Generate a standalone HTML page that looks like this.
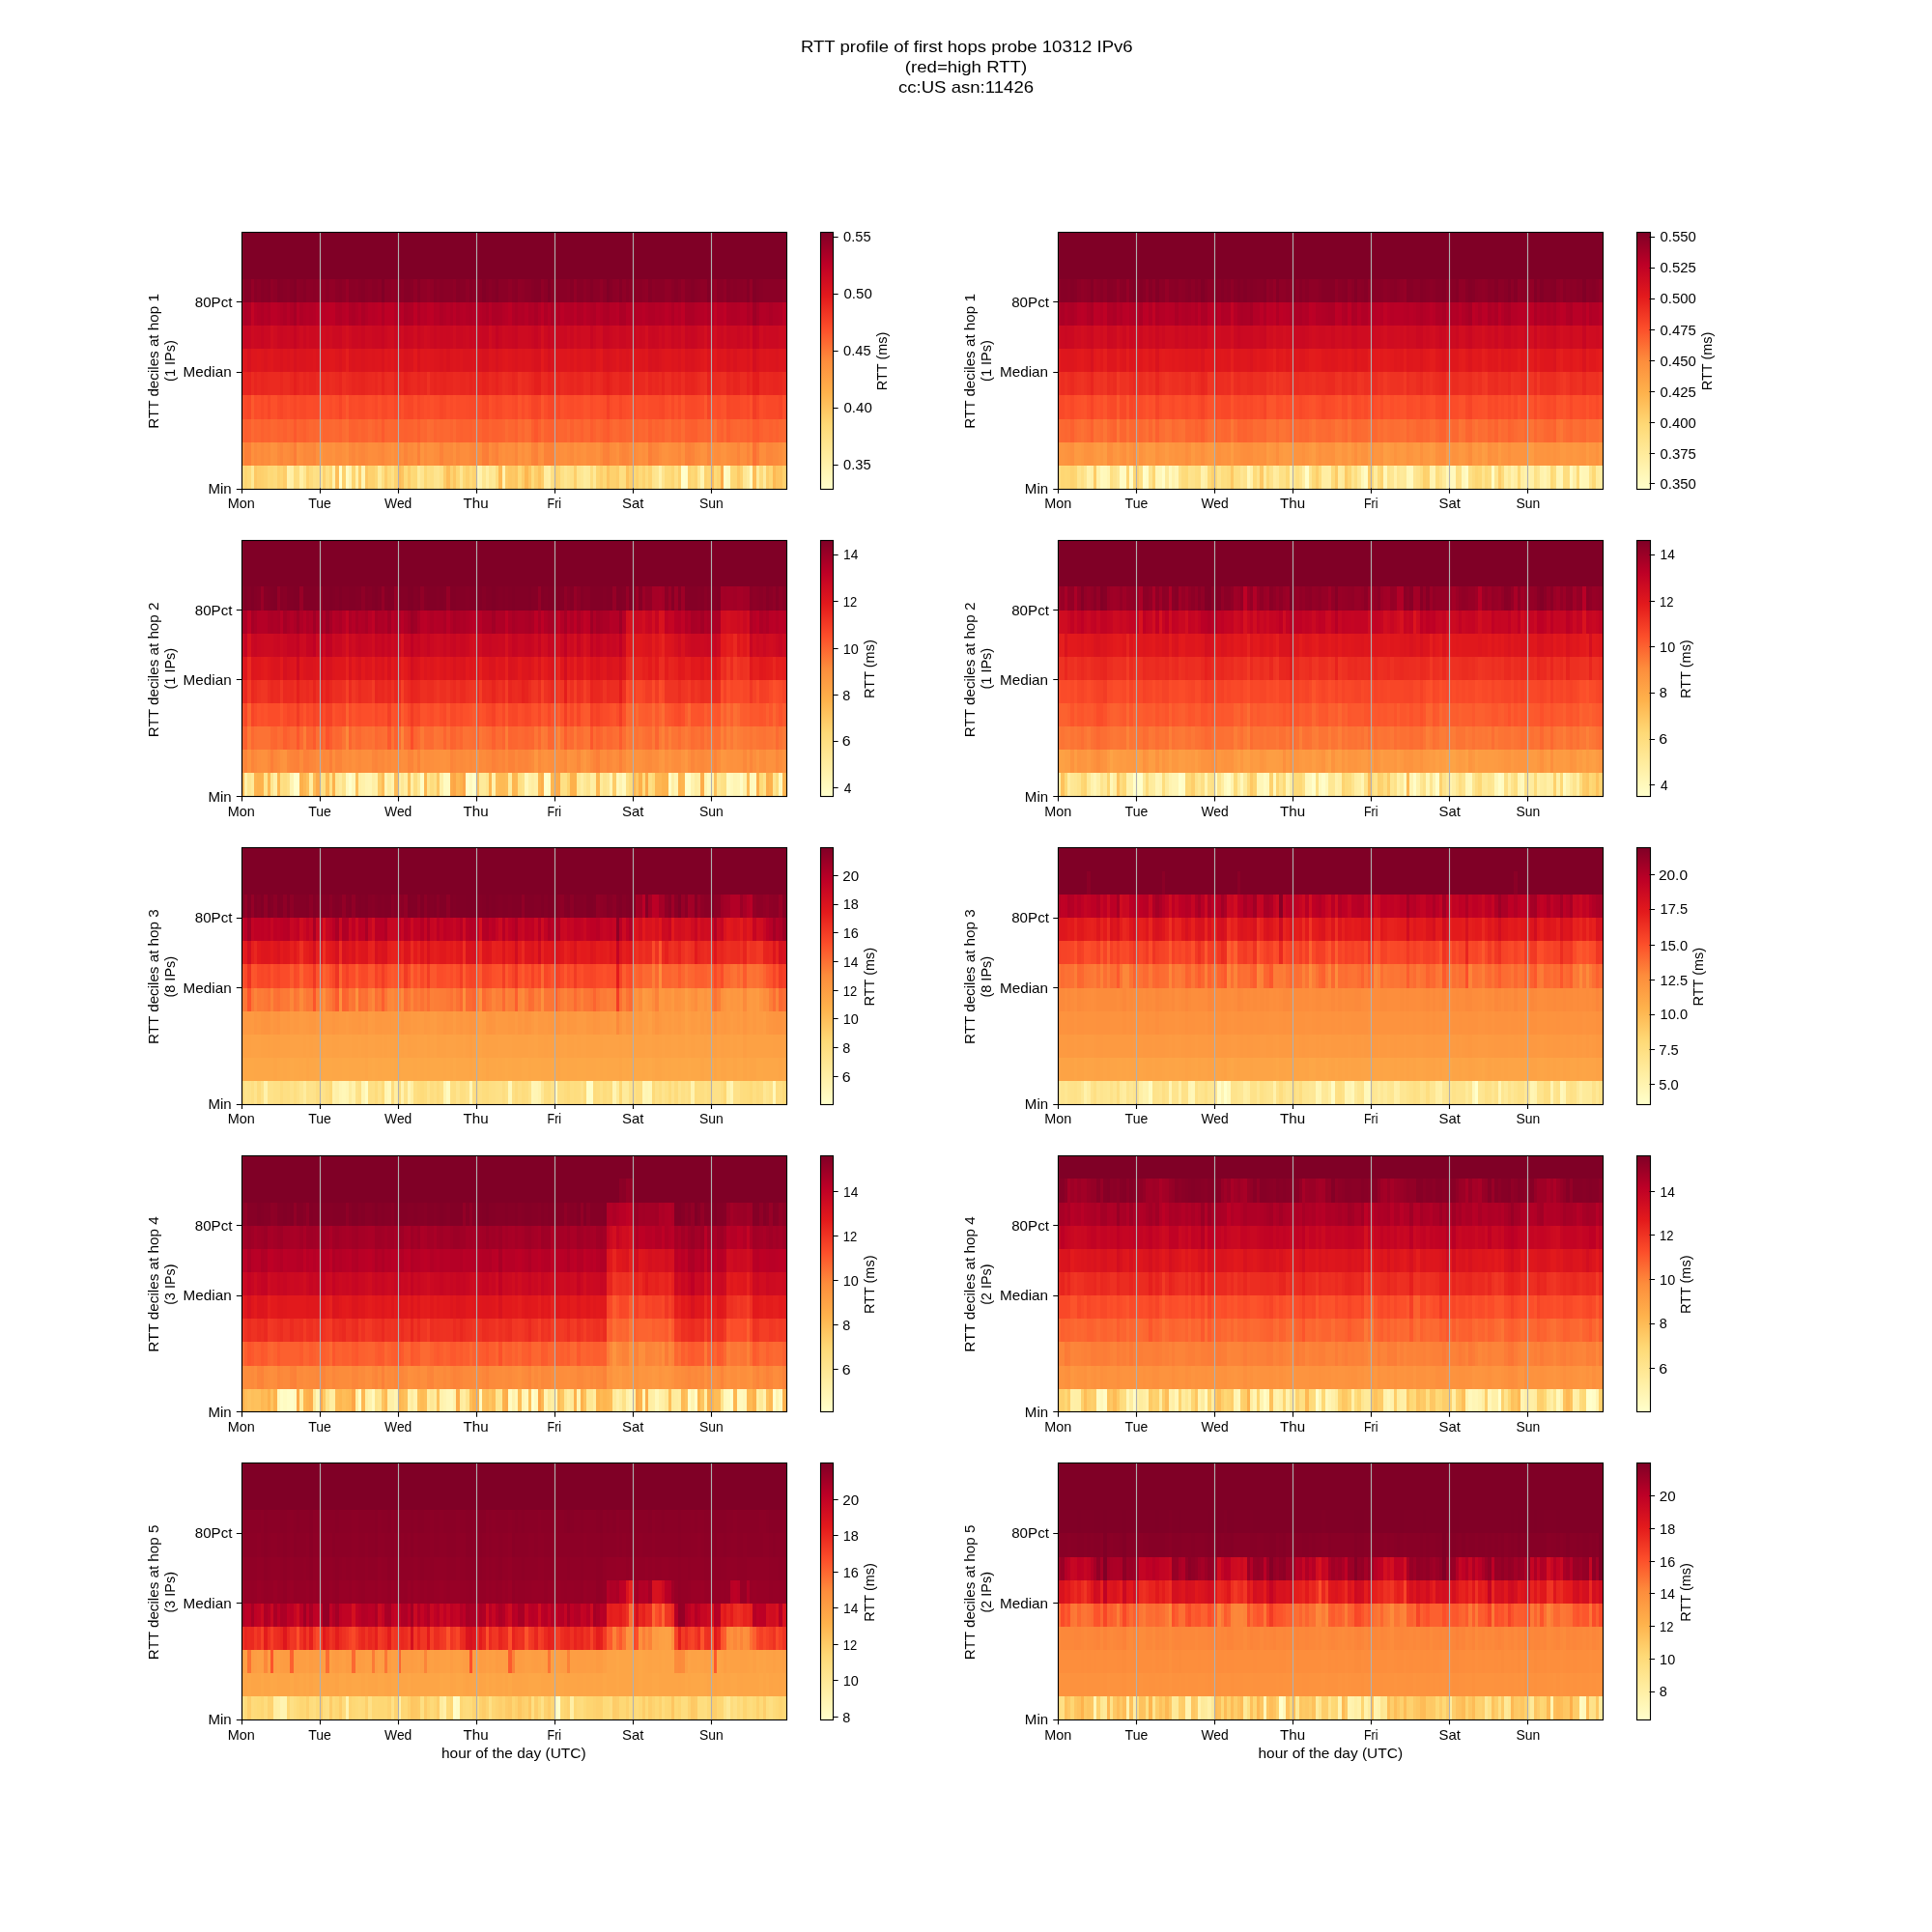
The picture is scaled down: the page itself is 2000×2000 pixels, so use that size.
<!DOCTYPE html><html><head><meta charset="utf-8"><title>RTT profile</title><style>html,body{margin:0;padding:0;background:#fff}svg{display:block}text{font-family:"Liberation Sans",sans-serif;fill:#000}.g{stroke:#b0b0b0;stroke-width:1.11;fill:none}.k{stroke:#000;stroke-width:1.11;fill:none}.c{shape-rendering:crispEdges}</style></head><body>
<svg width="2000" height="2000" viewBox="0 0 2000 2000">
<defs><linearGradient id="cm" x1="0" y1="1" x2="0" y2="0">
<stop offset="0%" stop-color="#ffffcc"/>
<stop offset="12.5%" stop-color="#ffeda0"/>
<stop offset="25%" stop-color="#fed976"/>
<stop offset="37.5%" stop-color="#feb24c"/>
<stop offset="50%" stop-color="#fd8d3c"/>
<stop offset="62.5%" stop-color="#fc4e2a"/>
<stop offset="75%" stop-color="#e31a1c"/>
<stop offset="87.5%" stop-color="#bd0026"/>
<stop offset="100%" stop-color="#800026"/>
</linearGradient></defs>
<rect width="2000" height="2000" fill="#fff"/>
<g class="c">
<path fill="#ffffcc" d="M351 482h3v25h-3zM705 482h4v25h-4z"/>
<path fill="#fffdc9" d="M709 482h3v25h-3z"/>
<path fill="#fffdc7" d="M749 482h3v25h-3z"/>
<path fill="#fffbc3" d="M358 482h3v25h-3z"/>
<path fill="#fffbc2" d="M776 482h3v25h-3z"/>
<path fill="#fff9bf" d="M752 482h4v25h-4z"/>
<path fill="#fff6b7" d="M493 482h3v25h-3z"/>
<path fill="#fff5b5" d="M374 482h4v25h-4z"/>
<path fill="#fff4b1" d="M725 482h4v25h-4z"/>
<path fill="#fff3b0" d="M361 482h3v25h-3zM520 482h3v25h-3z"/>
<path fill="#fff3af" d="M496 482h3v25h-3z"/>
<path fill="#fff2ad" d="M297 482h3v25h-3zM344 482h3v25h-3z"/>
<path fill="#fff2ac" d="M682 482h3v25h-3z"/>
<path fill="#fff0a8" d="M368 482h3v25h-3z"/>
<path fill="#ffefa6" d="M300 482h4v25h-4z"/>
<path fill="#ffefa5" d="M310 482h4v25h-4zM503 482h3v25h-3zM567 482h3v25h-3z"/>
<path fill="#ffeda1" d="M563 482h4v25h-4z"/>
<path fill="#feec9f" d="M773 482h3v25h-3z"/>
<path fill="#feec9e" d="M604 482h3v25h-3z"/>
<path fill="#feeb9d" d="M783 482h3v25h-3zM790 482h3v25h-3z"/>
<path fill="#feeb9b" d="M391 482h4v25h-4zM432 482h3v25h-3z"/>
<path fill="#feea9a" d="M607 482h4v25h-4z"/>
<path fill="#fee997" d="M260 482h3v25h-3zM509 482h4v25h-4zM614 482h3v25h-3z"/>
<path fill="#fee795" d="M769 482h4v25h-4z"/>
<path fill="#fee793" d="M331 482h3v25h-3zM601 482h3v25h-3z"/>
<path fill="#fee692" d="M476 482h3v25h-3zM506 482h3v25h-3z"/>
<path fill="#fee691" d="M314 482h3v25h-3zM499 482h4v25h-4zM584 482h3v25h-3zM678 482h4v25h-4zM722 482h3v25h-3z"/>
<path fill="#fee590" d="M435 482h4v25h-4zM452 482h3v25h-3z"/>
<path fill="#fee48e" d="M597 482h4v25h-4zM685 482h3v25h-3z"/>
<path fill="#fee48d" d="M449 482h3v25h-3zM675 482h3v25h-3z"/>
<path fill="#fee289" d="M587 482h3v25h-3z"/>
<path fill="#fee186" d="M324 482h3v25h-3zM405 482h3v25h-3zM455 482h4v25h-4zM580 482h4v25h-4z"/>
<path fill="#fee085" d="M337 482h4v25h-4zM590 482h4v25h-4zM698 482h4v25h-4z"/>
<path fill="#fedf84" d="M327 482h4v25h-4zM442 482h3v25h-3zM570 482h4v25h-4z"/>
<path fill="#fedf82" d="M641 482h3v25h-3z"/>
<path fill="#fede81" d="M395 482h3v25h-3zM445 482h4v25h-4zM644 482h4v25h-4z"/>
<path fill="#fedd80" d="M250 482h3v25h-3zM307 482h3v25h-3zM513 482h3v25h-3z"/>
<path fill="#fedd7e" d="M611 482h3v25h-3z"/>
<path fill="#fedc7d" d="M304 482h3v25h-3zM668 482h3v25h-3z"/>
<path fill="#fedb7c" d="M283 482h4v25h-4zM320 482h4v25h-4zM786 482h4v25h-4z"/>
<path fill="#fedb7a" d="M256 482h4v25h-4zM550 482h3v25h-3zM688 482h7v25h-7zM739 482h3v25h-3z"/>
<path fill="#feda79" d="M277 482h3v25h-3zM401 482h4v25h-4zM486 482h3v25h-3zM661 482h4v25h-4z"/>
<path fill="#feda78" d="M418 482h4v25h-4zM425 482h3v25h-3z"/>
<path fill="#fed976" d="M280 482h3v25h-3zM536 482h4v25h-4zM715 482h4v25h-4z"/>
<path fill="#fed875" d="M341 482h3v25h-3zM428 482h4v25h-4zM439 482h3v25h-3zM479 482h3v25h-3zM624 482h4v25h-4zM655 482h3v25h-3zM756 482h3v25h-3z"/>
<path fill="#fed774" d="M388 482h3v25h-3zM472 482h4v25h-4zM759 482h4v25h-4zM796 482h4v25h-4z"/>
<path fill="#fed673" d="M253 482h3v25h-3zM732 482h4v25h-4z"/>
<path fill="#fed571" d="M290 482h3v25h-3zM364 482h4v25h-4zM577 482h3v25h-3zM617 482h4v25h-4zM695 482h3v25h-3zM742 482h4v25h-4z"/>
<path fill="#fed370" d="M273 482h4v25h-4zM408 482h4v25h-4zM671 482h4v25h-4zM719 482h3v25h-3z"/>
<path fill="#fed26f" d="M317 482h3v25h-3zM334 482h3v25h-3zM466 482h3v25h-3zM489 482h4v25h-4zM665 482h3v25h-3zM702 482h3v25h-3zM712 482h3v25h-3zM729 482h3v25h-3zM766 482h3v25h-3z"/>
<path fill="#fed16d" d="M287 482h3v25h-3zM354 482h4v25h-4zM381 482h4v25h-4zM574 482h3v25h-3zM631 482h7v25h-7zM658 482h3v25h-3zM810 482h5v25h-5z"/>
<path fill="#fed06c" d="M270 482h3v25h-3zM385 482h3v25h-3zM482 482h4v25h-4z"/>
<path fill="#fece6b" d="M266 482h4v25h-4zM594 482h3v25h-3zM621 482h3v25h-3zM793 482h3v25h-3z"/>
<path fill="#fecd69" d="M553 482h4v25h-4zM560 482h3v25h-3zM651 482h4v25h-4z"/>
<path fill="#fecc68" d="M293 482h4v25h-4zM371 482h3v25h-3zM398 482h3v25h-3zM422 482h3v25h-3zM459 482h3v25h-3zM638 482h3v25h-3z"/>
<path fill="#fecb67" d="M523 482h3v25h-3zM540 482h3v25h-3z"/>
<path fill="#fec864" d="M263 482h3v25h-3zM530 482h3v25h-3zM763 482h3v25h-3z"/>
<path fill="#fec661" d="M378 482h3v25h-3zM526 482h4v25h-4z"/>
<path fill="#fec560" d="M469 482h3v25h-3zM547 482h3v25h-3zM806 482h4v25h-4z"/>
<path fill="#fec35f" d="M415 482h3v25h-3zM533 482h3v25h-3zM628 482h3v25h-3zM803 482h3v25h-3z"/>
<path fill="#fec15c" d="M557 482h3v25h-3z"/>
<path fill="#fec05b" d="M648 482h3v25h-3z"/>
<path fill="#febd58" d="M347 482h4v25h-4z"/>
<path fill="#febc57" d="M736 482h3v25h-3zM779 482h4v25h-4z"/>
<path fill="#febb56" d="M412 482h3v25h-3zM462 482h4v25h-4z"/>
<path fill="#feb853" d="M516 482h4v25h-4zM800 482h3v25h-3z"/>
<path fill="#feb54f" d="M543 482h4v25h-4z"/>
<path fill="#fda948" d="M746 482h3v25h-3z"/>
<path fill="#fd9941" d="M331 458h3v24h-3z"/>
<path fill="#fd953f" d="M358 458h3v24h-3zM435 458h4v24h-4z"/>
<path fill="#fd943f" d="M280 458h3v24h-3zM405 458h3v24h-3zM536 458h4v24h-4zM543 458h4v24h-4zM749 458h3v24h-3zM810 458h5v24h-5z"/>
<path fill="#fd933e" d="M344 458h3v24h-3zM604 458h3v24h-3zM638 458h3v24h-3zM688 458h4v24h-4zM725 458h4v24h-4zM746 458h3v24h-3z"/>
<path fill="#fd923e" d="M283 458h4v24h-4zM307 458h3v24h-3zM442 458h7v24h-7zM560 458h3v24h-3zM594 458h3v24h-3zM617 458h4v24h-4zM661 458h4v24h-4zM668 458h3v24h-3zM685 458h3v24h-3zM729 458h3v24h-3zM736 458h3v24h-3z"/>
<path fill="#fd913d" d="M260 458h3v24h-3zM327 458h4v24h-4zM334 458h3v24h-3zM354 458h4v24h-4zM469 458h3v24h-3zM520 458h3v24h-3zM547 458h3v24h-3zM584 458h3v24h-3zM601 458h3v24h-3zM705 458h4v24h-4z"/>
<path fill="#fd8f3d" d="M337 458h7v24h-7zM401 458h4v24h-4zM408 458h4v24h-4zM428 458h4v24h-4zM526 458h4v24h-4zM557 458h3v24h-3zM574 458h3v24h-3zM580 458h4v24h-4zM692 458h3v24h-3zM739 458h3v24h-3zM766 458h3v24h-3z"/>
<path fill="#fd8e3c" d="M266 458h4v24h-4zM273 458h4v24h-4zM310 458h4v24h-4zM381 458h4v24h-4zM415 458h3v24h-3zM449 458h3v24h-3zM482 458h4v24h-4zM530 458h3v24h-3zM540 458h3v24h-3zM614 458h3v24h-3zM658 458h3v24h-3zM665 458h3v24h-3zM752 458h4v24h-4zM769 458h4v24h-4zM776 458h3v24h-3zM786 458h7v24h-7zM806 458h4v24h-4z"/>
<path fill="#fd8d3c" d="M293 458h4v24h-4zM347 458h7v24h-7zM368 458h3v24h-3zM385 458h6v24h-6zM398 458h3v24h-3zM439 458h3v24h-3zM452 458h3v24h-3zM476 458h6v24h-6zM506 458h3v24h-3zM516 458h4v24h-4zM523 458h3v24h-3zM577 458h3v24h-3zM587 458h3v24h-3zM597 458h4v24h-4zM607 458h7v24h-7zM634 458h4v24h-4zM651 458h4v24h-4zM682 458h3v24h-3zM695 458h7v24h-7zM722 458h3v24h-3zM742 458h4v24h-4z"/>
<path fill="#fc8c3b" d="M250 458h3v24h-3zM277 458h3v24h-3zM297 458h3v24h-3zM422 458h3v24h-3zM459 458h7v24h-7zM493 458h6v24h-6zM621 458h3v24h-3zM631 458h3v24h-3zM719 458h3v24h-3zM756 458h7v24h-7z"/>
<path fill="#fc8a3b" d="M263 458h3v24h-3zM270 458h3v24h-3zM287 458h3v24h-3zM317 458h7v24h-7zM361 458h3v24h-3zM378 458h3v24h-3zM391 458h4v24h-4zM412 458h3v24h-3zM425 458h3v24h-3zM466 458h3v24h-3zM590 458h4v24h-4zM655 458h3v24h-3zM800 458h6v24h-6z"/>
<path fill="#fc883a" d="M300 458h4v24h-4zM314 458h3v24h-3zM371 458h3v24h-3zM472 458h4v24h-4zM486 458h3v24h-3zM641 458h3v24h-3zM702 458h3v24h-3z"/>
<path fill="#fc863a" d="M290 458h3v24h-3zM324 458h3v24h-3zM364 458h4v24h-4zM374 458h4v24h-4zM395 458h3v24h-3zM489 458h4v24h-4zM509 458h4v24h-4zM533 458h3v24h-3zM648 458h3v24h-3zM675 458h7v24h-7zM732 458h4v24h-4zM793 458h7v24h-7z"/>
<path fill="#fc8439" d="M418 458h4v24h-4zM550 458h3v24h-3zM644 458h4v24h-4zM715 458h4v24h-4zM763 458h3v24h-3zM773 458h3v24h-3z"/>
<path fill="#fc8238" d="M455 458h4v24h-4zM563 458h11v24h-11zM624 458h4v24h-4zM709 458h3v24h-3z"/>
<path fill="#fc8038" d="M253 458h7v24h-7zM432 458h3v24h-3zM513 458h3v24h-3zM553 458h4v24h-4zM628 458h3v24h-3zM712 458h3v24h-3z"/>
<path fill="#fc7e37" d="M499 458h4v24h-4zM671 458h4v24h-4z"/>
<path fill="#fc7c37" d="M304 458h3v24h-3zM503 458h3v24h-3zM783 458h3v24h-3z"/>
<path fill="#fc7234" d="M739 434h3v24h-3z"/>
<path fill="#fc7033" d="M779 458h4v24h-4zM358 434h3v24h-3z"/>
<path fill="#fc6e33" d="M331 434h3v24h-3zM442 434h3v24h-3zM543 434h4v24h-4z"/>
<path fill="#fc6c32" d="M354 434h4v24h-4zM445 434h4v24h-4zM523 434h3v24h-3zM536 434h4v24h-4zM547 434h3v24h-3zM560 434h3v24h-3zM692 434h3v24h-3zM705 434h4v24h-4zM736 434h3v24h-3z"/>
<path fill="#fc6a32" d="M260 434h3v24h-3zM344 434h3v24h-3zM381 434h4v24h-4zM469 434h3v24h-3zM587 434h3v24h-3zM634 434h4v24h-4zM668 434h3v24h-3zM688 434h4v24h-4zM749 434h3v24h-3z"/>
<path fill="#fc6831" d="M280 434h3v24h-3zM320 434h4v24h-4zM327 434h4v24h-4zM341 434h3v24h-3zM347 434h4v24h-4zM401 434h7v24h-7zM435 434h4v24h-4zM452 434h3v24h-3zM459 434h7v24h-7zM594 434h3v24h-3zM604 434h7v24h-7zM617 434h4v24h-4zM638 434h3v24h-3zM648 434h7v24h-7zM661 434h4v24h-4zM729 434h3v24h-3zM763 434h3v24h-3zM810 434h5v24h-5z"/>
<path fill="#fc6630" d="M266 434h4v24h-4zM283 434h4v24h-4zM297 434h3v24h-3zM324 434h3v24h-3zM334 434h7v24h-7zM371 434h3v24h-3zM385 434h3v24h-3zM391 434h4v24h-4zM398 434h3v24h-3zM408 434h4v24h-4zM428 434h4v24h-4zM439 434h3v24h-3zM455 434h4v24h-4zM526 434h7v24h-7zM540 434h3v24h-3zM577 434h7v24h-7zM597 434h4v24h-4zM655 434h3v24h-3zM665 434h3v24h-3zM675 434h3v24h-3zM682 434h3v24h-3zM698 434h4v24h-4zM722 434h7v24h-7zM759 434h4v24h-4zM769 434h4v24h-4zM776 434h3v24h-3zM806 434h4v24h-4z"/>
<path fill="#fc6430" d="M250 434h3v24h-3zM263 434h3v24h-3zM273 434h4v24h-4zM290 434h3v24h-3zM300 434h4v24h-4zM307 434h3v24h-3zM317 434h3v24h-3zM351 434h3v24h-3zM378 434h3v24h-3zM449 434h3v24h-3zM466 434h3v24h-3zM489 434h10v24h-10zM506 434h3v24h-3zM520 434h3v24h-3zM584 434h3v24h-3zM621 434h3v24h-3zM631 434h3v24h-3zM644 434h4v24h-4zM658 434h3v24h-3zM732 434h4v24h-4zM742 434h4v24h-4zM756 434h3v24h-3zM766 434h3v24h-3zM790 434h6v24h-6zM800 434h3v24h-3z"/>
<path fill="#fc622f" d="M277 434h3v24h-3zM287 434h3v24h-3zM310 434h4v24h-4zM361 434h3v24h-3zM368 434h3v24h-3zM374 434h4v24h-4zM412 434h6v24h-6zM422 434h6v24h-6zM472 434h4v24h-4zM479 434h7v24h-7zM516 434h4v24h-4zM563 434h4v24h-4zM574 434h3v24h-3zM614 434h3v24h-3zM641 434h3v24h-3zM678 434h4v24h-4zM685 434h3v24h-3zM695 434h3v24h-3zM702 434h3v24h-3z"/>
<path fill="#fc602f" d="M256 434h4v24h-4zM270 434h3v24h-3zM293 434h4v24h-4zM364 434h4v24h-4zM388 434h3v24h-3zM418 434h4v24h-4zM476 434h3v24h-3zM486 434h3v24h-3zM509 434h7v24h-7zM533 434h3v24h-3zM557 434h3v24h-3zM567 434h7v24h-7zM590 434h4v24h-4zM601 434h3v24h-3zM709 434h6v24h-6zM746 434h3v24h-3zM773 434h3v24h-3zM786 434h4v24h-4zM796 434h4v24h-4zM803 434h3v24h-3z"/>
<path fill="#fc5e2e" d="M253 434h3v24h-3zM314 434h3v24h-3zM432 434h3v24h-3zM499 434h7v24h-7zM550 434h3v24h-3zM624 434h4v24h-4zM671 434h4v24h-4zM715 434h7v24h-7z"/>
<path fill="#fc5c2e" d="M611 434h3v24h-3zM752 434h4v24h-4z"/>
<path fill="#fc5a2d" d="M395 434h3v24h-3zM628 434h3v24h-3zM779 434h4v24h-4zM260 409h3v25h-3z"/>
<path fill="#fc582d" d="M304 434h3v24h-3zM783 434h3v24h-3zM358 409h3v25h-3zM729 409h3v25h-3z"/>
<path fill="#fc562c" d="M553 434h4v24h-4zM560 409h3v25h-3z"/>
<path fill="#fc542b" d="M536 409h4v25h-4zM604 409h3v25h-3zM705 409h4v25h-4zM749 409h3v25h-3z"/>
<path fill="#fc522b" d="M543 409h4v25h-4zM580 409h4v25h-4zM607 409h4v25h-4zM692 409h3v25h-3zM698 409h4v25h-4zM746 409h3v25h-3zM776 409h3v25h-3z"/>
<path fill="#fc502a" d="M280 409h7v25h-7zM331 409h6v25h-6zM344 409h3v25h-3zM391 409h4v25h-4zM415 409h3v25h-3zM445 409h4v25h-4zM506 409h3v25h-3zM523 409h3v25h-3zM617 409h4v25h-4zM651 409h4v25h-4zM668 409h3v25h-3zM739 409h3v25h-3z"/>
<path fill="#fc4e2a" d="M266 409h4v25h-4zM273 409h4v25h-4zM297 409h3v25h-3zM337 409h4v25h-4zM354 409h4v25h-4zM381 409h4v25h-4zM401 409h7v25h-7zM428 409h4v25h-4zM439 409h3v25h-3zM462 409h4v25h-4zM469 409h3v25h-3zM520 409h3v25h-3zM526 409h4v25h-4zM574 409h3v25h-3zM584 409h3v25h-3zM594 409h3v25h-3zM601 409h3v25h-3zM614 409h3v25h-3zM621 409h3v25h-3zM634 409h7v25h-7zM648 409h3v25h-3zM658 409h7v25h-7zM688 409h4v25h-4zM736 409h3v25h-3zM786 409h4v25h-4zM810 409h5v25h-5z"/>
<path fill="#fb4c29" d="M250 409h3v25h-3zM263 409h3v25h-3zM307 409h3v25h-3zM317 409h7v25h-7zM347 409h4v25h-4zM368 409h3v25h-3zM378 409h3v25h-3zM385 409h3v25h-3zM442 409h3v25h-3zM449 409h6v25h-6zM476 409h6v25h-6zM493 409h3v25h-3zM547 409h3v25h-3zM563 409h4v25h-4zM587 409h3v25h-3zM597 409h4v25h-4zM624 409h4v25h-4zM644 409h4v25h-4zM665 409h3v25h-3zM725 409h4v25h-4zM742 409h4v25h-4zM769 409h4v25h-4z"/>
<path fill="#fa4b29" d="M293 409h4v25h-4zM300 409h4v25h-4zM324 409h7v25h-7zM341 409h3v25h-3zM364 409h4v25h-4zM435 409h4v25h-4zM466 409h3v25h-3zM472 409h4v25h-4zM482 409h4v25h-4zM496 409h3v25h-3zM509 409h4v25h-4zM530 409h3v25h-3zM540 409h3v25h-3zM590 409h4v25h-4zM611 409h3v25h-3zM631 409h3v25h-3zM671 409h11v25h-11zM722 409h3v25h-3zM766 409h3v25h-3zM790 409h3v25h-3z"/>
<path fill="#f94928" d="M253 409h3v25h-3zM270 409h3v25h-3zM310 409h4v25h-4zM361 409h3v25h-3zM371 409h3v25h-3zM395 409h6v25h-6zM408 409h7v25h-7zM459 409h3v25h-3zM486 409h7v25h-7zM516 409h4v25h-4zM695 409h3v25h-3zM702 409h3v25h-3zM709 409h6v25h-6zM719 409h3v25h-3zM756 409h3v25h-3zM803 409h3v25h-3z"/>
<path fill="#f94828" d="M287 409h3v25h-3zM314 409h3v25h-3zM374 409h4v25h-4zM388 409h3v25h-3zM418 409h4v25h-4zM533 409h3v25h-3zM577 409h3v25h-3zM655 409h3v25h-3zM682 409h3v25h-3zM715 409h4v25h-4zM759 409h7v25h-7zM773 409h3v25h-3zM793 409h10v25h-10z"/>
<path fill="#f84627" d="M256 409h4v25h-4zM277 409h3v25h-3zM290 409h3v25h-3zM304 409h3v25h-3zM422 409h6v25h-6zM432 409h3v25h-3zM455 409h4v25h-4zM499 409h4v25h-4zM513 409h3v25h-3zM557 409h3v25h-3zM567 409h7v25h-7zM641 409h3v25h-3zM685 409h3v25h-3zM752 409h4v25h-4z"/>
<path fill="#f74427" d="M351 409h3v25h-3zM503 409h3v25h-3zM550 409h3v25h-3zM732 409h4v25h-4zM783 409h3v25h-3zM806 409h4v25h-4z"/>
<path fill="#f64327" d="M553 409h4v25h-4z"/>
<path fill="#f53f26" d="M628 409h3v25h-3z"/>
<path fill="#f33c25" d="M779 409h4v25h-4z"/>
<path fill="#ee3222" d="M442 385h3v24h-3zM729 385h3v24h-3z"/>
<path fill="#ee3122" d="M536 385h4v24h-4z"/>
<path fill="#ed2f21" d="M354 385h4v24h-4zM520 385h3v24h-3zM668 385h3v24h-3zM725 385h4v24h-4zM746 385h6v24h-6z"/>
<path fill="#ec2d21" d="M331 385h3v24h-3zM341 385h3v24h-3zM391 385h4v24h-4zM401 385h7v24h-7zM523 385h3v24h-3zM543 385h4v24h-4zM604 385h3v24h-3zM688 385h7v24h-7zM705 385h4v24h-4z"/>
<path fill="#eb2c20" d="M260 385h3v24h-3zM293 385h7v24h-7zM334 385h3v24h-3zM344 385h3v24h-3zM358 385h3v24h-3zM398 385h3v24h-3zM540 385h3v24h-3zM560 385h3v24h-3zM574 385h3v24h-3zM580 385h4v24h-4zM607 385h4v24h-4zM617 385h4v24h-4zM682 385h3v24h-3zM722 385h3v24h-3zM739 385h7v24h-7zM766 385h7v24h-7zM810 385h5v24h-5z"/>
<path fill="#eb2a20" d="M280 385h10v24h-10zM310 385h4v24h-4zM385 385h3v24h-3zM428 385h4v24h-4zM469 385h3v24h-3zM506 385h3v24h-3zM526 385h4v24h-4zM638 385h3v24h-3z"/>
<path fill="#ea2920" d="M266 385h4v24h-4zM277 385h3v24h-3zM317 385h3v24h-3zM327 385h4v24h-4zM337 385h4v24h-4zM347 385h4v24h-4zM361 385h3v24h-3zM381 385h4v24h-4zM415 385h3v24h-3zM425 385h3v24h-3zM435 385h4v24h-4zM472 385h4v24h-4zM482 385h4v24h-4zM516 385h4v24h-4zM547 385h3v24h-3zM563 385h4v24h-4zM584 385h3v24h-3zM594 385h3v24h-3zM614 385h3v24h-3zM621 385h3v24h-3zM634 385h4v24h-4zM651 385h4v24h-4zM661 385h7v24h-7zM675 385h3v24h-3zM698 385h4v24h-4zM736 385h3v24h-3zM756 385h3v24h-3zM776 385h3v24h-3zM786 385h4v24h-4zM793 385h3v24h-3z"/>
<path fill="#e9271f" d="M273 385h4v24h-4zM290 385h3v24h-3zM300 385h4v24h-4zM368 385h3v24h-3zM378 385h3v24h-3zM388 385h3v24h-3zM439 385h3v24h-3zM445 385h4v24h-4zM452 385h3v24h-3zM462 385h7v24h-7zM476 385h6v24h-6zM489 385h4v24h-4zM496 385h3v24h-3zM509 385h4v24h-4zM533 385h3v24h-3zM587 385h3v24h-3zM601 385h3v24h-3zM655 385h6v24h-6zM678 385h4v24h-4zM719 385h3v24h-3zM790 385h3v24h-3zM796 385h4v24h-4zM806 385h4v24h-4z"/>
<path fill="#e8251f" d="M263 385h3v24h-3zM270 385h3v24h-3zM307 385h3v24h-3zM314 385h3v24h-3zM320 385h7v24h-7zM351 385h3v24h-3zM364 385h4v24h-4zM371 385h3v24h-3zM408 385h7v24h-7zM422 385h3v24h-3zM432 385h3v24h-3zM455 385h4v24h-4zM493 385h3v24h-3zM530 385h3v24h-3zM550 385h3v24h-3zM570 385h4v24h-4zM577 385h3v24h-3zM590 385h4v24h-4zM597 385h4v24h-4zM644 385h7v24h-7zM671 385h4v24h-4zM695 385h3v24h-3zM702 385h3v24h-3zM712 385h3v24h-3zM752 385h4v24h-4zM763 385h3v24h-3zM800 385h6v24h-6z"/>
<path fill="#e7241e" d="M250 385h6v24h-6zM374 385h4v24h-4zM395 385h3v24h-3zM449 385h3v24h-3zM459 385h3v24h-3zM486 385h3v24h-3zM503 385h3v24h-3zM611 385h3v24h-3zM631 385h3v24h-3zM641 385h3v24h-3zM685 385h3v24h-3zM709 385h3v24h-3zM715 385h4v24h-4zM759 385h4v24h-4z"/>
<path fill="#e7221e" d="M256 385h4v24h-4zM499 385h4v24h-4zM513 385h3v24h-3zM567 385h3v24h-3zM624 385h4v24h-4zM732 385h4v24h-4zM773 385h3v24h-3z"/>
<path fill="#e6201d" d="M418 385h4v24h-4z"/>
<path fill="#e51f1d" d="M304 385h3v24h-3zM553 385h7v24h-7zM358 361h3v24h-3z"/>
<path fill="#e41d1c" d="M628 385h3v24h-3zM779 385h4v24h-4z"/>
<path fill="#e31c1c" d="M783 385h3v24h-3z"/>
<path fill="#e31a1c" d="M560 361h3v24h-3zM729 361h3v24h-3z"/>
<path fill="#e2191c" d="M428 361h4v24h-4zM621 361h3v24h-3zM739 361h3v24h-3z"/>
<path fill="#e0181c" d="M280 361h3v24h-3zM341 361h6v24h-6zM398 361h3v24h-3zM405 361h3v24h-3zM523 361h3v24h-3zM594 361h3v24h-3zM638 361h3v24h-3zM725 361h4v24h-4zM776 361h3v24h-3z"/>
<path fill="#df171c" d="M266 361h4v24h-4zM354 361h4v24h-4zM435 361h4v24h-4zM442 361h3v24h-3zM520 361h3v24h-3zM587 361h3v24h-3zM604 361h3v24h-3zM617 361h4v24h-4zM655 361h3v24h-3zM668 361h3v24h-3zM688 361h7v24h-7zM705 361h4v24h-4zM749 361h3v24h-3z"/>
<path fill="#de161d" d="M250 361h6v24h-6zM260 361h3v24h-3zM277 361h3v24h-3zM324 361h3v24h-3zM331 361h3v24h-3zM337 361h4v24h-4zM391 361h4v24h-4zM401 361h4v24h-4zM439 361h3v24h-3zM445 361h4v24h-4zM526 361h4v24h-4zM574 361h3v24h-3zM580 361h4v24h-4zM601 361h3v24h-3zM607 361h4v24h-4zM658 361h3v24h-3zM736 361h3v24h-3zM766 361h7v24h-7zM793 361h3v24h-3z"/>
<path fill="#dd161d" d="M263 361h3v24h-3zM270 361h3v24h-3zM300 361h4v24h-4zM334 361h3v24h-3zM347 361h4v24h-4zM381 361h4v24h-4zM388 361h3v24h-3zM415 361h3v24h-3zM469 361h3v24h-3zM476 361h3v24h-3zM506 361h3v24h-3zM536 361h4v24h-4zM543 361h7v24h-7zM577 361h3v24h-3zM584 361h3v24h-3zM651 361h4v24h-4zM661 361h4v24h-4zM685 361h3v24h-3zM698 361h4v24h-4zM722 361h3v24h-3zM746 361h3v24h-3zM756 361h3v24h-3zM763 361h3v24h-3zM786 361h4v24h-4zM806 361h9v24h-9z"/>
<path fill="#dc151d" d="M283 361h7v24h-7zM293 361h4v24h-4zM307 361h3v24h-3zM317 361h7v24h-7zM327 361h4v24h-4zM361 361h3v24h-3zM368 361h6v24h-6zM378 361h3v24h-3zM385 361h3v24h-3zM408 361h7v24h-7zM449 361h6v24h-6zM459 361h3v24h-3zM466 361h3v24h-3zM472 361h4v24h-4zM489 361h7v24h-7zM509 361h4v24h-4zM516 361h4v24h-4zM530 361h3v24h-3zM540 361h3v24h-3zM563 361h4v24h-4zM590 361h4v24h-4zM597 361h4v24h-4zM634 361h4v24h-4zM644 361h4v24h-4zM665 361h3v24h-3zM695 361h3v24h-3zM719 361h3v24h-3zM732 361h4v24h-4zM742 361h4v24h-4zM790 361h3v24h-3zM796 361h7v24h-7z"/>
<path fill="#da141e" d="M273 361h4v24h-4zM297 361h3v24h-3zM310 361h7v24h-7zM351 361h3v24h-3zM364 361h4v24h-4zM374 361h4v24h-4zM422 361h6v24h-6zM479 361h10v24h-10zM496 361h3v24h-3zM533 361h3v24h-3zM550 361h3v24h-3zM570 361h4v24h-4zM614 361h3v24h-3zM631 361h3v24h-3zM641 361h3v24h-3zM648 361h3v24h-3zM682 361h3v24h-3zM702 361h3v24h-3zM712 361h3v24h-3zM773 361h3v24h-3zM803 361h3v24h-3z"/>
<path fill="#d9131e" d="M290 361h3v24h-3zM395 361h3v24h-3zM418 361h4v24h-4zM455 361h4v24h-4zM611 361h3v24h-3zM624 361h4v24h-4zM675 361h3v24h-3zM709 361h3v24h-3zM715 361h4v24h-4zM752 361h4v24h-4zM759 361h4v24h-4zM783 361h3v24h-3z"/>
<path fill="#d8121e" d="M432 361h3v24h-3zM462 361h4v24h-4zM553 361h7v24h-7zM678 361h4v24h-4z"/>
<path fill="#d7121f" d="M256 361h4v24h-4zM304 361h3v24h-3zM499 361h7v24h-7zM513 361h3v24h-3zM628 361h3v24h-3zM671 361h4v24h-4z"/>
<path fill="#d6111f" d="M567 361h3v24h-3z"/>
<path fill="#d4101f" d="M358 337h3v24h-3zM560 337h3v24h-3z"/>
<path fill="#d30f20" d="M779 361h4v24h-4zM280 337h3v24h-3zM668 337h3v24h-3zM729 337h3v24h-3z"/>
<path fill="#d20e20" d="M739 337h3v24h-3z"/>
<path fill="#d10d20" d="M331 337h3v24h-3zM354 337h4v24h-4zM439 337h3v24h-3zM594 337h3v24h-3zM776 337h3v24h-3z"/>
<path fill="#d00d20" d="M334 337h3v24h-3zM341 337h3v24h-3zM405 337h3v24h-3zM428 337h4v24h-4zM506 337h3v24h-3zM621 337h3v24h-3zM688 337h4v24h-4zM705 337h4v24h-4zM749 337h3v24h-3z"/>
<path fill="#cf0c21" d="M283 337h4v24h-4zM310 337h4v24h-4zM317 337h3v24h-3zM361 337h3v24h-3zM401 337h4v24h-4zM415 337h3v24h-3zM442 337h3v24h-3zM469 337h3v24h-3zM587 337h3v24h-3zM601 337h10v24h-10zM617 337h4v24h-4zM638 337h3v24h-3zM682 337h3v24h-3zM692 337h3v24h-3zM786 337h4v24h-4z"/>
<path fill="#cd0b21" d="M260 337h3v24h-3zM327 337h4v24h-4zM337 337h4v24h-4zM378 337h7v24h-7zM435 337h4v24h-4zM482 337h4v24h-4zM520 337h3v24h-3zM536 337h11v24h-11zM574 337h3v24h-3zM634 337h4v24h-4zM648 337h7v24h-7zM658 337h3v24h-3zM665 337h3v24h-3zM722 337h7v24h-7zM736 337h3v24h-3zM769 337h4v24h-4zM806 337h9v24h-9z"/>
<path fill="#cc0a21" d="M297 337h3v24h-3zM320 337h7v24h-7zM344 337h7v24h-7zM371 337h3v24h-3zM398 337h3v24h-3zM445 337h4v24h-4zM452 337h3v24h-3zM479 337h3v24h-3zM523 337h3v24h-3zM547 337h3v24h-3zM563 337h4v24h-4zM580 337h4v24h-4zM597 337h4v24h-4zM661 337h4v24h-4zM698 337h4v24h-4zM742 337h4v24h-4zM756 337h7v24h-7zM793 337h3v24h-3z"/>
<path fill="#cb0922" d="M263 337h3v24h-3zM273 337h7v24h-7zM293 337h4v24h-4zM300 337h4v24h-4zM307 337h3v24h-3zM351 337h3v24h-3zM364 337h7v24h-7zM385 337h3v24h-3zM391 337h4v24h-4zM408 337h7v24h-7zM422 337h6v24h-6zM459 337h3v24h-3zM466 337h3v24h-3zM493 337h3v24h-3zM526 337h4v24h-4zM577 337h3v24h-3zM584 337h3v24h-3zM590 337h4v24h-4zM614 337h3v24h-3zM631 337h3v24h-3zM685 337h3v24h-3zM732 337h4v24h-4zM746 337h3v24h-3zM766 337h3v24h-3zM796 337h7v24h-7z"/>
<path fill="#ca0922" d="M266 337h4v24h-4zM287 337h3v24h-3zM314 337h3v24h-3zM388 337h3v24h-3zM455 337h4v24h-4zM462 337h4v24h-4zM472 337h7v24h-7zM489 337h4v24h-4zM509 337h4v24h-4zM557 337h3v24h-3zM570 337h4v24h-4zM641 337h7v24h-7zM671 337h4v24h-4zM678 337h4v24h-4zM702 337h3v24h-3zM752 337h4v24h-4zM790 337h3v24h-3zM803 337h3v24h-3z"/>
<path fill="#c90822" d="M250 337h3v24h-3zM290 337h3v24h-3zM374 337h4v24h-4zM418 337h4v24h-4zM432 337h3v24h-3zM449 337h3v24h-3zM486 337h3v24h-3zM496 337h3v24h-3zM516 337h4v24h-4zM530 337h3v24h-3zM550 337h3v24h-3zM655 337h3v24h-3zM675 337h3v24h-3zM695 337h3v24h-3zM712 337h3v24h-3zM719 337h3v24h-3zM763 337h3v24h-3zM773 337h3v24h-3z"/>
<path fill="#c70723" d="M253 337h7v24h-7zM270 337h3v24h-3zM395 337h3v24h-3zM499 337h7v24h-7zM533 337h3v24h-3zM567 337h3v24h-3zM624 337h7v24h-7zM709 337h3v24h-3zM715 337h4v24h-4z"/>
<path fill="#c60623" d="M553 337h4v24h-4zM611 337h3v24h-3zM783 337h3v24h-3z"/>
<path fill="#c50523" d="M304 337h3v24h-3z"/>
<path fill="#c30424" d="M513 337h3v24h-3zM779 337h4v24h-4zM260 313h3v24h-3z"/>
<path fill="#c10324" d="M739 313h3v24h-3z"/>
<path fill="#bf0125" d="M749 313h3v24h-3z"/>
<path fill="#be0025" d="M341 313h6v24h-6zM405 313h3v24h-3zM445 313h4v24h-4zM705 313h4v24h-4z"/>
<path fill="#bd0025" d="M391 313h4v24h-4zM398 313h7v24h-7zM428 313h4v24h-4zM442 313h3v24h-3zM526 313h4v24h-4zM560 313h3v24h-3zM810 313h5v24h-5z"/>
<path fill="#bb0026" d="M280 313h7v24h-7zM327 313h7v24h-7zM337 313h4v24h-4zM358 313h3v24h-3zM493 313h3v24h-3zM580 313h4v24h-4zM594 313h3v24h-3zM604 313h3v24h-3zM688 313h4v24h-4z"/>
<path fill="#b90026" d="M307 313h3v24h-3zM334 313h3v24h-3zM381 313h4v24h-4zM388 313h3v24h-3zM435 313h4v24h-4zM469 313h3v24h-3zM574 313h3v24h-3zM617 313h4v24h-4zM638 313h3v24h-3zM665 313h3v24h-3zM698 313h4v24h-4zM729 313h3v24h-3zM742 313h7v24h-7z"/>
<path fill="#b70026" d="M263 313h3v24h-3zM287 313h3v24h-3zM297 313h3v24h-3zM354 313h4v24h-4zM371 313h3v24h-3zM385 313h3v24h-3zM415 313h3v24h-3zM439 313h3v24h-3zM452 313h3v24h-3zM462 313h4v24h-4zM479 313h3v24h-3zM506 313h3v24h-3zM523 313h3v24h-3zM543 313h4v24h-4zM567 313h3v24h-3zM648 313h7v24h-7zM692 313h3v24h-3zM736 313h3v24h-3zM766 313h7v24h-7z"/>
<path fill="#b50026" d="M273 313h4v24h-4zM317 313h3v24h-3zM324 313h3v24h-3zM408 313h4v24h-4zM449 313h3v24h-3zM476 313h3v24h-3zM496 313h3v24h-3zM520 313h3v24h-3zM584 313h6v24h-6zM607 313h4v24h-4zM621 313h3v24h-3zM631 313h7v24h-7zM658 313h7v24h-7zM668 313h3v24h-3zM678 313h4v24h-4zM685 313h3v24h-3zM702 313h3v24h-3zM722 313h7v24h-7z"/>
<path fill="#b30026" d="M266 313h4v24h-4zM290 313h3v24h-3zM314 313h3v24h-3zM320 313h4v24h-4zM347 313h4v24h-4zM378 313h3v24h-3zM412 313h3v24h-3zM459 313h3v24h-3zM482 313h4v24h-4zM489 313h4v24h-4zM536 313h4v24h-4zM557 313h3v24h-3zM590 313h4v24h-4zM601 313h3v24h-3zM682 313h3v24h-3zM719 313h3v24h-3zM752 313h4v24h-4zM763 313h3v24h-3zM776 313h3v24h-3zM786 313h7v24h-7zM806 313h4v24h-4z"/>
<path fill="#b10026" d="M250 313h3v24h-3zM277 313h3v24h-3zM351 313h3v24h-3zM368 313h3v24h-3zM395 313h3v24h-3zM466 313h3v24h-3zM472 313h4v24h-4zM499 313h4v24h-4zM530 313h3v24h-3zM540 313h3v24h-3zM550 313h3v24h-3zM577 313h3v24h-3zM597 313h4v24h-4zM611 313h3v24h-3zM671 313h7v24h-7zM732 313h4v24h-4zM756 313h7v24h-7zM793 313h3v24h-3zM800 313h6v24h-6z"/>
<path fill="#af0026" d="M256 313h4v24h-4zM270 313h3v24h-3zM293 313h4v24h-4zM300 313h4v24h-4zM310 313h4v24h-4zM361 313h3v24h-3zM422 313h6v24h-6zM432 313h3v24h-3zM455 313h4v24h-4zM486 313h3v24h-3zM516 313h4v24h-4zM547 313h3v24h-3zM563 313h4v24h-4zM614 313h3v24h-3zM624 313h4v24h-4zM655 313h3v24h-3zM695 313h3v24h-3z"/>
<path fill="#ad0026" d="M374 313h4v24h-4zM503 313h3v24h-3zM509 313h7v24h-7zM533 313h3v24h-3zM570 313h4v24h-4zM628 313h3v24h-3zM644 313h4v24h-4zM709 313h10v24h-10zM773 313h3v24h-3z"/>
<path fill="#ac0026" d="M253 313h3v24h-3zM364 313h4v24h-4zM418 313h4v24h-4zM641 313h3v24h-3zM796 313h4v24h-4z"/>
<path fill="#aa0026" d="M553 313h4v24h-4z"/>
<path fill="#a80026" d="M783 313h3v24h-3z"/>
<path fill="#a60026" d="M304 313h3v24h-3z"/>
<path fill="#9e0026" d="M779 313h4v24h-4z"/>
<path fill="#980026" d="M358 289h3v24h-3z"/>
<path fill="#950026" d="M260 289h3v24h-3zM442 289h3v24h-3zM739 289h3v24h-3zM776 289h3v24h-3z"/>
<path fill="#930026" d="M331 289h6v24h-6zM341 289h6v24h-6zM594 289h3v24h-3zM621 289h3v24h-3zM705 289h4v24h-4z"/>
<path fill="#910026" d="M280 289h3v24h-3zM405 289h3v24h-3zM428 289h4v24h-4zM435 289h7v24h-7zM445 289h4v24h-4zM526 289h4v24h-4zM536 289h4v24h-4zM560 289h3v24h-3zM668 289h3v24h-3zM688 289h7v24h-7zM749 289h3v24h-3z"/>
<path fill="#8f0026" d="M354 289h4v24h-4zM408 289h4v24h-4zM469 289h3v24h-3zM482 289h4v24h-4zM540 289h3v24h-3zM604 289h3v24h-3zM638 289h3v24h-3zM644 289h4v24h-4zM665 289h3v24h-3zM725 289h7v24h-7zM736 289h3v24h-3zM810 289h5v24h-5z"/>
<path fill="#8d0026" d="M250 289h3v24h-3zM266 289h4v24h-4zM283 289h4v24h-4zM307 289h3v24h-3zM317 289h7v24h-7zM327 289h4v24h-4zM337 289h4v24h-4zM347 289h4v24h-4zM368 289h3v24h-3zM381 289h4v24h-4zM391 289h4v24h-4zM398 289h7v24h-7zM415 289h3v24h-3zM452 289h3v24h-3zM574 289h3v24h-3zM587 289h3v24h-3zM634 289h4v24h-4zM651 289h4v24h-4zM658 289h3v24h-3zM675 289h3v24h-3zM769 289h4v24h-4z"/>
<path fill="#8b0026" d="M297 289h3v24h-3zM310 289h4v24h-4zM324 289h3v24h-3zM351 289h3v24h-3zM361 289h7v24h-7zM378 289h3v24h-3zM459 289h10v24h-10zM489 289h10v24h-10zM506 289h3v24h-3zM516 289h10v24h-10zM530 289h3v24h-3zM543 289h7v24h-7zM563 289h4v24h-4zM570 289h4v24h-4zM580 289h7v24h-7zM607 289h4v24h-4zM614 289h7v24h-7zM624 289h4v24h-4zM661 289h4v24h-4zM678 289h10v24h-10zM695 289h3v24h-3zM702 289h3v24h-3zM722 289h3v24h-3zM742 289h7v24h-7zM756 289h3v24h-3zM763 289h6v24h-6zM790 289h20v24h-20z"/>
<path fill="#890026" d="M263 289h3v24h-3zM273 289h4v24h-4zM293 289h4v24h-4zM371 289h3v24h-3zM385 289h6v24h-6zM412 289h3v24h-3zM425 289h3v24h-3zM449 289h3v24h-3zM455 289h4v24h-4zM476 289h6v24h-6zM533 289h3v24h-3zM577 289h3v24h-3zM597 289h7v24h-7zM648 289h3v24h-3zM655 289h3v24h-3zM709 289h6v24h-6zM719 289h3v24h-3zM759 289h4v24h-4zM786 289h4v24h-4z"/>
<path fill="#870026" d="M253 289h7v24h-7zM270 289h3v24h-3zM277 289h3v24h-3zM290 289h3v24h-3zM300 289h4v24h-4zM314 289h3v24h-3zM374 289h4v24h-4zM418 289h7v24h-7zM432 289h3v24h-3zM472 289h4v24h-4zM486 289h3v24h-3zM503 289h3v24h-3zM509 289h4v24h-4zM550 289h3v24h-3zM590 289h4v24h-4zM631 289h3v24h-3zM671 289h4v24h-4zM698 289h4v24h-4zM752 289h4v24h-4zM783 289h3v24h-3z"/>
<path fill="#850026" d="M287 289h3v24h-3zM553 289h7v24h-7zM611 289h3v24h-3zM641 289h3v24h-3zM715 289h4v24h-4zM773 289h3v24h-3z"/>
<path fill="#830026" d="M304 289h3v24h-3zM499 289h4v24h-4zM513 289h3v24h-3zM732 289h4v24h-4zM779 289h4v24h-4z"/>
<path fill="#810026" d="M395 289h3v24h-3zM567 289h3v24h-3zM628 289h3v24h-3z"/>
<path fill="#800026" d="M250 265h565v24h-565zM250 240h565v25h-565z"/>
</g>
<path class="g" d="M250.5 240.5V506.5M331.5 240.5V506.5M412.5 240.5V506.5M493.5 240.5V506.5M574.5 240.5V506.5M655.5 240.5V506.5M736.5 240.5V506.5"/>
<path class="k" d="M250.5 505.52v5.3M331.5 505.52v5.3M412.5 505.52v5.3M493.5 505.52v5.3M574.5 505.52v5.3M655.5 505.52v5.3M736.5 505.52v5.3M250 506.5h-5.2M250 385.5h-5.2M250 312.5h-5.2"/>
<rect class="k" x="250.5" y="240.5" width="564" height="266"/>
<rect x="849.5" y="240.5" width="13" height="266" fill="url(#cm)"/>
<rect class="k" x="849.5" y="240.5" width="13" height="266"/>
<path class="k" d="M862.14 481.5h5.5M862.14 422.5h5.5M862.14 363.5h5.5M862.14 304.5h5.5M862.14 245.5h5.5"/>
<g class="c">
<path fill="#ffffcc" d="M1183 482h3v25h-3z"/>
<path fill="#fffeca" d="M1351 482h4v25h-4z"/>
<path fill="#fffdc9" d="M1203 482h3v25h-3z"/>
<path fill="#fffdc7" d="M1169 482h4v25h-4z"/>
<path fill="#fffcc6" d="M1412 482h4v25h-4zM1517 482h3v25h-3z"/>
<path fill="#fffcc5" d="M1159 482h3v25h-3zM1186 482h3v25h-3zM1544 482h3v25h-3z"/>
<path fill="#fffbc2" d="M1162 482h4v25h-4z"/>
<path fill="#fff9bf" d="M1210 482h3v25h-3zM1503 482h4v25h-4z"/>
<path fill="#fff9be" d="M1139 482h3v25h-3zM1459 482h4v25h-4zM1500 482h3v25h-3zM1625 482h3v25h-3z"/>
<path fill="#fff8bb" d="M1142 482h4v25h-4zM1291 482h3v25h-3zM1456 482h3v25h-3zM1513 482h4v25h-4zM1635 482h3v25h-3z"/>
<path fill="#fff7ba" d="M1432 482h4v25h-4z"/>
<path fill="#fff7b8" d="M1200 482h3v25h-3zM1409 482h3v25h-3zM1497 482h3v25h-3z"/>
<path fill="#fff6b7" d="M1196 482h4v25h-4zM1216 482h4v25h-4zM1615 482h3v25h-3zM1638 482h7v25h-7z"/>
<path fill="#fff5b4" d="M1146 482h3v25h-3z"/>
<path fill="#fff4b3" d="M1483 482h3v25h-3zM1598 482h3v25h-3zM1611 482h4v25h-4z"/>
<path fill="#fff3af" d="M1480 482h3v25h-3z"/>
<path fill="#fff2ad" d="M1125 482h4v25h-4zM1243 482h4v25h-4zM1564 482h3v25h-3z"/>
<path fill="#fff2ac" d="M1213 482h3v25h-3zM1578 482h3v25h-3zM1594 482h4v25h-4z"/>
<path fill="#fff1aa" d="M1135 482h4v25h-4zM1294 482h3v25h-3zM1443 482h3v25h-3zM1581 482h3v25h-3z"/>
<path fill="#fff0a9" d="M1335 482h3v25h-3z"/>
<path fill="#fff0a8" d="M1584 482h4v25h-4z"/>
<path fill="#ffefa6" d="M1129 482h3v25h-3zM1375 482h3v25h-3zM1628 482h4v25h-4z"/>
<path fill="#ffefa5" d="M1247 482h3v25h-3zM1557 482h4v25h-4zM1601 482h4v25h-4z"/>
<path fill="#ffeea3" d="M1348 482h3v25h-3zM1368 482h7v25h-7zM1567 482h4v25h-4zM1574 482h4v25h-4z"/>
<path fill="#ffeda1" d="M1318 482h3v25h-3zM1655 482h5v25h-5z"/>
<path fill="#feec9f" d="M1385 482h4v25h-4zM1422 482h4v25h-4z"/>
<path fill="#feec9e" d="M1652 482h3v25h-3z"/>
<path fill="#feeb9d" d="M1206 482h4v25h-4zM1308 482h3v25h-3zM1321 482h3v25h-3z"/>
<path fill="#feeb9b" d="M1493 482h4v25h-4z"/>
<path fill="#feea9a" d="M1449 482h4v25h-4z"/>
<path fill="#fee999" d="M1389 482h3v25h-3zM1405 482h4v25h-4z"/>
<path fill="#fee997" d="M1561 482h3v25h-3z"/>
<path fill="#fee896" d="M1156 482h3v25h-3zM1453 482h3v25h-3z"/>
<path fill="#fee692" d="M1284 482h3v25h-3zM1439 482h4v25h-4zM1446 482h3v25h-3zM1463 482h3v25h-3z"/>
<path fill="#fee691" d="M1338 482h3v25h-3zM1355 482h3v25h-3z"/>
<path fill="#fee590" d="M1122 482h3v25h-3zM1399 482h3v25h-3zM1547 482h4v25h-4zM1591 482h3v25h-3z"/>
<path fill="#fee48e" d="M1115 482h4v25h-4zM1189 482h4v25h-4zM1260 482h4v25h-4z"/>
<path fill="#fee48d" d="M1345 482h3v25h-3zM1534 482h3v25h-3zM1645 482h3v25h-3z"/>
<path fill="#fee38c" d="M1152 482h4v25h-4zM1230 482h3v25h-3zM1301 482h3v25h-3zM1436 482h3v25h-3zM1466 482h4v25h-4zM1490 482h3v25h-3z"/>
<path fill="#fee28a" d="M1233 482h4v25h-4zM1287 482h4v25h-4zM1314 482h4v25h-4z"/>
<path fill="#fee289" d="M1220 482h3v25h-3zM1328 482h3v25h-3z"/>
<path fill="#fee188" d="M1510 482h3v25h-3z"/>
<path fill="#fee186" d="M1324 482h4v25h-4zM1520 482h4v25h-4zM1588 482h3v25h-3z"/>
<path fill="#fedf84" d="M1119 482h3v25h-3zM1179 482h4v25h-4zM1281 482h3v25h-3zM1507 482h3v25h-3z"/>
<path fill="#fedf82" d="M1237 482h3v25h-3zM1277 482h4v25h-4zM1341 482h4v25h-4zM1470 482h3v25h-3z"/>
<path fill="#fede81" d="M1149 482h3v25h-3zM1240 482h3v25h-3zM1267 482h3v25h-3zM1402 482h3v25h-3zM1540 482h4v25h-4z"/>
<path fill="#fedd80" d="M1621 482h4v25h-4z"/>
<path fill="#fedd7e" d="M1264 482h3v25h-3zM1365 482h3v25h-3zM1486 482h4v25h-4zM1608 482h3v25h-3zM1618 482h3v25h-3z"/>
<path fill="#fedc7d" d="M1095 482h3v25h-3z"/>
<path fill="#fedb7c" d="M1223 482h4v25h-4zM1270 482h4v25h-4zM1524 482h3v25h-3zM1554 482h3v25h-3z"/>
<path fill="#fedb7a" d="M1297 482h4v25h-4zM1378 482h4v25h-4zM1426 482h3v25h-3zM1537 482h3v25h-3z"/>
<path fill="#feda79" d="M1250 482h4v25h-4zM1632 482h3v25h-3z"/>
<path fill="#feda78" d="M1227 482h3v25h-3zM1311 482h3v25h-3zM1358 482h4v25h-4zM1419 482h3v25h-3z"/>
<path fill="#fed976" d="M1257 482h3v25h-3zM1331 482h4v25h-4zM1530 482h4v25h-4zM1571 482h3v25h-3zM1648 482h4v25h-4z"/>
<path fill="#fed875" d="M1102 482h3v25h-3zM1605 482h3v25h-3z"/>
<path fill="#fed774" d="M1105 482h3v25h-3zM1173 482h3v25h-3z"/>
<path fill="#fed673" d="M1098 482h4v25h-4zM1112 482h3v25h-3zM1166 482h3v25h-3zM1395 482h4v25h-4zM1527 482h3v25h-3z"/>
<path fill="#fed571" d="M1193 482h3v25h-3z"/>
<path fill="#fed370" d="M1429 482h3v25h-3z"/>
<path fill="#fed26f" d="M1108 482h4v25h-4zM1176 482h3v25h-3zM1476 482h4v25h-4z"/>
<path fill="#fed06c" d="M1254 482h3v25h-3zM1473 482h3v25h-3z"/>
<path fill="#fece6b" d="M1362 482h3v25h-3z"/>
<path fill="#fecd69" d="M1416 482h3v25h-3zM1551 482h3v25h-3z"/>
<path fill="#feca65" d="M1132 482h3v25h-3zM1382 482h3v25h-3zM1392 482h3v25h-3z"/>
<path fill="#fec864" d="M1304 482h4v25h-4z"/>
<path fill="#fec763" d="M1274 482h3v25h-3z"/>
<path fill="#fd9e43" d="M1176 458h3v24h-3zM1432 458h4v24h-4zM1534 458h3v24h-3z"/>
<path fill="#fd9d43" d="M1142 458h4v24h-4zM1274 458h3v24h-3zM1358 458h4v24h-4zM1480 458h3v24h-3zM1581 458h3v24h-3z"/>
<path fill="#fd9c42" d="M1186 458h3v24h-3zM1254 458h3v24h-3zM1311 458h3v24h-3zM1328 458h3v24h-3zM1395 458h4v24h-4zM1416 458h3v24h-3zM1436 458h3v24h-3zM1551 458h3v24h-3zM1584 458h4v24h-4z"/>
<path fill="#fd9b42" d="M1135 458h4v24h-4zM1193 458h3v24h-3zM1206 458h4v24h-4zM1331 458h4v24h-4zM1385 458h4v24h-4zM1537 458h3v24h-3zM1642 458h3v24h-3z"/>
<path fill="#fd9a41" d="M1112 458h7v24h-7zM1156 458h3v24h-3zM1166 458h3v24h-3zM1189 458h4v24h-4zM1233 458h4v24h-4zM1250 458h4v24h-4zM1382 458h3v24h-3zM1449 458h4v24h-4zM1466 458h4v24h-4zM1483 458h3v24h-3zM1497 458h3v24h-3zM1527 458h3v24h-3z"/>
<path fill="#fd9941" d="M1324 458h4v24h-4zM1335 458h3v24h-3zM1355 458h3v24h-3zM1439 458h4v24h-4zM1453 458h3v24h-3zM1463 458h3v24h-3zM1510 458h3v24h-3zM1615 458h6v24h-6zM1655 458h5v24h-5z"/>
<path fill="#fd9840" d="M1119 458h3v24h-3zM1132 458h3v24h-3zM1139 458h3v24h-3zM1314 458h4v24h-4zM1405 458h4v24h-4zM1446 458h3v24h-3zM1473 458h7v24h-7zM1513 458h4v24h-4zM1524 458h3v24h-3zM1628 458h4v24h-4z"/>
<path fill="#fd9640" d="M1098 458h4v24h-4zM1152 458h4v24h-4zM1183 458h3v24h-3zM1203 458h3v24h-3zM1213 458h3v24h-3zM1247 458h3v24h-3zM1318 458h3v24h-3zM1422 458h7v24h-7zM1500 458h3v24h-3zM1621 458h4v24h-4zM1632 458h3v24h-3zM1648 458h4v24h-4z"/>
<path fill="#fd953f" d="M1095 458h3v24h-3zM1200 458h3v24h-3zM1210 458h3v24h-3zM1220 458h3v24h-3zM1240 458h3v24h-3zM1267 458h3v24h-3zM1338 458h3v24h-3zM1351 458h4v24h-4zM1362 458h3v24h-3zM1389 458h6v24h-6zM1399 458h3v24h-3zM1459 458h4v24h-4zM1530 458h4v24h-4zM1554 458h3v24h-3zM1564 458h3v24h-3zM1574 458h4v24h-4zM1591 458h3v24h-3zM1598 458h3v24h-3zM1605 458h3v24h-3zM1625 458h3v24h-3zM1645 458h3v24h-3z"/>
<path fill="#fd943f" d="M1102 458h3v24h-3zM1223 458h4v24h-4zM1237 458h3v24h-3zM1264 458h3v24h-3zM1341 458h7v24h-7zM1368 458h4v24h-4zM1544 458h3v24h-3zM1557 458h4v24h-4zM1567 458h7v24h-7zM1578 458h3v24h-3zM1594 458h4v24h-4zM1611 458h4v24h-4zM1635 458h3v24h-3z"/>
<path fill="#fd933e" d="M1122 458h3v24h-3zM1129 458h3v24h-3zM1159 458h3v24h-3zM1216 458h4v24h-4zM1257 458h3v24h-3zM1270 458h4v24h-4zM1277 458h7v24h-7zM1297 458h4v24h-4zM1304 458h4v24h-4zM1409 458h3v24h-3zM1429 458h3v24h-3zM1443 458h3v24h-3zM1507 458h3v24h-3zM1517 458h3v24h-3zM1588 458h3v24h-3zM1601 458h4v24h-4zM1638 458h4v24h-4z"/>
<path fill="#fd923e" d="M1105 458h3v24h-3zM1125 458h4v24h-4zM1169 458h4v24h-4zM1179 458h4v24h-4zM1372 458h6v24h-6zM1412 458h4v24h-4zM1456 458h3v24h-3zM1503 458h4v24h-4zM1547 458h4v24h-4zM1608 458h3v24h-3z"/>
<path fill="#fd913d" d="M1196 458h4v24h-4zM1230 458h3v24h-3zM1260 458h4v24h-4zM1301 458h3v24h-3zM1308 458h3v24h-3zM1348 458h3v24h-3zM1378 458h4v24h-4zM1419 458h3v24h-3zM1470 458h3v24h-3zM1486 458h4v24h-4zM1652 458h3v24h-3z"/>
<path fill="#fd8f3d" d="M1108 458h4v24h-4zM1162 458h4v24h-4zM1243 458h4v24h-4zM1284 458h3v24h-3zM1365 458h3v24h-3zM1540 458h4v24h-4zM1561 458h3v24h-3z"/>
<path fill="#fd8e3c" d="M1146 458h6v24h-6zM1287 458h4v24h-4zM1294 458h3v24h-3zM1321 458h3v24h-3zM1402 458h3v24h-3zM1490 458h3v24h-3z"/>
<path fill="#fd8d3c" d="M1173 458h3v24h-3zM1227 458h3v24h-3zM1291 458h3v24h-3zM1493 458h4v24h-4z"/>
<path fill="#fc8c3b" d="M1520 458h4v24h-4z"/>
<path fill="#fc7836" d="M1156 434h3v24h-3zM1274 434h3v24h-3zM1615 434h3v24h-3z"/>
<path fill="#fc7635" d="M1142 434h4v24h-4zM1510 434h3v24h-3z"/>
<path fill="#fc7434" d="M1166 434h3v24h-3zM1206 434h4v24h-4zM1324 434h7v24h-7zM1358 434h4v24h-4zM1382 434h3v24h-3zM1395 434h4v24h-4zM1527 434h3v24h-3zM1584 434h4v24h-4zM1611 434h4v24h-4zM1655 434h5v24h-5z"/>
<path fill="#fc7234" d="M1119 434h3v24h-3zM1132 434h3v24h-3zM1186 434h3v24h-3zM1193 434h3v24h-3zM1210 434h3v24h-3zM1223 434h4v24h-4zM1254 434h3v24h-3zM1311 434h10v24h-10zM1385 434h4v24h-4zM1416 434h3v24h-3zM1432 434h4v24h-4zM1453 434h3v24h-3zM1513 434h4v24h-4zM1642 434h3v24h-3z"/>
<path fill="#fc7033" d="M1135 434h4v24h-4zM1220 434h3v24h-3zM1250 434h4v24h-4zM1331 434h4v24h-4zM1426 434h3v24h-3zM1449 434h4v24h-4zM1480 434h6v24h-6zM1497 434h3v24h-3zM1537 434h3v24h-3zM1551 434h3v24h-3zM1574 434h4v24h-4zM1581 434h3v24h-3zM1591 434h3v24h-3z"/>
<path fill="#fc6e33" d="M1115 434h4v24h-4zM1122 434h3v24h-3zM1176 434h3v24h-3zM1200 434h6v24h-6zM1355 434h3v24h-3zM1436 434h3v24h-3zM1443 434h6v24h-6zM1459 434h4v24h-4zM1500 434h3v24h-3zM1524 434h3v24h-3zM1534 434h3v24h-3zM1571 434h3v24h-3zM1594 434h4v24h-4zM1618 434h3v24h-3zM1628 434h7v24h-7zM1645 434h10v24h-10z"/>
<path fill="#fc6c32" d="M1139 434h3v24h-3zM1183 434h3v24h-3zM1216 434h4v24h-4zM1260 434h4v24h-4zM1277 434h4v24h-4zM1297 434h4v24h-4zM1341 434h4v24h-4zM1362 434h3v24h-3zM1368 434h4v24h-4zM1378 434h4v24h-4zM1389 434h3v24h-3zM1409 434h7v24h-7zM1429 434h3v24h-3zM1439 434h4v24h-4zM1463 434h3v24h-3zM1530 434h4v24h-4zM1557 434h4v24h-4z"/>
<path fill="#fc6a32" d="M1095 434h3v24h-3zM1112 434h3v24h-3zM1125 434h4v24h-4zM1146 434h3v24h-3zM1301 434h7v24h-7zM1321 434h3v24h-3zM1335 434h3v24h-3zM1348 434h3v24h-3zM1365 434h3v24h-3zM1372 434h3v24h-3zM1405 434h4v24h-4zM1473 434h3v24h-3zM1544 434h3v24h-3zM1554 434h3v24h-3zM1567 434h4v24h-4zM1578 434h3v24h-3zM1621 434h4v24h-4zM1635 434h3v24h-3z"/>
<path fill="#fc6831" d="M1098 434h4v24h-4zM1105 434h3v24h-3zM1169 434h7v24h-7zM1179 434h4v24h-4zM1213 434h3v24h-3zM1233 434h4v24h-4zM1247 434h3v24h-3zM1264 434h3v24h-3zM1270 434h4v24h-4zM1308 434h3v24h-3zM1338 434h3v24h-3zM1345 434h3v24h-3zM1351 434h4v24h-4zM1375 434h3v24h-3zM1392 434h3v24h-3zM1399 434h3v24h-3zM1419 434h7v24h-7zM1456 434h3v24h-3zM1476 434h4v24h-4zM1486 434h4v24h-4zM1503 434h7v24h-7zM1588 434h3v24h-3zM1598 434h3v24h-3zM1605 434h3v24h-3zM1638 434h4v24h-4z"/>
<path fill="#fc6630" d="M1102 434h3v24h-3zM1149 434h3v24h-3zM1159 434h7v24h-7zM1189 434h4v24h-4zM1227 434h6v24h-6zM1240 434h3v24h-3zM1267 434h3v24h-3zM1291 434h3v24h-3zM1402 434h3v24h-3zM1466 434h7v24h-7zM1517 434h3v24h-3zM1540 434h4v24h-4zM1564 434h3v24h-3zM1601 434h4v24h-4zM1625 434h3v24h-3z"/>
<path fill="#fc6430" d="M1284 434h3v24h-3zM1294 434h3v24h-3zM1520 434h4v24h-4z"/>
<path fill="#fc622f" d="M1152 434h4v24h-4zM1237 434h3v24h-3zM1257 434h3v24h-3zM1281 434h3v24h-3zM1287 434h4v24h-4zM1490 434h7v24h-7zM1547 434h4v24h-4zM1561 434h3v24h-3zM1608 434h3v24h-3z"/>
<path fill="#fc602f" d="M1108 434h4v24h-4zM1129 434h3v24h-3zM1196 434h4v24h-4z"/>
<path fill="#fc5e2e" d="M1243 434h4v24h-4z"/>
<path fill="#fc5a2d" d="M1156 409h3v25h-3z"/>
<path fill="#fc562c" d="M1142 409h4v25h-4zM1166 409h3v25h-3zM1314 409h7v25h-7zM1395 409h4v25h-4zM1618 409h3v25h-3z"/>
<path fill="#fc542b" d="M1122 409h3v25h-3zM1186 409h3v25h-3zM1254 409h3v25h-3zM1274 409h3v25h-3zM1311 409h3v25h-3zM1328 409h3v25h-3zM1358 409h4v25h-4zM1385 409h4v25h-4zM1432 409h7v25h-7zM1453 409h3v25h-3zM1537 409h3v25h-3zM1571 409h3v25h-3zM1584 409h4v25h-4zM1591 409h3v25h-3zM1611 409h4v25h-4zM1642 409h3v25h-3z"/>
<path fill="#fc522b" d="M1119 409h3v25h-3zM1135 409h4v25h-4zM1193 409h3v25h-3zM1250 409h4v25h-4zM1355 409h3v25h-3zM1416 409h3v25h-3zM1426 409h3v25h-3zM1443 409h3v25h-3zM1449 409h4v25h-4zM1480 409h6v25h-6zM1510 409h7v25h-7zM1534 409h3v25h-3zM1581 409h3v25h-3zM1615 409h3v25h-3z"/>
<path fill="#fc502a" d="M1115 409h4v25h-4zM1203 409h7v25h-7zM1220 409h3v25h-3zM1233 409h4v25h-4zM1335 409h3v25h-3zM1382 409h3v25h-3zM1409 409h3v25h-3zM1446 409h3v25h-3zM1466 409h4v25h-4zM1497 409h3v25h-3zM1530 409h4v25h-4zM1564 409h3v25h-3zM1621 409h4v25h-4zM1628 409h7v25h-7zM1655 409h5v25h-5z"/>
<path fill="#fc4e2a" d="M1102 409h3v25h-3zM1112 409h3v25h-3zM1132 409h3v25h-3zM1139 409h3v25h-3zM1176 409h3v25h-3zM1183 409h3v25h-3zM1189 409h4v25h-4zM1216 409h4v25h-4zM1237 409h3v25h-3zM1301 409h3v25h-3zM1324 409h4v25h-4zM1331 409h4v25h-4zM1351 409h4v25h-4zM1362 409h3v25h-3zM1422 409h4v25h-4zM1439 409h4v25h-4zM1463 409h3v25h-3zM1476 409h4v25h-4zM1524 409h6v25h-6zM1551 409h3v25h-3zM1557 409h4v25h-4zM1574 409h4v25h-4zM1594 409h4v25h-4zM1635 409h3v25h-3zM1648 409h4v25h-4z"/>
<path fill="#fb4c29" d="M1105 409h3v25h-3zM1125 409h4v25h-4zM1200 409h3v25h-3zM1210 409h3v25h-3zM1223 409h4v25h-4zM1230 409h3v25h-3zM1260 409h4v25h-4zM1297 409h4v25h-4zM1321 409h3v25h-3zM1338 409h7v25h-7zM1348 409h3v25h-3zM1365 409h3v25h-3zM1378 409h4v25h-4zM1405 409h4v25h-4zM1459 409h4v25h-4zM1503 409h7v25h-7zM1544 409h3v25h-3zM1578 409h3v25h-3zM1598 409h3v25h-3zM1605 409h3v25h-3zM1638 409h4v25h-4zM1645 409h3v25h-3z"/>
<path fill="#fa4b29" d="M1146 409h3v25h-3zM1179 409h4v25h-4zM1247 409h3v25h-3zM1277 409h4v25h-4zM1284 409h3v25h-3zM1291 409h3v25h-3zM1304 409h4v25h-4zM1372 409h6v25h-6zM1389 409h6v25h-6zM1399 409h3v25h-3zM1412 409h4v25h-4zM1429 409h3v25h-3zM1456 409h3v25h-3zM1473 409h3v25h-3zM1500 409h3v25h-3zM1554 409h3v25h-3z"/>
<path fill="#f94928" d="M1095 409h7v25h-7zM1149 409h7v25h-7zM1159 409h3v25h-3zM1213 409h3v25h-3zM1240 409h3v25h-3zM1264 409h3v25h-3zM1419 409h3v25h-3zM1470 409h3v25h-3zM1486 409h4v25h-4zM1540 409h4v25h-4zM1561 409h3v25h-3zM1567 409h4v25h-4zM1588 409h3v25h-3zM1601 409h4v25h-4zM1652 409h3v25h-3z"/>
<path fill="#f94828" d="M1108 409h4v25h-4zM1162 409h4v25h-4zM1173 409h3v25h-3zM1227 409h3v25h-3zM1257 409h3v25h-3zM1267 409h7v25h-7zM1281 409h3v25h-3zM1287 409h4v25h-4zM1294 409h3v25h-3zM1345 409h3v25h-3zM1402 409h3v25h-3zM1490 409h3v25h-3zM1517 409h3v25h-3zM1547 409h4v25h-4zM1608 409h3v25h-3zM1625 409h3v25h-3z"/>
<path fill="#f84627" d="M1169 409h4v25h-4zM1368 409h4v25h-4zM1493 409h4v25h-4z"/>
<path fill="#f74427" d="M1129 409h3v25h-3zM1308 409h3v25h-3zM1520 409h4v25h-4z"/>
<path fill="#f64327" d="M1196 409h4v25h-4zM1243 409h4v25h-4z"/>
<path fill="#f23b24" d="M1156 385h3v24h-3z"/>
<path fill="#f23924" d="M1274 385h3v24h-3zM1318 385h3v24h-3zM1432 385h4v24h-4zM1453 385h3v24h-3zM1537 385h3v24h-3zM1591 385h3v24h-3zM1618 385h3v24h-3z"/>
<path fill="#f13724" d="M1534 385h3v24h-3z"/>
<path fill="#f03623" d="M1142 385h4v24h-4zM1206 385h4v24h-4zM1250 385h7v24h-7zM1311 385h3v24h-3zM1324 385h4v24h-4zM1405 385h4v24h-4zM1581 385h7v24h-7zM1615 385h3v24h-3zM1655 385h5v24h-5z"/>
<path fill="#ef3423" d="M1119 385h3v24h-3zM1135 385h4v24h-4zM1166 385h3v24h-3zM1186 385h3v24h-3zM1233 385h4v24h-4zM1328 385h3v24h-3zM1385 385h4v24h-4zM1409 385h3v24h-3zM1426 385h3v24h-3zM1436 385h3v24h-3zM1480 385h3v24h-3zM1527 385h3v24h-3zM1564 385h3v24h-3zM1621 385h4v24h-4z"/>
<path fill="#ee3222" d="M1102 385h3v24h-3zM1115 385h4v24h-4zM1132 385h3v24h-3zM1139 385h3v24h-3zM1159 385h7v24h-7zM1176 385h3v24h-3zM1203 385h3v24h-3zM1220 385h3v24h-3zM1314 385h4v24h-4zM1331 385h4v24h-4zM1358 385h4v24h-4zM1382 385h3v24h-3zM1429 385h3v24h-3zM1439 385h7v24h-7zM1449 385h4v24h-4zM1459 385h7v24h-7zM1473 385h3v24h-3zM1497 385h3v24h-3zM1524 385h3v24h-3zM1611 385h4v24h-4zM1632 385h6v24h-6zM1642 385h3v24h-3z"/>
<path fill="#ee3122" d="M1095 385h3v24h-3zM1122 385h3v24h-3zM1193 385h3v24h-3zM1210 385h3v24h-3zM1321 385h3v24h-3zM1395 385h4v24h-4zM1416 385h3v24h-3zM1446 385h3v24h-3zM1510 385h7v24h-7zM1551 385h3v24h-3zM1567 385h7v24h-7zM1645 385h7v24h-7z"/>
<path fill="#ed2f21" d="M1112 385h3v24h-3zM1149 385h3v24h-3zM1183 385h3v24h-3zM1200 385h3v24h-3zM1213 385h7v24h-7zM1223 385h4v24h-4zM1237 385h3v24h-3zM1267 385h3v24h-3zM1284 385h7v24h-7zM1297 385h7v24h-7zM1345 385h6v24h-6zM1355 385h3v24h-3zM1365 385h7v24h-7zM1412 385h4v24h-4zM1476 385h4v24h-4zM1483 385h3v24h-3zM1500 385h3v24h-3zM1517 385h3v24h-3zM1530 385h4v24h-4zM1554 385h7v24h-7zM1598 385h3v24h-3zM1628 385h4v24h-4zM1652 385h3v24h-3z"/>
<path fill="#ec2d21" d="M1098 385h4v24h-4zM1105 385h3v24h-3zM1125 385h4v24h-4zM1169 385h4v24h-4zM1189 385h4v24h-4zM1260 385h7v24h-7zM1270 385h4v24h-4zM1277 385h4v24h-4zM1304 385h7v24h-7zM1335 385h3v24h-3zM1351 385h4v24h-4zM1362 385h3v24h-3zM1392 385h3v24h-3zM1402 385h3v24h-3zM1419 385h7v24h-7zM1456 385h3v24h-3zM1466 385h4v24h-4zM1540 385h7v24h-7zM1574 385h4v24h-4zM1588 385h3v24h-3zM1594 385h4v24h-4zM1601 385h7v24h-7z"/>
<path fill="#eb2c20" d="M1146 385h3v24h-3zM1152 385h4v24h-4zM1179 385h4v24h-4zM1230 385h3v24h-3zM1240 385h3v24h-3zM1291 385h3v24h-3zM1338 385h7v24h-7zM1372 385h3v24h-3zM1389 385h3v24h-3zM1399 385h3v24h-3zM1486 385h4v24h-4zM1503 385h7v24h-7zM1520 385h4v24h-4zM1578 385h3v24h-3zM1608 385h3v24h-3zM1625 385h3v24h-3z"/>
<path fill="#eb2a20" d="M1227 385h3v24h-3zM1281 385h3v24h-3zM1294 385h3v24h-3zM1375 385h7v24h-7zM1547 385h4v24h-4zM1561 385h3v24h-3z"/>
<path fill="#ea2920" d="M1108 385h4v24h-4zM1173 385h3v24h-3zM1247 385h3v24h-3zM1470 385h3v24h-3zM1490 385h3v24h-3zM1638 385h4v24h-4z"/>
<path fill="#e9271f" d="M1257 385h3v24h-3zM1493 385h4v24h-4z"/>
<path fill="#e8251f" d="M1129 385h3v24h-3zM1196 385h4v24h-4zM1243 385h4v24h-4z"/>
<path fill="#e6201d" d="M1318 361h3v24h-3z"/>
<path fill="#e51f1d" d="M1142 361h4v24h-4zM1274 361h3v24h-3zM1534 361h3v24h-3zM1615 361h3v24h-3z"/>
<path fill="#e41d1c" d="M1156 361h3v24h-3zM1166 361h3v24h-3zM1416 361h3v24h-3zM1453 361h3v24h-3zM1480 361h6v24h-6zM1513 361h4v24h-4zM1571 361h3v24h-3zM1581 361h3v24h-3zM1655 361h5v24h-5z"/>
<path fill="#e31c1c" d="M1135 361h4v24h-4zM1186 361h3v24h-3zM1203 361h3v24h-3zM1328 361h3v24h-3zM1355 361h7v24h-7zM1432 361h4v24h-4zM1510 361h3v24h-3zM1537 361h3v24h-3zM1551 361h3v24h-3zM1584 361h4v24h-4zM1591 361h3v24h-3zM1611 361h4v24h-4zM1632 361h3v24h-3zM1642 361h3v24h-3z"/>
<path fill="#e31a1c" d="M1119 361h3v24h-3zM1183 361h3v24h-3zM1193 361h3v24h-3zM1200 361h3v24h-3zM1206 361h4v24h-4zM1314 361h4v24h-4zM1335 361h3v24h-3zM1362 361h6v24h-6zM1395 361h4v24h-4zM1426 361h3v24h-3zM1436 361h3v24h-3zM1628 361h4v24h-4zM1652 361h3v24h-3z"/>
<path fill="#e2191c" d="M1095 361h3v24h-3zM1115 361h4v24h-4zM1132 361h3v24h-3zM1176 361h3v24h-3zM1210 361h3v24h-3zM1216 361h4v24h-4zM1247 361h10v24h-10zM1301 361h3v24h-3zM1311 361h3v24h-3zM1324 361h4v24h-4zM1385 361h4v24h-4zM1422 361h4v24h-4zM1429 361h3v24h-3zM1439 361h4v24h-4zM1476 361h4v24h-4zM1524 361h6v24h-6zM1578 361h3v24h-3zM1618 361h7v24h-7zM1635 361h3v24h-3z"/>
<path fill="#e0181c" d="M1122 361h3v24h-3zM1139 361h3v24h-3zM1213 361h3v24h-3zM1220 361h7v24h-7zM1240 361h3v24h-3zM1264 361h3v24h-3zM1351 361h4v24h-4zM1389 361h3v24h-3zM1405 361h4v24h-4zM1419 361h3v24h-3zM1446 361h3v24h-3zM1463 361h7v24h-7zM1473 361h3v24h-3zM1497 361h3v24h-3zM1517 361h3v24h-3zM1530 361h4v24h-4zM1544 361h3v24h-3zM1557 361h4v24h-4zM1564 361h7v24h-7zM1574 361h4v24h-4zM1645 361h7v24h-7z"/>
<path fill="#df171c" d="M1112 361h3v24h-3zM1125 361h4v24h-4zM1159 361h3v24h-3zM1179 361h4v24h-4zM1189 361h4v24h-4zM1230 361h7v24h-7zM1260 361h4v24h-4zM1267 361h3v24h-3zM1284 361h7v24h-7zM1297 361h4v24h-4zM1304 361h7v24h-7zM1321 361h3v24h-3zM1331 361h4v24h-4zM1341 361h4v24h-4zM1368 361h4v24h-4zM1375 361h3v24h-3zM1382 361h3v24h-3zM1392 361h3v24h-3zM1399 361h3v24h-3zM1409 361h7v24h-7zM1443 361h3v24h-3zM1449 361h4v24h-4zM1459 361h4v24h-4zM1486 361h4v24h-4zM1500 361h10v24h-10zM1540 361h4v24h-4zM1547 361h4v24h-4zM1594 361h4v24h-4zM1625 361h3v24h-3z"/>
<path fill="#de161d" d="M1098 361h7v24h-7zM1149 361h7v24h-7zM1173 361h3v24h-3zM1227 361h3v24h-3zM1237 361h3v24h-3zM1270 361h4v24h-4zM1277 361h4v24h-4zM1291 361h3v24h-3zM1372 361h3v24h-3zM1378 361h4v24h-4zM1456 361h3v24h-3zM1554 361h3v24h-3zM1561 361h3v24h-3zM1588 361h3v24h-3zM1598 361h10v24h-10z"/>
<path fill="#dd161d" d="M1105 361h7v24h-7zM1146 361h3v24h-3zM1162 361h4v24h-4zM1169 361h4v24h-4zM1281 361h3v24h-3zM1345 361h6v24h-6zM1490 361h3v24h-3z"/>
<path fill="#dc151d" d="M1338 361h3v24h-3zM1470 361h3v24h-3zM1520 361h4v24h-4z"/>
<path fill="#da141e" d="M1243 361h4v24h-4zM1257 361h3v24h-3zM1294 361h3v24h-3zM1402 361h3v24h-3zM1493 361h4v24h-4zM1608 361h3v24h-3zM1638 361h4v24h-4z"/>
<path fill="#d9131e" d="M1196 361h4v24h-4z"/>
<path fill="#d7121f" d="M1129 361h3v24h-3z"/>
<path fill="#d4101f" d="M1156 337h3v24h-3zM1318 337h3v24h-3zM1534 337h3v24h-3z"/>
<path fill="#d30f20" d="M1142 337h4v24h-4zM1166 337h3v24h-3zM1274 337h3v24h-3zM1328 337h3v24h-3zM1432 337h4v24h-4zM1584 337h4v24h-4zM1591 337h3v24h-3zM1615 337h3v24h-3z"/>
<path fill="#d20e20" d="M1119 337h3v24h-3zM1132 337h7v24h-7zM1186 337h3v24h-3zM1254 337h3v24h-3zM1311 337h3v24h-3zM1453 337h3v24h-3zM1483 337h3v24h-3z"/>
<path fill="#d10d20" d="M1176 337h3v24h-3zM1183 337h3v24h-3zM1193 337h3v24h-3zM1250 337h4v24h-4zM1331 337h7v24h-7zM1358 337h4v24h-4zM1446 337h3v24h-3zM1497 337h3v24h-3zM1510 337h7v24h-7zM1527 337h3v24h-3zM1551 337h3v24h-3zM1571 337h3v24h-3zM1581 337h3v24h-3zM1598 337h3v24h-3zM1618 337h3v24h-3zM1632 337h3v24h-3zM1642 337h3v24h-3z"/>
<path fill="#d00d20" d="M1112 337h3v24h-3zM1122 337h3v24h-3zM1159 337h3v24h-3zM1206 337h10v24h-10zM1314 337h4v24h-4zM1321 337h7v24h-7zM1382 337h7v24h-7zM1395 337h4v24h-4zM1416 337h3v24h-3zM1429 337h3v24h-3zM1443 337h3v24h-3zM1480 337h3v24h-3zM1530 337h4v24h-4zM1537 337h3v24h-3zM1544 337h3v24h-3zM1621 337h4v24h-4zM1628 337h4v24h-4zM1635 337h3v24h-3z"/>
<path fill="#cf0c21" d="M1115 337h4v24h-4zM1139 337h3v24h-3zM1200 337h3v24h-3zM1220 337h3v24h-3zM1240 337h3v24h-3zM1260 337h4v24h-4zM1355 337h3v24h-3zM1362 337h3v24h-3zM1372 337h6v24h-6zM1392 337h3v24h-3zM1405 337h11v24h-11zM1436 337h7v24h-7zM1449 337h4v24h-4zM1459 337h7v24h-7zM1473 337h3v24h-3zM1524 337h3v24h-3zM1554 337h3v24h-3zM1564 337h3v24h-3zM1574 337h4v24h-4zM1594 337h4v24h-4zM1611 337h4v24h-4zM1645 337h7v24h-7zM1655 337h5v24h-5z"/>
<path fill="#cd0b21" d="M1095 337h3v24h-3zM1125 337h4v24h-4zM1152 337h4v24h-4zM1189 337h4v24h-4zM1223 337h4v24h-4zM1230 337h7v24h-7zM1264 337h10v24h-10zM1297 337h7v24h-7zM1365 337h7v24h-7zM1389 337h3v24h-3zM1422 337h7v24h-7zM1456 337h3v24h-3zM1476 337h4v24h-4zM1486 337h4v24h-4zM1503 337h4v24h-4zM1540 337h4v24h-4zM1567 337h4v24h-4zM1601 337h4v24h-4zM1652 337h3v24h-3z"/>
<path fill="#cc0a21" d="M1149 337h3v24h-3zM1162 337h4v24h-4zM1173 337h3v24h-3zM1179 337h4v24h-4zM1203 337h3v24h-3zM1216 337h4v24h-4zM1237 337h3v24h-3zM1257 337h3v24h-3zM1351 337h4v24h-4zM1378 337h4v24h-4zM1500 337h3v24h-3zM1517 337h3v24h-3zM1605 337h3v24h-3zM1625 337h3v24h-3z"/>
<path fill="#cb0922" d="M1098 337h4v24h-4zM1105 337h7v24h-7zM1169 337h4v24h-4zM1243 337h4v24h-4zM1277 337h4v24h-4zM1287 337h7v24h-7zM1304 337h4v24h-4zM1341 337h7v24h-7zM1399 337h6v24h-6zM1419 337h3v24h-3zM1466 337h4v24h-4zM1547 337h4v24h-4zM1557 337h4v24h-4zM1578 337h3v24h-3zM1588 337h3v24h-3z"/>
<path fill="#ca0922" d="M1129 337h3v24h-3zM1146 337h3v24h-3zM1196 337h4v24h-4zM1227 337h3v24h-3zM1247 337h3v24h-3zM1284 337h3v24h-3zM1294 337h3v24h-3zM1338 337h3v24h-3zM1348 337h3v24h-3zM1470 337h3v24h-3zM1493 337h4v24h-4zM1507 337h3v24h-3zM1561 337h3v24h-3z"/>
<path fill="#c90822" d="M1102 337h3v24h-3zM1308 337h3v24h-3zM1490 337h3v24h-3zM1520 337h4v24h-4zM1608 337h3v24h-3z"/>
<path fill="#c70723" d="M1281 337h3v24h-3zM1638 337h4v24h-4z"/>
<path fill="#c30424" d="M1274 313h3v24h-3z"/>
<path fill="#c10324" d="M1193 313h3v24h-3z"/>
<path fill="#c00225" d="M1432 313h4v24h-4z"/>
<path fill="#bf0125" d="M1142 313h4v24h-4zM1318 313h3v24h-3z"/>
<path fill="#be0025" d="M1254 313h3v24h-3zM1311 313h3v24h-3zM1395 313h4v24h-4zM1581 313h3v24h-3zM1642 313h3v24h-3z"/>
<path fill="#bd0025" d="M1132 313h3v24h-3zM1186 313h3v24h-3zM1324 313h4v24h-4zM1355 313h3v24h-3zM1382 313h3v24h-3zM1524 313h3v24h-3zM1551 313h3v24h-3zM1584 313h4v24h-4zM1615 313h3v24h-3z"/>
<path fill="#bb0026" d="M1119 313h3v24h-3zM1135 313h4v24h-4zM1166 313h3v24h-3zM1183 313h3v24h-3zM1240 313h3v24h-3zM1304 313h4v24h-4zM1314 313h4v24h-4zM1328 313h3v24h-3zM1358 313h4v24h-4zM1385 313h4v24h-4zM1436 313h3v24h-3zM1480 313h3v24h-3zM1534 313h6v24h-6zM1618 313h3v24h-3z"/>
<path fill="#b90026" d="M1115 313h4v24h-4zM1122 313h3v24h-3zM1162 313h4v24h-4zM1176 313h3v24h-3zM1206 313h4v24h-4zM1250 313h4v24h-4zM1260 313h4v24h-4zM1331 313h4v24h-4zM1405 313h4v24h-4zM1416 313h3v24h-3zM1426 313h3v24h-3zM1443 313h10v24h-10zM1459 313h4v24h-4zM1497 313h3v24h-3zM1510 313h3v24h-3zM1527 313h3v24h-3zM1571 313h7v24h-7zM1628 313h10v24h-10zM1655 313h5v24h-5z"/>
<path fill="#b70026" d="M1139 313h3v24h-3zM1156 313h3v24h-3zM1210 313h6v24h-6zM1422 313h4v24h-4zM1429 313h3v24h-3zM1439 313h4v24h-4zM1453 313h3v24h-3zM1463 313h3v24h-3zM1483 313h3v24h-3zM1578 313h3v24h-3zM1591 313h3v24h-3zM1611 313h4v24h-4z"/>
<path fill="#b50026" d="M1200 313h6v24h-6zM1220 313h3v24h-3zM1233 313h4v24h-4zM1277 313h4v24h-4zM1419 313h3v24h-3zM1456 313h3v24h-3zM1476 313h4v24h-4zM1564 313h7v24h-7zM1598 313h3v24h-3z"/>
<path fill="#b30026" d="M1102 313h3v24h-3zM1169 313h4v24h-4zM1189 313h4v24h-4zM1297 313h7v24h-7zM1335 313h3v24h-3zM1348 313h3v24h-3zM1362 313h6v24h-6zM1466 313h4v24h-4zM1473 313h3v24h-3zM1503 313h4v24h-4zM1544 313h3v24h-3zM1554 313h3v24h-3zM1605 313h3v24h-3zM1648 313h7v24h-7z"/>
<path fill="#b10026" d="M1095 313h3v24h-3zM1112 313h3v24h-3zM1125 313h4v24h-4zM1149 313h3v24h-3zM1159 313h3v24h-3zM1173 313h3v24h-3zM1223 313h4v24h-4zM1230 313h3v24h-3zM1267 313h7v24h-7zM1308 313h3v24h-3zM1321 313h3v24h-3zM1351 313h4v24h-4zM1368 313h4v24h-4zM1389 313h3v24h-3zM1409 313h7v24h-7zM1507 313h3v24h-3zM1513 313h4v24h-4zM1530 313h4v24h-4zM1594 313h4v24h-4zM1621 313h4v24h-4zM1638 313h4v24h-4z"/>
<path fill="#af0026" d="M1105 313h3v24h-3zM1146 313h3v24h-3zM1196 313h4v24h-4zM1227 313h3v24h-3zM1237 313h3v24h-3zM1264 313h3v24h-3zM1341 313h4v24h-4zM1372 313h3v24h-3zM1392 313h3v24h-3zM1470 313h3v24h-3zM1486 313h7v24h-7zM1500 313h3v24h-3zM1601 313h4v24h-4zM1645 313h3v24h-3z"/>
<path fill="#ad0026" d="M1152 313h4v24h-4zM1243 313h7v24h-7zM1281 313h3v24h-3zM1291 313h3v24h-3zM1338 313h3v24h-3zM1345 313h3v24h-3zM1375 313h3v24h-3zM1402 313h3v24h-3zM1540 313h4v24h-4zM1557 313h4v24h-4zM1588 313h3v24h-3zM1608 313h3v24h-3z"/>
<path fill="#ac0026" d="M1098 313h4v24h-4zM1108 313h4v24h-4zM1179 313h4v24h-4zM1216 313h4v24h-4zM1287 313h4v24h-4zM1378 313h4v24h-4zM1399 313h3v24h-3zM1517 313h3v24h-3zM1547 313h4v24h-4zM1625 313h3v24h-3z"/>
<path fill="#aa0026" d="M1129 313h3v24h-3zM1257 313h3v24h-3zM1284 313h3v24h-3zM1493 313h4v24h-4zM1561 313h3v24h-3z"/>
<path fill="#a60026" d="M1294 313h3v24h-3zM1520 313h4v24h-4z"/>
<path fill="#950026" d="M1156 289h3v24h-3zM1166 289h3v24h-3zM1206 289h4v24h-4zM1318 289h3v24h-3zM1453 289h3v24h-3z"/>
<path fill="#930026" d="M1584 289h4v24h-4zM1615 289h3v24h-3z"/>
<path fill="#910026" d="M1119 289h3v24h-3zM1132 289h3v24h-3zM1186 289h3v24h-3zM1311 289h3v24h-3zM1382 289h3v24h-3zM1395 289h4v24h-4zM1416 289h3v24h-3zM1449 289h4v24h-4zM1510 289h7v24h-7zM1534 289h3v24h-3zM1571 289h3v24h-3zM1655 289h5v24h-5z"/>
<path fill="#8f0026" d="M1122 289h3v24h-3zM1142 289h4v24h-4zM1193 289h3v24h-3zM1220 289h3v24h-3zM1274 289h3v24h-3zM1324 289h7v24h-7zM1335 289h3v24h-3zM1355 289h10v24h-10zM1432 289h4v24h-4zM1497 289h3v24h-3zM1530 289h4v24h-4zM1537 289h3v24h-3zM1581 289h3v24h-3zM1611 289h4v24h-4z"/>
<path fill="#8d0026" d="M1115 289h4v24h-4zM1125 289h4v24h-4zM1135 289h4v24h-4zM1200 289h3v24h-3zM1223 289h4v24h-4zM1233 289h4v24h-4zM1250 289h7v24h-7zM1314 289h4v24h-4zM1341 289h4v24h-4zM1348 289h3v24h-3zM1405 289h4v24h-4zM1436 289h3v24h-3zM1446 289h3v24h-3zM1480 289h3v24h-3zM1527 289h3v24h-3zM1551 289h6v24h-6zM1564 289h3v24h-3zM1574 289h4v24h-4zM1591 289h3v24h-3zM1621 289h4v24h-4zM1628 289h4v24h-4z"/>
<path fill="#8b0026" d="M1095 289h3v24h-3zM1152 289h4v24h-4zM1159 289h3v24h-3zM1176 289h3v24h-3zM1203 289h3v24h-3zM1210 289h6v24h-6zM1240 289h3v24h-3zM1331 289h4v24h-4zM1365 289h3v24h-3zM1385 289h4v24h-4zM1399 289h3v24h-3zM1409 289h3v24h-3zM1429 289h3v24h-3zM1439 289h4v24h-4zM1463 289h7v24h-7zM1483 289h3v24h-3zM1544 289h3v24h-3zM1578 289h3v24h-3zM1625 289h3v24h-3zM1635 289h3v24h-3zM1642 289h3v24h-3zM1652 289h3v24h-3z"/>
<path fill="#890026" d="M1105 289h3v24h-3zM1139 289h3v24h-3zM1149 289h3v24h-3zM1162 289h4v24h-4zM1183 289h3v24h-3zM1216 289h4v24h-4zM1227 289h3v24h-3zM1260 289h4v24h-4zM1267 289h3v24h-3zM1301 289h7v24h-7zM1351 289h4v24h-4zM1389 289h3v24h-3zM1422 289h7v24h-7zM1443 289h3v24h-3zM1476 289h4v24h-4zM1500 289h7v24h-7zM1517 289h3v24h-3zM1540 289h4v24h-4zM1557 289h4v24h-4zM1598 289h7v24h-7zM1618 289h3v24h-3zM1632 289h3v24h-3zM1645 289h3v24h-3z"/>
<path fill="#870026" d="M1098 289h7v24h-7zM1112 289h3v24h-3zM1146 289h3v24h-3zM1169 289h4v24h-4zM1189 289h4v24h-4zM1230 289h3v24h-3zM1237 289h3v24h-3zM1247 289h3v24h-3zM1270 289h4v24h-4zM1277 289h4v24h-4zM1284 289h3v24h-3zM1291 289h3v24h-3zM1297 289h4v24h-4zM1345 289h3v24h-3zM1368 289h14v24h-14zM1392 289h3v24h-3zM1412 289h4v24h-4zM1419 289h3v24h-3zM1456 289h7v24h-7zM1473 289h3v24h-3zM1486 289h7v24h-7zM1524 289h3v24h-3zM1605 289h3v24h-3zM1648 289h4v24h-4z"/>
<path fill="#850026" d="M1108 289h4v24h-4zM1129 289h3v24h-3zM1179 289h4v24h-4zM1264 289h3v24h-3zM1294 289h3v24h-3zM1308 289h3v24h-3zM1321 289h3v24h-3zM1470 289h3v24h-3zM1493 289h4v24h-4zM1507 289h3v24h-3zM1520 289h4v24h-4zM1547 289h4v24h-4zM1567 289h4v24h-4zM1608 289h3v24h-3z"/>
<path fill="#830026" d="M1173 289h3v24h-3zM1196 289h4v24h-4zM1257 289h3v24h-3zM1281 289h3v24h-3zM1287 289h4v24h-4zM1402 289h3v24h-3zM1561 289h3v24h-3zM1588 289h3v24h-3zM1594 289h4v24h-4z"/>
<path fill="#810026" d="M1243 289h4v24h-4zM1338 289h3v24h-3zM1638 289h4v24h-4z"/>
<path fill="#800026" d="M1095 265h565v24h-565zM1095 240h565v25h-565z"/>
</g>
<path class="g" d="M1095.5 240.5V506.5M1176.5 240.5V506.5M1257.5 240.5V506.5M1338.5 240.5V506.5M1419.5 240.5V506.5M1500.5 240.5V506.5M1581.5 240.5V506.5"/>
<path class="k" d="M1095.5 505.52v5.3M1176.5 505.52v5.3M1257.5 505.52v5.3M1338.5 505.52v5.3M1419.5 505.52v5.3M1500.5 505.52v5.3M1581.5 505.52v5.3M1095.45 506.5h-5.2M1095.45 385.5h-5.2M1095.45 312.5h-5.2"/>
<rect class="k" x="1095.5" y="240.5" width="564" height="266"/>
<rect x="1694.5" y="240.5" width="14" height="266" fill="url(#cm)"/>
<rect class="k" x="1694.5" y="240.5" width="14" height="266"/>
<path class="k" d="M1707.59 500.5h5.5M1707.59 469.5h5.5M1707.59 437.5h5.5M1707.59 405.5h5.5M1707.59 373.5h5.5M1707.59 341.5h5.5M1707.59 309.5h5.5M1707.59 277.5h5.5M1707.59 245.5h5.5"/>
<g class="c">
<path fill="#ffffcc" d="M304 800h6v25h-6zM361 800h3v25h-3zM489 800h4v25h-4zM563 800h4v25h-4zM709 800h3v25h-3z"/>
<path fill="#fffeca" d="M712 800h3v25h-3z"/>
<path fill="#fffdc9" d="M482 800h4v25h-4z"/>
<path fill="#fffdc7" d="M435 800h4v25h-4z"/>
<path fill="#fffcc6" d="M766 800h3v25h-3z"/>
<path fill="#fffcc5" d="M567 800h3v25h-3zM692 800h3v25h-3z"/>
<path fill="#fffbc3" d="M462 800h4v25h-4zM752 800h4v25h-4z"/>
<path fill="#fffbc2" d="M459 800h3v25h-3zM779 800h4v25h-4z"/>
<path fill="#fffac0" d="M644 800h4v25h-4zM732 800h4v25h-4zM806 800h4v25h-4z"/>
<path fill="#fff9be" d="M358 800h3v25h-3zM486 800h3v25h-3zM776 800h3v25h-3z"/>
<path fill="#fff8bc" d="M364 800h4v25h-4zM638 800h3v25h-3zM756 800h3v25h-3z"/>
<path fill="#fff8bb" d="M543 800h4v25h-4z"/>
<path fill="#fff6b7" d="M763 800h3v25h-3z"/>
<path fill="#fff5b5" d="M398 800h3v25h-3z"/>
<path fill="#fff5b4" d="M381 800h4v25h-4zM631 800h3v25h-3zM698 800h4v25h-4zM759 800h4v25h-4z"/>
<path fill="#fff4b3" d="M300 800h4v25h-4zM378 800h3v25h-3z"/>
<path fill="#fff4b1" d="M405 800h3v25h-3zM729 800h3v25h-3z"/>
<path fill="#fff3b0" d="M736 800h3v25h-3z"/>
<path fill="#fff3af" d="M641 800h3v25h-3zM715 800h4v25h-4z"/>
<path fill="#fff2ad" d="M509 800h4v25h-4zM769 800h4v25h-4z"/>
<path fill="#fff1aa" d="M253 800h3v25h-3zM374 800h4v25h-4zM388 800h3v25h-3z"/>
<path fill="#fff0a9" d="M283 800h4v25h-4zM455 800h4v25h-4z"/>
<path fill="#fff0a8" d="M547 800h3v25h-3zM553 800h4v25h-4z"/>
<path fill="#ffefa6" d="M425 800h3v25h-3zM722 800h3v25h-3z"/>
<path fill="#ffefa5" d="M371 800h3v25h-3zM385 800h3v25h-3zM412 800h3v25h-3zM611 800h3v25h-3zM695 800h3v25h-3z"/>
<path fill="#ffeea3" d="M418 800h4v25h-4zM601 800h3v25h-3z"/>
<path fill="#ffeea2" d="M401 800h4v25h-4zM614 800h3v25h-3z"/>
<path fill="#ffeda1" d="M320 800h4v25h-4zM550 800h3v25h-3zM719 800h3v25h-3z"/>
<path fill="#feeb9d" d="M351 800h3v25h-3zM526 800h4v25h-4z"/>
<path fill="#feeb9b" d="M621 800h3v25h-3z"/>
<path fill="#feea9a" d="M260 800h3v25h-3zM496 800h7v25h-7z"/>
<path fill="#fee997" d="M432 800h3v25h-3zM597 800h4v25h-4z"/>
<path fill="#fee896" d="M604 800h3v25h-3z"/>
<path fill="#fee795" d="M347 800h4v25h-4zM415 800h3v25h-3zM628 800h3v25h-3z"/>
<path fill="#fee691" d="M280 800h3v25h-3zM742 800h4v25h-4z"/>
<path fill="#fee590" d="M256 800h4v25h-4zM442 800h3v25h-3zM503 800h3v25h-3zM800 800h3v25h-3z"/>
<path fill="#fee48e" d="M624 800h4v25h-4z"/>
<path fill="#fee48d" d="M273 800h4v25h-4z"/>
<path fill="#fee38c" d="M607 800h4v25h-4z"/>
<path fill="#fee28a" d="M331 800h3v25h-3zM354 800h4v25h-4z"/>
<path fill="#fee289" d="M540 800h3v25h-3zM790 800h3v25h-3z"/>
<path fill="#fee188" d="M297 800h3v25h-3z"/>
<path fill="#fee186" d="M341 800h3v25h-3zM449 800h3v25h-3zM584 800h3v25h-3zM746 800h3v25h-3z"/>
<path fill="#fee085" d="M290 800h3v25h-3zM580 800h4v25h-4zM648 800h3v25h-3z"/>
<path fill="#fedf84" d="M671 800h4v25h-4z"/>
<path fill="#fedf82" d="M334 800h3v25h-3zM536 800h4v25h-4zM749 800h3v25h-3z"/>
<path fill="#fede81" d="M428 800h4v25h-4z"/>
<path fill="#fedd80" d="M293 800h4v25h-4z"/>
<path fill="#fedd7e" d="M803 800h3v25h-3z"/>
<path fill="#fedc7d" d="M445 800h4v25h-4z"/>
<path fill="#fedb7c" d="M665 800h3v25h-3z"/>
<path fill="#fedb7a" d="M651 800h4v25h-4z"/>
<path fill="#feda79" d="M675 800h3v25h-3z"/>
<path fill="#feda78" d="M786 800h4v25h-4z"/>
<path fill="#fed571" d="M587 800h3v25h-3z"/>
<path fill="#fecc68" d="M391 800h4v25h-4z"/>
<path fill="#fecb67" d="M634 800h4v25h-4z"/>
<path fill="#fec864" d="M658 800h3v25h-3z"/>
<path fill="#fec763" d="M452 800h3v25h-3z"/>
<path fill="#fec35f" d="M493 800h3v25h-3z"/>
<path fill="#fec15c" d="M317 800h3v25h-3zM422 800h3v25h-3z"/>
<path fill="#fec05b" d="M739 800h3v25h-3z"/>
<path fill="#febf5a" d="M368 800h3v25h-3z"/>
<path fill="#febd58" d="M513 800h3v25h-3zM523 800h3v25h-3z"/>
<path fill="#febc57" d="M324 800h3v25h-3zM773 800h3v25h-3z"/>
<path fill="#febb56" d="M395 800h3v25h-3zM408 800h4v25h-4z"/>
<path fill="#feba54" d="M250 800h3v25h-3zM337 800h4v25h-4zM516 800h7v25h-7z"/>
<path fill="#feb752" d="M277 800h3v25h-3zM314 800h3v25h-3zM472 800h4v25h-4zM533 800h3v25h-3zM655 800h3v25h-3zM678 800h7v25h-7z"/>
<path fill="#feb650" d="M287 800h3v25h-3zM439 800h3v25h-3zM557 800h3v25h-3zM617 800h4v25h-4z"/>
<path fill="#feb54f" d="M506 800h3v25h-3zM530 800h3v25h-3zM570 800h4v25h-4zM705 800h4v25h-4zM810 800h5v25h-5z"/>
<path fill="#feb34e" d="M263 800h3v25h-3z"/>
<path fill="#feb24c" d="M270 800h3v25h-3zM702 800h3v25h-3z"/>
<path fill="#fdb14b" d="M266 800h4v25h-4zM476 800h3v25h-3zM594 800h3v25h-3zM685 800h7v25h-7zM796 800h4v25h-4z"/>
<path fill="#fdb04b" d="M344 800h3v25h-3zM590 800h4v25h-4z"/>
<path fill="#fdaf4a" d="M310 800h4v25h-4zM661 800h4v25h-4z"/>
<path fill="#fdae4a" d="M560 800h3v25h-3zM783 800h3v25h-3z"/>
<path fill="#fdac49" d="M725 800h4v25h-4z"/>
<path fill="#fdab49" d="M574 800h3v25h-3zM668 800h3v25h-3zM793 800h3v25h-3z"/>
<path fill="#fdaa48" d="M466 800h3v25h-3z"/>
<path fill="#fda948" d="M327 800h4v25h-4z"/>
<path fill="#fda847" d="M577 800h3v25h-3z"/>
<path fill="#fda546" d="M469 800h3v25h-3z"/>
<path fill="#fda446" d="M479 800h3v25h-3z"/>
<path fill="#fd9941" d="M604 776h3v24h-3zM685 776h3v24h-3zM709 776h3v24h-3z"/>
<path fill="#fd9840" d="M553 776h4v24h-4zM746 776h3v24h-3z"/>
<path fill="#fd9640" d="M682 776h3v24h-3zM749 776h3v24h-3zM783 776h3v24h-3z"/>
<path fill="#fd953f" d="M293 776h4v24h-4zM587 776h3v24h-3zM648 776h3v24h-3zM692 776h3v24h-3z"/>
<path fill="#fd943f" d="M601 776h3v24h-3zM705 776h4v24h-4z"/>
<path fill="#fd933e" d="M290 776h3v24h-3zM459 776h3v24h-3zM563 776h4v24h-4zM651 776h4v24h-4zM658 776h3v24h-3zM810 776h5v24h-5z"/>
<path fill="#fd923e" d="M435 776h4v24h-4zM455 776h4v24h-4zM590 776h4v24h-4zM607 776h4v24h-4zM661 776h4v24h-4zM752 776h4v24h-4zM759 776h4v24h-4zM773 776h3v24h-3zM793 776h10v24h-10z"/>
<path fill="#fd913d" d="M256 776h4v24h-4zM270 776h7v24h-7zM364 776h4v24h-4zM449 776h6v24h-6zM462 776h4v24h-4zM493 776h3v24h-3zM560 776h3v24h-3zM574 776h3v24h-3zM594 776h3v24h-3zM655 776h3v24h-3zM756 776h3v24h-3zM763 776h6v24h-6z"/>
<path fill="#fd8f3d" d="M266 776h4v24h-4zM358 776h3v24h-3zM381 776h4v24h-4zM405 776h3v24h-3zM415 776h3v24h-3zM428 776h4v24h-4zM445 776h4v24h-4zM567 776h7v24h-7zM577 776h3v24h-3zM634 776h4v24h-4zM665 776h3v24h-3zM675 776h3v24h-3zM688 776h4v24h-4zM695 776h3v24h-3zM712 776h3v24h-3zM779 776h4v24h-4z"/>
<path fill="#fd8e3c" d="M344 776h3v24h-3zM374 776h7v24h-7zM398 776h3v24h-3zM408 776h4v24h-4zM418 776h4v24h-4zM439 776h6v24h-6zM482 776h4v24h-4zM580 776h4v24h-4zM678 776h4v24h-4zM806 776h4v24h-4z"/>
<path fill="#fd8d3c" d="M327 776h7v24h-7zM354 776h4v24h-4zM368 776h3v24h-3zM489 776h4v24h-4zM624 776h4v24h-4zM698 776h7v24h-7zM719 776h3v24h-3zM732 776h4v24h-4zM742 776h4v24h-4zM786 776h4v24h-4z"/>
<path fill="#fc8c3b" d="M287 776h3v24h-3zM310 776h4v24h-4zM361 776h3v24h-3zM412 776h3v24h-3zM472 776h4v24h-4zM479 776h3v24h-3zM499 776h4v24h-4zM523 776h3v24h-3zM550 776h3v24h-3zM621 776h3v24h-3zM638 776h3v24h-3zM644 776h4v24h-4zM668 776h3v24h-3zM729 776h3v24h-3zM736 776h3v24h-3zM790 776h3v24h-3z"/>
<path fill="#fc8a3b" d="M263 776h3v24h-3zM277 776h3v24h-3zM337 776h4v24h-4zM371 776h3v24h-3zM391 776h4v24h-4zM401 776h4v24h-4zM476 776h3v24h-3zM486 776h3v24h-3zM496 776h3v24h-3zM533 776h3v24h-3zM557 776h3v24h-3zM611 776h3v24h-3zM631 776h3v24h-3zM671 776h4v24h-4zM722 776h3v24h-3zM358 752h3v24h-3z"/>
<path fill="#fc883a" d="M250 776h3v24h-3zM283 776h4v24h-4zM297 776h3v24h-3zM324 776h3v24h-3zM334 776h3v24h-3zM395 776h3v24h-3zM469 776h3v24h-3zM503 776h6v24h-6zM516 776h4v24h-4zM547 776h3v24h-3zM584 776h3v24h-3zM597 776h4v24h-4zM725 776h4v24h-4zM769 776h4v24h-4zM803 776h3v24h-3z"/>
<path fill="#fc863a" d="M320 776h4v24h-4zM385 776h3v24h-3zM540 776h3v24h-3zM628 776h3v24h-3zM715 776h4v24h-4zM776 776h3v24h-3zM415 752h3v24h-3zM577 752h3v24h-3z"/>
<path fill="#fc8439" d="M253 776h3v24h-3zM260 776h3v24h-3zM300 776h4v24h-4zM347 776h7v24h-7zM388 776h3v24h-3zM422 776h6v24h-6zM466 776h3v24h-3zM513 776h3v24h-3zM520 776h3v24h-3zM536 776h4v24h-4zM543 776h4v24h-4zM614 776h3v24h-3zM739 776h3v24h-3zM759 752h4v24h-4z"/>
<path fill="#fc8238" d="M304 776h3v24h-3zM432 776h3v24h-3zM526 776h7v24h-7zM685 752h3v24h-3zM746 752h3v24h-3zM752 752h4v24h-4z"/>
<path fill="#fc8038" d="M307 776h3v24h-3zM314 776h6v24h-6zM509 776h4v24h-4zM641 776h3v24h-3zM692 752h3v24h-3z"/>
<path fill="#fc7e37" d="M280 776h3v24h-3zM341 776h3v24h-3zM617 776h4v24h-4zM314 752h3v24h-3zM523 752h3v24h-3zM648 752h3v24h-3zM763 752h3v24h-3z"/>
<path fill="#fc7c37" d="M560 752h3v24h-3zM709 752h3v24h-3zM766 752h3v24h-3z"/>
<path fill="#fc7a36" d="M256 752h4v24h-4zM435 752h4v24h-4zM594 752h3v24h-3zM675 752h3v24h-3zM682 752h3v24h-3zM773 752h3v24h-3zM779 752h4v24h-4zM800 752h3v24h-3zM810 752h5v24h-5z"/>
<path fill="#fc7836" d="M496 752h3v24h-3zM563 752h4v24h-4zM574 752h3v24h-3zM651 752h4v24h-4zM661 752h4v24h-4zM756 752h3v24h-3zM769 752h4v24h-4z"/>
<path fill="#fc7635" d="M449 752h3v24h-3zM553 752h4v24h-4zM604 752h7v24h-7zM705 752h4v24h-4zM712 752h3v24h-3zM729 752h3v24h-3zM783 752h3v24h-3zM793 752h7v24h-7z"/>
<path fill="#fc7434" d="M354 752h4v24h-4zM385 752h3v24h-3zM452 752h3v24h-3zM580 752h4v24h-4zM655 752h3v24h-3zM695 752h7v24h-7zM749 752h3v24h-3zM776 752h3v24h-3zM786 752h4v24h-4zM806 752h4v24h-4z"/>
<path fill="#fc7234" d="M266 752h14v24h-14zM364 752h4v24h-4zM378 752h3v24h-3zM405 752h3v24h-3zM455 752h4v24h-4zM462 752h4v24h-4zM479 752h7v24h-7zM499 752h4v24h-4zM658 752h3v24h-3zM665 752h3v24h-3zM688 752h4v24h-4zM722 752h3v24h-3zM736 752h3v24h-3zM790 752h3v24h-3z"/>
<path fill="#fc7033" d="M263 752h3v24h-3zM327 752h4v24h-4zM374 752h4v24h-4zM381 752h4v24h-4zM398 752h3v24h-3zM486 752h3v24h-3zM624 752h4v24h-4zM638 752h3v24h-3zM719 752h3v24h-3zM732 752h4v24h-4zM759 728h4v24h-4z"/>
<path fill="#fc6e33" d="M287 752h3v24h-3zM395 752h3v24h-3zM489 752h4v24h-4zM503 752h3v24h-3zM587 752h3v24h-3zM601 752h3v24h-3zM634 752h4v24h-4zM644 752h4v24h-4zM668 752h3v24h-3zM739 752h7v24h-7zM685 728h3v24h-3zM752 728h4v24h-4z"/>
<path fill="#fc6c32" d="M290 752h3v24h-3zM391 752h4v24h-4zM418 752h4v24h-4zM439 752h6v24h-6zM472 752h4v24h-4zM506 752h3v24h-3zM513 752h7v24h-7zM597 752h4v24h-4zM614 752h3v24h-3zM671 752h4v24h-4zM702 752h3v24h-3zM715 752h4v24h-4zM746 728h3v24h-3z"/>
<path fill="#fc6a32" d="M300 752h7v24h-7zM310 752h4v24h-4zM334 752h3v24h-3zM344 752h3v24h-3zM368 752h3v24h-3zM412 752h3v24h-3zM432 752h3v24h-3zM445 752h4v24h-4zM536 752h4v24h-4zM590 752h4v24h-4zM725 752h4v24h-4zM803 752h3v24h-3zM648 728h3v24h-3zM658 728h3v24h-3zM675 728h3v24h-3zM712 728h3v24h-3zM763 728h3v24h-3z"/>
<path fill="#fc6831" d="M260 752h3v24h-3zM280 752h3v24h-3zM351 752h3v24h-3zM371 752h3v24h-3zM388 752h3v24h-3zM422 752h3v24h-3zM540 752h3v24h-3zM547 752h3v24h-3zM557 752h3v24h-3zM570 752h4v24h-4zM628 752h6v24h-6zM651 728h4v24h-4z"/>
<path fill="#fc6630" d="M283 752h4v24h-4zM320 752h4v24h-4zM347 752h4v24h-4zM476 752h3v24h-3zM493 752h3v24h-3zM530 752h6v24h-6zM550 752h3v24h-3zM567 752h3v24h-3zM621 752h3v24h-3zM800 728h3v24h-3z"/>
<path fill="#fc6430" d="M250 752h3v24h-3zM297 752h3v24h-3zM317 752h3v24h-3zM361 752h3v24h-3zM428 752h4v24h-4zM459 752h3v24h-3zM469 752h3v24h-3zM520 752h3v24h-3zM526 752h4v24h-4zM543 752h4v24h-4zM678 752h4v24h-4zM256 728h4v24h-4zM682 728h3v24h-3z"/>
<path fill="#fc622f" d="M331 752h3v24h-3zM408 752h4v24h-4zM466 752h3v24h-3zM617 752h4v24h-4zM358 728h3v24h-3z"/>
<path fill="#fc602f" d="M509 752h4v24h-4zM577 728h3v24h-3zM749 728h3v24h-3zM756 728h3v24h-3zM793 728h3v24h-3z"/>
<path fill="#fc5e2e" d="M253 752h3v24h-3zM293 752h4v24h-4zM584 752h3v24h-3zM415 728h3v24h-3zM661 728h4v24h-4zM709 728h3v24h-3zM729 728h3v24h-3zM766 728h3v24h-3zM773 728h3v24h-3z"/>
<path fill="#fc5c2e" d="M341 752h3v24h-3zM641 752h3v24h-3zM655 728h3v24h-3zM665 728h3v24h-3zM671 728h4v24h-4zM769 728h4v24h-4z"/>
<path fill="#fc5a2d" d="M324 752h3v24h-3zM489 728h4v24h-4zM523 728h3v24h-3zM604 728h7v24h-7zM668 728h3v24h-3zM678 728h4v24h-4zM736 728h3v24h-3zM803 728h3v24h-3zM810 728h5v24h-5z"/>
<path fill="#fc582d" d="M401 752h4v24h-4zM560 728h3v24h-3zM688 728h4v24h-4zM779 728h7v24h-7z"/>
<path fill="#fc562c" d="M307 752h3v24h-3zM611 752h3v24h-3zM290 728h3v24h-3zM462 728h4v24h-4zM594 728h3v24h-3zM601 728h3v24h-3zM692 728h3v24h-3zM732 728h4v24h-4zM739 728h3v24h-3zM776 728h3v24h-3zM790 728h3v24h-3zM796 728h4v24h-4z"/>
<path fill="#fc542b" d="M314 728h3v24h-3zM364 728h4v24h-4zM405 728h3v24h-3zM452 728h3v24h-3zM486 728h3v24h-3zM496 728h3v24h-3zM563 728h4v24h-4zM574 728h3v24h-3zM587 728h3v24h-3zM634 728h4v24h-4zM715 728h7v24h-7zM742 728h4v24h-4zM786 728h4v24h-4z"/>
<path fill="#fc522b" d="M337 752h4v24h-4zM266 728h4v24h-4zM273 728h4v24h-4zM344 728h3v24h-3zM385 728h3v24h-3zM418 728h4v24h-4zM435 728h7v24h-7zM449 728h3v24h-3zM516 728h4v24h-4zM553 728h4v24h-4zM570 728h4v24h-4zM580 728h4v24h-4zM695 728h3v24h-3zM722 728h7v24h-7zM806 728h4v24h-4z"/>
<path fill="#fc502a" d="M250 728h3v24h-3zM398 728h3v24h-3zM408 728h4v24h-4zM479 728h7v24h-7zM499 728h4v24h-4zM550 728h3v24h-3zM631 728h3v24h-3zM644 728h4v24h-4zM800 704h3v24h-3z"/>
<path fill="#fc4e2a" d="M270 728h3v24h-3zM368 728h3v24h-3zM374 728h11v24h-11zM391 728h4v24h-4zM442 728h3v24h-3zM472 728h4v24h-4zM513 728h3v24h-3zM536 728h4v24h-4zM705 728h4v24h-4zM648 704h3v24h-3zM682 704h3v24h-3zM746 704h3v24h-3zM752 704h4v24h-4z"/>
<path fill="#fb4c29" d="M425 752h3v24h-3zM277 728h13v24h-13zM293 728h4v24h-4zM320 728h4v24h-4zM334 728h3v24h-3zM347 728h4v24h-4zM395 728h3v24h-3zM455 728h4v24h-4zM638 728h3v24h-3zM698 728h4v24h-4zM783 704h3v24h-3zM803 704h3v24h-3z"/>
<path fill="#fa4b29" d="M263 728h3v24h-3zM304 728h3v24h-3zM310 728h4v24h-4zM351 728h3v24h-3zM361 728h3v24h-3zM371 728h3v24h-3zM445 728h4v24h-4zM476 728h3v24h-3zM493 728h3v24h-3zM540 728h3v24h-3zM624 728h7v24h-7zM675 704h3v24h-3zM766 704h3v24h-3z"/>
<path fill="#f94928" d="M327 728h4v24h-4zM466 728h6v24h-6zM503 728h3v24h-3zM702 728h3v24h-3zM658 704h7v24h-7zM685 704h3v24h-3zM759 704h7v24h-7zM806 704h4v24h-4z"/>
<path fill="#f94828" d="M300 728h4v24h-4zM317 728h3v24h-3zM354 728h4v24h-4zM388 728h3v24h-3zM422 728h3v24h-3zM459 728h3v24h-3zM506 728h3v24h-3zM520 728h3v24h-3zM526 728h4v24h-4zM547 728h3v24h-3zM557 728h3v24h-3zM567 728h3v24h-3zM590 728h4v24h-4zM621 728h3v24h-3zM651 704h4v24h-4zM773 704h3v24h-3zM796 704h4v24h-4z"/>
<path fill="#f84627" d="M253 728h3v24h-3zM297 728h3v24h-3zM428 728h4v24h-4zM530 728h6v24h-6zM543 728h4v24h-4zM597 728h4v24h-4zM614 728h3v24h-3zM756 704h3v24h-3zM769 704h4v24h-4z"/>
<path fill="#f74427" d="M260 728h3v24h-3zM412 728h3v24h-3zM432 728h3v24h-3zM665 704h3v24h-3z"/>
<path fill="#f64327" d="M324 728h3v24h-3zM331 728h3v24h-3zM779 704h4v24h-4zM810 704h5v24h-5z"/>
<path fill="#f64126" d="M337 728h7v24h-7zM509 728h4v24h-4zM617 728h4v24h-4zM358 704h3v24h-3zM415 704h3v24h-3zM560 704h3v24h-3zM749 704h3v24h-3zM793 704h3v24h-3z"/>
<path fill="#f53f26" d="M401 728h4v24h-4zM611 728h3v24h-3zM604 704h3v24h-3zM655 704h3v24h-3zM790 704h3v24h-3z"/>
<path fill="#f43e25" d="M584 728h3v24h-3zM496 704h3v24h-3zM594 704h3v24h-3zM786 704h4v24h-4z"/>
<path fill="#f33c25" d="M641 728h3v24h-3zM256 704h4v24h-4zM385 704h3v24h-3zM523 704h3v24h-3zM668 704h7v24h-7zM712 704h3v24h-3zM759 680h4v24h-4z"/>
<path fill="#f23b24" d="M307 728h3v24h-3zM425 728h3v24h-3zM577 704h3v24h-3zM678 704h4v24h-4zM752 680h4v24h-4z"/>
<path fill="#f23924" d="M587 704h3v24h-3z"/>
<path fill="#f13724" d="M290 704h3v24h-3zM364 704h4v24h-4zM776 704h3v24h-3z"/>
<path fill="#f03623" d="M270 704h7v24h-7zM452 704h3v24h-3zM489 704h4v24h-4zM553 704h4v24h-4zM580 704h4v24h-4zM607 704h4v24h-4zM709 704h3v24h-3zM719 704h3v24h-3z"/>
<path fill="#ef3423" d="M462 704h4v24h-4zM486 704h3v24h-3zM550 704h3v24h-3zM574 704h3v24h-3zM624 704h4v24h-4zM688 704h14v24h-14zM705 704h4v24h-4zM763 680h3v24h-3zM773 680h3v24h-3z"/>
<path fill="#ee3222" d="M266 704h4v24h-4zM563 704h4v24h-4zM601 704h3v24h-3zM722 704h3v24h-3zM769 680h4v24h-4z"/>
<path fill="#ee3122" d="M354 704h4v24h-4zM368 704h3v24h-3zM381 704h4v24h-4zM405 704h3v24h-3zM449 704h3v24h-3zM472 704h4v24h-4zM482 704h4v24h-4zM516 704h4v24h-4zM644 704h4v24h-4zM746 680h3v24h-3z"/>
<path fill="#ed2f21" d="M304 704h3v24h-3zM320 704h4v24h-4zM327 704h4v24h-4zM344 704h3v24h-3zM374 704h7v24h-7zM418 704h4v24h-4zM435 704h7v24h-7zM455 704h7v24h-7zM590 704h4v24h-4zM715 704h4v24h-4zM729 704h7v24h-7zM651 680h4v24h-4zM766 680h3v24h-3z"/>
<path fill="#ec2d21" d="M277 704h3v24h-3zM314 704h3v24h-3zM347 704h7v24h-7zM398 704h3v24h-3zM466 704h3v24h-3zM503 704h3v24h-3zM567 704h3v24h-3zM597 704h4v24h-4zM631 704h10v24h-10zM736 704h3v24h-3zM742 704h4v24h-4zM682 680h6v24h-6z"/>
<path fill="#eb2c20" d="M250 704h3v24h-3zM263 704h3v24h-3zM310 704h4v24h-4zM442 704h7v24h-7zM499 704h4v24h-4zM506 704h3v24h-3zM513 704h3v24h-3zM533 704h3v24h-3zM547 704h3v24h-3zM557 704h3v24h-3zM702 704h3v24h-3zM725 704h4v24h-4zM739 704h3v24h-3zM648 680h3v24h-3z"/>
<path fill="#eb2a20" d="M283 704h4v24h-4zM297 704h3v24h-3zM361 704h3v24h-3zM422 704h3v24h-3zM469 704h3v24h-3zM476 704h6v24h-6zM493 704h3v24h-3zM520 704h3v24h-3zM530 704h3v24h-3zM628 704h3v24h-3zM256 680h4v24h-4zM749 680h3v24h-3zM756 680h3v24h-3z"/>
<path fill="#ea2920" d="M287 704h3v24h-3zM293 704h4v24h-4zM300 704h4v24h-4zM317 704h3v24h-3zM334 704h3v24h-3zM371 704h3v24h-3zM391 704h4v24h-4zM412 704h3v24h-3zM536 704h4v24h-4zM570 704h4v24h-4zM621 704h3v24h-3zM759 656h4v24h-4z"/>
<path fill="#e9271f" d="M253 704h3v24h-3zM260 704h3v24h-3zM280 704h3v24h-3zM341 704h3v24h-3zM395 704h3v24h-3zM401 704h4v24h-4zM408 704h4v24h-4zM432 704h3v24h-3zM614 704h7v24h-7zM658 680h7v24h-7zM800 680h3v24h-3z"/>
<path fill="#e8251f" d="M388 704h3v24h-3zM428 704h4v24h-4zM526 704h4v24h-4zM577 680h3v24h-3zM655 680h3v24h-3zM692 680h3v24h-3z"/>
<path fill="#e7241e" d="M324 704h3v24h-3zM509 704h4v24h-4zM543 704h4v24h-4zM675 680h3v24h-3zM695 680h3v24h-3zM685 656h3v24h-3z"/>
<path fill="#e7221e" d="M425 704h3v24h-3zM611 704h3v24h-3zM358 680h3v24h-3zM668 680h3v24h-3z"/>
<path fill="#e6201d" d="M331 704h3v24h-3zM337 704h4v24h-4zM540 704h3v24h-3zM415 680h3v24h-3zM496 680h3v24h-3zM523 680h3v24h-3zM560 680h3v24h-3zM604 680h3v24h-3zM665 680h3v24h-3zM698 680h4v24h-4zM709 680h6v24h-6zM752 656h4v24h-4z"/>
<path fill="#e51f1d" d="M307 704h3v24h-3zM594 680h3v24h-3zM779 680h7v24h-7zM806 680h4v24h-4zM773 656h3v24h-3z"/>
<path fill="#e41d1c" d="M584 704h3v24h-3zM553 680h4v24h-4zM574 680h3v24h-3zM796 680h4v24h-4zM803 680h3v24h-3zM810 680h5v24h-5zM756 656h3v24h-3zM766 656h3v24h-3z"/>
<path fill="#e31c1c" d="M641 704h3v24h-3zM273 680h4v24h-4zM385 680h3v24h-3zM688 680h4v24h-4zM793 680h3v24h-3zM648 656h3v24h-3zM675 656h3v24h-3zM682 656h3v24h-3z"/>
<path fill="#e31a1c" d="M290 680h3v24h-3zM364 680h4v24h-4zM418 680h4v24h-4zM452 680h3v24h-3zM536 680h4v24h-4zM563 680h4v24h-4zM587 680h3v24h-3zM671 680h4v24h-4zM678 680h4v24h-4zM729 680h3v24h-3zM651 656h4v24h-4zM746 656h3v24h-3z"/>
<path fill="#e2191c" d="M270 680h3v24h-3zM374 680h4v24h-4zM398 680h3v24h-3zM405 680h3v24h-3zM435 680h4v24h-4zM482 680h4v24h-4zM513 680h3v24h-3zM607 680h4v24h-4zM705 680h4v24h-4zM719 680h6v24h-6zM742 680h4v24h-4zM790 680h3v24h-3zM749 656h3v24h-3z"/>
<path fill="#e0181c" d="M277 680h3v24h-3zM310 680h4v24h-4zM442 680h3v24h-3zM449 680h3v24h-3zM462 680h4v24h-4zM489 680h4v24h-4zM624 680h4v24h-4zM702 680h3v24h-3zM715 680h4v24h-4zM732 680h7v24h-7zM776 680h3v24h-3zM786 680h4v24h-4zM658 656h7v24h-7z"/>
<path fill="#df171c" d="M250 680h3v24h-3zM266 680h4v24h-4zM327 680h4v24h-4zM347 680h11v24h-11zM455 680h4v24h-4zM499 680h7v24h-7zM550 680h3v24h-3zM580 680h4v24h-4zM769 656h4v24h-4z"/>
<path fill="#de161d" d="M263 680h3v24h-3zM304 680h3v24h-3zM344 680h3v24h-3zM381 680h4v24h-4zM391 680h4v24h-4zM408 680h7v24h-7zM466 680h3v24h-3zM486 680h3v24h-3zM493 680h3v24h-3zM516 680h7v24h-7zM590 680h4v24h-4zM601 680h3v24h-3zM621 680h3v24h-3zM665 656h3v24h-3zM763 656h3v24h-3z"/>
<path fill="#dd161d" d="M253 680h3v24h-3zM334 680h3v24h-3zM368 680h3v24h-3zM422 680h3v24h-3zM439 680h3v24h-3zM445 680h4v24h-4zM472 680h4v24h-4zM540 680h7v24h-7zM567 680h3v24h-3zM634 680h7v24h-7zM655 656h3v24h-3zM678 656h4v24h-4z"/>
<path fill="#dc151d" d="M260 680h3v24h-3zM280 680h3v24h-3zM300 680h4v24h-4zM314 680h3v24h-3zM324 680h3v24h-3zM378 680h3v24h-3zM459 680h3v24h-3zM476 680h3v24h-3zM533 680h3v24h-3zM557 680h3v24h-3zM570 680h4v24h-4zM597 680h4v24h-4zM614 680h3v24h-3zM644 680h4v24h-4zM725 680h4v24h-4zM739 680h3v24h-3zM668 656h3v24h-3zM688 656h7v24h-7z"/>
<path fill="#da141e" d="M283 680h7v24h-7zM297 680h3v24h-3zM317 680h7v24h-7zM388 680h3v24h-3zM395 680h3v24h-3zM432 680h3v24h-3zM479 680h3v24h-3zM506 680h7v24h-7zM530 680h3v24h-3zM547 680h3v24h-3zM631 680h3v24h-3zM671 656h4v24h-4zM695 656h3v24h-3z"/>
<path fill="#d9131e" d="M361 680h3v24h-3zM371 680h3v24h-3zM469 680h3v24h-3zM526 680h4v24h-4zM628 680h3v24h-3zM256 656h4v24h-4zM682 632h3v24h-3z"/>
<path fill="#d8121e" d="M341 680h3v24h-3zM401 680h4v24h-4zM428 680h4v24h-4zM611 680h3v24h-3zM617 680h4v24h-4zM358 656h3v24h-3zM705 656h4v24h-4zM685 632h3v24h-3z"/>
<path fill="#d7121f" d="M415 656h3v24h-3zM604 656h3v24h-3z"/>
<path fill="#d6111f" d="M293 680h4v24h-4zM337 680h4v24h-4zM523 656h3v24h-3zM651 632h4v24h-4z"/>
<path fill="#d4101f" d="M641 680h3v24h-3zM594 656h3v24h-3zM698 656h4v24h-4zM648 632h3v24h-3zM752 632h4v24h-4z"/>
<path fill="#d30f20" d="M489 656h4v24h-4z"/>
<path fill="#d20e20" d="M425 680h3v24h-3zM584 680h3v24h-3zM560 656h3v24h-3zM577 656h3v24h-3zM665 632h3v24h-3zM675 632h3v24h-3z"/>
<path fill="#d10d20" d="M331 680h3v24h-3zM486 656h3v24h-3zM607 656h4v24h-4zM779 656h4v24h-4zM796 656h4v24h-4zM746 632h6v24h-6zM766 632h3v24h-3zM773 632h3v24h-3z"/>
<path fill="#d00d20" d="M385 656h3v24h-3zM574 656h3v24h-3zM756 632h7v24h-7z"/>
<path fill="#cf0c21" d="M354 656h4v24h-4zM364 656h4v24h-4zM452 656h3v24h-3zM496 656h3v24h-3zM553 656h4v24h-4zM563 656h4v24h-4zM587 656h3v24h-3zM601 656h3v24h-3zM702 656h3v24h-3zM709 656h3v24h-3zM786 656h4v24h-4zM793 656h3v24h-3zM800 656h3v24h-3z"/>
<path fill="#cd0b21" d="M307 680h3v24h-3zM273 656h10v24h-10zM290 656h3v24h-3zM314 656h3v24h-3zM327 656h4v24h-4zM449 656h3v24h-3zM455 656h4v24h-4zM462 656h4v24h-4zM712 656h3v24h-3zM763 632h3v24h-3z"/>
<path fill="#cc0a21" d="M270 656h3v24h-3zM310 656h4v24h-4zM344 656h3v24h-3zM405 656h3v24h-3zM435 656h4v24h-4zM472 656h4v24h-4zM482 656h4v24h-4zM493 656h3v24h-3zM516 656h4v24h-4zM590 656h4v24h-4zM624 656h4v24h-4zM644 656h4v24h-4zM725 656h4v24h-4zM783 656h3v24h-3zM810 656h5v24h-5zM661 632h4v24h-4z"/>
<path fill="#cb0922" d="M250 656h3v24h-3zM266 656h4v24h-4zM334 656h3v24h-3zM381 656h4v24h-4zM398 656h3v24h-3zM412 656h3v24h-3zM445 656h4v24h-4zM526 656h4v24h-4zM536 656h7v24h-7zM638 656h3v24h-3zM719 656h6v24h-6zM729 656h3v24h-3zM742 656h4v24h-4zM790 656h3v24h-3zM803 656h3v24h-3zM655 632h6v24h-6z"/>
<path fill="#ca0922" d="M283 656h4v24h-4zM293 656h4v24h-4zM361 656h3v24h-3zM439 656h3v24h-3zM509 656h7v24h-7zM520 656h3v24h-3zM580 656h4v24h-4zM715 656h4v24h-4zM769 632h4v24h-4z"/>
<path fill="#c90822" d="M260 656h3v24h-3zM287 656h3v24h-3zM347 656h7v24h-7zM368 656h3v24h-3zM374 656h7v24h-7zM391 656h4v24h-4zM408 656h4v24h-4zM418 656h7v24h-7zM459 656h3v24h-3zM466 656h3v24h-3zM476 656h6v24h-6zM499 656h7v24h-7zM550 656h3v24h-3zM570 656h4v24h-4zM614 656h3v24h-3zM631 656h3v24h-3zM732 656h7v24h-7zM668 632h3v24h-3z"/>
<path fill="#c70723" d="M263 656h3v24h-3zM304 656h3v24h-3zM428 656h4v24h-4zM469 656h3v24h-3zM506 656h3v24h-3zM543 656h4v24h-4zM621 656h3v24h-3zM634 656h4v24h-4zM776 656h3v24h-3zM806 656h4v24h-4z"/>
<path fill="#c60623" d="M297 656h7v24h-7zM371 656h3v24h-3zM388 656h3v24h-3zM401 656h4v24h-4zM442 656h3v24h-3zM533 656h3v24h-3zM547 656h3v24h-3zM557 656h3v24h-3zM567 656h3v24h-3zM597 656h4v24h-4zM628 656h3v24h-3zM739 656h3v24h-3zM671 632h4v24h-4z"/>
<path fill="#c50523" d="M317 656h7v24h-7zM395 656h3v24h-3zM432 656h3v24h-3zM530 656h3v24h-3zM678 632h4v24h-4zM692 632h6v24h-6z"/>
<path fill="#c40424" d="M253 656h3v24h-3zM617 656h4v24h-4z"/>
<path fill="#c30424" d="M358 632h3v24h-3z"/>
<path fill="#c10324" d="M307 656h3v24h-3zM341 656h3v24h-3zM611 656h3v24h-3z"/>
<path fill="#c00225" d="M331 656h3v24h-3zM337 656h4v24h-4zM584 656h3v24h-3zM256 632h4v24h-4zM385 632h3v24h-3zM577 632h3v24h-3zM604 632h3v24h-3zM688 632h4v24h-4zM705 632h4v24h-4z"/>
<path fill="#bf0125" d="M324 656h3v24h-3zM425 656h3v24h-3zM641 656h3v24h-3zM523 632h3v24h-3z"/>
<path fill="#be0025" d="M560 632h3v24h-3z"/>
<path fill="#bd0025" d="M553 632h4v24h-4zM594 632h3v24h-3zM607 632h4v24h-4zM783 632h3v24h-3z"/>
<path fill="#bb0026" d="M439 632h3v24h-3zM462 632h4v24h-4zM587 632h3v24h-3zM800 632h3v24h-3zM806 632h4v24h-4z"/>
<path fill="#b90026" d="M290 632h3v24h-3zM415 632h3v24h-3zM435 632h4v24h-4zM489 632h4v24h-4zM698 632h4v24h-4zM796 632h4v24h-4zM810 632h5v24h-5z"/>
<path fill="#b70026" d="M314 632h3v24h-3zM354 632h4v24h-4zM381 632h4v24h-4zM405 632h3v24h-3zM496 632h3v24h-3zM601 632h3v24h-3zM702 632h3v24h-3zM712 632h3v24h-3zM779 632h4v24h-4z"/>
<path fill="#b50026" d="M266 632h11v24h-11zM344 632h3v24h-3zM364 632h4v24h-4zM442 632h3v24h-3zM449 632h3v24h-3zM486 632h3v24h-3zM574 632h3v24h-3zM631 632h3v24h-3zM644 632h4v24h-4zM803 632h3v24h-3z"/>
<path fill="#b30026" d="M300 632h4v24h-4zM371 632h3v24h-3zM398 632h3v24h-3zM452 632h7v24h-7zM580 632h4v24h-4zM634 632h7v24h-7zM790 632h3v24h-3z"/>
<path fill="#b10026" d="M320 632h4v24h-4zM347 632h4v24h-4zM374 632h4v24h-4zM408 632h4v24h-4zM482 632h4v24h-4zM493 632h3v24h-3zM563 632h4v24h-4zM709 632h3v24h-3z"/>
<path fill="#af0026" d="M310 632h4v24h-4zM327 632h4v24h-4zM391 632h4v24h-4zM412 632h3v24h-3zM418 632h4v24h-4zM445 632h4v24h-4zM466 632h3v24h-3zM476 632h3v24h-3zM513 632h7v24h-7zM526 632h4v24h-4zM536 632h7v24h-7zM590 632h4v24h-4zM614 632h3v24h-3zM729 632h3v24h-3zM776 632h3v24h-3z"/>
<path fill="#ad0026" d="M277 632h3v24h-3zM283 632h4v24h-4zM361 632h3v24h-3zM395 632h3v24h-3zM479 632h3v24h-3zM499 632h10v24h-10zM520 632h3v24h-3zM722 632h3v24h-3zM786 632h4v24h-4zM793 632h3v24h-3z"/>
<path fill="#ac0026" d="M250 632h6v24h-6zM263 632h3v24h-3zM297 632h3v24h-3zM304 632h3v24h-3zM317 632h3v24h-3zM351 632h3v24h-3zM432 632h3v24h-3zM459 632h3v24h-3zM472 632h4v24h-4zM533 632h3v24h-3zM543 632h4v24h-4zM550 632h3v24h-3zM557 632h3v24h-3zM597 632h4v24h-4zM624 632h7v24h-7zM736 632h10v24h-10z"/>
<path fill="#aa0026" d="M280 632h3v24h-3zM287 632h3v24h-3zM334 632h3v24h-3zM368 632h3v24h-3zM378 632h3v24h-3zM567 632h7v24h-7zM719 632h3v24h-3zM732 632h4v24h-4z"/>
<path fill="#a80026" d="M388 632h3v24h-3zM422 632h3v24h-3zM469 632h3v24h-3zM530 632h3v24h-3zM547 632h3v24h-3zM621 632h3v24h-3zM715 632h4v24h-4zM682 607h3v25h-3z"/>
<path fill="#a60026" d="M260 632h3v24h-3zM341 632h3v24h-3zM584 632h3v24h-3zM675 607h7v25h-7zM763 607h6v25h-6z"/>
<path fill="#a40026" d="M293 632h4v24h-4zM401 632h4v24h-4zM617 632h4v24h-4zM685 607h3v25h-3zM746 607h3v25h-3zM752 607h7v25h-7z"/>
<path fill="#a20026" d="M509 632h4v24h-4zM725 632h4v24h-4zM749 607h3v25h-3zM759 607h4v25h-4zM769 607h7v25h-7z"/>
<path fill="#a00026" d="M307 632h3v24h-3zM324 632h3v24h-3zM428 632h4v24h-4z"/>
<path fill="#9e0026" d="M331 632h3v24h-3zM611 632h3v24h-3zM641 632h3v24h-3zM698 607h4v25h-4zM705 607h4v25h-4z"/>
<path fill="#9c0026" d="M658 607h3v25h-3zM665 607h3v25h-3zM692 607h3v25h-3z"/>
<path fill="#9a0026" d="M337 632h4v24h-4zM425 632h3v24h-3zM270 607h3v25h-3z"/>
<path fill="#980026" d="M310 607h4v25h-4z"/>
<path fill="#960026" d="M462 607h4v25h-4zM557 607h3v25h-3zM594 607h3v25h-3zM634 607h4v25h-4zM648 607h3v25h-3z"/>
<path fill="#950026" d="M287 607h3v25h-3zM395 607h3v25h-3zM408 607h4v25h-4z"/>
<path fill="#930026" d="M668 607h7v25h-7z"/>
<path fill="#910026" d="M331 607h3v25h-3zM435 607h4v25h-4zM584 607h3v25h-3zM800 607h3v25h-3z"/>
<path fill="#8f0026" d="M374 607h4v25h-4zM779 607h4v25h-4zM790 607h3v25h-3zM806 607h4v25h-4z"/>
<path fill="#8d0026" d="M597 607h4v25h-4zM688 607h4v25h-4zM783 607h3v25h-3z"/>
<path fill="#8b0026" d="M655 607h3v25h-3zM729 607h3v25h-3zM776 607h3v25h-3zM786 607h4v25h-4zM796 607h4v25h-4z"/>
<path fill="#890026" d="M293 607h4v25h-4zM587 607h3v25h-3zM604 607h7v25h-7zM810 607h5v25h-5z"/>
<path fill="#870026" d="M266 607h4v25h-4zM273 607h4v25h-4zM290 607h3v25h-3zM381 607h4v25h-4zM482 607h4v25h-4zM499 607h4v25h-4zM661 607h4v25h-4zM695 607h3v25h-3zM702 607h3v25h-3zM722 607h3v25h-3zM732 607h7v25h-7zM793 607h3v25h-3zM803 607h3v25h-3z"/>
<path fill="#850026" d="M250 607h3v25h-3zM256 607h4v25h-4zM263 607h3v25h-3zM277 607h3v25h-3zM327 607h4v25h-4zM347 607h4v25h-4zM354 607h7v25h-7zM368 607h6v25h-6zM378 607h3v25h-3zM391 607h4v25h-4zM398 607h3v25h-3zM405 607h3v25h-3zM415 607h7v25h-7zM428 607h4v25h-4zM439 607h3v25h-3zM452 607h3v25h-3zM459 607h3v25h-3zM472 607h10v25h-10zM486 607h7v25h-7zM516 607h4v25h-4zM523 607h3v25h-3zM550 607h7v25h-7zM563 607h4v25h-4zM574 607h3v25h-3zM580 607h4v25h-4zM590 607h4v25h-4zM601 607h3v25h-3zM624 607h4v25h-4zM644 607h4v25h-4zM651 607h4v25h-4zM709 607h13v25h-13zM725 607h4v25h-4zM739 607h3v25h-3z"/>
<path fill="#830026" d="M280 607h3v25h-3zM297 607h7v25h-7zM314 607h13v25h-13zM334 607h7v25h-7zM344 607h3v25h-3zM361 607h7v25h-7zM385 607h3v25h-3zM401 607h4v25h-4zM412 607h3v25h-3zM432 607h3v25h-3zM442 607h10v25h-10zM455 607h4v25h-4zM466 607h6v25h-6zM493 607h6v25h-6zM503 607h6v25h-6zM513 607h3v25h-3zM520 607h3v25h-3zM526 607h4v25h-4zM533 607h14v25h-14zM560 607h3v25h-3zM567 607h7v25h-7zM577 607h3v25h-3zM611 607h13v25h-13zM628 607h6v25h-6zM638 607h6v25h-6zM742 607h4v25h-4z"/>
<path fill="#810026" d="M253 607h3v25h-3zM260 607h3v25h-3zM283 607h4v25h-4zM304 607h6v25h-6zM341 607h3v25h-3zM351 607h3v25h-3zM388 607h3v25h-3zM422 607h3v25h-3zM530 607h3v25h-3zM547 607h3v25h-3z"/>
<path fill="#800026" d="M425 607h3v25h-3zM509 607h4v25h-4zM250 583h565v24h-565zM250 559h565v24h-565z"/>
</g>
<path class="g" d="M250.5 559.5V824.5M331.5 559.5V824.5M412.5 559.5V824.5M493.5 559.5V824.5M574.5 559.5V824.5M655.5 559.5V824.5M736.5 559.5V824.5"/>
<path class="k" d="M250.5 824.14v5.3M331.5 824.14v5.3M412.5 824.14v5.3M493.5 824.14v5.3M574.5 824.14v5.3M655.5 824.14v5.3M736.5 824.14v5.3M250 824.5h-5.2M250 703.5h-5.2M250 631.5h-5.2"/>
<rect class="k" x="250.5" y="559.5" width="564" height="265"/>
<rect x="849.5" y="559.5" width="13" height="265" fill="url(#cm)"/>
<rect class="k" x="849.5" y="559.5" width="13" height="265"/>
<path class="k" d="M862.14 815.5h5.5M862.14 767.5h5.5M862.14 719.5h5.5M862.14 671.5h5.5M862.14 622.5h5.5M862.14 574.5h5.5"/>
<g class="c">
<path fill="#ffffcc" d="M1173 800h10v25h-10zM1220 800h3v25h-3zM1358 800h4v25h-4z"/>
<path fill="#fffeca" d="M1486 800h4v25h-4z"/>
<path fill="#fffdc9" d="M1368 800h4v25h-4zM1463 800h3v25h-3zM1551 800h3v25h-3z"/>
<path fill="#fffdc7" d="M1223 800h4v25h-4zM1270 800h4v25h-4z"/>
<path fill="#fffcc5" d="M1257 800h3v25h-3z"/>
<path fill="#fffbc3" d="M1308 800h3v25h-3z"/>
<path fill="#fffbc2" d="M1554 800h3v25h-3z"/>
<path fill="#fffac0" d="M1453 800h3v25h-3zM1618 800h3v25h-3z"/>
<path fill="#fff9bf" d="M1365 800h3v25h-3z"/>
<path fill="#fff9be" d="M1267 800h3v25h-3zM1520 800h4v25h-4zM1574 800h4v25h-4z"/>
<path fill="#fff8bc" d="M1311 800h3v25h-3zM1318 800h3v25h-3zM1355 800h3v25h-3zM1372 800h3v25h-3z"/>
<path fill="#fff8bb" d="M1284 800h3v25h-3zM1517 800h3v25h-3z"/>
<path fill="#fff7ba" d="M1351 800h4v25h-4z"/>
<path fill="#fff7b8" d="M1149 800h3v25h-3zM1301 800h3v25h-3zM1476 800h4v25h-4zM1547 800h4v25h-4z"/>
<path fill="#fff6b7" d="M1132 800h3v25h-3zM1196 800h4v25h-4zM1304 800h4v25h-4z"/>
<path fill="#fff5b5" d="M1213 800h7v25h-7zM1409 800h3v25h-3zM1571 800h3v25h-3z"/>
<path fill="#fff5b4" d="M1331 800h4v25h-4zM1459 800h4v25h-4z"/>
<path fill="#fff4b3" d="M1200 800h3v25h-3z"/>
<path fill="#fff4b1" d="M1247 800h3v25h-3zM1274 800h3v25h-3z"/>
<path fill="#fff3af" d="M1210 800h3v25h-3zM1483 800h3v25h-3zM1500 800h3v25h-3z"/>
<path fill="#fff2ad" d="M1129 800h3v25h-3zM1382 800h3v25h-3zM1466 800h4v25h-4zM1621 800h4v25h-4z"/>
<path fill="#fff2ac" d="M1166 800h3v25h-3z"/>
<path fill="#fff1aa" d="M1169 800h4v25h-4zM1446 800h3v25h-3z"/>
<path fill="#fff0a8" d="M1135 800h4v25h-4zM1385 800h4v25h-4zM1611 800h4v25h-4z"/>
<path fill="#ffefa6" d="M1591 800h3v25h-3zM1601 800h4v25h-4z"/>
<path fill="#ffefa5" d="M1152 800h4v25h-4zM1405 800h4v25h-4zM1561 800h3v25h-3zM1632 800h3v25h-3z"/>
<path fill="#ffeea3" d="M1503 800h4v25h-4zM1581 800h3v25h-3z"/>
<path fill="#ffeea2" d="M1095 800h3v25h-3zM1605 800h3v25h-3z"/>
<path fill="#ffeda1" d="M1105 800h3v25h-3zM1264 800h3v25h-3zM1402 800h3v25h-3z"/>
<path fill="#feec9f" d="M1193 800h3v25h-3zM1281 800h3v25h-3zM1584 800h4v25h-4zM1594 800h4v25h-4z"/>
<path fill="#feec9e" d="M1335 800h3v25h-3z"/>
<path fill="#feeb9d" d="M1206 800h4v25h-4zM1287 800h4v25h-4zM1449 800h4v25h-4zM1625 800h3v25h-3z"/>
<path fill="#feeb9b" d="M1189 800h4v25h-4z"/>
<path fill="#feea9a" d="M1183 800h3v25h-3zM1497 800h3v25h-3zM1598 800h3v25h-3z"/>
<path fill="#fee999" d="M1142 800h4v25h-4z"/>
<path fill="#fee997" d="M1125 800h4v25h-4zM1537 800h3v25h-3z"/>
<path fill="#fee896" d="M1534 800h3v25h-3z"/>
<path fill="#fee795" d="M1108 800h4v25h-4z"/>
<path fill="#fee793" d="M1240 800h3v25h-3zM1375 800h7v25h-7zM1507 800h3v25h-3zM1544 800h3v25h-3z"/>
<path fill="#fee692" d="M1112 800h3v25h-3zM1470 800h3v25h-3z"/>
<path fill="#fee691" d="M1439 800h4v25h-4zM1524 800h3v25h-3z"/>
<path fill="#fee590" d="M1480 800h3v25h-3z"/>
<path fill="#fee48e" d="M1139 800h3v25h-3zM1628 800h4v25h-4z"/>
<path fill="#fee48d" d="M1399 800h3v25h-3zM1540 800h4v25h-4zM1564 800h3v25h-3z"/>
<path fill="#fee38c" d="M1115 800h4v25h-4zM1260 800h4v25h-4zM1324 800h4v25h-4zM1422 800h4v25h-4zM1513 800h4v25h-4z"/>
<path fill="#fee28a" d="M1237 800h3v25h-3zM1493 800h4v25h-4z"/>
<path fill="#fee289" d="M1250 800h4v25h-4zM1412 800h4v25h-4z"/>
<path fill="#fee188" d="M1443 800h3v25h-3zM1473 800h3v25h-3z"/>
<path fill="#fee186" d="M1362 800h3v25h-3zM1578 800h3v25h-3z"/>
<path fill="#fee085" d="M1254 800h3v25h-3z"/>
<path fill="#fedf84" d="M1243 800h4v25h-4zM1348 800h3v25h-3zM1557 800h4v25h-4z"/>
<path fill="#fede81" d="M1419 800h3v25h-3z"/>
<path fill="#fedd80" d="M1159 800h3v25h-3zM1432 800h4v25h-4zM1510 800h3v25h-3zM1527 800h3v25h-3z"/>
<path fill="#fedd7e" d="M1203 800h3v25h-3zM1567 800h4v25h-4zM1635 800h3v25h-3z"/>
<path fill="#fedc7d" d="M1395 800h4v25h-4z"/>
<path fill="#fedb7c" d="M1186 800h3v25h-3zM1291 800h3v25h-3z"/>
<path fill="#fedb7a" d="M1277 800h4v25h-4zM1392 800h3v25h-3zM1588 800h3v25h-3z"/>
<path fill="#feda78" d="M1328 800h3v25h-3zM1338 800h7v25h-7z"/>
<path fill="#fed976" d="M1230 800h3v25h-3zM1645 800h3v25h-3z"/>
<path fill="#fed875" d="M1102 800h3v25h-3zM1345 800h3v25h-3zM1530 800h4v25h-4zM1615 800h3v25h-3z"/>
<path fill="#fed774" d="M1119 800h3v25h-3zM1162 800h4v25h-4zM1227 800h3v25h-3z"/>
<path fill="#fed673" d="M1321 800h3v25h-3z"/>
<path fill="#fed571" d="M1146 800h3v25h-3zM1648 800h4v25h-4z"/>
<path fill="#fed370" d="M1122 800h3v25h-3zM1389 800h3v25h-3zM1655 800h5v25h-5z"/>
<path fill="#fed26f" d="M1297 800h4v25h-4zM1429 800h3v25h-3z"/>
<path fill="#fed16d" d="M1314 800h4v25h-4zM1490 800h3v25h-3z"/>
<path fill="#fed06c" d="M1426 800h3v25h-3zM1608 800h3v25h-3z"/>
<path fill="#fece6b" d="M1233 800h4v25h-4z"/>
<path fill="#fecb67" d="M1436 800h3v25h-3zM1638 800h4v25h-4z"/>
<path fill="#fec763" d="M1294 800h3v25h-3z"/>
<path fill="#fec661" d="M1642 800h3v25h-3z"/>
<path fill="#fec35f" d="M1156 800h3v25h-3z"/>
<path fill="#fec25d" d="M1652 800h3v25h-3z"/>
<path fill="#fec15c" d="M1098 800h4v25h-4z"/>
<path fill="#febd58" d="M1416 800h3v25h-3z"/>
<path fill="#feb853" d="M1456 800h3v25h-3z"/>
<path fill="#fda446" d="M1149 776h3v24h-3z"/>
<path fill="#fda345" d="M1503 776h4v24h-4z"/>
<path fill="#fda245" d="M1375 776h3v24h-3zM1497 776h6v24h-6zM1517 776h3v24h-3z"/>
<path fill="#fda144" d="M1095 776h7v24h-7zM1291 776h3v24h-3zM1638 776h4v24h-4z"/>
<path fill="#fda044" d="M1176 776h3v24h-3zM1210 776h3v24h-3zM1281 776h3v24h-3zM1287 776h4v24h-4zM1486 776h4v24h-4zM1527 776h3v24h-3zM1648 776h4v24h-4z"/>
<path fill="#fd9e43" d="M1102 776h6v24h-6zM1112 776h3v24h-3zM1152 776h4v24h-4zM1179 776h4v24h-4zM1189 776h7v24h-7zM1200 776h3v24h-3zM1220 776h3v24h-3zM1237 776h3v24h-3zM1314 776h7v24h-7zM1358 776h4v24h-4zM1385 776h4v24h-4zM1493 776h4v24h-4zM1507 776h3v24h-3zM1601 776h4v24h-4zM1632 776h3v24h-3zM1645 776h3v24h-3z"/>
<path fill="#fd9d43" d="M1223 776h4v24h-4zM1311 776h3v24h-3zM1321 776h3v24h-3zM1372 776h3v24h-3zM1419 776h3v24h-3zM1429 776h3v24h-3zM1446 776h3v24h-3zM1480 776h3v24h-3zM1513 776h4v24h-4z"/>
<path fill="#fd9c42" d="M1146 776h3v24h-3zM1156 776h3v24h-3zM1162 776h4v24h-4zM1297 776h7v24h-7zM1324 776h4v24h-4zM1382 776h3v24h-3zM1490 776h3v24h-3zM1530 776h7v24h-7zM1540 776h7v24h-7zM1581 776h3v24h-3zM1588 776h3v24h-3zM1608 776h3v24h-3zM1618 776h3v24h-3z"/>
<path fill="#fd9b42" d="M1125 776h4v24h-4zM1230 776h3v24h-3zM1277 776h4v24h-4zM1348 776h3v24h-3zM1392 776h3v24h-3zM1409 776h7v24h-7zM1483 776h3v24h-3zM1510 776h3v24h-3zM1537 776h3v24h-3zM1547 776h4v24h-4zM1584 776h4v24h-4zM1635 776h3v24h-3zM1652 776h3v24h-3z"/>
<path fill="#fd9a41" d="M1159 776h3v24h-3zM1227 776h3v24h-3zM1331 776h4v24h-4zM1476 776h4v24h-4zM1564 776h3v24h-3zM1611 776h7v24h-7zM1621 776h4v24h-4zM1642 776h3v24h-3z"/>
<path fill="#fd9941" d="M1166 776h7v24h-7zM1233 776h4v24h-4zM1294 776h3v24h-3zM1345 776h3v24h-3zM1351 776h4v24h-4zM1362 776h3v24h-3zM1432 776h11v24h-11zM1449 776h4v24h-4zM1473 776h3v24h-3zM1524 776h3v24h-3zM1551 776h3v24h-3zM1598 776h3v24h-3z"/>
<path fill="#fd9840" d="M1173 776h3v24h-3zM1206 776h4v24h-4zM1213 776h7v24h-7zM1240 776h3v24h-3zM1260 776h4v24h-4zM1284 776h3v24h-3zM1308 776h3v24h-3zM1355 776h3v24h-3zM1365 776h3v24h-3zM1405 776h4v24h-4zM1463 776h7v24h-7zM1554 776h3v24h-3zM1591 776h3v24h-3z"/>
<path fill="#fd9640" d="M1119 776h6v24h-6zM1399 776h3v24h-3zM1426 776h3v24h-3zM1443 776h3v24h-3zM1567 776h4v24h-4zM1574 776h7v24h-7zM1628 776h4v24h-4zM1655 776h5v24h-5z"/>
<path fill="#fd953f" d="M1129 776h3v24h-3zM1186 776h3v24h-3zM1264 776h3v24h-3zM1304 776h4v24h-4zM1338 776h7v24h-7zM1389 776h3v24h-3zM1395 776h4v24h-4zM1402 776h3v24h-3zM1416 776h3v24h-3zM1520 776h4v24h-4zM1557 776h4v24h-4zM1571 776h3v24h-3z"/>
<path fill="#fd943f" d="M1115 776h4v24h-4zM1142 776h4v24h-4zM1203 776h3v24h-3zM1270 776h4v24h-4zM1335 776h3v24h-3zM1456 776h3v24h-3zM1561 776h3v24h-3z"/>
<path fill="#fd933e" d="M1108 776h4v24h-4zM1243 776h7v24h-7zM1267 776h3v24h-3zM1274 776h3v24h-3zM1368 776h4v24h-4zM1378 776h4v24h-4zM1422 776h4v24h-4zM1453 776h3v24h-3zM1459 776h4v24h-4zM1470 776h3v24h-3zM1625 776h3v24h-3z"/>
<path fill="#fd923e" d="M1139 776h3v24h-3zM1196 776h4v24h-4zM1250 776h4v24h-4z"/>
<path fill="#fd913d" d="M1132 776h3v24h-3zM1183 776h3v24h-3zM1594 776h4v24h-4z"/>
<path fill="#fd8f3d" d="M1254 776h3v24h-3zM1328 776h3v24h-3zM1605 776h3v24h-3z"/>
<path fill="#fd8e3c" d="M1257 776h3v24h-3z"/>
<path fill="#fc8c3b" d="M1135 776h4v24h-4z"/>
<path fill="#fc8439" d="M1166 752h3v24h-3z"/>
<path fill="#fc8238" d="M1291 752h3v24h-3zM1642 752h3v24h-3z"/>
<path fill="#fc8038" d="M1210 752h3v24h-3zM1345 752h3v24h-3zM1385 752h4v24h-4zM1476 752h4v24h-4z"/>
<path fill="#fc7e37" d="M1277 752h4v24h-4zM1362 752h3v24h-3zM1375 752h3v24h-3zM1618 752h3v24h-3z"/>
<path fill="#fc7c37" d="M1125 752h4v24h-4zM1358 752h4v24h-4zM1419 752h3v24h-3zM1490 752h7v24h-7zM1503 752h4v24h-4zM1517 752h3v24h-3z"/>
<path fill="#fc7a36" d="M1105 752h3v24h-3zM1223 752h4v24h-4zM1287 752h4v24h-4zM1412 752h4v24h-4zM1480 752h3v24h-3zM1500 752h3v24h-3zM1540 752h4v24h-4zM1547 752h4v24h-4zM1635 752h3v24h-3z"/>
<path fill="#fc7836" d="M1095 752h3v24h-3zM1102 752h3v24h-3zM1112 752h3v24h-3zM1152 752h4v24h-4zM1173 752h3v24h-3zM1189 752h4v24h-4zM1220 752h3v24h-3zM1233 752h4v24h-4zM1321 752h3v24h-3zM1331 752h4v24h-4zM1392 752h3v24h-3zM1439 752h4v24h-4zM1497 752h3v24h-3zM1520 752h4v24h-4zM1527 752h3v24h-3zM1534 752h3v24h-3zM1564 752h3v24h-3zM1611 752h4v24h-4zM1638 752h4v24h-4zM1645 752h3v24h-3z"/>
<path fill="#fc7635" d="M1122 752h3v24h-3zM1149 752h3v24h-3zM1156 752h3v24h-3zM1169 752h4v24h-4zM1193 752h3v24h-3zM1216 752h4v24h-4zM1281 752h3v24h-3zM1308 752h3v24h-3zM1382 752h3v24h-3zM1405 752h4v24h-4zM1426 752h3v24h-3zM1530 752h4v24h-4zM1537 752h3v24h-3zM1581 752h3v24h-3zM1601 752h4v24h-4zM1615 752h3v24h-3zM1628 752h4v24h-4zM1648 752h4v24h-4z"/>
<path fill="#fc7434" d="M1098 752h4v24h-4zM1108 752h4v24h-4zM1115 752h4v24h-4zM1159 752h7v24h-7zM1176 752h7v24h-7zM1200 752h6v24h-6zM1227 752h3v24h-3zM1297 752h7v24h-7zM1314 752h7v24h-7zM1365 752h10v24h-10zM1378 752h4v24h-4zM1399 752h3v24h-3zM1429 752h3v24h-3zM1436 752h3v24h-3zM1446 752h3v24h-3zM1473 752h3v24h-3zM1486 752h4v24h-4zM1507 752h10v24h-10zM1551 752h6v24h-6zM1567 752h4v24h-4zM1588 752h6v24h-6zM1598 752h3v24h-3zM1608 752h3v24h-3zM1621 752h4v24h-4z"/>
<path fill="#fc7234" d="M1129 752h3v24h-3zM1146 752h3v24h-3zM1213 752h3v24h-3zM1230 752h3v24h-3zM1237 752h6v24h-6zM1257 752h3v24h-3zM1267 752h7v24h-7zM1304 752h4v24h-4zM1311 752h3v24h-3zM1341 752h4v24h-4zM1348 752h3v24h-3zM1355 752h3v24h-3zM1389 752h3v24h-3zM1395 752h4v24h-4zM1402 752h3v24h-3zM1409 752h3v24h-3zM1432 752h4v24h-4zM1456 752h3v24h-3zM1524 752h3v24h-3zM1557 752h7v24h-7zM1571 752h3v24h-3z"/>
<path fill="#fc7033" d="M1206 752h4v24h-4zM1254 752h3v24h-3zM1260 752h7v24h-7zM1274 752h3v24h-3zM1284 752h3v24h-3zM1324 752h7v24h-7zM1351 752h4v24h-4zM1422 752h4v24h-4zM1449 752h7v24h-7zM1463 752h7v24h-7zM1483 752h3v24h-3zM1578 752h3v24h-3zM1584 752h4v24h-4zM1632 752h3v24h-3zM1652 752h3v24h-3z"/>
<path fill="#fc6e33" d="M1119 752h3v24h-3zM1132 752h3v24h-3zM1139 752h7v24h-7zM1186 752h3v24h-3zM1196 752h4v24h-4zM1243 752h4v24h-4zM1335 752h6v24h-6zM1416 752h3v24h-3zM1443 752h3v24h-3zM1544 752h3v24h-3zM1574 752h4v24h-4zM1625 752h3v24h-3zM1291 728h3v24h-3z"/>
<path fill="#fc6c32" d="M1183 752h3v24h-3zM1294 752h3v24h-3zM1459 752h4v24h-4zM1470 752h3v24h-3zM1655 752h5v24h-5z"/>
<path fill="#fc6a32" d="M1250 752h4v24h-4z"/>
<path fill="#fc6831" d="M1135 752h4v24h-4zM1247 752h3v24h-3zM1594 752h4v24h-4zM1605 752h3v24h-3zM1166 728h3v24h-3zM1358 728h4v24h-4zM1385 728h4v24h-4zM1490 728h3v24h-3z"/>
<path fill="#fc6630" d="M1476 728h7v24h-7z"/>
<path fill="#fc6430" d="M1173 728h3v24h-3zM1281 728h3v24h-3zM1497 728h3v24h-3zM1635 728h3v24h-3z"/>
<path fill="#fc622f" d="M1098 728h7v24h-7zM1152 728h4v24h-4zM1210 728h3v24h-3zM1277 728h4v24h-4zM1287 728h4v24h-4zM1375 728h3v24h-3zM1510 728h3v24h-3zM1645 728h3v24h-3z"/>
<path fill="#fc602f" d="M1095 728h3v24h-3zM1149 728h3v24h-3zM1156 728h3v24h-3zM1223 728h4v24h-4zM1311 728h3v24h-3zM1362 728h3v24h-3zM1378 728h4v24h-4zM1392 728h3v24h-3zM1493 728h4v24h-4zM1527 728h10v24h-10zM1618 728h3v24h-3z"/>
<path fill="#fc5e2e" d="M1105 728h3v24h-3zM1112 728h3v24h-3zM1176 728h7v24h-7zM1193 728h3v24h-3zM1220 728h3v24h-3zM1297 728h4v24h-4zM1314 728h4v24h-4zM1321 728h3v24h-3zM1345 728h3v24h-3zM1446 728h3v24h-3zM1500 728h7v24h-7zM1513 728h11v24h-11zM1554 728h3v24h-3zM1638 728h7v24h-7z"/>
<path fill="#fc5c2e" d="M1146 728h3v24h-3zM1159 728h3v24h-3zM1237 728h6v24h-6zM1304 728h7v24h-7zM1318 728h3v24h-3zM1348 728h3v24h-3zM1382 728h3v24h-3zM1389 728h3v24h-3zM1419 728h3v24h-3zM1507 728h3v24h-3zM1537 728h7v24h-7zM1551 728h3v24h-3zM1564 728h3v24h-3zM1648 728h4v24h-4z"/>
<path fill="#fc5a2d" d="M1122 728h3v24h-3zM1129 728h3v24h-3zM1183 728h3v24h-3zM1189 728h4v24h-4zM1200 728h3v24h-3zM1216 728h4v24h-4zM1227 728h3v24h-3zM1284 728h3v24h-3zM1324 728h4v24h-4zM1331 728h4v24h-4zM1355 728h3v24h-3zM1409 728h3v24h-3zM1436 728h7v24h-7zM1456 728h3v24h-3zM1486 728h4v24h-4zM1571 728h3v24h-3zM1581 728h7v24h-7zM1601 728h4v24h-4zM1611 728h7v24h-7zM1628 728h4v24h-4z"/>
<path fill="#fc582d" d="M1125 728h4v24h-4zM1162 728h4v24h-4zM1169 728h4v24h-4zM1186 728h3v24h-3zM1203 728h3v24h-3zM1250 728h4v24h-4zM1257 728h7v24h-7zM1267 728h10v24h-10zM1294 728h3v24h-3zM1301 728h3v24h-3zM1351 728h4v24h-4zM1365 728h7v24h-7zM1399 728h10v24h-10zM1422 728h4v24h-4zM1429 728h3v24h-3zM1463 728h7v24h-7zM1524 728h3v24h-3zM1557 728h4v24h-4zM1588 728h6v24h-6zM1598 728h3v24h-3zM1608 728h3v24h-3zM1652 728h3v24h-3z"/>
<path fill="#fc562c" d="M1115 728h4v24h-4zM1213 728h3v24h-3zM1233 728h4v24h-4zM1264 728h3v24h-3zM1338 728h7v24h-7zM1372 728h3v24h-3zM1395 728h4v24h-4zM1426 728h3v24h-3zM1432 728h4v24h-4zM1449 728h7v24h-7zM1473 728h3v24h-3zM1483 728h3v24h-3zM1544 728h7v24h-7zM1574 728h4v24h-4zM1621 728h4v24h-4zM1632 728h3v24h-3zM1655 728h5v24h-5z"/>
<path fill="#fc542b" d="M1108 728h4v24h-4zM1119 728h3v24h-3zM1132 728h3v24h-3zM1196 728h4v24h-4zM1206 728h4v24h-4zM1230 728h3v24h-3zM1254 728h3v24h-3zM1328 728h3v24h-3zM1412 728h4v24h-4zM1443 728h3v24h-3zM1567 728h4v24h-4zM1578 728h3v24h-3zM1625 728h3v24h-3zM1358 704h4v24h-4zM1642 704h3v24h-3z"/>
<path fill="#fc522b" d="M1142 728h4v24h-4zM1243 728h7v24h-7zM1335 728h3v24h-3zM1416 728h3v24h-3zM1459 728h4v24h-4zM1605 728h3v24h-3zM1166 704h3v24h-3zM1480 704h3v24h-3z"/>
<path fill="#fc502a" d="M1470 728h3v24h-3zM1561 728h3v24h-3zM1594 728h4v24h-4zM1291 704h3v24h-3zM1490 704h3v24h-3zM1635 704h3v24h-3z"/>
<path fill="#fc4e2a" d="M1095 704h3v24h-3zM1112 704h3v24h-3zM1321 704h3v24h-3zM1375 704h3v24h-3zM1476 704h4v24h-4zM1527 704h3v24h-3zM1638 704h4v24h-4z"/>
<path fill="#fb4c29" d="M1135 728h7v24h-7zM1105 704h3v24h-3zM1125 704h4v24h-4zM1152 704h7v24h-7zM1193 704h3v24h-3zM1210 704h3v24h-3zM1220 704h7v24h-7zM1287 704h4v24h-4zM1311 704h3v24h-3zM1362 704h3v24h-3zM1503 704h4v24h-4zM1530 704h4v24h-4z"/>
<path fill="#fa4b29" d="M1098 704h7v24h-7zM1159 704h3v24h-3zM1173 704h3v24h-3zM1237 704h6v24h-6zM1257 704h3v24h-3zM1318 704h3v24h-3zM1378 704h4v24h-4zM1385 704h4v24h-4zM1419 704h3v24h-3zM1493 704h4v24h-4zM1510 704h3v24h-3zM1517 704h3v24h-3zM1540 704h4v24h-4zM1601 704h4v24h-4zM1645 704h7v24h-7z"/>
<path fill="#f94928" d="M1108 704h4v24h-4zM1146 704h3v24h-3zM1179 704h4v24h-4zM1200 704h3v24h-3zM1213 704h7v24h-7zM1277 704h4v24h-4zM1314 704h4v24h-4zM1409 704h3v24h-3zM1466 704h4v24h-4zM1486 704h4v24h-4zM1497 704h6v24h-6zM1524 704h3v24h-3zM1534 704h3v24h-3zM1547 704h7v24h-7zM1564 704h3v24h-3zM1581 704h3v24h-3zM1618 704h3v24h-3zM1632 704h3v24h-3z"/>
<path fill="#f94828" d="M1122 704h3v24h-3zM1129 704h3v24h-3zM1149 704h3v24h-3zM1162 704h4v24h-4zM1176 704h3v24h-3zM1227 704h3v24h-3zM1267 704h3v24h-3zM1274 704h3v24h-3zM1281 704h3v24h-3zM1297 704h7v24h-7zM1331 704h4v24h-4zM1345 704h3v24h-3zM1355 704h3v24h-3zM1365 704h3v24h-3zM1372 704h3v24h-3zM1392 704h7v24h-7zM1436 704h3v24h-3zM1463 704h3v24h-3zM1473 704h3v24h-3zM1507 704h3v24h-3zM1513 704h4v24h-4zM1520 704h4v24h-4zM1537 704h3v24h-3zM1584 704h7v24h-7zM1608 704h3v24h-3z"/>
<path fill="#f84627" d="M1115 704h4v24h-4zM1189 704h4v24h-4zM1196 704h4v24h-4zM1230 704h3v24h-3zM1284 704h3v24h-3zM1294 704h3v24h-3zM1304 704h7v24h-7zM1324 704h7v24h-7zM1348 704h3v24h-3zM1399 704h3v24h-3zM1412 704h4v24h-4zM1426 704h3v24h-3zM1432 704h4v24h-4zM1439 704h14v24h-14zM1483 704h3v24h-3zM1554 704h3v24h-3zM1571 704h3v24h-3zM1591 704h3v24h-3zM1598 704h3v24h-3zM1611 704h4v24h-4zM1628 704h4v24h-4zM1652 704h3v24h-3z"/>
<path fill="#f74427" d="M1119 704h3v24h-3zM1132 704h3v24h-3zM1169 704h4v24h-4zM1186 704h3v24h-3zM1233 704h4v24h-4zM1270 704h4v24h-4zM1338 704h7v24h-7zM1368 704h4v24h-4zM1382 704h3v24h-3zM1389 704h3v24h-3zM1416 704h3v24h-3zM1429 704h3v24h-3zM1453 704h6v24h-6zM1544 704h3v24h-3zM1557 704h7v24h-7zM1578 704h3v24h-3zM1615 704h3v24h-3zM1621 704h4v24h-4z"/>
<path fill="#f64327" d="M1203 704h7v24h-7zM1260 704h4v24h-4zM1351 704h4v24h-4zM1402 704h7v24h-7zM1422 704h4v24h-4zM1459 704h4v24h-4zM1594 704h4v24h-4zM1655 704h5v24h-5z"/>
<path fill="#f64126" d="M1135 704h7v24h-7zM1183 704h3v24h-3zM1243 704h4v24h-4zM1250 704h7v24h-7zM1264 704h3v24h-3zM1335 704h3v24h-3zM1470 704h3v24h-3zM1567 704h4v24h-4zM1574 704h4v24h-4zM1625 704h3v24h-3z"/>
<path fill="#f53f26" d="M1605 704h3v24h-3z"/>
<path fill="#f33c25" d="M1142 704h4v24h-4zM1247 704h3v24h-3zM1166 680h3v24h-3z"/>
<path fill="#f23b24" d="M1291 680h3v24h-3z"/>
<path fill="#f23924" d="M1480 680h3v24h-3z"/>
<path fill="#f13724" d="M1321 680h3v24h-3z"/>
<path fill="#f03623" d="M1362 680h3v24h-3zM1375 680h3v24h-3zM1385 680h4v24h-4zM1530 680h4v24h-4z"/>
<path fill="#ef3423" d="M1112 680h3v24h-3zM1318 680h3v24h-3zM1358 680h4v24h-4zM1490 680h3v24h-3zM1497 680h3v24h-3zM1534 680h3v24h-3zM1618 680h3v24h-3zM1642 680h3v24h-3z"/>
<path fill="#ee3222" d="M1095 680h7v24h-7zM1152 680h4v24h-4zM1173 680h10v24h-10zM1220 680h3v24h-3zM1277 680h4v24h-4zM1301 680h3v24h-3zM1311 680h3v24h-3zM1345 680h3v24h-3zM1378 680h4v24h-4zM1419 680h3v24h-3zM1500 680h3v24h-3zM1537 680h7v24h-7zM1554 680h3v24h-3zM1601 680h4v24h-4zM1635 680h7v24h-7zM1648 680h4v24h-4z"/>
<path fill="#ee3122" d="M1105 680h3v24h-3zM1125 680h4v24h-4zM1156 680h6v24h-6zM1210 680h3v24h-3zM1287 680h4v24h-4zM1297 680h4v24h-4zM1308 680h3v24h-3zM1348 680h3v24h-3zM1389 680h6v24h-6zM1439 680h4v24h-4zM1503 680h7v24h-7zM1527 680h3v24h-3zM1547 680h4v24h-4zM1564 680h3v24h-3zM1608 680h3v24h-3zM1652 680h3v24h-3z"/>
<path fill="#ed2f21" d="M1108 680h4v24h-4zM1162 680h4v24h-4zM1223 680h4v24h-4zM1237 680h6v24h-6zM1281 680h3v24h-3zM1351 680h4v24h-4zM1372 680h3v24h-3zM1426 680h6v24h-6zM1466 680h4v24h-4zM1486 680h4v24h-4zM1510 680h3v24h-3zM1520 680h4v24h-4zM1551 680h3v24h-3zM1581 680h3v24h-3zM1588 680h3v24h-3zM1611 680h4v24h-4zM1625 680h10v24h-10z"/>
<path fill="#ec2d21" d="M1115 680h4v24h-4zM1122 680h3v24h-3zM1146 680h6v24h-6zM1189 680h7v24h-7zM1200 680h6v24h-6zM1230 680h7v24h-7zM1257 680h3v24h-3zM1270 680h4v24h-4zM1284 680h3v24h-3zM1365 680h7v24h-7zM1405 680h4v24h-4zM1412 680h4v24h-4zM1432 680h4v24h-4zM1459 680h7v24h-7zM1476 680h4v24h-4zM1483 680h3v24h-3zM1524 680h3v24h-3zM1544 680h3v24h-3zM1571 680h3v24h-3z"/>
<path fill="#eb2c20" d="M1129 680h3v24h-3zM1169 680h4v24h-4zM1186 680h3v24h-3zM1213 680h3v24h-3zM1267 680h3v24h-3zM1304 680h4v24h-4zM1338 680h3v24h-3zM1399 680h3v24h-3zM1409 680h3v24h-3zM1443 680h6v24h-6zM1453 680h6v24h-6zM1513 680h7v24h-7zM1567 680h4v24h-4zM1584 680h4v24h-4zM1615 680h3v24h-3zM1655 680h5v24h-5z"/>
<path fill="#eb2a20" d="M1227 680h3v24h-3zM1254 680h3v24h-3zM1274 680h3v24h-3zM1341 680h4v24h-4zM1355 680h3v24h-3zM1395 680h4v24h-4zM1416 680h3v24h-3zM1436 680h3v24h-3zM1473 680h3v24h-3zM1493 680h4v24h-4zM1557 680h4v24h-4zM1578 680h3v24h-3zM1594 680h4v24h-4z"/>
<path fill="#ea2920" d="M1119 680h3v24h-3zM1132 680h7v24h-7zM1183 680h3v24h-3zM1196 680h4v24h-4zM1206 680h4v24h-4zM1216 680h4v24h-4zM1243 680h4v24h-4zM1260 680h4v24h-4zM1294 680h3v24h-3zM1402 680h3v24h-3zM1422 680h4v24h-4zM1449 680h4v24h-4zM1470 680h3v24h-3zM1561 680h3v24h-3zM1574 680h4v24h-4zM1598 680h3v24h-3z"/>
<path fill="#e9271f" d="M1102 680h3v24h-3zM1139 680h3v24h-3zM1264 680h3v24h-3zM1314 680h4v24h-4zM1324 680h7v24h-7z"/>
<path fill="#e8251f" d="M1142 680h4v24h-4zM1250 680h4v24h-4zM1331 680h4v24h-4zM1591 680h3v24h-3zM1605 680h3v24h-3zM1645 680h3v24h-3z"/>
<path fill="#e7241e" d="M1621 680h4v24h-4zM1166 656h3v24h-3zM1291 656h3v24h-3z"/>
<path fill="#e7221e" d="M1382 680h3v24h-3z"/>
<path fill="#e6201d" d="M1247 680h3v24h-3z"/>
<path fill="#e51f1d" d="M1098 656h4v24h-4zM1321 656h3v24h-3zM1480 656h3v24h-3zM1642 656h3v24h-3z"/>
<path fill="#e41d1c" d="M1095 656h3v24h-3zM1210 656h3v24h-3zM1345 656h3v24h-3zM1362 656h3v24h-3zM1490 656h3v24h-3z"/>
<path fill="#e31c1c" d="M1335 680h3v24h-3zM1156 656h3v24h-3z"/>
<path fill="#e31a1c" d="M1105 656h3v24h-3zM1152 656h4v24h-4zM1159 656h3v24h-3zM1173 656h3v24h-3zM1193 656h3v24h-3zM1223 656h4v24h-4zM1257 656h3v24h-3zM1277 656h4v24h-4zM1301 656h3v24h-3zM1358 656h4v24h-4zM1375 656h3v24h-3zM1385 656h4v24h-4zM1500 656h3v24h-3zM1540 656h4v24h-4zM1618 656h3v24h-3zM1635 656h7v24h-7z"/>
<path fill="#e2191c" d="M1108 656h7v24h-7zM1122 656h3v24h-3zM1220 656h3v24h-3zM1281 656h3v24h-3zM1287 656h4v24h-4zM1297 656h4v24h-4zM1311 656h3v24h-3zM1318 656h3v24h-3zM1419 656h3v24h-3zM1436 656h3v24h-3zM1486 656h4v24h-4zM1497 656h3v24h-3zM1503 656h4v24h-4zM1510 656h3v24h-3zM1547 656h4v24h-4zM1554 656h3v24h-3zM1608 656h3v24h-3zM1648 656h4v24h-4z"/>
<path fill="#e0181c" d="M1115 656h4v24h-4zM1125 656h4v24h-4zM1149 656h3v24h-3zM1179 656h4v24h-4zM1189 656h4v24h-4zM1237 656h3v24h-3zM1270 656h4v24h-4zM1348 656h3v24h-3zM1378 656h4v24h-4zM1395 656h4v24h-4zM1432 656h4v24h-4zM1443 656h6v24h-6zM1507 656h3v24h-3zM1513 656h17v24h-17zM1534 656h3v24h-3zM1564 656h3v24h-3zM1588 656h3v24h-3zM1628 656h4v24h-4zM1652 656h3v24h-3z"/>
<path fill="#df171c" d="M1129 656h3v24h-3zM1146 656h3v24h-3zM1162 656h4v24h-4zM1186 656h3v24h-3zM1200 656h3v24h-3zM1240 656h3v24h-3zM1260 656h4v24h-4zM1284 656h3v24h-3zM1308 656h3v24h-3zM1338 656h3v24h-3zM1355 656h3v24h-3zM1372 656h3v24h-3zM1392 656h3v24h-3zM1399 656h3v24h-3zM1412 656h4v24h-4zM1426 656h6v24h-6zM1439 656h4v24h-4zM1466 656h4v24h-4zM1537 656h3v24h-3zM1551 656h3v24h-3zM1581 656h7v24h-7zM1615 656h3v24h-3z"/>
<path fill="#de161d" d="M1176 656h3v24h-3zM1227 656h10v24h-10zM1365 656h7v24h-7zM1389 656h3v24h-3zM1422 656h4v24h-4zM1456 656h3v24h-3zM1530 656h4v24h-4zM1544 656h3v24h-3zM1557 656h4v24h-4zM1598 656h7v24h-7zM1611 656h4v24h-4zM1625 656h3v24h-3zM1632 656h3v24h-3z"/>
<path fill="#dd161d" d="M1119 656h3v24h-3zM1139 656h3v24h-3zM1169 656h4v24h-4zM1183 656h3v24h-3zM1196 656h4v24h-4zM1243 656h4v24h-4zM1274 656h3v24h-3zM1294 656h3v24h-3zM1314 656h4v24h-4zM1341 656h4v24h-4zM1351 656h4v24h-4zM1382 656h3v24h-3zM1402 656h7v24h-7zM1416 656h3v24h-3zM1449 656h4v24h-4zM1483 656h3v24h-3zM1571 656h3v24h-3zM1655 656h5v24h-5z"/>
<path fill="#dc151d" d="M1142 656h4v24h-4zM1203 656h3v24h-3zM1213 656h3v24h-3zM1267 656h3v24h-3zM1304 656h4v24h-4zM1409 656h3v24h-3zM1453 656h3v24h-3zM1463 656h3v24h-3zM1473 656h7v24h-7zM1567 656h4v24h-4zM1463 632h3v24h-3z"/>
<path fill="#da141e" d="M1132 656h3v24h-3zM1206 656h4v24h-4zM1264 656h3v24h-3zM1324 656h11v24h-11zM1493 656h4v24h-4zM1561 656h3v24h-3zM1574 656h7v24h-7zM1605 656h3v24h-3z"/>
<path fill="#d9131e" d="M1102 656h3v24h-3zM1135 656h4v24h-4zM1216 656h4v24h-4zM1254 656h3v24h-3zM1459 656h4v24h-4zM1591 656h7v24h-7zM1621 656h4v24h-4zM1638 632h4v24h-4z"/>
<path fill="#d8121e" d="M1179 632h4v24h-4z"/>
<path fill="#d7121f" d="M1470 656h3v24h-3zM1200 632h3v24h-3zM1449 632h4v24h-4z"/>
<path fill="#d6111f" d="M1250 656h4v24h-4zM1287 632h4v24h-4z"/>
<path fill="#d4101f" d="M1247 656h3v24h-3zM1335 656h3v24h-3z"/>
<path fill="#d30f20" d="M1645 656h3v24h-3z"/>
<path fill="#d20e20" d="M1193 632h3v24h-3zM1227 632h3v24h-3zM1530 632h4v24h-4z"/>
<path fill="#d10d20" d="M1095 632h3v24h-3zM1432 632h4v24h-4zM1446 632h3v24h-3z"/>
<path fill="#d00d20" d="M1210 632h3v24h-3zM1297 632h4v24h-4z"/>
<path fill="#cf0c21" d="M1098 632h7v24h-7zM1328 632h3v24h-3zM1416 632h3v24h-3zM1466 632h4v24h-4zM1574 632h4v24h-4z"/>
<path fill="#cd0b21" d="M1152 632h4v24h-4zM1277 632h4v24h-4zM1436 632h3v24h-3zM1497 632h3v24h-3z"/>
<path fill="#cc0a21" d="M1156 632h3v24h-3zM1291 632h3v24h-3zM1311 632h3v24h-3zM1375 632h3v24h-3zM1443 632h3v24h-3zM1503 632h4v24h-4zM1540 632h4v24h-4z"/>
<path fill="#cb0922" d="M1112 632h3v24h-3zM1162 632h4v24h-4zM1372 632h3v24h-3zM1500 632h3v24h-3zM1628 632h4v24h-4z"/>
<path fill="#ca0922" d="M1125 632h4v24h-4zM1220 632h3v24h-3zM1281 632h3v24h-3zM1304 632h4v24h-4zM1358 632h4v24h-4zM1534 632h6v24h-6zM1564 632h3v24h-3zM1588 632h3v24h-3z"/>
<path fill="#c90822" d="M1105 632h3v24h-3zM1135 632h4v24h-4zM1223 632h4v24h-4zM1237 632h3v24h-3zM1456 632h3v24h-3zM1507 632h3v24h-3zM1513 632h4v24h-4zM1527 632h3v24h-3zM1567 632h4v24h-4zM1578 632h3v24h-3zM1601 632h4v24h-4zM1648 632h4v24h-4z"/>
<path fill="#c70723" d="M1159 632h3v24h-3zM1166 632h3v24h-3zM1189 632h4v24h-4zM1385 632h4v24h-4zM1439 632h4v24h-4zM1490 632h3v24h-3zM1618 632h3v24h-3z"/>
<path fill="#c60623" d="M1122 632h3v24h-3zM1149 632h3v24h-3zM1308 632h3v24h-3zM1318 632h3v24h-3zM1429 632h3v24h-3zM1486 632h4v24h-4zM1517 632h3v24h-3zM1547 632h4v24h-4zM1554 632h7v24h-7zM1608 632h3v24h-3zM1615 632h3v24h-3zM1645 632h3v24h-3zM1652 632h3v24h-3z"/>
<path fill="#c50523" d="M1146 632h3v24h-3zM1176 632h3v24h-3zM1186 632h3v24h-3zM1203 632h3v24h-3zM1233 632h4v24h-4zM1270 632h4v24h-4zM1284 632h3v24h-3zM1294 632h3v24h-3zM1314 632h4v24h-4zM1399 632h3v24h-3zM1419 632h3v24h-3zM1453 632h3v24h-3zM1459 632h4v24h-4zM1520 632h4v24h-4zM1551 632h3v24h-3zM1584 632h4v24h-4zM1611 632h4v24h-4zM1635 632h3v24h-3z"/>
<path fill="#c40424" d="M1173 632h3v24h-3zM1240 632h3v24h-3zM1267 632h3v24h-3zM1301 632h3v24h-3zM1321 632h3v24h-3zM1348 632h3v24h-3zM1378 632h4v24h-4zM1395 632h4v24h-4zM1409 632h7v24h-7zM1473 632h3v24h-3zM1524 632h3v24h-3zM1581 632h3v24h-3zM1642 632h3v24h-3z"/>
<path fill="#c30424" d="M1115 632h4v24h-4zM1129 632h3v24h-3zM1169 632h4v24h-4zM1216 632h4v24h-4zM1230 632h3v24h-3zM1274 632h3v24h-3zM1355 632h3v24h-3zM1362 632h3v24h-3zM1392 632h3v24h-3zM1402 632h7v24h-7zM1426 632h3v24h-3zM1493 632h4v24h-4zM1632 632h3v24h-3z"/>
<path fill="#c10324" d="M1108 632h4v24h-4zM1132 632h3v24h-3zM1139 632h7v24h-7zM1213 632h3v24h-3zM1260 632h4v24h-4zM1331 632h4v24h-4zM1351 632h4v24h-4zM1389 632h3v24h-3zM1422 632h4v24h-4zM1510 632h3v24h-3zM1598 632h3v24h-3zM1625 632h3v24h-3zM1655 632h5v24h-5z"/>
<path fill="#c00225" d="M1368 632h4v24h-4zM1480 632h3v24h-3zM1544 632h3v24h-3zM1561 632h3v24h-3z"/>
<path fill="#bf0125" d="M1196 632h4v24h-4zM1264 632h3v24h-3zM1338 632h10v24h-10zM1365 632h3v24h-3zM1571 632h3v24h-3zM1287 607h4v25h-4z"/>
<path fill="#be0025" d="M1119 632h3v24h-3zM1183 632h3v24h-3zM1206 632h4v24h-4zM1483 632h3v24h-3z"/>
<path fill="#bd0025" d="M1324 632h4v24h-4zM1470 632h3v24h-3zM1476 632h4v24h-4zM1591 632h7v24h-7zM1605 632h3v24h-3z"/>
<path fill="#bb0026" d="M1243 632h4v24h-4zM1254 632h3v24h-3zM1621 632h4v24h-4z"/>
<path fill="#b90026" d="M1247 632h3v24h-3zM1335 632h3v24h-3zM1530 607h4v25h-4zM1638 607h4v25h-4z"/>
<path fill="#b70026" d="M1382 632h3v24h-3z"/>
<path fill="#b50026" d="M1257 632h3v24h-3z"/>
<path fill="#b30026" d="M1250 632h4v24h-4z"/>
<path fill="#b10026" d="M1297 607h4v25h-4zM1446 607h7v25h-7z"/>
<path fill="#ad0026" d="M1210 607h3v25h-3z"/>
<path fill="#ac0026" d="M1112 607h3v25h-3z"/>
<path fill="#aa0026" d="M1179 607h4v25h-4zM1193 607h3v25h-3zM1567 607h4v25h-4z"/>
<path fill="#a80026" d="M1102 607h3v25h-3z"/>
<path fill="#a40026" d="M1436 607h3v25h-3zM1463 607h7v25h-7zM1503 607h4v25h-4z"/>
<path fill="#a20026" d="M1375 607h3v25h-3zM1432 607h4v25h-4z"/>
<path fill="#a00026" d="M1152 607h4v25h-4zM1220 607h3v25h-3zM1277 607h4v25h-4zM1574 607h4v25h-4zM1611 607h4v25h-4zM1628 607h4v25h-4z"/>
<path fill="#9e0026" d="M1095 607h3v25h-3zM1149 607h3v25h-3zM1156 607h3v25h-3zM1162 607h4v25h-4zM1200 607h3v25h-3zM1227 607h3v25h-3zM1291 607h3v25h-3zM1311 607h3v25h-3zM1416 607h6v25h-6zM1527 607h3v25h-3zM1540 607h4v25h-4z"/>
<path fill="#9c0026" d="M1281 607h3v25h-3zM1331 607h4v25h-4zM1429 607h3v25h-3zM1480 607h3v25h-3zM1500 607h3v25h-3zM1507 607h3v25h-3zM1534 607h3v25h-3zM1551 607h3v25h-3zM1618 607h3v25h-3z"/>
<path fill="#9a0026" d="M1176 607h3v25h-3zM1301 607h3v25h-3zM1308 607h3v25h-3zM1608 607h3v25h-3z"/>
<path fill="#980026" d="M1098 607h4v25h-4zM1125 607h4v25h-4zM1146 607h3v25h-3zM1321 607h3v25h-3zM1328 607h3v25h-3zM1385 607h4v25h-4zM1402 607h7v25h-7zM1443 607h3v25h-3zM1520 607h7v25h-7zM1547 607h4v25h-4zM1578 607h3v25h-3zM1648 607h4v25h-4z"/>
<path fill="#960026" d="M1115 607h4v25h-4zM1166 607h3v25h-3zM1223 607h4v25h-4zM1341 607h4v25h-4zM1368 607h7v25h-7zM1389 607h3v25h-3zM1439 607h4v25h-4zM1473 607h3v25h-3zM1493 607h4v25h-4zM1537 607h3v25h-3zM1632 607h3v25h-3zM1652 607h3v25h-3z"/>
<path fill="#950026" d="M1105 607h3v25h-3zM1135 607h4v25h-4zM1159 607h3v25h-3zM1169 607h4v25h-4zM1237 607h3v25h-3zM1294 607h3v25h-3zM1348 607h3v25h-3zM1358 607h4v25h-4zM1392 607h3v25h-3zM1409 607h3v25h-3zM1486 607h7v25h-7zM1497 607h3v25h-3zM1510 607h3v25h-3zM1544 607h3v25h-3zM1564 607h3v25h-3zM1584 607h4v25h-4zM1601 607h4v25h-4zM1635 607h3v25h-3z"/>
<path fill="#930026" d="M1108 607h4v25h-4zM1122 607h3v25h-3zM1129 607h3v25h-3zM1173 607h3v25h-3zM1189 607h4v25h-4zM1230 607h3v25h-3zM1264 607h3v25h-3zM1284 607h3v25h-3zM1362 607h3v25h-3zM1378 607h4v25h-4zM1395 607h4v25h-4zM1422 607h4v25h-4zM1517 607h3v25h-3zM1554 607h3v25h-3zM1588 607h3v25h-3zM1615 607h3v25h-3zM1655 607h5v25h-5z"/>
<path fill="#910026" d="M1243 607h4v25h-4zM1274 607h3v25h-3zM1304 607h4v25h-4zM1318 607h3v25h-3zM1338 607h3v25h-3zM1345 607h3v25h-3zM1399 607h3v25h-3zM1456 607h3v25h-3zM1483 607h3v25h-3zM1513 607h4v25h-4zM1571 607h3v25h-3zM1581 607h3v25h-3zM1645 607h3v25h-3z"/>
<path fill="#8f0026" d="M1196 607h4v25h-4zM1206 607h4v25h-4zM1324 607h4v25h-4zM1351 607h4v25h-4zM1365 607h3v25h-3zM1621 607h4v25h-4z"/>
<path fill="#8d0026" d="M1183 607h6v25h-6zM1203 607h3v25h-3zM1233 607h4v25h-4zM1254 607h3v25h-3zM1355 607h3v25h-3zM1412 607h4v25h-4zM1426 607h3v25h-3zM1625 607h3v25h-3zM1642 607h3v25h-3z"/>
<path fill="#8b0026" d="M1132 607h3v25h-3zM1213 607h3v25h-3zM1267 607h7v25h-7zM1314 607h4v25h-4zM1453 607h3v25h-3zM1561 607h3v25h-3zM1598 607h3v25h-3zM1605 607h3v25h-3z"/>
<path fill="#890026" d="M1240 607h3v25h-3zM1459 607h4v25h-4zM1557 607h4v25h-4zM1591 607h3v25h-3z"/>
<path fill="#870026" d="M1142 607h4v25h-4zM1216 607h4v25h-4zM1382 607h3v25h-3zM1470 607h3v25h-3zM1476 607h4v25h-4z"/>
<path fill="#850026" d="M1119 607h3v25h-3zM1257 607h7v25h-7z"/>
<path fill="#830026" d="M1139 607h3v25h-3zM1594 607h4v25h-4z"/>
<path fill="#810026" d="M1247 607h3v25h-3z"/>
<path fill="#800026" d="M1250 607h4v25h-4zM1335 607h3v25h-3zM1095 583h565v24h-565zM1095 559h565v24h-565z"/>
</g>
<path class="g" d="M1095.5 559.5V824.5M1176.5 559.5V824.5M1257.5 559.5V824.5M1338.5 559.5V824.5M1419.5 559.5V824.5M1500.5 559.5V824.5M1581.5 559.5V824.5"/>
<path class="k" d="M1095.5 824.14v5.3M1176.5 824.14v5.3M1257.5 824.14v5.3M1338.5 824.14v5.3M1419.5 824.14v5.3M1500.5 824.14v5.3M1581.5 824.14v5.3M1095.45 824.5h-5.2M1095.45 703.5h-5.2M1095.45 631.5h-5.2"/>
<rect class="k" x="1095.5" y="559.5" width="564" height="265"/>
<rect x="1694.5" y="559.5" width="14" height="265" fill="url(#cm)"/>
<rect class="k" x="1694.5" y="559.5" width="14" height="265"/>
<path class="k" d="M1707.59 812.5h5.5M1707.59 765.5h5.5M1707.59 717.5h5.5M1707.59 669.5h5.5M1707.59 622.5h5.5M1707.59 574.5h5.5"/>
<g class="c">
<path fill="#fffdc7" d="M607 1119h7v25h-7z"/>
<path fill="#fffcc5" d="M378 1119h3v25h-3z"/>
<path fill="#fffbc2" d="M462 1119h4v25h-4z"/>
<path fill="#fffac0" d="M574 1119h3v25h-3z"/>
<path fill="#fff8bc" d="M401 1119h4v25h-4z"/>
<path fill="#fff8bb" d="M800 1119h3v25h-3z"/>
<path fill="#fff7ba" d="M486 1119h3v25h-3zM526 1119h4v25h-4z"/>
<path fill="#fff7b8" d="M354 1119h4v25h-4zM665 1119h3v25h-3zM671 1119h4v25h-4z"/>
<path fill="#fff6b7" d="M550 1119h3v25h-3z"/>
<path fill="#fff5b5" d="M351 1119h3v25h-3zM553 1119h4v25h-4zM756 1119h3v25h-3z"/>
<path fill="#fff5b4" d="M358 1119h3v25h-3zM374 1119h4v25h-4zM398 1119h3v25h-3zM634 1119h4v25h-4zM668 1119h3v25h-3z"/>
<path fill="#fff4b3" d="M422 1119h3v25h-3z"/>
<path fill="#fff4b1" d="M459 1119h3v25h-3z"/>
<path fill="#fff3af" d="M557 1119h3v25h-3zM715 1119h4v25h-4z"/>
<path fill="#fff2ad" d="M273 1119h4v25h-4zM344 1119h3v25h-3zM415 1119h3v25h-3z"/>
<path fill="#fff2ac" d="M364 1119h4v25h-4z"/>
<path fill="#fff0a8" d="M347 1119h4v25h-4zM752 1119h4v25h-4z"/>
<path fill="#ffeea3" d="M425 1119h3v25h-3z"/>
<path fill="#ffeea2" d="M408 1119h4v25h-4z"/>
<path fill="#feec9f" d="M314 1119h3v25h-3zM361 1119h3v25h-3z"/>
<path fill="#feeb9d" d="M644 1119h4v25h-4z"/>
<path fill="#feeb9b" d="M638 1119h3v25h-3zM648 1119h3v25h-3z"/>
<path fill="#fee795" d="M560 1119h3v25h-3zM790 1119h3v25h-3z"/>
<path fill="#fee691" d="M310 1119h4v25h-4z"/>
<path fill="#fee48e" d="M263 1119h3v25h-3zM472 1119h4v25h-4zM685 1119h3v25h-3zM702 1119h3v25h-3z"/>
<path fill="#fee48d" d="M253 1119h3v25h-3zM331 1119h3v25h-3zM793 1119h3v25h-3z"/>
<path fill="#fee38c" d="M320 1119h4v25h-4zM442 1119h3v25h-3z"/>
<path fill="#fee28a" d="M277 1119h3v25h-3zM300 1119h4v25h-4zM324 1119h3v25h-3zM391 1119h4v25h-4zM482 1119h4v25h-4zM695 1119h3v25h-3zM709 1119h3v25h-3z"/>
<path fill="#fee289" d="M256 1119h4v25h-4zM270 1119h3v25h-3zM280 1119h3v25h-3zM317 1119h3v25h-3zM368 1119h3v25h-3zM418 1119h4v25h-4zM547 1119h3v25h-3zM570 1119h4v25h-4z"/>
<path fill="#fee188" d="M307 1119h3v25h-3zM334 1119h3v25h-3zM516 1119h4v25h-4zM601 1119h3v25h-3zM651 1119h7v25h-7zM678 1119h4v25h-4zM736 1119h10v25h-10zM759 1119h7v25h-7zM796 1119h4v25h-4z"/>
<path fill="#fee186" d="M513 1119h3v25h-3zM523 1119h3v25h-3zM621 1119h3v25h-3zM688 1119h4v25h-4zM729 1119h3v25h-3z"/>
<path fill="#fee085" d="M283 1119h7v25h-7zM385 1119h3v25h-3zM449 1119h3v25h-3zM705 1119h4v25h-4z"/>
<path fill="#fedf84" d="M293 1119h4v25h-4zM371 1119h3v25h-3zM381 1119h4v25h-4zM455 1119h4v25h-4zM496 1119h3v25h-3zM509 1119h4v25h-4zM530 1119h3v25h-3zM536 1119h4v25h-4zM577 1119h3v25h-3zM712 1119h3v25h-3zM806 1119h4v25h-4z"/>
<path fill="#fedf82" d="M260 1119h3v25h-3zM297 1119h3v25h-3zM428 1119h4v25h-4zM466 1119h3v25h-3zM479 1119h3v25h-3zM506 1119h3v25h-3zM580 1119h4v25h-4zM628 1119h3v25h-3zM779 1119h4v25h-4z"/>
<path fill="#fede81" d="M304 1119h3v25h-3zM469 1119h3v25h-3zM476 1119h3v25h-3zM489 1119h7v25h-7zM563 1119h4v25h-4zM590 1119h4v25h-4zM682 1119h3v25h-3zM722 1119h7v25h-7zM732 1119h4v25h-4z"/>
<path fill="#fedd80" d="M327 1119h4v25h-4zM337 1119h4v25h-4zM405 1119h3v25h-3zM445 1119h4v25h-4zM520 1119h3v25h-3zM543 1119h4v25h-4zM597 1119h4v25h-4zM658 1119h7v25h-7zM746 1119h3v25h-3zM766 1119h3v25h-3zM786 1119h4v25h-4zM803 1119h3v25h-3z"/>
<path fill="#fedd7e" d="M439 1119h3v25h-3zM499 1119h4v25h-4zM567 1119h3v25h-3zM594 1119h3v25h-3zM617 1119h4v25h-4zM631 1119h3v25h-3zM719 1119h3v25h-3zM769 1119h4v25h-4z"/>
<path fill="#fedc7d" d="M250 1119h3v25h-3zM290 1119h3v25h-3zM412 1119h3v25h-3zM432 1119h3v25h-3zM503 1119h3v25h-3zM540 1119h3v25h-3zM584 1119h3v25h-3zM624 1119h4v25h-4zM773 1119h3v25h-3z"/>
<path fill="#fedb7c" d="M266 1119h4v25h-4zM388 1119h3v25h-3zM452 1119h3v25h-3zM533 1119h3v25h-3zM614 1119h3v25h-3zM698 1119h4v25h-4zM783 1119h3v25h-3z"/>
<path fill="#fedb7a" d="M395 1119h3v25h-3zM435 1119h4v25h-4zM692 1119h3v25h-3zM810 1119h5v25h-5z"/>
<path fill="#feda79" d="M587 1119h3v25h-3zM604 1119h3v25h-3zM675 1119h3v25h-3z"/>
<path fill="#feda78" d="M776 1119h3v25h-3z"/>
<path fill="#fed976" d="M341 1119h3v25h-3z"/>
<path fill="#fed875" d="M641 1119h3v25h-3z"/>
<path fill="#fed774" d="M749 1119h3v25h-3z"/>
<path fill="#fda948" d="M300 1095h4v24h-4zM385 1095h3v24h-3zM405 1095h3v24h-3zM469 1095h3v24h-3zM496 1095h3v24h-3zM523 1095h3v24h-3zM540 1095h7v24h-7zM671 1095h4v24h-4zM712 1095h3v24h-3z"/>
<path fill="#fda847" d="M250 1095h3v24h-3zM256 1095h7v24h-7zM290 1095h3v24h-3zM297 1095h3v24h-3zM304 1095h6v24h-6zM314 1095h3v24h-3zM327 1095h17v24h-17zM354 1095h7v24h-7zM381 1095h4v24h-4zM388 1095h3v24h-3zM395 1095h10v24h-10zM408 1095h4v24h-4zM415 1095h13v24h-13zM432 1095h3v24h-3zM439 1095h3v24h-3zM445 1095h14v24h-14zM462 1095h4v24h-4zM493 1095h3v24h-3zM499 1095h4v24h-4zM513 1095h3v24h-3zM520 1095h3v24h-3zM526 1095h4v24h-4zM550 1095h10v24h-10zM570 1095h4v24h-4zM580 1095h7v24h-7zM597 1095h10v24h-10zM617 1095h4v24h-4zM624 1095h4v24h-4zM644 1095h4v24h-4zM651 1095h14v24h-14zM668 1095h3v24h-3zM688 1095h4v24h-4zM695 1095h7v24h-7zM705 1095h7v24h-7zM715 1095h10v24h-10zM736 1095h3v24h-3zM742 1095h4v24h-4zM766 1095h3v24h-3zM783 1095h7v24h-7z"/>
<path fill="#fda747" d="M253 1095h3v24h-3zM263 1095h20v24h-20zM287 1095h3v24h-3zM293 1095h4v24h-4zM310 1095h4v24h-4zM320 1095h7v24h-7zM344 1095h10v24h-10zM361 1095h17v24h-17zM391 1095h4v24h-4zM412 1095h3v24h-3zM428 1095h4v24h-4zM435 1095h4v24h-4zM442 1095h3v24h-3zM459 1095h3v24h-3zM466 1095h3v24h-3zM472 1095h14v24h-14zM489 1095h4v24h-4zM506 1095h7v24h-7zM516 1095h4v24h-4zM530 1095h10v24h-10zM547 1095h3v24h-3zM560 1095h10v24h-10zM574 1095h3v24h-3zM587 1095h10v24h-10zM607 1095h10v24h-10zM621 1095h3v24h-3zM628 1095h13v24h-13zM648 1095h3v24h-3zM665 1095h3v24h-3zM675 1095h3v24h-3zM685 1095h3v24h-3zM692 1095h3v24h-3zM702 1095h3v24h-3zM729 1095h7v24h-7zM752 1095h7v24h-7zM763 1095h3v24h-3zM773 1095h3v24h-3zM790 1095h16v24h-16zM810 1095h5v24h-5z"/>
<path fill="#fda546" d="M283 1095h4v24h-4zM317 1095h3v24h-3zM378 1095h3v24h-3zM486 1095h3v24h-3zM503 1095h3v24h-3zM577 1095h3v24h-3zM641 1095h3v24h-3zM678 1095h7v24h-7zM725 1095h4v24h-4zM739 1095h3v24h-3zM746 1095h6v24h-6zM759 1095h4v24h-4zM769 1095h4v24h-4zM776 1095h7v24h-7zM806 1095h4v24h-4z"/>
<path fill="#fda345" d="M334 1071h3v24h-3zM405 1071h3v24h-3zM439 1071h3v24h-3zM449 1071h3v24h-3zM493 1071h6v24h-6zM553 1071h4v24h-4zM584 1071h3v24h-3zM709 1071h3v24h-3z"/>
<path fill="#fda245" d="M260 1071h10v24h-10zM300 1071h14v24h-14zM317 1071h3v24h-3zM324 1071h10v24h-10zM337 1071h7v24h-7zM351 1071h13v24h-13zM371 1071h3v24h-3zM381 1071h7v24h-7zM395 1071h3v24h-3zM401 1071h4v24h-4zM408 1071h7v24h-7zM418 1071h4v24h-4zM432 1071h7v24h-7zM445 1071h4v24h-4zM462 1071h10v24h-10zM479 1071h3v24h-3zM516 1071h14v24h-14zM547 1071h6v24h-6zM580 1071h4v24h-4zM594 1071h3v24h-3zM601 1071h6v24h-6zM624 1071h17v24h-17zM644 1071h7v24h-7zM668 1071h7v24h-7zM685 1071h3v24h-3zM695 1071h7v24h-7zM712 1071h3v24h-3zM719 1071h10v24h-10zM732 1071h4v24h-4zM742 1071h4v24h-4zM756 1071h3v24h-3zM763 1071h6v24h-6z"/>
<path fill="#fda144" d="M250 1071h10v24h-10zM270 1071h7v24h-7zM280 1071h3v24h-3zM290 1071h10v24h-10zM314 1071h3v24h-3zM320 1071h4v24h-4zM344 1071h7v24h-7zM364 1071h7v24h-7zM374 1071h4v24h-4zM388 1071h7v24h-7zM398 1071h3v24h-3zM415 1071h3v24h-3zM425 1071h7v24h-7zM442 1071h3v24h-3zM455 1071h7v24h-7zM472 1071h7v24h-7zM489 1071h4v24h-4zM499 1071h4v24h-4zM506 1071h10v24h-10zM530 1071h17v24h-17zM557 1071h6v24h-6zM567 1071h13v24h-13zM587 1071h7v24h-7zM597 1071h4v24h-4zM607 1071h17v24h-17zM641 1071h3v24h-3zM651 1071h17v24h-17zM675 1071h3v24h-3zM682 1071h3v24h-3zM688 1071h7v24h-7zM702 1071h7v24h-7zM715 1071h4v24h-4zM729 1071h3v24h-3zM736 1071h3v24h-3zM749 1071h7v24h-7zM759 1071h4v24h-4zM773 1071h27v24h-27zM810 1071h5v24h-5zM709 1047h3v24h-3z"/>
<path fill="#fda044" d="M277 1071h3v24h-3zM283 1071h7v24h-7zM378 1071h3v24h-3zM422 1071h3v24h-3zM452 1071h3v24h-3zM482 1071h4v24h-4zM503 1071h3v24h-3zM563 1071h4v24h-4zM678 1071h4v24h-4zM739 1071h3v24h-3zM746 1071h3v24h-3zM800 1071h10v24h-10zM671 1047h4v24h-4z"/>
<path fill="#fd9e43" d="M486 1071h3v24h-3zM769 1071h4v24h-4zM496 1047h3v24h-3zM712 1047h3v24h-3zM722 1047h3v24h-3zM709 1023h3v24h-3z"/>
<path fill="#fd9d43" d="M449 1047h3v24h-3zM553 1047h4v24h-4zM695 1047h3v24h-3zM756 1047h3v24h-3zM790 1047h3v24h-3z"/>
<path fill="#fd9c42" d="M310 1047h4v24h-4zM358 1047h3v24h-3zM381 1047h4v24h-4zM435 1047h4v24h-4zM445 1047h4v24h-4zM469 1047h3v24h-3zM493 1047h3v24h-3zM499 1047h4v24h-4zM604 1047h3v24h-3zM634 1047h4v24h-4zM658 1047h3v24h-3zM665 1047h6v24h-6zM688 1047h4v24h-4zM705 1047h4v24h-4zM719 1047h3v24h-3zM729 1047h3v24h-3zM766 1047h3v24h-3zM776 1047h3v24h-3zM783 1047h3v24h-3zM783 1023h3v24h-3z"/>
<path fill="#fd9b42" d="M300 1047h4v24h-4zM314 1047h3v24h-3zM327 1047h4v24h-4zM385 1047h3v24h-3zM405 1047h7v24h-7zM425 1047h3v24h-3zM432 1047h3v24h-3zM513 1047h3v24h-3zM533 1047h3v24h-3zM584 1047h3v24h-3zM597 1047h7v24h-7zM644 1047h4v24h-4zM655 1047h3v24h-3zM685 1047h3v24h-3zM698 1047h4v24h-4zM715 1047h4v24h-4zM736 1047h3v24h-3zM742 1047h4v24h-4zM759 1047h4v24h-4zM786 1047h4v24h-4zM665 1023h3v24h-3zM776 1023h3v24h-3z"/>
<path fill="#fd9a41" d="M260 1047h3v24h-3zM290 1047h3v24h-3zM317 1047h3v24h-3zM334 1047h7v24h-7zM351 1047h7v24h-7zM428 1047h4v24h-4zM442 1047h3v24h-3zM516 1047h10v24h-10zM550 1047h3v24h-3zM563 1047h4v24h-4zM631 1047h3v24h-3zM675 1047h3v24h-3zM692 1047h3v24h-3zM725 1047h4v24h-4zM732 1047h4v24h-4zM752 1047h4v24h-4zM773 1047h3v24h-3zM695 1023h3v24h-3zM752 1023h4v24h-4zM766 1023h3v24h-3z"/>
<path fill="#fd9941" d="M250 1047h10v24h-10zM280 1047h3v24h-3zM293 1047h4v24h-4zM304 1047h6v24h-6zM341 1047h3v24h-3zM361 1047h3v24h-3zM374 1047h4v24h-4zM395 1047h10v24h-10zM412 1047h3v24h-3zM439 1047h3v24h-3zM452 1047h7v24h-7zM479 1047h3v24h-3zM540 1047h3v24h-3zM557 1047h6v24h-6zM580 1047h4v24h-4zM621 1047h7v24h-7zM661 1047h4v24h-4zM702 1047h3v24h-3zM746 1047h3v24h-3zM763 1047h3v24h-3zM779 1047h4v24h-4zM725 1023h4v24h-4zM732 1023h4v24h-4zM773 1023h3v24h-3zM779 1023h4v24h-4z"/>
<path fill="#fd9840" d="M266 1047h4v24h-4zM297 1047h3v24h-3zM320 1047h7v24h-7zM347 1047h4v24h-4zM364 1047h7v24h-7zM388 1047h7v24h-7zM418 1047h7v24h-7zM462 1047h7v24h-7zM472 1047h4v24h-4zM482 1047h4v24h-4zM526 1047h7v24h-7zM567 1047h7v24h-7zM590 1047h7v24h-7zM607 1047h7v24h-7zM628 1047h3v24h-3zM682 1047h3v24h-3zM749 1047h3v24h-3zM793 1047h3v24h-3zM668 1023h3v24h-3zM682 1023h6v24h-6zM712 1023h3v24h-3zM722 1023h3v24h-3zM759 1023h4v24h-4z"/>
<path fill="#fd9640" d="M263 1047h3v24h-3zM283 1047h4v24h-4zM331 1047h3v24h-3zM344 1047h3v24h-3zM371 1047h3v24h-3zM378 1047h3v24h-3zM415 1047h3v24h-3zM459 1047h3v24h-3zM476 1047h3v24h-3zM489 1047h4v24h-4zM503 1047h3v24h-3zM509 1047h4v24h-4zM536 1047h4v24h-4zM547 1047h3v24h-3zM587 1047h3v24h-3zM617 1047h4v24h-4zM648 1047h7v24h-7zM769 1047h4v24h-4zM796 1047h4v24h-4zM810 1047h5v24h-5zM756 1023h3v24h-3zM763 1023h3v24h-3z"/>
<path fill="#fd953f" d="M270 1047h3v24h-3zM486 1047h3v24h-3zM506 1047h3v24h-3zM543 1047h4v24h-4zM574 1047h6v24h-6zM614 1047h3v24h-3zM641 1047h3v24h-3zM678 1047h4v24h-4zM800 1047h3v24h-3zM671 1023h4v24h-4zM705 1023h4v24h-4zM749 1023h3v24h-3z"/>
<path fill="#fd943f" d="M273 1047h7v24h-7zM287 1047h3v24h-3zM739 1047h3v24h-3zM803 1047h7v24h-7zM658 1023h3v24h-3zM692 1023h3v24h-3zM729 1023h3v24h-3zM786 1023h4v24h-4z"/>
<path fill="#fd933e" d="M368 1023h3v24h-3zM655 1023h3v24h-3zM688 1023h4v24h-4zM715 1023h4v24h-4z"/>
<path fill="#fd923e" d="M351 1023h3v24h-3zM560 1023h3v24h-3zM702 1023h3v24h-3z"/>
<path fill="#fd913d" d="M334 1023h3v24h-3zM479 1023h3v24h-3zM496 1023h3v24h-3zM698 1023h4v24h-4zM746 1023h3v24h-3z"/>
<path fill="#fd8f3d" d="M793 1023h3v24h-3zM682 998h3v25h-3z"/>
<path fill="#fd8d3c" d="M675 1023h3v24h-3zM719 1023h3v24h-3zM790 1023h3v24h-3z"/>
<path fill="#fc8c3b" d="M310 1023h4v24h-4zM540 1023h3v24h-3zM661 1023h4v24h-4z"/>
<path fill="#fc8a3b" d="M638 1047h3v24h-3zM385 1023h3v24h-3zM405 1023h3v24h-3zM415 1023h3v24h-3zM769 1023h4v24h-4z"/>
<path fill="#fc883a" d="M300 1023h4v24h-4z"/>
<path fill="#fc863a" d="M401 1023h4v24h-4zM425 1023h3v24h-3zM509 1023h4v24h-4zM536 1023h4v24h-4zM803 1023h3v24h-3z"/>
<path fill="#fc8439" d="M263 1023h3v24h-3zM280 1023h3v24h-3zM331 1023h3v24h-3zM408 1023h4v24h-4zM523 1023h3v24h-3zM584 1023h3v24h-3zM644 1023h4v24h-4z"/>
<path fill="#fc8238" d="M493 1023h3v24h-3zM601 1023h3v24h-3z"/>
<path fill="#fc8038" d="M381 1023h4v24h-4zM445 1023h4v24h-4zM516 1023h4v24h-4zM553 1023h4v24h-4zM628 1023h3v24h-3zM678 1023h4v24h-4z"/>
<path fill="#fc7e37" d="M314 1023h3v24h-3zM327 1023h4v24h-4zM337 1023h4v24h-4zM449 1023h6v24h-6zM469 1023h3v24h-3zM513 1023h3v24h-3zM526 1023h7v24h-7zM580 1023h4v24h-4zM631 1023h3v24h-3zM742 1023h4v24h-4zM796 1023h4v24h-4zM675 998h3v25h-3z"/>
<path fill="#fc7c37" d="M270 1023h3v24h-3zM412 1023h3v24h-3zM432 1023h3v24h-3zM439 1023h3v24h-3zM455 1023h7v24h-7zM543 1023h4v24h-4zM590 1023h4v24h-4zM621 1023h3v24h-3zM634 1023h4v24h-4zM736 1023h3v24h-3z"/>
<path fill="#fc7a36" d="M250 1023h3v24h-3zM266 1023h4v24h-4zM293 1023h4v24h-4zM307 1023h3v24h-3zM361 1023h3v24h-3zM587 1023h3v24h-3zM624 1023h4v24h-4z"/>
<path fill="#fc7836" d="M260 1023h3v24h-3zM273 1023h4v24h-4zM290 1023h3v24h-3zM297 1023h3v24h-3zM320 1023h4v24h-4zM341 1023h3v24h-3zM462 1023h4v24h-4zM506 1023h3v24h-3zM557 1023h3v24h-3zM597 1023h4v24h-4z"/>
<path fill="#fc7635" d="M253 1023h3v24h-3zM317 1023h3v24h-3zM391 1023h4v24h-4zM398 1023h3v24h-3zM422 1023h3v24h-3zM428 1023h4v24h-4zM563 1023h11v24h-11zM577 1023h3v24h-3zM604 1023h7v24h-7z"/>
<path fill="#fc7434" d="M304 1023h3v24h-3zM364 1023h4v24h-4zM503 1023h3v24h-3zM617 1023h4v24h-4zM648 1023h3v24h-3zM759 998h4v25h-4zM766 998h3v25h-3zM773 998h6v25h-6zM783 998h3v25h-3z"/>
<path fill="#fc7234" d="M277 1023h3v24h-3zM283 1023h4v24h-4zM374 1023h4v24h-4zM435 1023h4v24h-4zM466 1023h3v24h-3zM472 1023h4v24h-4zM611 1023h3v24h-3zM641 1023h3v24h-3zM739 1023h3v24h-3zM709 998h3v25h-3z"/>
<path fill="#fc7033" d="M756 998h3v25h-3zM779 998h4v25h-4z"/>
<path fill="#fc6e33" d="M287 1023h3v24h-3zM378 1023h3v24h-3zM388 1023h3v24h-3zM418 1023h4v24h-4zM442 1023h3v24h-3zM550 1023h3v24h-3zM800 1023h3v24h-3zM810 1023h5v24h-5zM786 998h4v25h-4z"/>
<path fill="#fc6c32" d="M344 1023h3v24h-3zM371 1023h3v24h-3zM482 1023h4v24h-4zM547 1023h3v24h-3zM651 1023h4v24h-4z"/>
<path fill="#fc6a32" d="M486 1023h3v24h-3zM499 1023h4v24h-4zM520 1023h3v24h-3zM594 1023h3v24h-3zM560 998h3v25h-3zM655 998h3v25h-3zM665 998h3v25h-3zM695 998h3v25h-3z"/>
<path fill="#fc6831" d="M476 1023h3v24h-3zM806 1023h4v24h-4zM668 998h7v25h-7zM678 998h4v25h-4zM698 998h4v25h-4zM712 998h3v25h-3zM749 998h7v25h-7zM763 998h3v25h-3z"/>
<path fill="#fc6630" d="M358 1023h3v24h-3zM351 998h3v25h-3zM688 998h4v25h-4zM705 998h4v25h-4zM715 998h4v25h-4zM732 998h4v25h-4z"/>
<path fill="#fc6430" d="M489 1023h4v24h-4zM614 1023h3v24h-3zM310 998h4v25h-4zM334 998h3v25h-3zM425 998h3v25h-3zM658 998h3v25h-3zM685 998h3v25h-3zM692 998h3v25h-3zM790 998h3v25h-3z"/>
<path fill="#fc622f" d="M354 1023h4v24h-4z"/>
<path fill="#fc602f" d="M574 1023h3v24h-3zM368 998h3v25h-3zM722 998h3v25h-3zM729 998h3v25h-3z"/>
<path fill="#fc5e2e" d="M395 1023h3v24h-3zM533 1023h3v24h-3zM479 998h3v25h-3zM644 998h4v25h-4zM661 998h4v25h-4zM719 998h3v25h-3zM725 998h4v25h-4zM736 998h3v25h-3z"/>
<path fill="#fc5c2e" d="M432 998h3v25h-3zM496 998h3v25h-3z"/>
<path fill="#fc5a2d" d="M347 1023h4v24h-4zM300 998h4v25h-4zM337 998h4v25h-4zM405 998h3v25h-3zM523 998h3v25h-3zM540 998h3v25h-3zM702 998h3v25h-3zM769 998h4v25h-4z"/>
<path fill="#fc582d" d="M381 998h7v25h-7zM445 998h7v25h-7zM584 998h3v25h-3zM742 998h4v25h-4zM793 998h3v25h-3zM682 974h3v24h-3z"/>
<path fill="#fc562c" d="M260 998h3v25h-3zM408 998h4v25h-4zM415 998h3v25h-3z"/>
<path fill="#fc542b" d="M324 1023h3v24h-3zM263 998h3v25h-3zM327 998h4v25h-4zM401 998h4v25h-4zM439 998h3v25h-3zM469 998h3v25h-3zM493 998h3v25h-3zM516 998h4v25h-4zM570 998h4v25h-4zM796 998h4v25h-4z"/>
<path fill="#fc522b" d="M256 1023h4v24h-4zM462 998h4v25h-4zM513 998h3v25h-3zM547 998h3v25h-3zM803 998h3v25h-3z"/>
<path fill="#fc502a" d="M250 998h3v25h-3zM280 998h3v25h-3zM314 998h6v25h-6zM428 998h4v25h-4zM509 998h4v25h-4zM536 998h4v25h-4zM553 998h4v25h-4zM624 998h4v25h-4zM648 998h3v25h-3z"/>
<path fill="#fc4e2a" d="M331 998h3v25h-3zM341 998h3v25h-3zM361 998h3v25h-3zM459 998h3v25h-3zM590 998h4v25h-4zM601 998h3v25h-3z"/>
<path fill="#fb4c29" d="M307 998h3v25h-3zM320 998h4v25h-4zM364 998h4v25h-4zM371 998h3v25h-3zM452 998h7v25h-7zM466 998h3v25h-3zM472 998h4v25h-4zM526 998h4v25h-4zM617 998h7v25h-7zM631 998h3v25h-3zM651 998h4v25h-4z"/>
<path fill="#fa4b29" d="M290 998h10v25h-10zM391 998h4v25h-4zM412 998h3v25h-3zM543 998h4v25h-4zM567 998h3v25h-3zM580 998h4v25h-4zM597 998h4v25h-4zM628 998h3v25h-3zM634 998h4v25h-4zM746 998h3v25h-3zM675 974h3v24h-3z"/>
<path fill="#f94928" d="M253 998h3v25h-3zM273 998h4v25h-4zM378 998h3v25h-3zM398 998h3v25h-3zM422 998h3v25h-3zM482 998h4v25h-4zM587 998h3v25h-3zM739 998h3v25h-3z"/>
<path fill="#f94828" d="M266 998h4v25h-4zM283 998h4v25h-4zM304 998h3v25h-3zM354 998h4v25h-4zM374 998h4v25h-4zM435 998h4v25h-4zM506 998h3v25h-3z"/>
<path fill="#f84627" d="M270 998h3v25h-3zM344 998h3v25h-3zM557 998h3v25h-3zM563 998h4v25h-4zM604 998h7v25h-7zM614 998h3v25h-3z"/>
<path fill="#f74427" d="M277 998h3v25h-3zM287 998h3v25h-3zM489 998h4v25h-4zM503 998h3v25h-3zM611 998h3v25h-3zM641 998h3v25h-3zM800 998h3v25h-3z"/>
<path fill="#f64327" d="M486 998h3v25h-3zM499 998h4v25h-4zM530 998h3v25h-3zM577 998h3v25h-3z"/>
<path fill="#f64126" d="M388 998h3v25h-3zM550 998h3v25h-3zM574 998h3v25h-3z"/>
<path fill="#f53f26" d="M358 998h3v25h-3zM810 998h5v25h-5z"/>
<path fill="#f43e25" d="M476 998h3v25h-3zM520 998h3v25h-3z"/>
<path fill="#f33c25" d="M638 1023h3v24h-3zM395 998h3v25h-3zM442 998h3v25h-3z"/>
<path fill="#f23b24" d="M418 998h4v25h-4zM594 998h3v25h-3zM806 998h4v25h-4zM773 974h3v24h-3z"/>
<path fill="#f23924" d="M709 974h3v24h-3zM783 974h7v24h-7z"/>
<path fill="#f13724" d="M324 998h3v25h-3z"/>
<path fill="#f03623" d="M533 998h3v25h-3z"/>
<path fill="#ef3423" d="M347 998h4v25h-4zM712 974h3v24h-3z"/>
<path fill="#ee3222" d="M256 998h4v25h-4zM310 974h4v24h-4zM658 974h3v24h-3zM678 974h4v24h-4zM695 974h3v24h-3zM766 974h3v24h-3zM776 974h7v24h-7z"/>
<path fill="#ee3122" d="M334 974h3v24h-3zM665 974h3v24h-3zM705 974h4v24h-4z"/>
<path fill="#ed2f21" d="M351 974h3v24h-3zM479 974h3v24h-3zM496 974h3v24h-3zM715 974h4v24h-4zM752 974h4v24h-4z"/>
<path fill="#ec2d21" d="M655 974h3v24h-3zM692 974h3v24h-3zM729 974h3v24h-3z"/>
<path fill="#eb2c20" d="M425 974h3v24h-3zM671 974h4v24h-4zM698 974h4v24h-4zM756 974h7v24h-7z"/>
<path fill="#eb2a20" d="M661 974h4v24h-4zM668 974h3v24h-3zM749 974h3v24h-3zM763 974h3v24h-3z"/>
<path fill="#ea2920" d="M540 974h3v24h-3zM685 974h3v24h-3zM725 974h4v24h-4zM732 974h4v24h-4z"/>
<path fill="#e9271f" d="M263 974h3v24h-3zM736 974h3v24h-3zM742 974h4v24h-4z"/>
<path fill="#e8251f" d="M385 974h3v24h-3zM722 974h3v24h-3zM796 974h4v24h-4z"/>
<path fill="#e7241e" d="M415 974h3v24h-3zM432 974h3v24h-3zM746 974h3v24h-3zM769 974h4v24h-4zM790 974h3v24h-3zM803 974h3v24h-3z"/>
<path fill="#e7221e" d="M327 974h4v24h-4zM381 974h4v24h-4zM405 974h7v24h-7zM509 974h4v24h-4zM560 974h3v24h-3zM584 974h3v24h-3zM702 974h3v24h-3zM793 974h3v24h-3z"/>
<path fill="#e6201d" d="M300 974h4v24h-4zM307 974h3v24h-3zM493 974h3v24h-3zM516 974h4v24h-4zM523 974h3v24h-3zM688 974h4v24h-4z"/>
<path fill="#e51f1d" d="M260 974h3v24h-3zM314 974h3v24h-3zM368 974h3v24h-3zM401 974h4v24h-4zM439 974h3v24h-3zM449 974h3v24h-3zM469 974h3v24h-3zM513 974h3v24h-3zM628 974h3v24h-3zM644 974h4v24h-4z"/>
<path fill="#e41d1c" d="M250 974h3v24h-3zM317 974h3v24h-3zM462 974h4v24h-4zM587 974h3v24h-3zM597 974h4v24h-4zM617 974h4v24h-4zM766 950h3v24h-3z"/>
<path fill="#e31c1c" d="M337 974h4v24h-4zM445 974h4v24h-4zM452 974h3v24h-3zM526 974h4v24h-4zM536 974h4v24h-4zM607 974h4v24h-4zM624 974h4v24h-4z"/>
<path fill="#e31a1c" d="M638 998h3v25h-3zM253 974h3v24h-3zM280 974h3v24h-3zM290 974h3v24h-3zM428 974h4v24h-4zM553 974h4v24h-4zM601 974h6v24h-6zM621 974h3v24h-3zM634 974h4v24h-4zM648 974h3v24h-3z"/>
<path fill="#e2191c" d="M266 974h4v24h-4zM341 974h3v24h-3zM412 974h3v24h-3zM466 974h3v24h-3zM530 974h3v24h-3zM719 974h3v24h-3zM665 950h3v24h-3zM695 950h3v24h-3zM752 950h4v24h-4z"/>
<path fill="#e0181c" d="M297 974h3v24h-3zM304 974h3v24h-3zM320 974h4v24h-4zM331 974h3v24h-3zM361 974h3v24h-3zM455 974h7v24h-7zM472 974h4v24h-4zM567 974h3v24h-3zM580 974h4v24h-4zM590 974h4v24h-4zM651 974h4v24h-4zM682 950h3v24h-3zM773 950h3v24h-3z"/>
<path fill="#df171c" d="M293 974h4v24h-4zM371 974h3v24h-3zM563 974h4v24h-4zM570 974h4v24h-4zM614 974h3v24h-3zM631 974h3v24h-3zM655 950h3v24h-3zM756 950h3v24h-3z"/>
<path fill="#de161d" d="M270 974h3v24h-3zM277 974h3v24h-3zM283 974h4v24h-4zM344 974h3v24h-3zM422 974h3v24h-3zM476 974h3v24h-3zM499 974h4v24h-4zM506 974h3v24h-3zM543 974h7v24h-7zM739 974h3v24h-3zM675 950h3v24h-3z"/>
<path fill="#dd161d" d="M273 974h4v24h-4zM374 974h4v24h-4zM391 974h4v24h-4zM435 974h4v24h-4zM641 974h3v24h-3zM763 950h3v24h-3z"/>
<path fill="#dc151d" d="M378 974h3v24h-3zM418 974h4v24h-4zM503 974h3v24h-3zM520 974h3v24h-3zM577 974h3v24h-3zM611 974h3v24h-3zM800 974h3v24h-3zM776 950h3v24h-3z"/>
<path fill="#da141e" d="M358 974h3v24h-3zM550 974h3v24h-3zM574 974h3v24h-3zM658 950h3v24h-3zM759 950h4v24h-4z"/>
<path fill="#d9131e" d="M287 974h3v24h-3zM364 974h4v24h-4zM395 974h6v24h-6zM482 974h7v24h-7zM671 950h4v24h-4zM709 950h3v24h-3zM749 950h3v24h-3z"/>
<path fill="#d8121e" d="M442 974h3v24h-3zM594 974h3v24h-3zM334 950h3v24h-3zM712 950h3v24h-3z"/>
<path fill="#d7121f" d="M354 974h4v24h-4zM489 974h4v24h-4zM810 974h5v24h-5zM668 950h3v24h-3zM769 950h4v24h-4z"/>
<path fill="#d6111f" d="M347 974h4v24h-4zM388 974h3v24h-3zM496 950h3v24h-3zM678 950h4v24h-4zM722 950h3v24h-3z"/>
<path fill="#d4101f" d="M806 974h4v24h-4zM705 950h4v24h-4z"/>
<path fill="#d30f20" d="M324 974h3v24h-3zM385 950h3v24h-3zM698 950h4v24h-4z"/>
<path fill="#d20e20" d="M256 974h4v24h-4zM661 950h4v24h-4zM783 950h3v24h-3z"/>
<path fill="#d10d20" d="M533 974h3v24h-3zM557 974h3v24h-3zM702 950h3v24h-3zM786 950h4v24h-4z"/>
<path fill="#d00d20" d="M310 950h4v24h-4zM729 950h3v24h-3z"/>
<path fill="#cf0c21" d="M560 950h3v24h-3zM715 950h4v24h-4zM732 950h4v24h-4z"/>
<path fill="#cd0b21" d="M368 950h3v24h-3zM479 950h3v24h-3zM516 950h4v24h-4zM688 950h4v24h-4zM725 950h4v24h-4z"/>
<path fill="#cc0a21" d="M351 950h3v24h-3zM425 950h3v24h-3zM644 950h4v24h-4zM685 950h3v24h-3z"/>
<path fill="#cb0922" d="M327 950h4v24h-4zM553 950h4v24h-4zM584 950h3v24h-3z"/>
<path fill="#ca0922" d="M523 950h3v24h-3zM742 950h4v24h-4z"/>
<path fill="#c90822" d="M314 950h3v24h-3zM320 950h4v24h-4zM361 950h3v24h-3zM449 950h3v24h-3zM540 950h3v24h-3zM580 950h4v24h-4zM604 950h3v24h-3zM736 950h3v24h-3z"/>
<path fill="#c70723" d="M300 950h4v24h-4zM401 950h11v24h-11zM415 950h3v24h-3zM790 950h3v24h-3z"/>
<path fill="#c60623" d="M280 950h3v24h-3zM337 950h4v24h-4zM381 950h4v24h-4zM445 950h4v24h-4zM469 950h3v24h-3zM590 950h4v24h-4zM624 950h4v24h-4zM692 950h3v24h-3zM719 950h3v24h-3zM746 950h3v24h-3z"/>
<path fill="#c50523" d="M439 950h3v24h-3zM455 950h4v24h-4zM536 950h4v24h-4zM634 950h4v24h-4zM779 950h4v24h-4z"/>
<path fill="#c40424" d="M260 950h3v24h-3zM513 950h3v24h-3zM587 950h3v24h-3zM628 950h3v24h-3z"/>
<path fill="#c30424" d="M638 974h3v24h-3zM304 950h3v24h-3zM341 950h3v24h-3zM601 950h3v24h-3zM621 950h3v24h-3z"/>
<path fill="#c10324" d="M317 950h3v24h-3zM432 950h3v24h-3zM466 950h3v24h-3zM493 950h3v24h-3zM547 950h3v24h-3zM563 950h4v24h-4z"/>
<path fill="#c00225" d="M250 950h3v24h-3zM273 950h4v24h-4zM331 950h3v24h-3zM428 950h4v24h-4zM462 950h4v24h-4zM472 950h4v24h-4zM526 950h4v24h-4zM597 950h4v24h-4zM607 950h4v24h-4zM631 950h3v24h-3z"/>
<path fill="#bf0125" d="M263 950h7v24h-7zM287 950h3v24h-3zM307 950h3v24h-3zM374 950h4v24h-4zM506 950h3v24h-3zM543 950h4v24h-4zM550 950h3v24h-3zM594 950h3v24h-3zM648 950h3v24h-3z"/>
<path fill="#be0025" d="M270 950h3v24h-3zM364 950h4v24h-4zM371 950h3v24h-3zM412 950h3v24h-3zM611 950h6v24h-6zM793 950h3v24h-3z"/>
<path fill="#bd0025" d="M277 950h3v24h-3zM283 950h4v24h-4zM290 950h3v24h-3zM422 950h3v24h-3zM459 950h3v24h-3zM675 926h3v24h-3z"/>
<path fill="#bb0026" d="M391 950h7v24h-7zM452 950h3v24h-3zM530 950h3v24h-3zM570 950h4v24h-4zM665 926h3v24h-3zM678 926h4v24h-4z"/>
<path fill="#b90026" d="M253 950h3v24h-3zM293 950h4v24h-4zM344 950h3v24h-3zM388 950h3v24h-3zM482 950h4v24h-4zM509 950h4v24h-4zM617 950h4v24h-4zM641 950h3v24h-3zM776 926h3v24h-3z"/>
<path fill="#b70026" d="M297 950h3v24h-3zM418 950h4v24h-4zM476 950h3v24h-3zM520 950h3v24h-3zM557 950h3v24h-3zM574 950h3v24h-3zM796 950h4v24h-4z"/>
<path fill="#b50026" d="M435 950h4v24h-4zM489 950h4v24h-4zM499 950h4v24h-4z"/>
<path fill="#b30026" d="M486 950h3v24h-3zM503 950h3v24h-3zM651 950h4v24h-4zM803 950h3v24h-3zM756 926h10v24h-10zM773 926h3v24h-3z"/>
<path fill="#b10026" d="M358 950h3v24h-3zM398 950h3v24h-3zM567 950h3v24h-3zM577 950h3v24h-3zM739 950h3v24h-3z"/>
<path fill="#af0026" d="M354 950h4v24h-4zM442 950h3v24h-3zM533 950h3v24h-3z"/>
<path fill="#ad0026" d="M806 950h4v24h-4z"/>
<path fill="#aa0026" d="M347 950h4v24h-4zM378 950h3v24h-3z"/>
<path fill="#a80026" d="M324 950h3v24h-3zM769 926h4v24h-4z"/>
<path fill="#a60026" d="M685 926h3v24h-3zM752 926h4v24h-4z"/>
<path fill="#a40026" d="M800 950h3v24h-3zM658 926h3v24h-3zM671 926h4v24h-4zM682 926h3v24h-3zM712 926h3v24h-3zM749 926h3v24h-3z"/>
<path fill="#a20026" d="M256 950h4v24h-4zM715 926h4v24h-4z"/>
<path fill="#a00026" d="M661 926h4v24h-4zM695 926h3v24h-3z"/>
<path fill="#9e0026" d="M746 926h3v24h-3z"/>
<path fill="#9c0026" d="M810 950h5v24h-5zM766 926h3v24h-3z"/>
<path fill="#9a0026" d="M722 926h3v24h-3zM806 926h4v24h-4z"/>
<path fill="#980026" d="M705 926h4v24h-4z"/>
<path fill="#960026" d="M793 926h3v24h-3z"/>
<path fill="#950026" d="M260 926h3v24h-3zM779 926h4v24h-4z"/>
<path fill="#930026" d="M253 926h3v24h-3zM354 926h4v24h-4zM418 926h4v24h-4zM790 926h3v24h-3z"/>
<path fill="#910026" d="M273 926h4v24h-4zM364 926h4v24h-4zM540 926h3v24h-3zM617 926h4v24h-4zM688 926h4v24h-4z"/>
<path fill="#8f0026" d="M293 926h4v24h-4zM300 926h4v24h-4zM412 926h3v24h-3zM462 926h4v24h-4zM580 926h4v24h-4zM621 926h3v24h-3zM725 926h4v24h-4zM783 926h7v24h-7zM796 926h4v24h-4z"/>
<path fill="#8d0026" d="M638 950h3v24h-3zM283 926h4v24h-4zM320 926h4v24h-4zM341 926h3v24h-3zM432 926h3v24h-3zM439 926h3v24h-3zM590 926h4v24h-4zM624 926h4v24h-4zM634 926h4v24h-4zM742 926h4v24h-4zM800 926h6v24h-6z"/>
<path fill="#8b0026" d="M405 926h3v24h-3zM415 926h3v24h-3zM452 926h3v24h-3zM577 926h3v24h-3zM698 926h4v24h-4zM709 926h3v24h-3zM729 926h7v24h-7zM739 926h3v24h-3z"/>
<path fill="#890026" d="M385 926h3v24h-3zM655 926h3v24h-3zM692 926h3v24h-3z"/>
<path fill="#870026" d="M266 926h4v24h-4zM327 926h10v24h-10zM381 926h4v24h-4zM408 926h4v24h-4zM604 926h3v24h-3zM631 926h3v24h-3zM644 926h4v24h-4zM668 926h3v24h-3zM719 926h3v24h-3zM810 926h5v24h-5z"/>
<path fill="#850026" d="M280 926h3v24h-3zM304 926h13v24h-13zM337 926h4v24h-4zM344 926h3v24h-3zM351 926h3v24h-3zM358 926h3v24h-3zM388 926h3v24h-3zM395 926h3v24h-3zM445 926h4v24h-4zM493 926h6v24h-6zM516 926h4v24h-4zM526 926h4v24h-4zM553 926h7v24h-7zM563 926h4v24h-4zM584 926h3v24h-3zM597 926h7v24h-7zM628 926h3v24h-3zM736 926h3v24h-3z"/>
<path fill="#830026" d="M250 926h3v24h-3zM256 926h4v24h-4zM263 926h3v24h-3zM290 926h3v24h-3zM317 926h3v24h-3zM324 926h3v24h-3zM347 926h4v24h-4zM361 926h3v24h-3zM368 926h3v24h-3zM374 926h4v24h-4zM391 926h4v24h-4zM398 926h7v24h-7zM425 926h7v24h-7zM442 926h3v24h-3zM449 926h3v24h-3zM455 926h7v24h-7zM469 926h3v24h-3zM499 926h4v24h-4zM506 926h3v24h-3zM513 926h3v24h-3zM520 926h6v24h-6zM530 926h10v24h-10zM543 926h10v24h-10zM570 926h7v24h-7zM587 926h3v24h-3zM594 926h3v24h-3zM614 926h3v24h-3zM638 926h3v24h-3zM648 926h3v24h-3z"/>
<path fill="#810026" d="M270 926h3v24h-3zM277 926h3v24h-3zM287 926h3v24h-3zM297 926h3v24h-3zM371 926h3v24h-3zM378 926h3v24h-3zM422 926h3v24h-3zM435 926h4v24h-4zM466 926h3v24h-3zM472 926h10v24h-10zM489 926h4v24h-4zM509 926h4v24h-4zM560 926h3v24h-3zM567 926h3v24h-3zM607 926h7v24h-7zM641 926h3v24h-3zM651 926h4v24h-4z"/>
<path fill="#800026" d="M482 926h7v24h-7zM503 926h3v24h-3zM702 926h3v24h-3zM250 902h565v24h-565zM250 877h565v25h-565z"/>
</g>
<path class="g" d="M250.5 877.5V1143.5M331.5 877.5V1143.5M412.5 877.5V1143.5M493.5 877.5V1143.5M574.5 877.5V1143.5M655.5 877.5V1143.5M736.5 877.5V1143.5"/>
<path class="k" d="M250.5 1142.76v5.3M331.5 1142.76v5.3M412.5 1142.76v5.3M493.5 1142.76v5.3M574.5 1142.76v5.3M655.5 1142.76v5.3M736.5 1142.76v5.3M250 1143.5h-5.2M250 1022.5h-5.2M250 950.5h-5.2"/>
<rect class="k" x="250.5" y="877.5" width="564" height="266"/>
<rect x="849.5" y="877.5" width="13" height="266" fill="url(#cm)"/>
<rect class="k" x="849.5" y="877.5" width="13" height="266"/>
<path class="k" d="M862.14 1114.5h5.5M862.14 1084.5h5.5M862.14 1054.5h5.5M862.14 1025.5h5.5M862.14 995.5h5.5M862.14 965.5h5.5M862.14 936.5h5.5M862.14 906.5h5.5"/>
<g class="c">
<path fill="#ffffcc" d="M1267 1119h3v25h-3zM1527 1119h3v25h-3z"/>
<path fill="#fffdc9" d="M1260 1119h4v25h-4z"/>
<path fill="#fffcc5" d="M1378 1119h4v25h-4z"/>
<path fill="#fffbc2" d="M1189 1119h4v25h-4z"/>
<path fill="#fff9bf" d="M1270 1119h4v25h-4z"/>
<path fill="#fff9be" d="M1416 1119h3v25h-3z"/>
<path fill="#fff8bc" d="M1615 1119h3v25h-3z"/>
<path fill="#fff8bb" d="M1399 1119h3v25h-3zM1412 1119h4v25h-4zM1524 1119h3v25h-3z"/>
<path fill="#fff7b8" d="M1233 1119h4v25h-4zM1362 1119h3v25h-3z"/>
<path fill="#fff6b7" d="M1392 1119h3v25h-3z"/>
<path fill="#fff5b5" d="M1210 1119h3v25h-3zM1551 1119h3v25h-3z"/>
<path fill="#fff5b4" d="M1230 1119h3v25h-3zM1365 1119h3v25h-3zM1584 1119h4v25h-4zM1618 1119h3v25h-3z"/>
<path fill="#fff4b3" d="M1264 1119h3v25h-3zM1395 1119h4v25h-4zM1605 1119h3v25h-3z"/>
<path fill="#fff3af" d="M1183 1119h3v25h-3zM1588 1119h3v25h-3z"/>
<path fill="#fff2ac" d="M1122 1119h3v25h-3zM1186 1119h3v25h-3zM1318 1119h3v25h-3z"/>
<path fill="#fff0a9" d="M1443 1119h3v25h-3zM1490 1119h3v25h-3z"/>
<path fill="#fff0a8" d="M1220 1119h3v25h-3z"/>
<path fill="#ffefa6" d="M1446 1119h3v25h-3zM1486 1119h4v25h-4zM1635 1119h3v25h-3z"/>
<path fill="#ffefa5" d="M1179 1119h4v25h-4zM1287 1119h4v25h-4z"/>
<path fill="#ffeea3" d="M1375 1119h3v25h-3z"/>
<path fill="#ffeda1" d="M1125 1119h4v25h-4zM1162 1119h4v25h-4zM1291 1119h3v25h-3z"/>
<path fill="#feec9e" d="M1426 1119h3v25h-3z"/>
<path fill="#feeb9d" d="M1432 1119h4v25h-4z"/>
<path fill="#feeb9b" d="M1159 1119h3v25h-3zM1517 1119h3v25h-3zM1638 1119h4v25h-4z"/>
<path fill="#feea9a" d="M1402 1119h3v25h-3zM1557 1119h4v25h-4zM1642 1119h6v25h-6z"/>
<path fill="#fee999" d="M1368 1119h4v25h-4zM1632 1119h3v25h-3z"/>
<path fill="#fee896" d="M1119 1119h3v25h-3zM1301 1119h3v25h-3zM1355 1119h3v25h-3zM1372 1119h3v25h-3zM1652 1119h3v25h-3z"/>
<path fill="#fee795" d="M1095 1119h3v25h-3zM1169 1119h4v25h-4zM1284 1119h3v25h-3zM1331 1119h4v25h-4zM1358 1119h4v25h-4zM1422 1119h4v25h-4zM1429 1119h3v25h-3zM1564 1119h3v25h-3zM1578 1119h6v25h-6z"/>
<path fill="#fee793" d="M1102 1119h3v25h-3zM1146 1119h3v25h-3zM1436 1119h3v25h-3zM1453 1119h3v25h-3zM1470 1119h3v25h-3z"/>
<path fill="#fee692" d="M1135 1119h4v25h-4zM1257 1119h3v25h-3zM1351 1119h4v25h-4zM1449 1119h4v25h-4zM1480 1119h6v25h-6zM1493 1119h4v25h-4zM1500 1119h3v25h-3zM1530 1119h4v25h-4z"/>
<path fill="#fee691" d="M1142 1119h4v25h-4zM1152 1119h4v25h-4zM1254 1119h3v25h-3zM1281 1119h3v25h-3zM1314 1119h4v25h-4zM1348 1119h3v25h-3zM1405 1119h4v25h-4zM1439 1119h4v25h-4zM1520 1119h4v25h-4zM1544 1119h3v25h-3zM1554 1119h3v25h-3z"/>
<path fill="#fee590" d="M1200 1119h3v25h-3zM1240 1119h3v25h-3zM1250 1119h4v25h-4zM1311 1119h3v25h-3zM1335 1119h3v25h-3zM1419 1119h3v25h-3zM1473 1119h3v25h-3zM1534 1119h3v25h-3zM1608 1119h3v25h-3z"/>
<path fill="#fee48e" d="M1098 1119h4v25h-4zM1139 1119h3v25h-3zM1216 1119h4v25h-4zM1507 1119h6v25h-6zM1594 1119h4v25h-4z"/>
<path fill="#fee48d" d="M1166 1119h3v25h-3zM1173 1119h3v25h-3zM1213 1119h3v25h-3zM1243 1119h4v25h-4zM1409 1119h3v25h-3zM1456 1119h3v25h-3zM1497 1119h3v25h-3zM1513 1119h4v25h-4zM1567 1119h4v25h-4zM1591 1119h3v25h-3z"/>
<path fill="#fee38c" d="M1105 1119h3v25h-3zM1115 1119h4v25h-4zM1129 1119h3v25h-3zM1176 1119h3v25h-3zM1196 1119h4v25h-4zM1274 1119h7v25h-7zM1308 1119h3v25h-3zM1321 1119h3v25h-3zM1328 1119h3v25h-3zM1561 1119h3v25h-3zM1621 1119h4v25h-4z"/>
<path fill="#fee28a" d="M1108 1119h4v25h-4zM1193 1119h3v25h-3zM1206 1119h4v25h-4zM1294 1119h3v25h-3zM1341 1119h4v25h-4zM1648 1119h4v25h-4z"/>
<path fill="#fee289" d="M1149 1119h3v25h-3zM1297 1119h4v25h-4zM1389 1119h3v25h-3zM1459 1119h4v25h-4zM1503 1119h4v25h-4zM1611 1119h4v25h-4zM1628 1119h4v25h-4zM1655 1119h5v25h-5z"/>
<path fill="#fee188" d="M1112 1119h3v25h-3zM1223 1119h7v25h-7zM1540 1119h4v25h-4zM1547 1119h4v25h-4zM1574 1119h4v25h-4z"/>
<path fill="#fee186" d="M1237 1119h3v25h-3zM1304 1119h4v25h-4zM1466 1119h4v25h-4zM1571 1119h3v25h-3z"/>
<path fill="#fee085" d="M1247 1119h3v25h-3zM1382 1119h3v25h-3zM1537 1119h3v25h-3zM1625 1119h3v25h-3z"/>
<path fill="#fedf84" d="M1132 1119h3v25h-3zM1203 1119h3v25h-3zM1463 1119h3v25h-3z"/>
<path fill="#fedf82" d="M1385 1119h4v25h-4z"/>
<path fill="#fede81" d="M1156 1119h3v25h-3zM1476 1119h4v25h-4zM1598 1119h7v25h-7z"/>
<path fill="#fedd80" d="M1324 1119h4v25h-4zM1338 1119h3v25h-3zM1345 1119h3v25h-3z"/>
<path fill="#fda747" d="M1274 1095h3v24h-3zM1321 1095h3v24h-3zM1355 1095h7v24h-7zM1372 1095h3v24h-3zM1500 1095h3v24h-3zM1534 1095h3v24h-3z"/>
<path fill="#fda546" d="M1112 1095h3v24h-3zM1122 1095h3v24h-3zM1156 1095h6v24h-6zM1166 1095h3v24h-3zM1179 1095h4v24h-4zM1206 1095h4v24h-4zM1216 1095h4v24h-4zM1237 1095h3v24h-3zM1257 1095h3v24h-3zM1270 1095h4v24h-4zM1318 1095h3v24h-3zM1331 1095h4v24h-4zM1345 1095h6v24h-6zM1368 1095h4v24h-4zM1382 1095h3v24h-3zM1422 1095h7v24h-7zM1432 1095h7v24h-7zM1466 1095h7v24h-7zM1497 1095h3v24h-3zM1513 1095h4v24h-4zM1530 1095h4v24h-4zM1578 1095h3v24h-3zM1594 1095h4v24h-4zM1625 1095h7v24h-7zM1638 1095h4v24h-4z"/>
<path fill="#fda446" d="M1095 1095h3v24h-3zM1125 1095h7v24h-7zM1142 1095h4v24h-4zM1149 1095h7v24h-7zM1162 1095h4v24h-4zM1169 1095h10v24h-10zM1183 1095h3v24h-3zM1193 1095h3v24h-3zM1203 1095h3v24h-3zM1210 1095h6v24h-6zM1220 1095h7v24h-7zM1233 1095h4v24h-4zM1243 1095h7v24h-7zM1260 1095h4v24h-4zM1277 1095h4v24h-4zM1284 1095h10v24h-10zM1297 1095h21v24h-21zM1324 1095h7v24h-7zM1335 1095h10v24h-10zM1351 1095h4v24h-4zM1362 1095h6v24h-6zM1375 1095h3v24h-3zM1389 1095h3v24h-3zM1395 1095h4v24h-4zM1409 1095h13v24h-13zM1429 1095h3v24h-3zM1439 1095h4v24h-4zM1446 1095h3v24h-3zM1453 1095h3v24h-3zM1459 1095h4v24h-4zM1473 1095h3v24h-3zM1486 1095h4v24h-4zM1493 1095h4v24h-4zM1503 1095h7v24h-7zM1517 1095h3v24h-3zM1527 1095h3v24h-3zM1537 1095h3v24h-3zM1544 1095h3v24h-3zM1554 1095h3v24h-3zM1561 1095h17v24h-17zM1581 1095h3v24h-3zM1591 1095h3v24h-3zM1598 1095h3v24h-3zM1605 1095h3v24h-3zM1611 1095h7v24h-7zM1635 1095h3v24h-3zM1642 1095h10v24h-10z"/>
<path fill="#fda345" d="M1098 1095h14v24h-14zM1115 1095h7v24h-7zM1132 1095h3v24h-3zM1139 1095h3v24h-3zM1146 1095h3v24h-3zM1186 1095h7v24h-7zM1196 1095h7v24h-7zM1230 1095h3v24h-3zM1240 1095h3v24h-3zM1254 1095h3v24h-3zM1264 1095h3v24h-3zM1281 1095h3v24h-3zM1294 1095h3v24h-3zM1378 1095h4v24h-4zM1385 1095h4v24h-4zM1392 1095h3v24h-3zM1399 1095h10v24h-10zM1443 1095h3v24h-3zM1449 1095h4v24h-4zM1463 1095h3v24h-3zM1476 1095h7v24h-7zM1510 1095h3v24h-3zM1524 1095h3v24h-3zM1547 1095h7v24h-7zM1557 1095h4v24h-4zM1601 1095h4v24h-4zM1608 1095h3v24h-3zM1621 1095h4v24h-4zM1632 1095h3v24h-3z"/>
<path fill="#fda245" d="M1135 1095h4v24h-4zM1227 1095h3v24h-3zM1250 1095h4v24h-4zM1456 1095h3v24h-3zM1483 1095h3v24h-3zM1490 1095h3v24h-3zM1520 1095h4v24h-4zM1540 1095h4v24h-4zM1584 1095h7v24h-7zM1618 1095h3v24h-3zM1652 1095h8v24h-8z"/>
<path fill="#fda144" d="M1267 1095h3v24h-3z"/>
<path fill="#fd9c42" d="M1321 1071h3v24h-3zM1497 1071h3v24h-3z"/>
<path fill="#fd9b42" d="M1112 1071h3v24h-3zM1122 1071h10v24h-10zM1173 1071h3v24h-3zM1210 1071h3v24h-3zM1216 1071h7v24h-7zM1237 1071h3v24h-3zM1274 1071h7v24h-7zM1304 1071h7v24h-7zM1318 1071h3v24h-3zM1341 1071h4v24h-4zM1355 1071h7v24h-7zM1365 1071h3v24h-3zM1372 1071h6v24h-6zM1395 1071h4v24h-4zM1409 1071h3v24h-3zM1426 1071h3v24h-3zM1436 1071h3v24h-3zM1453 1071h3v24h-3zM1466 1071h7v24h-7zM1500 1071h7v24h-7zM1510 1071h3v24h-3zM1530 1071h10v24h-10zM1578 1071h3v24h-3zM1594 1071h4v24h-4zM1628 1071h4v24h-4zM1638 1071h4v24h-4zM1645 1071h3v24h-3z"/>
<path fill="#fd9a41" d="M1098 1071h7v24h-7zM1108 1071h4v24h-4zM1115 1071h7v24h-7zM1132 1071h3v24h-3zM1142 1071h31v24h-31zM1176 1071h7v24h-7zM1193 1071h3v24h-3zM1206 1071h4v24h-4zM1213 1071h3v24h-3zM1223 1071h4v24h-4zM1233 1071h4v24h-4zM1240 1071h10v24h-10zM1254 1071h10v24h-10zM1270 1071h4v24h-4zM1281 1071h3v24h-3zM1287 1071h4v24h-4zM1297 1071h7v24h-7zM1311 1071h7v24h-7zM1324 1071h17v24h-17zM1345 1071h3v24h-3zM1351 1071h4v24h-4zM1362 1071h3v24h-3zM1368 1071h4v24h-4zM1378 1071h17v24h-17zM1399 1071h3v24h-3zM1405 1071h4v24h-4zM1412 1071h14v24h-14zM1429 1071h7v24h-7zM1439 1071h4v24h-4zM1446 1071h7v24h-7zM1456 1071h10v24h-10zM1473 1071h3v24h-3zM1480 1071h3v24h-3zM1486 1071h11v24h-11zM1507 1071h3v24h-3zM1513 1071h4v24h-4zM1524 1071h6v24h-6zM1540 1071h7v24h-7zM1561 1071h6v24h-6zM1571 1071h7v24h-7zM1581 1071h3v24h-3zM1591 1071h3v24h-3zM1598 1071h3v24h-3zM1605 1071h3v24h-3zM1615 1071h6v24h-6zM1625 1071h3v24h-3zM1635 1071h3v24h-3zM1648 1071h4v24h-4z"/>
<path fill="#fd9941" d="M1095 1071h3v24h-3zM1105 1071h3v24h-3zM1135 1071h7v24h-7zM1183 1071h10v24h-10zM1196 1071h10v24h-10zM1227 1071h6v24h-6zM1250 1071h4v24h-4zM1264 1071h6v24h-6zM1284 1071h3v24h-3zM1291 1071h6v24h-6zM1348 1071h3v24h-3zM1402 1071h3v24h-3zM1443 1071h3v24h-3zM1476 1071h4v24h-4zM1483 1071h3v24h-3zM1517 1071h3v24h-3zM1547 1071h14v24h-14zM1567 1071h4v24h-4zM1584 1071h7v24h-7zM1601 1071h4v24h-4zM1608 1071h7v24h-7zM1621 1071h4v24h-4zM1632 1071h3v24h-3zM1642 1071h3v24h-3z"/>
<path fill="#fd9840" d="M1520 1071h4v24h-4zM1652 1071h8v24h-8z"/>
<path fill="#fd943f" d="M1112 1047h3v24h-3zM1216 1047h4v24h-4zM1247 1047h3v24h-3zM1274 1047h3v24h-3zM1314 1047h10v24h-10zM1351 1047h7v24h-7zM1389 1047h3v24h-3zM1416 1047h3v24h-3zM1500 1047h3v24h-3zM1530 1047h7v24h-7zM1544 1047h3v24h-3zM1578 1047h6v24h-6zM1638 1047h4v24h-4z"/>
<path fill="#fd933e" d="M1098 1047h7v24h-7zM1122 1047h13v24h-13zM1149 1047h13v24h-13zM1166 1047h3v24h-3zM1173 1047h13v24h-13zM1206 1047h10v24h-10zM1220 1047h7v24h-7zM1237 1047h10v24h-10zM1260 1047h4v24h-4zM1270 1047h4v24h-4zM1277 1047h4v24h-4zM1287 1047h7v24h-7zM1297 1047h4v24h-4zM1308 1047h6v24h-6zM1324 1047h4v24h-4zM1331 1047h4v24h-4zM1338 1047h13v24h-13zM1358 1047h4v24h-4zM1368 1047h10v24h-10zM1382 1047h3v24h-3zM1392 1047h7v24h-7zM1419 1047h30v24h-30zM1453 1047h3v24h-3zM1459 1047h4v24h-4zM1466 1047h7v24h-7zM1480 1047h3v24h-3zM1486 1047h4v24h-4zM1493 1047h7v24h-7zM1503 1047h7v24h-7zM1513 1047h7v24h-7zM1537 1047h3v24h-3zM1561 1047h3v24h-3zM1571 1047h7v24h-7zM1591 1047h10v24h-10zM1605 1047h6v24h-6zM1615 1047h3v24h-3zM1625 1047h7v24h-7zM1642 1047h10v24h-10z"/>
<path fill="#fd923e" d="M1105 1047h7v24h-7zM1115 1047h7v24h-7zM1135 1047h14v24h-14zM1169 1047h4v24h-4zM1189 1047h7v24h-7zM1200 1047h6v24h-6zM1230 1047h7v24h-7zM1254 1047h6v24h-6zM1281 1047h6v24h-6zM1294 1047h3v24h-3zM1301 1047h7v24h-7zM1328 1047h3v24h-3zM1335 1047h3v24h-3zM1362 1047h6v24h-6zM1378 1047h4v24h-4zM1385 1047h4v24h-4zM1399 1047h17v24h-17zM1449 1047h4v24h-4zM1456 1047h3v24h-3zM1463 1047h3v24h-3zM1473 1047h3v24h-3zM1490 1047h3v24h-3zM1510 1047h3v24h-3zM1520 1047h10v24h-10zM1540 1047h4v24h-4zM1547 1047h14v24h-14zM1564 1047h7v24h-7zM1601 1047h4v24h-4zM1611 1047h4v24h-4zM1618 1047h7v24h-7zM1632 1047h6v24h-6z"/>
<path fill="#fd913d" d="M1095 1047h3v24h-3zM1162 1047h4v24h-4zM1186 1047h3v24h-3zM1227 1047h3v24h-3zM1250 1047h4v24h-4zM1264 1047h6v24h-6zM1476 1047h4v24h-4zM1483 1047h3v24h-3zM1584 1047h7v24h-7zM1652 1047h8v24h-8zM1534 1023h3v24h-3z"/>
<path fill="#fd8f3d" d="M1196 1047h4v24h-4zM1112 1023h3v24h-3zM1129 1023h3v24h-3zM1216 1023h4v24h-4zM1274 1023h3v24h-3zM1314 1023h4v24h-4zM1321 1023h3v24h-3zM1355 1023h3v24h-3zM1416 1023h3v24h-3zM1497 1023h6v24h-6zM1355 998h3v25h-3z"/>
<path fill="#fd8e3c" d="M1125 1023h4v24h-4zM1132 1023h3v24h-3zM1156 1023h3v24h-3zM1233 1023h7v24h-7zM1260 1023h4v24h-4zM1318 1023h3v24h-3zM1348 1023h3v24h-3zM1358 1023h4v24h-4zM1368 1023h7v24h-7zM1412 1023h4v24h-4zM1439 1023h10v24h-10zM1466 1023h4v24h-4zM1530 1023h4v24h-4zM1544 1023h3v24h-3zM1594 1023h4v24h-4z"/>
<path fill="#fd8d3c" d="M1102 1023h3v24h-3zM1108 1023h4v24h-4zM1122 1023h3v24h-3zM1166 1023h3v24h-3zM1173 1023h3v24h-3zM1183 1023h3v24h-3zM1193 1023h3v24h-3zM1210 1023h3v24h-3zM1220 1023h3v24h-3zM1240 1023h10v24h-10zM1257 1023h3v24h-3zM1270 1023h4v24h-4zM1277 1023h4v24h-4zM1287 1023h4v24h-4zM1294 1023h3v24h-3zM1301 1023h3v24h-3zM1308 1023h3v24h-3zM1324 1023h4v24h-4zM1338 1023h10v24h-10zM1351 1023h4v24h-4zM1375 1023h3v24h-3zM1382 1023h3v24h-3zM1389 1023h3v24h-3zM1409 1023h3v24h-3zM1419 1023h10v24h-10zM1436 1023h3v24h-3zM1453 1023h3v24h-3zM1459 1023h7v24h-7zM1470 1023h3v24h-3zM1480 1023h3v24h-3zM1486 1023h4v24h-4zM1503 1023h4v24h-4zM1510 1023h7v24h-7zM1524 1023h6v24h-6zM1537 1023h3v24h-3zM1554 1023h3v24h-3zM1564 1023h3v24h-3zM1571 1023h13v24h-13zM1591 1023h3v24h-3zM1598 1023h3v24h-3zM1628 1023h4v24h-4zM1635 1023h7v24h-7zM1645 1023h3v24h-3zM1382 998h3v25h-3zM1635 998h3v25h-3z"/>
<path fill="#fc8c3b" d="M1119 1023h3v24h-3zM1135 1023h21v24h-21zM1159 1023h3v24h-3zM1169 1023h4v24h-4zM1176 1023h7v24h-7zM1189 1023h4v24h-4zM1203 1023h7v24h-7zM1223 1023h4v24h-4zM1230 1023h3v24h-3zM1264 1023h6v24h-6zM1291 1023h3v24h-3zM1297 1023h4v24h-4zM1304 1023h4v24h-4zM1311 1023h3v24h-3zM1335 1023h3v24h-3zM1362 1023h6v24h-6zM1392 1023h10v24h-10zM1429 1023h7v24h-7zM1449 1023h4v24h-4zM1456 1023h3v24h-3zM1473 1023h3v24h-3zM1490 1023h3v24h-3zM1507 1023h3v24h-3zM1540 1023h4v24h-4zM1561 1023h3v24h-3zM1601 1023h7v24h-7zM1611 1023h7v24h-7zM1621 1023h7v24h-7zM1632 1023h3v24h-3zM1642 1023h3v24h-3zM1648 1023h4v24h-4zM1642 998h3v25h-3z"/>
<path fill="#fc8a3b" d="M1095 1023h7v24h-7zM1105 1023h3v24h-3zM1115 1023h4v24h-4zM1186 1023h3v24h-3zM1200 1023h3v24h-3zM1213 1023h3v24h-3zM1254 1023h3v24h-3zM1284 1023h3v24h-3zM1328 1023h7v24h-7zM1378 1023h4v24h-4zM1385 1023h4v24h-4zM1402 1023h7v24h-7zM1476 1023h4v24h-4zM1483 1023h3v24h-3zM1493 1023h4v24h-4zM1517 1023h7v24h-7zM1551 1023h3v24h-3zM1557 1023h4v24h-4zM1588 1023h3v24h-3zM1608 1023h3v24h-3zM1618 1023h3v24h-3zM1655 1023h5v24h-5zM1422 998h4v25h-4z"/>
<path fill="#fc883a" d="M1162 1023h4v24h-4zM1196 1023h4v24h-4zM1227 1023h3v24h-3zM1250 1023h4v24h-4zM1281 1023h3v24h-3zM1547 1023h4v24h-4zM1567 1023h4v24h-4zM1584 1023h4v24h-4zM1162 998h7v25h-7zM1210 998h3v25h-3zM1301 998h3v25h-3z"/>
<path fill="#fc863a" d="M1652 1023h3v24h-3zM1270 998h4v25h-4zM1375 998h3v25h-3zM1520 998h4v25h-4z"/>
<path fill="#fc8439" d="M1277 998h4v25h-4zM1426 998h3v25h-3z"/>
<path fill="#fc8238" d="M1139 998h3v25h-3zM1304 998h4v25h-4zM1348 998h3v25h-3z"/>
<path fill="#fc8038" d="M1247 998h3v25h-3zM1534 998h3v25h-3z"/>
<path fill="#fc7e37" d="M1112 998h3v25h-3zM1328 998h3v25h-3zM1358 998h4v25h-4zM1500 998h3v25h-3z"/>
<path fill="#fc7c37" d="M1132 998h3v25h-3zM1146 998h3v25h-3zM1220 998h3v25h-3zM1318 998h6v25h-6zM1594 998h4v25h-4zM1628 998h4v25h-4z"/>
<path fill="#fc7a36" d="M1189 998h4v25h-4zM1216 998h4v25h-4zM1324 998h4v25h-4zM1432 998h4v25h-4zM1466 998h4v25h-4zM1490 998h3v25h-3zM1645 998h3v25h-3z"/>
<path fill="#fc7836" d="M1129 998h3v25h-3zM1257 998h3v25h-3zM1372 998h3v25h-3zM1591 998h3v25h-3zM1632 998h3v25h-3zM1638 998h4v25h-4z"/>
<path fill="#fc7635" d="M1125 998h4v25h-4zM1159 998h3v25h-3zM1176 998h3v25h-3zM1223 998h4v25h-4zM1233 998h4v25h-4zM1436 998h3v25h-3zM1443 998h6v25h-6zM1486 998h4v25h-4zM1507 998h3v25h-3zM1530 998h4v25h-4zM1564 998h3v25h-3z"/>
<path fill="#fc7434" d="M1095 998h3v25h-3zM1122 998h3v25h-3zM1169 998h4v25h-4zM1351 998h4v25h-4zM1399 998h6v25h-6zM1412 998h4v25h-4zM1439 998h4v25h-4zM1453 998h3v25h-3zM1470 998h3v25h-3zM1544 998h3v25h-3z"/>
<path fill="#fc7234" d="M1102 998h3v25h-3zM1108 998h4v25h-4zM1179 998h4v25h-4zM1331 998h4v25h-4zM1362 998h3v25h-3zM1395 998h4v25h-4zM1449 998h4v25h-4zM1459 998h4v25h-4zM1473 998h3v25h-3zM1524 998h6v25h-6zM1571 998h3v25h-3zM1581 998h3v25h-3z"/>
<path fill="#fc7033" d="M1105 998h3v25h-3zM1135 998h4v25h-4zM1213 998h3v25h-3zM1254 998h3v25h-3zM1274 998h3v25h-3zM1284 998h3v25h-3zM1291 998h3v25h-3zM1338 998h3v25h-3zM1345 998h3v25h-3zM1389 998h3v25h-3zM1503 998h4v25h-4zM1513 998h4v25h-4zM1537 998h3v25h-3zM1574 998h4v25h-4zM1605 998h3v25h-3z"/>
<path fill="#fc6e33" d="M1142 998h4v25h-4zM1152 998h4v25h-4zM1206 998h4v25h-4zM1287 998h4v25h-4zM1341 998h4v25h-4zM1385 998h4v25h-4zM1405 998h4v25h-4zM1429 998h3v25h-3zM1510 998h3v25h-3zM1561 998h3v25h-3zM1648 998h4v25h-4z"/>
<path fill="#fc6c32" d="M1098 998h4v25h-4zM1149 998h3v25h-3zM1200 998h6v25h-6zM1392 998h3v25h-3zM1463 998h3v25h-3zM1480 998h3v25h-3zM1497 998h3v25h-3zM1554 998h7v25h-7zM1611 998h4v25h-4zM1618 998h3v25h-3z"/>
<path fill="#fc6a32" d="M1183 998h6v25h-6zM1193 998h3v25h-3zM1281 998h3v25h-3zM1335 998h3v25h-3zM1540 998h4v25h-4zM1601 998h4v25h-4z"/>
<path fill="#fc6831" d="M1119 998h3v25h-3zM1237 998h3v25h-3zM1378 998h4v25h-4zM1416 998h6v25h-6zM1483 998h3v25h-3zM1547 998h4v25h-4zM1567 998h4v25h-4zM1598 998h3v25h-3zM1608 998h3v25h-3zM1621 998h4v25h-4zM1655 998h5v25h-5z"/>
<path fill="#fc6630" d="M1115 998h4v25h-4zM1196 998h4v25h-4zM1230 998h3v25h-3zM1243 998h4v25h-4zM1260 998h4v25h-4zM1308 998h3v25h-3zM1365 998h3v25h-3zM1355 974h3v24h-3z"/>
<path fill="#fc6430" d="M1173 998h3v25h-3zM1250 998h4v25h-4zM1294 998h3v25h-3zM1311 998h3v25h-3zM1578 998h3v25h-3z"/>
<path fill="#fc622f" d="M1227 998h3v25h-3zM1409 998h3v25h-3zM1476 998h4v25h-4z"/>
<path fill="#fc602f" d="M1264 998h3v25h-3zM1368 998h4v25h-4zM1584 998h4v25h-4zM1652 998h3v25h-3zM1270 974h4v24h-4zM1277 974h4v24h-4z"/>
<path fill="#fc5e2e" d="M1625 998h3v25h-3zM1146 974h3v24h-3zM1382 974h3v24h-3z"/>
<path fill="#fc5c2e" d="M1240 998h3v25h-3zM1297 998h4v25h-4zM1456 998h3v25h-3zM1551 998h3v25h-3z"/>
<path fill="#fc5a2d" d="M1493 998h4v25h-4zM1210 974h3v24h-3zM1301 974h3v24h-3zM1534 974h3v24h-3z"/>
<path fill="#fc582d" d="M1156 998h3v25h-3zM1267 998h3v25h-3zM1247 974h3v24h-3zM1375 974h3v24h-3zM1422 974h4v24h-4zM1635 974h3v24h-3z"/>
<path fill="#fc562c" d="M1314 998h4v25h-4zM1588 998h3v25h-3zM1615 998h3v25h-3zM1139 974h3v24h-3zM1632 974h3v24h-3zM1642 974h3v24h-3z"/>
<path fill="#fc542b" d="M1426 974h3v24h-3zM1490 974h3v24h-3zM1500 974h3v24h-3z"/>
<path fill="#fc502a" d="M1112 974h3v24h-3zM1233 974h4v24h-4zM1591 974h3v24h-3zM1638 974h4v24h-4z"/>
<path fill="#fc4e2a" d="M1517 998h3v25h-3zM1122 974h7v24h-7zM1189 974h4v24h-4zM1274 974h3v24h-3zM1318 974h3v24h-3zM1328 974h3v24h-3zM1372 974h3v24h-3zM1594 974h4v24h-4z"/>
<path fill="#fb4c29" d="M1348 974h3v24h-3zM1436 974h3v24h-3zM1507 974h3v24h-3zM1574 974h4v24h-4zM1645 974h3v24h-3z"/>
<path fill="#fa4b29" d="M1159 974h3v24h-3zM1166 974h3v24h-3zM1304 974h4v24h-4zM1321 974h3v24h-3zM1412 974h4v24h-4zM1530 974h4v24h-4zM1564 974h3v24h-3zM1628 974h4v24h-4zM1648 974h4v24h-4z"/>
<path fill="#f94928" d="M1129 974h6v24h-6zM1179 974h4v24h-4zM1223 974h4v24h-4zM1389 974h3v24h-3zM1439 974h4v24h-4zM1470 974h3v24h-3zM1520 974h4v24h-4zM1544 974h3v24h-3zM1561 974h3v24h-3zM1581 974h3v24h-3z"/>
<path fill="#f94828" d="M1152 974h4v24h-4zM1162 974h4v24h-4zM1216 974h4v24h-4zM1257 974h3v24h-3zM1341 974h4v24h-4zM1358 974h4v24h-4zM1443 974h3v24h-3zM1449 974h4v24h-4zM1537 974h3v24h-3zM1571 974h3v24h-3z"/>
<path fill="#f84627" d="M1108 974h4v24h-4zM1206 974h4v24h-4zM1331 974h4v24h-4zM1402 974h3v24h-3zM1446 974h3v24h-3zM1453 974h3v24h-3zM1486 974h4v24h-4zM1524 974h3v24h-3zM1598 974h3v24h-3zM1605 974h3v24h-3z"/>
<path fill="#f74427" d="M1105 974h3v24h-3zM1142 974h4v24h-4zM1294 974h3v24h-3zM1395 974h4v24h-4zM1459 974h4v24h-4zM1466 974h4v24h-4zM1503 974h4v24h-4zM1513 974h4v24h-4zM1527 974h3v24h-3zM1557 974h4v24h-4z"/>
<path fill="#f64327" d="M1098 974h7v24h-7zM1176 974h3v24h-3zM1183 974h3v24h-3zM1200 974h6v24h-6zM1220 974h3v24h-3zM1230 974h3v24h-3zM1291 974h3v24h-3zM1308 974h3v24h-3zM1335 974h6v24h-6zM1385 974h4v24h-4zM1405 974h4v24h-4zM1432 974h4v24h-4zM1480 974h3v24h-3zM1510 974h3v24h-3zM1554 974h3v24h-3zM1601 974h4v24h-4z"/>
<path fill="#f64126" d="M1095 974h3v24h-3zM1119 974h3v24h-3zM1314 974h4v24h-4zM1409 974h3v24h-3zM1429 974h3v24h-3zM1473 974h3v24h-3zM1567 974h4v24h-4zM1611 974h4v24h-4z"/>
<path fill="#f53f26" d="M1135 974h4v24h-4zM1149 974h3v24h-3zM1169 974h4v24h-4zM1213 974h3v24h-3zM1227 974h3v24h-3zM1281 974h6v24h-6zM1351 974h4v24h-4zM1365 974h7v24h-7zM1378 974h4v24h-4zM1392 974h3v24h-3zM1399 974h3v24h-3zM1476 974h4v24h-4zM1608 974h3v24h-3z"/>
<path fill="#f43e25" d="M1115 974h4v24h-4zM1156 974h3v24h-3zM1196 974h4v24h-4zM1250 974h7v24h-7zM1345 974h3v24h-3zM1362 974h3v24h-3zM1463 974h3v24h-3zM1483 974h3v24h-3zM1497 974h3v24h-3z"/>
<path fill="#f33c25" d="M1243 974h4v24h-4zM1311 974h3v24h-3zM1419 974h3v24h-3zM1578 974h3v24h-3zM1618 974h7v24h-7z"/>
<path fill="#f23b24" d="M1186 974h3v24h-3zM1540 974h4v24h-4z"/>
<path fill="#f23924" d="M1237 974h3v24h-3zM1260 974h4v24h-4zM1287 974h4v24h-4zM1456 974h3v24h-3zM1584 974h4v24h-4z"/>
<path fill="#f13724" d="M1173 974h3v24h-3zM1547 974h4v24h-4zM1588 974h3v24h-3zM1625 974h3v24h-3zM1655 974h5v24h-5zM1355 950h3v24h-3z"/>
<path fill="#f03623" d="M1652 974h3v24h-3z"/>
<path fill="#ef3423" d="M1193 974h3v24h-3zM1416 974h3v24h-3zM1493 974h4v24h-4z"/>
<path fill="#ee3222" d="M1297 974h4v24h-4z"/>
<path fill="#ee3122" d="M1210 950h3v24h-3z"/>
<path fill="#ed2f21" d="M1240 974h3v24h-3zM1267 974h3v24h-3zM1551 974h3v24h-3zM1382 950h3v24h-3z"/>
<path fill="#ec2d21" d="M1301 950h3v24h-3z"/>
<path fill="#eb2c20" d="M1264 974h3v24h-3zM1615 974h3v24h-3zM1146 950h3v24h-3zM1270 950h4v24h-4zM1348 950h3v24h-3zM1426 950h3v24h-3z"/>
<path fill="#eb2a20" d="M1422 950h4v24h-4z"/>
<path fill="#ea2920" d="M1324 974h4v24h-4zM1534 950h3v24h-3zM1642 950h3v24h-3z"/>
<path fill="#e9271f" d="M1162 950h4v24h-4zM1189 950h4v24h-4zM1635 950h3v24h-3z"/>
<path fill="#e8251f" d="M1517 974h3v24h-3zM1277 950h4v24h-4z"/>
<path fill="#e7241e" d="M1112 950h3v24h-3zM1139 950h3v24h-3zM1216 950h4v24h-4zM1247 950h3v24h-3zM1328 950h3v24h-3zM1375 950h3v24h-3z"/>
<path fill="#e7221e" d="M1129 950h3v24h-3zM1166 950h3v24h-3zM1220 950h3v24h-3zM1304 950h4v24h-4zM1436 950h7v24h-7zM1628 950h4v24h-4z"/>
<path fill="#e6201d" d="M1125 950h4v24h-4zM1179 950h4v24h-4zM1233 950h4v24h-4zM1321 950h3v24h-3zM1372 950h3v24h-3zM1389 950h3v24h-3zM1443 950h3v24h-3zM1594 950h4v24h-4zM1648 950h4v24h-4z"/>
<path fill="#e51f1d" d="M1132 950h3v24h-3zM1206 950h4v24h-4zM1274 950h3v24h-3zM1500 950h3v24h-3zM1520 950h4v24h-4zM1611 950h4v24h-4zM1632 950h3v24h-3z"/>
<path fill="#e41d1c" d="M1122 950h3v24h-3zM1159 950h3v24h-3zM1176 950h3v24h-3zM1183 950h3v24h-3zM1257 950h3v24h-3zM1331 950h4v24h-4zM1341 950h4v24h-4zM1399 950h3v24h-3zM1446 950h3v24h-3zM1459 950h4v24h-4zM1473 950h3v24h-3zM1513 950h4v24h-4zM1537 950h3v24h-3zM1571 950h3v24h-3z"/>
<path fill="#e31c1c" d="M1105 950h3v24h-3zM1254 950h3v24h-3zM1318 950h3v24h-3zM1358 950h4v24h-4zM1432 950h4v24h-4zM1449 950h7v24h-7zM1486 950h7v24h-7zM1524 950h3v24h-3zM1544 950h3v24h-3zM1561 950h3v24h-3zM1581 950h3v24h-3zM1638 950h4v24h-4zM1645 950h3v24h-3z"/>
<path fill="#e31a1c" d="M1142 950h4v24h-4zM1338 950h3v24h-3zM1362 950h3v24h-3zM1405 950h4v24h-4zM1466 950h7v24h-7zM1503 950h10v24h-10zM1530 950h4v24h-4zM1564 950h3v24h-3zM1591 950h3v24h-3z"/>
<path fill="#e2191c" d="M1108 950h4v24h-4zM1345 950h3v24h-3zM1351 950h4v24h-4zM1395 950h4v24h-4zM1402 950h3v24h-3zM1527 950h3v24h-3zM1574 950h4v24h-4z"/>
<path fill="#e0181c" d="M1115 950h4v24h-4zM1213 950h3v24h-3zM1291 950h3v24h-3zM1412 950h4v24h-4zM1567 950h4v24h-4zM1605 950h3v24h-3z"/>
<path fill="#df171c" d="M1102 950h3v24h-3zM1119 950h3v24h-3zM1223 950h4v24h-4zM1392 950h3v24h-3zM1429 950h3v24h-3zM1557 950h4v24h-4zM1578 950h3v24h-3zM1598 950h3v24h-3zM1608 950h3v24h-3z"/>
<path fill="#de161d" d="M1098 950h4v24h-4zM1186 950h3v24h-3zM1203 950h3v24h-3zM1230 950h3v24h-3zM1281 950h3v24h-3zM1385 950h4v24h-4zM1463 950h3v24h-3zM1540 950h4v24h-4zM1621 950h4v24h-4z"/>
<path fill="#dd161d" d="M1095 950h3v24h-3zM1135 950h4v24h-4zM1152 950h4v24h-4zM1169 950h4v24h-4zM1287 950h4v24h-4zM1294 950h3v24h-3zM1335 950h3v24h-3zM1365 950h3v24h-3zM1378 950h4v24h-4zM1409 950h3v24h-3zM1554 950h3v24h-3zM1618 950h3v24h-3z"/>
<path fill="#dc151d" d="M1308 950h3v24h-3zM1314 950h4v24h-4zM1416 950h6v24h-6zM1476 950h7v24h-7zM1547 950h4v24h-4zM1584 950h4v24h-4zM1601 950h4v24h-4z"/>
<path fill="#da141e" d="M1193 950h3v24h-3zM1237 950h3v24h-3zM1284 950h3v24h-3zM1368 950h4v24h-4zM1497 950h3v24h-3z"/>
<path fill="#d9131e" d="M1200 950h3v24h-3zM1250 950h4v24h-4zM1625 950h3v24h-3z"/>
<path fill="#d8121e" d="M1149 950h3v24h-3zM1243 950h4v24h-4zM1267 950h3v24h-3zM1311 950h3v24h-3z"/>
<path fill="#d7121f" d="M1240 950h3v24h-3zM1297 950h4v24h-4zM1655 950h5v24h-5z"/>
<path fill="#d6111f" d="M1156 950h3v24h-3zM1173 950h3v24h-3zM1196 950h4v24h-4zM1227 950h3v24h-3zM1260 950h4v24h-4zM1517 950h3v24h-3zM1652 950h3v24h-3z"/>
<path fill="#d4101f" d="M1483 950h3v24h-3zM1615 950h3v24h-3z"/>
<path fill="#d30f20" d="M1264 950h3v24h-3zM1355 926h3v24h-3z"/>
<path fill="#d10d20" d="M1456 950h3v24h-3zM1493 950h4v24h-4zM1551 950h3v24h-3zM1277 926h4v24h-4z"/>
<path fill="#d00d20" d="M1588 950h3v24h-3zM1159 926h3v24h-3zM1210 926h3v24h-3z"/>
<path fill="#cf0c21" d="M1382 926h3v24h-3zM1422 926h4v24h-4z"/>
<path fill="#cd0b21" d="M1324 950h4v24h-4z"/>
<path fill="#cc0a21" d="M1146 926h3v24h-3zM1348 926h3v24h-3zM1375 926h3v24h-3zM1500 926h3v24h-3z"/>
<path fill="#cb0922" d="M1247 926h3v24h-3zM1635 926h3v24h-3z"/>
<path fill="#ca0922" d="M1166 926h3v24h-3zM1189 926h4v24h-4zM1270 926h4v24h-4zM1426 926h3v24h-3z"/>
<path fill="#c90822" d="M1162 926h4v24h-4zM1321 926h3v24h-3zM1534 926h3v24h-3z"/>
<path fill="#c70723" d="M1216 926h4v24h-4zM1274 926h3v24h-3zM1372 926h3v24h-3zM1395 926h4v24h-4zM1628 926h4v24h-4z"/>
<path fill="#c60623" d="M1301 926h3v24h-3zM1642 926h3v24h-3z"/>
<path fill="#c50523" d="M1122 926h3v24h-3zM1139 926h3v24h-3zM1233 926h4v24h-4zM1304 926h4v24h-4zM1328 926h3v24h-3zM1345 926h3v24h-3zM1544 926h3v24h-3z"/>
<path fill="#c40424" d="M1473 926h3v24h-3zM1507 926h3v24h-3zM1632 926h3v24h-3z"/>
<path fill="#c30424" d="M1176 926h3v24h-3zM1318 926h3v24h-3zM1412 926h4v24h-4zM1443 926h3v24h-3zM1470 926h3v24h-3zM1490 926h3v24h-3zM1520 926h4v24h-4z"/>
<path fill="#c10324" d="M1125 926h4v24h-4zM1206 926h4v24h-4zM1436 926h3v24h-3zM1446 926h3v24h-3zM1503 926h4v24h-4zM1530 926h4v24h-4zM1594 926h4v24h-4zM1638 926h4v24h-4z"/>
<path fill="#c00225" d="M1112 926h3v24h-3zM1257 926h3v24h-3zM1341 926h4v24h-4zM1439 926h4v24h-4zM1574 926h4v24h-4zM1605 926h3v24h-3z"/>
<path fill="#bf0125" d="M1098 926h4v24h-4zM1119 926h3v24h-3zM1254 926h3v24h-3zM1429 926h7v24h-7zM1466 926h4v24h-4zM1513 926h4v24h-4zM1537 926h3v24h-3zM1578 926h3v24h-3z"/>
<path fill="#be0025" d="M1102 926h3v24h-3zM1142 926h4v24h-4zM1179 926h4v24h-4zM1213 926h3v24h-3zM1220 926h3v24h-3zM1281 926h3v24h-3zM1338 926h3v24h-3zM1358 926h4v24h-4zM1368 926h4v24h-4zM1392 926h3v24h-3zM1453 926h3v24h-3zM1524 926h6v24h-6zM1561 926h6v24h-6zM1571 926h3v24h-3zM1591 926h3v24h-3zM1598 926h3v24h-3z"/>
<path fill="#bd0025" d="M1129 926h6v24h-6zM1152 926h4v24h-4zM1389 926h3v24h-3zM1497 926h3v24h-3zM1510 926h3v24h-3zM1618 926h3v24h-3z"/>
<path fill="#bb0026" d="M1149 926h3v24h-3zM1169 926h4v24h-4zM1223 926h4v24h-4zM1284 926h3v24h-3zM1331 926h4v24h-4zM1449 926h4v24h-4zM1480 926h3v24h-3zM1486 926h4v24h-4zM1540 926h4v24h-4zM1581 926h3v24h-3z"/>
<path fill="#b90026" d="M1183 926h3v24h-3zM1203 926h3v24h-3zM1243 926h4v24h-4zM1335 926h3v24h-3zM1362 926h3v24h-3zM1378 926h4v24h-4zM1399 926h6v24h-6zM1419 926h3v24h-3zM1459 926h4v24h-4zM1476 926h4v24h-4zM1645 926h3v24h-3z"/>
<path fill="#b70026" d="M1095 926h3v24h-3zM1115 926h4v24h-4zM1186 926h3v24h-3zM1230 926h3v24h-3zM1260 926h4v24h-4zM1291 926h3v24h-3zM1351 926h4v24h-4zM1416 926h3v24h-3zM1608 926h3v24h-3z"/>
<path fill="#b50026" d="M1108 926h4v24h-4zM1173 926h3v24h-3zM1227 926h3v24h-3zM1294 926h3v24h-3zM1405 926h7v24h-7zM1463 926h3v24h-3zM1611 926h4v24h-4zM1621 926h4v24h-4z"/>
<path fill="#b30026" d="M1135 926h4v24h-4zM1365 926h3v24h-3zM1385 926h4v24h-4zM1567 926h4v24h-4z"/>
<path fill="#b10026" d="M1105 926h3v24h-3zM1237 926h3v24h-3zM1648 926h4v24h-4z"/>
<path fill="#af0026" d="M1193 926h3v24h-3zM1314 926h4v24h-4zM1517 926h3v24h-3zM1547 926h4v24h-4zM1601 926h4v24h-4z"/>
<path fill="#ad0026" d="M1200 926h3v24h-3zM1250 926h4v24h-4zM1267 926h3v24h-3zM1483 926h3v24h-3zM1554 926h3v24h-3z"/>
<path fill="#ac0026" d="M1557 926h4v24h-4z"/>
<path fill="#aa0026" d="M1287 926h4v24h-4zM1308 926h3v24h-3zM1652 926h3v24h-3z"/>
<path fill="#a80026" d="M1311 926h3v24h-3zM1625 926h3v24h-3zM1655 926h5v24h-5z"/>
<path fill="#a60026" d="M1156 926h3v24h-3zM1240 926h3v24h-3zM1584 926h4v24h-4z"/>
<path fill="#a40026" d="M1196 926h4v24h-4zM1456 926h3v24h-3zM1615 926h3v24h-3z"/>
<path fill="#a20026" d="M1264 926h3v24h-3zM1297 926h4v24h-4zM1493 926h4v24h-4zM1588 926h3v24h-3z"/>
<path fill="#9c0026" d="M1551 926h3v24h-3z"/>
<path fill="#8b0026" d="M1125 902h4v24h-4zM1203 902h3v24h-3zM1281 902h3v24h-3zM1567 902h4v24h-4z"/>
<path fill="#890026" d="M1324 926h4v24h-4z"/>
<path fill="#800026" d="M1095 902h30v24h-30zM1129 902h74v24h-74zM1206 902h75v24h-75zM1284 902h283v24h-283zM1571 902h89v24h-89zM1095 877h565v25h-565z"/>
</g>
<path class="g" d="M1095.5 877.5V1143.5M1176.5 877.5V1143.5M1257.5 877.5V1143.5M1338.5 877.5V1143.5M1419.5 877.5V1143.5M1500.5 877.5V1143.5M1581.5 877.5V1143.5"/>
<path class="k" d="M1095.5 1142.76v5.3M1176.5 1142.76v5.3M1257.5 1142.76v5.3M1338.5 1142.76v5.3M1419.5 1142.76v5.3M1500.5 1142.76v5.3M1581.5 1142.76v5.3M1095.45 1143.5h-5.2M1095.45 1022.5h-5.2M1095.45 950.5h-5.2"/>
<rect class="k" x="1095.5" y="877.5" width="564" height="266"/>
<rect x="1694.5" y="877.5" width="14" height="266" fill="url(#cm)"/>
<rect class="k" x="1694.5" y="877.5" width="14" height="266"/>
<path class="k" d="M1707.59 1122.5h5.5M1707.59 1086.5h5.5M1707.59 1050.5h5.5M1707.59 1014.5h5.5M1707.59 978.5h5.5M1707.59 941.5h5.5M1707.59 905.5h5.5"/>
<g class="c">
<path fill="#ffffcc" d="M550 1438h3v24h-3zM756 1438h3v24h-3zM800 1438h3v24h-3z"/>
<path fill="#fffeca" d="M300 1438h4v24h-4z"/>
<path fill="#fffdc9" d="M719 1438h3v24h-3z"/>
<path fill="#fffdc7" d="M290 1438h3v24h-3zM297 1438h3v24h-3z"/>
<path fill="#fffcc6" d="M712 1438h3v24h-3z"/>
<path fill="#fffcc5" d="M371 1438h3v24h-3z"/>
<path fill="#fffbc3" d="M496 1438h3v24h-3z"/>
<path fill="#fffbc2" d="M293 1438h4v24h-4zM304 1438h3v24h-3zM526 1438h4v24h-4z"/>
<path fill="#fffac0" d="M385 1438h3v24h-3zM752 1438h4v24h-4zM806 1438h4v24h-4z"/>
<path fill="#fff9bf" d="M763 1438h6v24h-6z"/>
<path fill="#fff9be" d="M466 1438h3v24h-3zM553 1438h4v24h-4z"/>
<path fill="#fff8bc" d="M543 1438h4v24h-4z"/>
<path fill="#fff8bb" d="M678 1438h4v24h-4zM749 1438h3v24h-3z"/>
<path fill="#fff7ba" d="M287 1438h3v24h-3zM462 1438h4v24h-4zM769 1438h4v24h-4z"/>
<path fill="#fff7b8" d="M327 1438h4v24h-4zM533 1438h3v24h-3zM665 1438h3v24h-3z"/>
<path fill="#fff6b7" d="M651 1438h4v24h-4z"/>
<path fill="#fff5b5" d="M574 1438h3v24h-3z"/>
<path fill="#fff4b3" d="M408 1438h4v24h-4zM459 1438h3v24h-3zM540 1438h3v24h-3zM563 1438h4v24h-4zM597 1438h4v24h-4z"/>
<path fill="#fff4b1" d="M715 1438h4v24h-4z"/>
<path fill="#fff3b0" d="M790 1438h3v24h-3zM803 1438h3v24h-3z"/>
<path fill="#fff3af" d="M428 1438h4v24h-4zM469 1438h3v24h-3z"/>
<path fill="#fff2ad" d="M455 1438h4v24h-4zM530 1438h3v24h-3z"/>
<path fill="#fff2ac" d="M381 1438h4v24h-4zM422 1438h3v24h-3zM648 1438h3v24h-3z"/>
<path fill="#fff1aa" d="M682 1438h3v24h-3z"/>
<path fill="#fff0a9" d="M638 1438h3v24h-3z"/>
<path fill="#ffefa6" d="M405 1438h3v24h-3zM655 1438h3v24h-3zM685 1438h3v24h-3zM729 1438h3v24h-3z"/>
<path fill="#ffefa5" d="M401 1438h4v24h-4zM675 1438h3v24h-3z"/>
<path fill="#ffeea3" d="M341 1438h3v24h-3zM368 1438h3v24h-3zM479 1438h3v24h-3z"/>
<path fill="#ffeea2" d="M344 1438h3v24h-3zM378 1438h3v24h-3zM570 1438h4v24h-4zM614 1438h3v24h-3zM671 1438h4v24h-4zM702 1438h3v24h-3zM783 1438h3v24h-3z"/>
<path fill="#ffeda1" d="M442 1438h3v24h-3zM587 1438h3v24h-3z"/>
<path fill="#feec9f" d="M310 1438h4v24h-4zM425 1438h3v24h-3zM698 1438h4v24h-4z"/>
<path fill="#feec9e" d="M449 1438h3v24h-3zM641 1438h3v24h-3z"/>
<path fill="#feeb9d" d="M476 1438h3v24h-3z"/>
<path fill="#feeb9b" d="M695 1438h3v24h-3z"/>
<path fill="#feea9a" d="M634 1438h4v24h-4z"/>
<path fill="#fee999" d="M567 1438h3v24h-3zM590 1438h4v24h-4zM688 1438h4v24h-4z"/>
<path fill="#fee997" d="M324 1438h3v24h-3zM786 1438h4v24h-4z"/>
<path fill="#fee795" d="M445 1438h4v24h-4zM607 1438h4v24h-4z"/>
<path fill="#fee793" d="M584 1438h3v24h-3zM611 1438h3v24h-3z"/>
<path fill="#fee691" d="M516 1438h4v24h-4z"/>
<path fill="#fee590" d="M391 1438h4v24h-4zM513 1438h3v24h-3z"/>
<path fill="#fee48e" d="M482 1438h4v24h-4z"/>
<path fill="#fee48d" d="M337 1438h4v24h-4z"/>
<path fill="#fee38c" d="M746 1438h3v24h-3z"/>
<path fill="#fee28a" d="M388 1438h3v24h-3z"/>
<path fill="#fee188" d="M644 1438h4v24h-4z"/>
<path fill="#fec864" d="M334 1438h3v24h-3z"/>
<path fill="#fec661" d="M506 1438h3v24h-3zM580 1438h4v24h-4z"/>
<path fill="#fec560" d="M725 1438h4v24h-4z"/>
<path fill="#fec35f" d="M256 1438h4v24h-4zM280 1438h3v24h-3zM395 1438h3v24h-3z"/>
<path fill="#fec15c" d="M263 1438h7v24h-7zM452 1438h3v24h-3zM793 1438h3v24h-3z"/>
<path fill="#fec05b" d="M418 1438h4v24h-4zM432 1438h3v24h-3zM604 1438h3v24h-3zM709 1438h3v24h-3z"/>
<path fill="#febf5a" d="M260 1438h3v24h-3zM499 1438h4v24h-4zM547 1438h3v24h-3z"/>
<path fill="#febd58" d="M253 1438h3v24h-3zM354 1438h4v24h-4zM439 1438h3v24h-3zM692 1438h3v24h-3z"/>
<path fill="#febc57" d="M486 1438h3v24h-3zM509 1438h4v24h-4zM536 1438h4v24h-4zM577 1438h3v24h-3zM631 1438h3v24h-3zM739 1438h7v24h-7z"/>
<path fill="#febb56" d="M273 1438h4v24h-4zM503 1438h3v24h-3z"/>
<path fill="#feba54" d="M358 1438h3v24h-3zM415 1438h3v24h-3zM435 1438h4v24h-4zM621 1438h3v24h-3zM776 1438h3v24h-3z"/>
<path fill="#feb853" d="M347 1438h4v24h-4zM398 1438h3v24h-3zM628 1438h3v24h-3zM705 1438h4v24h-4zM773 1438h3v24h-3zM796 1438h4v24h-4z"/>
<path fill="#feb752" d="M270 1438h3v24h-3zM361 1438h3v24h-3zM374 1438h4v24h-4zM560 1438h3v24h-3z"/>
<path fill="#feb650" d="M314 1438h3v24h-3zM351 1438h3v24h-3z"/>
<path fill="#feb54f" d="M624 1438h4v24h-4zM722 1438h3v24h-3zM759 1438h4v24h-4z"/>
<path fill="#feb34e" d="M412 1438h3v24h-3zM736 1438h3v24h-3z"/>
<path fill="#feb24c" d="M489 1438h4v24h-4zM617 1438h4v24h-4zM661 1438h4v24h-4z"/>
<path fill="#fdb14b" d="M283 1438h4v24h-4z"/>
<path fill="#fdb04b" d="M317 1438h3v24h-3zM520 1438h3v24h-3zM594 1438h3v24h-3zM601 1438h3v24h-3zM732 1438h4v24h-4zM810 1438h5v24h-5z"/>
<path fill="#fdaf4a" d="M250 1438h3v24h-3zM277 1438h3v24h-3zM493 1438h3v24h-3zM779 1438h4v24h-4z"/>
<path fill="#fdac49" d="M668 1438h3v24h-3z"/>
<path fill="#fdab49" d="M320 1438h4v24h-4zM331 1438h3v24h-3zM472 1438h4v24h-4z"/>
<path fill="#fdaa48" d="M523 1438h3v24h-3z"/>
<path fill="#fda948" d="M307 1438h3v24h-3z"/>
<path fill="#fda847" d="M658 1438h3v24h-3z"/>
<path fill="#fda446" d="M364 1438h4v24h-4z"/>
<path fill="#fda345" d="M557 1438h3v24h-3z"/>
<path fill="#fd9b42" d="M641 1414h3v24h-3z"/>
<path fill="#fd9941" d="M634 1414h4v24h-4zM675 1414h3v24h-3z"/>
<path fill="#fd9840" d="M638 1414h3v24h-3zM651 1414h4v24h-4zM678 1414h4v24h-4zM688 1414h4v24h-4z"/>
<path fill="#fd9640" d="M644 1414h4v24h-4zM661 1414h4v24h-4zM671 1414h4v24h-4zM685 1414h3v24h-3zM692 1414h3v24h-3z"/>
<path fill="#fd953f" d="M628 1414h3v24h-3zM648 1414h3v24h-3zM665 1414h3v24h-3zM634 1389h4v25h-4z"/>
<path fill="#fd943f" d="M668 1414h3v24h-3z"/>
<path fill="#fd933e" d="M655 1414h3v24h-3zM682 1414h3v24h-3zM695 1414h3v24h-3zM776 1414h3v24h-3zM651 1389h4v25h-4z"/>
<path fill="#fd923e" d="M631 1414h3v24h-3zM752 1414h4v24h-4zM763 1414h3v24h-3z"/>
<path fill="#fd913d" d="M422 1414h3v24h-3zM536 1414h4v24h-4zM658 1414h3v24h-3zM729 1414h3v24h-3zM773 1414h3v24h-3z"/>
<path fill="#fd8f3d" d="M280 1414h3v24h-3zM378 1414h3v24h-3zM425 1414h3v24h-3zM550 1414h3v24h-3zM557 1414h3v24h-3zM574 1414h3v24h-3zM587 1414h3v24h-3zM739 1414h3v24h-3zM661 1389h7v25h-7z"/>
<path fill="#fd8e3c" d="M263 1414h3v24h-3zM277 1414h3v24h-3zM381 1414h4v24h-4zM435 1414h7v24h-7zM533 1414h3v24h-3zM570 1414h4v24h-4zM577 1414h3v24h-3zM584 1414h3v24h-3zM702 1414h3v24h-3zM736 1414h3v24h-3zM756 1414h7v24h-7zM766 1414h7v24h-7zM685 1389h3v25h-3z"/>
<path fill="#fd8d3c" d="M250 1414h3v24h-3zM283 1414h4v24h-4zM314 1414h3v24h-3zM341 1414h3v24h-3zM361 1414h3v24h-3zM398 1414h3v24h-3zM428 1414h4v24h-4zM449 1414h3v24h-3zM520 1414h3v24h-3zM530 1414h3v24h-3zM580 1414h4v24h-4zM590 1414h7v24h-7zM607 1414h4v24h-4zM698 1414h4v24h-4zM749 1414h3v24h-3zM800 1414h6v24h-6z"/>
<path fill="#fc8c3b" d="M253 1414h7v24h-7zM273 1414h4v24h-4zM307 1414h3v24h-3zM317 1414h3v24h-3zM337 1414h4v24h-4zM351 1414h10v24h-10zM371 1414h3v24h-3zM391 1414h4v24h-4zM405 1414h3v24h-3zM452 1414h7v24h-7zM462 1414h4v24h-4zM489 1414h7v24h-7zM513 1414h7v24h-7zM523 1414h3v24h-3zM540 1414h3v24h-3zM604 1414h3v24h-3zM614 1414h3v24h-3zM705 1414h4v24h-4zM722 1414h3v24h-3zM742 1414h4v24h-4zM786 1414h4v24h-4z"/>
<path fill="#fc8a3b" d="M260 1414h3v24h-3zM293 1414h7v24h-7zM310 1414h4v24h-4zM320 1414h7v24h-7zM347 1414h4v24h-4zM374 1414h4v24h-4zM401 1414h4v24h-4zM418 1414h4v24h-4zM432 1414h3v24h-3zM479 1414h10v24h-10zM496 1414h3v24h-3zM506 1414h7v24h-7zM526 1414h4v24h-4zM543 1414h4v24h-4zM553 1414h4v24h-4zM563 1414h7v24h-7zM709 1414h3v24h-3zM715 1414h4v24h-4zM732 1414h4v24h-4zM779 1414h4v24h-4zM806 1414h4v24h-4zM638 1389h3v25h-3zM678 1389h4v25h-4zM692 1389h3v25h-3z"/>
<path fill="#fc883a" d="M290 1414h3v24h-3zM327 1414h4v24h-4zM385 1414h3v24h-3zM408 1414h4v24h-4zM459 1414h3v24h-3zM560 1414h3v24h-3zM597 1414h7v24h-7zM611 1414h3v24h-3zM617 1414h7v24h-7zM719 1414h3v24h-3zM725 1414h4v24h-4zM790 1414h3v24h-3zM631 1389h3v25h-3zM641 1389h3v25h-3z"/>
<path fill="#fc863a" d="M331 1414h3v24h-3zM344 1414h3v24h-3zM364 1414h7v24h-7zM412 1414h6v24h-6zM442 1414h3v24h-3zM466 1414h3v24h-3zM476 1414h3v24h-3zM499 1414h4v24h-4zM712 1414h3v24h-3zM796 1414h4v24h-4zM675 1389h3v25h-3z"/>
<path fill="#fc8439" d="M266 1414h4v24h-4zM287 1414h3v24h-3zM334 1414h3v24h-3zM388 1414h3v24h-3zM445 1414h4v24h-4zM472 1414h4v24h-4zM547 1414h3v24h-3zM746 1414h3v24h-3zM783 1414h3v24h-3zM655 1389h3v25h-3zM671 1389h4v25h-4zM682 1389h3v25h-3zM695 1389h3v25h-3z"/>
<path fill="#fc8238" d="M270 1414h3v24h-3zM300 1414h4v24h-4zM469 1414h3v24h-3zM503 1414h3v24h-3zM624 1414h4v24h-4zM793 1414h3v24h-3zM810 1414h5v24h-5zM644 1389h7v25h-7zM658 1389h3v25h-3zM668 1389h3v25h-3zM773 1389h3v25h-3z"/>
<path fill="#fc8038" d="M304 1414h3v24h-3zM395 1414h3v24h-3z"/>
<path fill="#fc7e37" d="M752 1389h4v25h-4z"/>
<path fill="#fc7c37" d="M628 1389h3v25h-3z"/>
<path fill="#fc7a36" d="M688 1389h4v25h-4zM729 1389h3v25h-3zM763 1389h3v25h-3z"/>
<path fill="#fc7836" d="M651 1365h4v24h-4z"/>
<path fill="#fc7635" d="M756 1389h7v25h-7zM766 1389h3v25h-3z"/>
<path fill="#fc7434" d="M769 1389h4v25h-4z"/>
<path fill="#fc7033" d="M776 1389h3v25h-3z"/>
<path fill="#fc6e33" d="M702 1389h3v25h-3zM634 1365h4v24h-4z"/>
<path fill="#fc6c32" d="M341 1389h3v25h-3zM786 1389h4v25h-4z"/>
<path fill="#fc6a32" d="M250 1389h3v25h-3zM435 1389h10v25h-10zM594 1389h3v25h-3zM790 1389h3v25h-3zM800 1389h3v25h-3zM692 1365h3v24h-3z"/>
<path fill="#fc6831" d="M280 1389h3v25h-3zM398 1389h3v25h-3zM422 1389h3v25h-3zM486 1389h3v25h-3zM536 1389h4v25h-4zM557 1389h3v25h-3zM570 1389h4v25h-4zM590 1389h4v25h-4zM749 1389h3v25h-3zM803 1389h7v25h-7zM644 1365h4v24h-4z"/>
<path fill="#fc6630" d="M314 1389h3v25h-3zM418 1389h4v25h-4zM513 1389h3v25h-3zM520 1389h3v25h-3zM530 1389h3v25h-3zM550 1389h7v25h-7zM567 1389h3v25h-3zM698 1389h4v25h-4zM709 1389h3v25h-3zM739 1389h3v25h-3zM796 1389h4v25h-4zM638 1365h3v24h-3zM671 1365h4v24h-4z"/>
<path fill="#fc6430" d="M277 1389h3v25h-3zM317 1389h3v25h-3zM327 1389h4v25h-4zM381 1389h7v25h-7zM459 1389h3v25h-3zM601 1389h6v25h-6zM641 1365h3v24h-3zM648 1365h3v24h-3zM661 1365h10v24h-10z"/>
<path fill="#fc622f" d="M283 1389h4v25h-4zM337 1389h4v25h-4zM351 1389h3v25h-3zM361 1389h3v25h-3zM378 1389h3v25h-3zM401 1389h4v25h-4zM445 1389h4v25h-4zM493 1389h3v25h-3zM577 1389h3v25h-3zM584 1389h3v25h-3zM611 1389h3v25h-3zM628 1365h3v24h-3zM678 1365h4v24h-4z"/>
<path fill="#fc602f" d="M263 1389h3v25h-3zM290 1389h20v25h-20zM324 1389h3v25h-3zM347 1389h4v25h-4zM371 1389h7v25h-7zM462 1389h4v25h-4zM479 1389h3v25h-3zM489 1389h4v25h-4zM523 1389h3v25h-3zM533 1389h3v25h-3zM574 1389h3v25h-3zM607 1389h4v25h-4zM621 1389h3v25h-3zM732 1389h4v25h-4zM783 1389h3v25h-3zM793 1389h3v25h-3zM810 1389h5v25h-5zM658 1365h3v24h-3zM682 1365h6v24h-6zM773 1365h3v24h-3z"/>
<path fill="#fc5e2e" d="M253 1389h3v25h-3zM266 1389h4v25h-4zM331 1389h6v25h-6zM354 1389h7v25h-7zM405 1389h3v25h-3zM455 1389h4v25h-4zM472 1389h4v25h-4zM482 1389h4v25h-4zM506 1389h7v25h-7zM526 1389h4v25h-4zM540 1389h7v25h-7zM580 1389h4v25h-4zM614 1389h7v25h-7zM624 1389h4v25h-4zM705 1389h4v25h-4zM719 1389h10v25h-10zM736 1389h3v25h-3zM675 1365h3v24h-3zM651 1341h4v24h-4z"/>
<path fill="#fc5c2e" d="M320 1389h4v25h-4zM388 1389h3v25h-3zM408 1389h4v25h-4zM428 1389h7v25h-7zM449 1389h3v25h-3zM496 1389h3v25h-3zM563 1389h4v25h-4zM587 1389h3v25h-3zM712 1389h3v25h-3zM746 1389h3v25h-3zM631 1365h3v24h-3zM634 1341h4v24h-4z"/>
<path fill="#fc5a2d" d="M273 1389h4v25h-4zM310 1389h4v25h-4zM364 1389h4v25h-4zM395 1389h3v25h-3zM415 1389h3v25h-3zM476 1389h3v25h-3zM499 1389h4v25h-4zM560 1389h3v25h-3zM779 1389h4v25h-4zM655 1365h3v24h-3zM688 1365h4v24h-4zM695 1365h3v24h-3z"/>
<path fill="#fc582d" d="M260 1389h3v25h-3zM287 1389h3v25h-3zM391 1389h4v25h-4zM452 1389h3v25h-3zM466 1389h6v25h-6zM547 1389h3v25h-3zM597 1389h4v25h-4zM715 1389h4v25h-4zM742 1389h4v25h-4z"/>
<path fill="#fc562c" d="M270 1389h3v25h-3zM344 1389h3v25h-3zM368 1389h3v25h-3zM425 1389h3v25h-3z"/>
<path fill="#fc542b" d="M256 1389h4v25h-4zM412 1389h3v25h-3zM503 1389h3v25h-3zM752 1365h4v24h-4z"/>
<path fill="#fc522b" d="M638 1341h3v24h-3z"/>
<path fill="#fc502a" d="M516 1389h4v25h-4z"/>
<path fill="#fc4e2a" d="M759 1365h10v24h-10z"/>
<path fill="#fb4c29" d="M756 1365h3v24h-3zM769 1365h4v24h-4z"/>
<path fill="#fa4b29" d="M661 1341h7v24h-7z"/>
<path fill="#f94928" d="M648 1341h3v24h-3zM685 1341h3v24h-3z"/>
<path fill="#f94828" d="M776 1365h3v24h-3zM631 1341h3v24h-3zM644 1341h4v24h-4z"/>
<path fill="#f84627" d="M641 1341h3v24h-3zM671 1341h4v24h-4z"/>
<path fill="#f74427" d="M628 1341h3v24h-3z"/>
<path fill="#f64327" d="M729 1365h3v24h-3zM655 1341h3v24h-3zM678 1341h7v24h-7zM692 1341h3v24h-3z"/>
<path fill="#f64126" d="M668 1341h3v24h-3zM675 1341h3v24h-3z"/>
<path fill="#f53f26" d="M557 1365h3v24h-3zM658 1341h3v24h-3zM773 1341h3v24h-3z"/>
<path fill="#f43e25" d="M442 1365h3v24h-3zM570 1365h4v24h-4zM604 1365h3v24h-3zM786 1365h10v24h-10zM803 1365h3v24h-3z"/>
<path fill="#f33c25" d="M341 1365h3v24h-3zM594 1365h3v24h-3z"/>
<path fill="#f23b24" d="M314 1365h3v24h-3zM378 1365h3v24h-3zM574 1365h3v24h-3zM580 1365h4v24h-4zM702 1365h3v24h-3zM810 1365h5v24h-5z"/>
<path fill="#f23924" d="M277 1365h3v24h-3zM337 1365h4v24h-4zM371 1365h3v24h-3zM381 1365h4v24h-4zM536 1365h4v24h-4zM577 1365h3v24h-3zM590 1365h4v24h-4zM698 1365h4v24h-4zM749 1365h3v24h-3zM800 1365h3v24h-3zM806 1365h4v24h-4zM695 1341h3v24h-3zM763 1341h3v24h-3z"/>
<path fill="#f13724" d="M250 1365h3v24h-3zM280 1365h3v24h-3zM513 1365h3v24h-3zM530 1365h3v24h-3zM540 1365h3v24h-3zM584 1365h3v24h-3zM796 1365h4v24h-4zM688 1341h4v24h-4zM769 1341h4v24h-4zM634 1317h4v24h-4z"/>
<path fill="#f03623" d="M324 1365h3v24h-3zM422 1365h3v24h-3zM435 1365h7v24h-7zM489 1365h7v24h-7zM533 1365h3v24h-3zM553 1365h4v24h-4zM563 1365h4v24h-4zM601 1365h3v24h-3zM611 1365h3v24h-3zM739 1365h3v24h-3zM651 1317h4v24h-4z"/>
<path fill="#ef3423" d="M283 1365h4v24h-4zM293 1365h7v24h-7zM334 1365h3v24h-3zM358 1365h6v24h-6zM398 1365h3v24h-3zM405 1365h3v24h-3zM418 1365h4v24h-4zM428 1365h4v24h-4zM496 1365h3v24h-3zM520 1365h3v24h-3zM550 1365h3v24h-3zM607 1365h4v24h-4zM621 1365h3v24h-3zM783 1365h3v24h-3zM759 1341h4v24h-4zM766 1341h3v24h-3z"/>
<path fill="#ee3222" d="M253 1365h3v24h-3zM260 1365h6v24h-6zM307 1365h3v24h-3zM327 1365h4v24h-4zM385 1365h3v24h-3zM401 1365h4v24h-4zM408 1365h7v24h-7zM459 1365h3v24h-3zM466 1365h3v24h-3zM486 1365h3v24h-3zM709 1365h3v24h-3zM732 1365h4v24h-4zM779 1365h4v24h-4zM638 1317h3v24h-3zM644 1317h4v24h-4z"/>
<path fill="#ee3122" d="M304 1365h3v24h-3zM317 1365h3v24h-3zM347 1365h4v24h-4zM374 1365h4v24h-4zM391 1365h4v24h-4zM449 1365h3v24h-3zM455 1365h4v24h-4zM462 1365h4v24h-4zM482 1365h4v24h-4zM506 1365h7v24h-7zM543 1365h4v24h-4zM560 1365h3v24h-3zM567 1365h3v24h-3zM614 1365h3v24h-3zM719 1365h6v24h-6zM752 1341h4v24h-4zM776 1341h3v24h-3z"/>
<path fill="#ed2f21" d="M270 1365h3v24h-3zM287 1365h3v24h-3zM310 1365h4v24h-4zM320 1365h4v24h-4zM331 1365h3v24h-3zM388 1365h3v24h-3zM452 1365h3v24h-3zM472 1365h4v24h-4zM516 1365h4v24h-4zM523 1365h3v24h-3zM587 1365h3v24h-3zM597 1365h4v24h-4zM617 1365h4v24h-4zM705 1365h4v24h-4zM742 1365h7v24h-7zM756 1341h3v24h-3zM641 1317h3v24h-3zM648 1317h3v24h-3z"/>
<path fill="#ec2d21" d="M351 1365h3v24h-3zM364 1365h4v24h-4zM445 1365h4v24h-4zM479 1365h3v24h-3zM503 1365h3v24h-3zM712 1365h3v24h-3zM725 1365h4v24h-4zM736 1365h3v24h-3z"/>
<path fill="#eb2c20" d="M256 1365h4v24h-4zM266 1365h4v24h-4zM290 1365h3v24h-3zM344 1365h3v24h-3zM415 1365h3v24h-3zM499 1365h4v24h-4zM526 1365h4v24h-4zM624 1365h4v24h-4z"/>
<path fill="#eb2a20" d="M300 1365h4v24h-4zM368 1365h3v24h-3zM432 1365h3v24h-3zM469 1365h3v24h-3zM715 1365h4v24h-4zM661 1317h4v24h-4zM692 1317h3v24h-3z"/>
<path fill="#ea2920" d="M273 1365h4v24h-4zM354 1365h4v24h-4zM395 1365h3v24h-3zM547 1365h3v24h-3z"/>
<path fill="#e9271f" d="M476 1365h3v24h-3zM729 1341h3v24h-3zM682 1317h6v24h-6z"/>
<path fill="#e8251f" d="M425 1365h3v24h-3zM628 1317h3v24h-3zM634 1293h4v24h-4z"/>
<path fill="#e7241e" d="M631 1317h3v24h-3zM675 1317h3v24h-3z"/>
<path fill="#e7221e" d="M341 1341h3v24h-3zM570 1341h4v24h-4zM702 1341h3v24h-3zM655 1317h6v24h-6zM671 1317h4v24h-4zM688 1317h4v24h-4zM773 1317h3v24h-3z"/>
<path fill="#e6201d" d="M277 1341h3v24h-3zM790 1341h3v24h-3zM665 1317h3v24h-3zM678 1317h4v24h-4zM695 1317h3v24h-3zM651 1293h4v24h-4z"/>
<path fill="#e51f1d" d="M536 1341h4v24h-4zM557 1341h3v24h-3zM739 1341h3v24h-3zM800 1341h6v24h-6z"/>
<path fill="#e41d1c" d="M381 1341h4v24h-4zM435 1341h4v24h-4zM442 1341h3v24h-3zM698 1341h4v24h-4zM709 1341h3v24h-3zM736 1341h3v24h-3zM786 1341h4v24h-4z"/>
<path fill="#e31c1c" d="M250 1341h3v24h-3zM337 1341h4v24h-4zM358 1341h3v24h-3zM422 1341h3v24h-3zM439 1341h3v24h-3zM449 1341h3v24h-3zM530 1341h3v24h-3zM590 1341h7v24h-7zM749 1341h3v24h-3zM793 1341h7v24h-7zM810 1341h5v24h-5zM752 1317h4v24h-4z"/>
<path fill="#e31a1c" d="M263 1341h3v24h-3zM280 1341h7v24h-7zM354 1341h4v24h-4zM378 1341h3v24h-3zM385 1341h3v24h-3zM401 1341h4v24h-4zM408 1341h4v24h-4zM428 1341h4v24h-4zM455 1341h4v24h-4zM513 1341h3v24h-3zM520 1341h3v24h-3zM533 1341h3v24h-3zM563 1341h4v24h-4zM580 1341h7v24h-7zM601 1341h6v24h-6zM611 1341h3v24h-3zM732 1341h4v24h-4zM806 1341h4v24h-4zM759 1317h4v24h-4z"/>
<path fill="#e2191c" d="M297 1341h20v24h-20zM361 1341h3v24h-3zM391 1341h4v24h-4zM398 1341h3v24h-3zM459 1341h7v24h-7zM482 1341h7v24h-7zM523 1341h7v24h-7zM540 1341h3v24h-3zM550 1341h7v24h-7zM617 1341h4v24h-4zM705 1341h4v24h-4zM779 1341h7v24h-7z"/>
<path fill="#e0181c" d="M293 1341h4v24h-4zM320 1341h11v24h-11zM351 1341h3v24h-3zM371 1341h3v24h-3zM388 1341h3v24h-3zM415 1341h7v24h-7zM445 1341h4v24h-4zM452 1341h3v24h-3zM469 1341h3v24h-3zM489 1341h7v24h-7zM547 1341h3v24h-3zM560 1341h3v24h-3zM567 1341h3v24h-3zM574 1341h3v24h-3zM614 1341h3v24h-3zM621 1341h7v24h-7zM712 1341h3v24h-3zM722 1341h3v24h-3zM746 1341h3v24h-3zM668 1317h3v24h-3zM763 1317h6v24h-6zM631 1293h3v24h-3zM638 1293h6v24h-6z"/>
<path fill="#df171c" d="M253 1341h3v24h-3zM260 1341h3v24h-3zM287 1341h6v24h-6zM317 1341h3v24h-3zM334 1341h3v24h-3zM374 1341h4v24h-4zM405 1341h3v24h-3zM496 1341h3v24h-3zM509 1341h4v24h-4zM543 1341h4v24h-4zM577 1341h3v24h-3zM587 1341h3v24h-3zM607 1341h4v24h-4zM719 1341h3v24h-3zM725 1341h4v24h-4zM742 1341h4v24h-4zM756 1317h3v24h-3z"/>
<path fill="#de161d" d="M273 1341h4v24h-4zM331 1341h3v24h-3zM395 1341h3v24h-3zM432 1341h3v24h-3zM476 1341h6v24h-6zM499 1341h4v24h-4zM506 1341h3v24h-3zM597 1341h4v24h-4zM769 1317h4v24h-4zM661 1293h4v24h-4z"/>
<path fill="#dd161d" d="M412 1341h3v24h-3zM466 1341h3v24h-3zM503 1341h3v24h-3zM644 1293h4v24h-4z"/>
<path fill="#dc151d" d="M266 1341h7v24h-7zM347 1341h4v24h-4zM364 1341h7v24h-7zM425 1341h3v24h-3zM472 1341h4v24h-4zM776 1317h3v24h-3zM628 1293h3v24h-3zM665 1293h3v24h-3z"/>
<path fill="#da141e" d="M344 1341h3v24h-3zM648 1293h3v24h-3z"/>
<path fill="#d9131e" d="M516 1341h4v24h-4zM668 1293h3v24h-3z"/>
<path fill="#d8121e" d="M675 1293h3v24h-3zM685 1293h3v24h-3z"/>
<path fill="#d7121f" d="M256 1341h4v24h-4zM715 1341h4v24h-4zM682 1293h3v24h-3z"/>
<path fill="#d6111f" d="M729 1317h3v24h-3zM678 1293h4v24h-4zM692 1293h6v24h-6zM651 1269h4v24h-4z"/>
<path fill="#d4101f" d="M671 1293h4v24h-4z"/>
<path fill="#d30f20" d="M634 1269h4v24h-4z"/>
<path fill="#d20e20" d="M604 1317h3v24h-3zM655 1293h3v24h-3zM688 1293h4v24h-4zM773 1293h3v24h-3z"/>
<path fill="#d10d20" d="M786 1317h7v24h-7zM644 1269h4v24h-4z"/>
<path fill="#d00d20" d="M314 1317h3v24h-3zM381 1317h4v24h-4zM442 1317h3v24h-3zM530 1317h3v24h-3zM536 1317h4v24h-4zM570 1317h4v24h-4zM702 1317h3v24h-3zM658 1293h3v24h-3zM752 1293h4v24h-4z"/>
<path fill="#cf0c21" d="M277 1317h3v24h-3zM513 1317h3v24h-3zM557 1317h3v24h-3zM594 1317h3v24h-3zM803 1317h7v24h-7zM756 1293h3v24h-3zM648 1269h3v24h-3z"/>
<path fill="#cd0b21" d="M263 1317h3v24h-3zM341 1317h3v24h-3zM378 1317h3v24h-3zM401 1317h4v24h-4zM422 1317h3v24h-3zM439 1317h3v24h-3zM489 1317h4v24h-4zM580 1317h4v24h-4zM590 1317h4v24h-4zM709 1317h3v24h-3zM732 1317h4v24h-4zM739 1317h3v24h-3zM749 1317h3v24h-3zM779 1317h4v24h-4zM796 1317h7v24h-7zM810 1317h5v24h-5zM763 1293h3v24h-3zM769 1293h4v24h-4z"/>
<path fill="#cc0a21" d="M250 1317h3v24h-3zM300 1317h4v24h-4zM310 1317h4v24h-4zM351 1317h3v24h-3zM361 1317h3v24h-3zM405 1317h3v24h-3zM435 1317h4v24h-4zM486 1317h3v24h-3zM493 1317h3v24h-3zM520 1317h3v24h-3zM526 1317h4v24h-4zM550 1317h3v24h-3zM567 1317h3v24h-3zM577 1317h3v24h-3zM584 1317h3v24h-3zM611 1317h3v24h-3zM766 1293h3v24h-3zM776 1293h3v24h-3zM631 1269h3v24h-3zM641 1269h3v24h-3z"/>
<path fill="#cb0922" d="M283 1317h4v24h-4zM297 1317h3v24h-3zM304 1317h6v24h-6zM371 1317h3v24h-3zM398 1317h3v24h-3zM445 1317h4v24h-4zM540 1317h7v24h-7zM574 1317h3v24h-3zM587 1317h3v24h-3zM601 1317h3v24h-3zM607 1317h4v24h-4zM614 1317h3v24h-3zM783 1317h3v24h-3zM793 1317h3v24h-3zM759 1293h4v24h-4z"/>
<path fill="#ca0922" d="M253 1317h3v24h-3zM280 1317h3v24h-3zM317 1317h3v24h-3zM337 1317h4v24h-4zM354 1317h4v24h-4zM374 1317h4v24h-4zM385 1317h3v24h-3zM391 1317h4v24h-4zM415 1317h3v24h-3zM428 1317h4v24h-4zM462 1317h4v24h-4zM506 1317h3v24h-3zM523 1317h3v24h-3zM533 1317h3v24h-3zM553 1317h4v24h-4zM563 1317h4v24h-4zM617 1317h4v24h-4zM698 1317h4v24h-4zM719 1317h6v24h-6zM742 1317h4v24h-4z"/>
<path fill="#c90822" d="M290 1317h3v24h-3zM324 1317h3v24h-3zM347 1317h4v24h-4zM358 1317h3v24h-3zM408 1317h4v24h-4zM418 1317h4v24h-4zM449 1317h6v24h-6zM459 1317h3v24h-3zM469 1317h3v24h-3zM482 1317h4v24h-4zM496 1317h3v24h-3zM705 1317h4v24h-4zM736 1317h3v24h-3zM746 1317h3v24h-3z"/>
<path fill="#c70723" d="M260 1317h3v24h-3zM266 1317h4v24h-4zM287 1317h3v24h-3zM293 1317h4v24h-4zM327 1317h4v24h-4zM364 1317h4v24h-4zM388 1317h3v24h-3zM395 1317h3v24h-3zM432 1317h3v24h-3zM466 1317h3v24h-3zM476 1317h3v24h-3zM509 1317h4v24h-4zM560 1317h3v24h-3zM624 1317h4v24h-4zM725 1317h4v24h-4z"/>
<path fill="#c60623" d="M320 1317h4v24h-4zM331 1317h3v24h-3zM368 1317h3v24h-3zM412 1317h3v24h-3zM455 1317h4v24h-4zM472 1317h4v24h-4zM479 1317h3v24h-3zM499 1317h4v24h-4zM547 1317h3v24h-3zM621 1317h3v24h-3zM712 1317h3v24h-3z"/>
<path fill="#c50523" d="M503 1317h3v24h-3zM597 1317h4v24h-4zM729 1293h3v24h-3zM628 1269h3v24h-3zM638 1269h3v24h-3z"/>
<path fill="#c40424" d="M256 1317h4v24h-4zM270 1317h3v24h-3zM334 1317h3v24h-3zM344 1317h3v24h-3zM773 1269h3v24h-3z"/>
<path fill="#c30424" d="M273 1317h4v24h-4zM425 1317h3v24h-3z"/>
<path fill="#c10324" d="M516 1317h4v24h-4zM651 1245h4v24h-4z"/>
<path fill="#c00225" d="M570 1293h4v24h-4zM709 1293h3v24h-3z"/>
<path fill="#bf0125" d="M314 1293h3v24h-3zM341 1293h3v24h-3zM604 1293h3v24h-3zM702 1293h3v24h-3zM648 1245h3v24h-3z"/>
<path fill="#be0025" d="M715 1317h4v24h-4zM280 1293h3v24h-3zM594 1293h3v24h-3zM786 1293h4v24h-4zM685 1269h3v24h-3z"/>
<path fill="#bd0025" d="M277 1293h3v24h-3zM381 1293h4v24h-4zM422 1293h3v24h-3zM439 1293h3v24h-3zM536 1293h4v24h-4zM557 1293h3v24h-3zM739 1293h3v24h-3zM790 1293h3v24h-3zM806 1293h9v24h-9zM661 1269h7v24h-7zM763 1269h3v24h-3z"/>
<path fill="#bb0026" d="M253 1293h3v24h-3zM293 1293h4v24h-4zM320 1293h4v24h-4zM327 1293h4v24h-4zM361 1293h3v24h-3zM378 1293h3v24h-3zM418 1293h4v24h-4zM435 1293h4v24h-4zM442 1293h3v24h-3zM513 1293h3v24h-3zM520 1293h3v24h-3zM533 1293h3v24h-3zM574 1293h6v24h-6zM590 1293h4v24h-4zM607 1293h4v24h-4zM614 1293h3v24h-3zM749 1293h3v24h-3zM793 1293h3v24h-3zM803 1293h3v24h-3zM655 1269h3v24h-3zM675 1269h3v24h-3zM695 1269h3v24h-3zM766 1269h3v24h-3z"/>
<path fill="#b90026" d="M250 1293h3v24h-3zM263 1293h7v24h-7zM283 1293h4v24h-4zM297 1293h10v24h-10zM358 1293h3v24h-3zM371 1293h7v24h-7zM385 1293h3v24h-3zM405 1293h7v24h-7zM452 1293h3v24h-3zM479 1293h3v24h-3zM493 1293h3v24h-3zM509 1293h4v24h-4zM540 1293h3v24h-3zM550 1293h7v24h-7zM580 1293h4v24h-4zM698 1293h4v24h-4zM705 1293h4v24h-4zM722 1293h3v24h-3zM779 1293h4v24h-4zM796 1293h7v24h-7zM729 1269h3v24h-3zM752 1269h4v24h-4zM641 1245h7v24h-7z"/>
<path fill="#b70026" d="M260 1293h3v24h-3zM287 1293h3v24h-3zM317 1293h3v24h-3zM324 1293h3v24h-3zM337 1293h4v24h-4zM354 1293h4v24h-4zM398 1293h3v24h-3zM449 1293h3v24h-3zM459 1293h7v24h-7zM482 1293h7v24h-7zM523 1293h10v24h-10zM560 1293h3v24h-3zM584 1293h3v24h-3zM611 1293h3v24h-3zM719 1293h3v24h-3zM783 1293h3v24h-3zM668 1269h7v24h-7zM692 1269h3v24h-3z"/>
<path fill="#b50026" d="M307 1293h7v24h-7zM331 1293h6v24h-6zM347 1293h4v24h-4zM391 1293h4v24h-4zM401 1293h4v24h-4zM412 1293h3v24h-3zM428 1293h7v24h-7zM455 1293h4v24h-4zM466 1293h10v24h-10zM489 1293h4v24h-4zM496 1293h3v24h-3zM543 1293h4v24h-4zM563 1293h7v24h-7zM597 1293h7v24h-7zM617 1293h4v24h-4zM732 1293h7v24h-7zM742 1293h7v24h-7zM756 1269h7v24h-7z"/>
<path fill="#b30026" d="M290 1293h3v24h-3zM351 1293h3v24h-3zM364 1293h4v24h-4zM415 1293h3v24h-3zM445 1293h4v24h-4zM476 1293h3v24h-3zM499 1293h7v24h-7zM725 1293h4v24h-4zM678 1269h7v24h-7zM769 1269h4v24h-4zM631 1245h3v24h-3zM638 1245h3v24h-3zM692 1245h3v24h-3z"/>
<path fill="#b10026" d="M273 1293h4v24h-4zM368 1293h3v24h-3zM425 1293h3v24h-3zM506 1293h3v24h-3zM621 1293h7v24h-7zM658 1269h3v24h-3zM688 1269h4v24h-4zM628 1245h3v24h-3zM688 1245h4v24h-4z"/>
<path fill="#af0026" d="M270 1293h3v24h-3zM344 1293h3v24h-3zM388 1293h3v24h-3zM395 1293h3v24h-3zM547 1293h3v24h-3zM587 1293h3v24h-3zM712 1293h3v24h-3zM570 1269h4v24h-4zM776 1269h3v24h-3zM682 1245h3v24h-3zM695 1245h3v24h-3z"/>
<path fill="#ad0026" d="M715 1293h4v24h-4zM702 1269h3v24h-3zM634 1245h4v24h-4z"/>
<path fill="#ac0026" d="M256 1293h4v24h-4zM341 1269h3v24h-3zM435 1269h4v24h-4zM685 1245h3v24h-3z"/>
<path fill="#aa0026" d="M516 1293h4v24h-4zM304 1269h3v24h-3zM314 1269h3v24h-3zM381 1269h7v24h-7zM422 1269h3v24h-3zM439 1269h3v24h-3zM449 1269h3v24h-3zM530 1269h3v24h-3zM557 1269h3v24h-3zM590 1269h7v24h-7zM709 1269h3v24h-3zM790 1269h3v24h-3z"/>
<path fill="#a80026" d="M280 1269h3v24h-3zM300 1269h4v24h-4zM307 1269h3v24h-3zM358 1269h3v24h-3zM378 1269h3v24h-3zM418 1269h4v24h-4zM520 1269h3v24h-3zM526 1269h4v24h-4zM536 1269h4v24h-4zM584 1269h3v24h-3zM604 1269h3v24h-3zM614 1269h3v24h-3zM739 1269h3v24h-3z"/>
<path fill="#a60026" d="M263 1269h3v24h-3zM277 1269h3v24h-3zM293 1269h7v24h-7zM354 1269h4v24h-4zM361 1269h3v24h-3zM371 1269h7v24h-7zM398 1269h3v24h-3zM408 1269h4v24h-4zM482 1269h4v24h-4zM489 1269h4v24h-4zM540 1269h3v24h-3zM553 1269h4v24h-4zM574 1269h3v24h-3zM580 1269h4v24h-4zM611 1269h3v24h-3zM698 1269h4v24h-4zM736 1269h3v24h-3zM749 1269h3v24h-3zM786 1269h4v24h-4zM800 1269h3v24h-3zM806 1269h4v24h-4z"/>
<path fill="#a40026" d="M250 1269h3v24h-3zM283 1269h4v24h-4zM327 1269h4v24h-4zM337 1269h4v24h-4zM351 1269h3v24h-3zM428 1269h4v24h-4zM442 1269h7v24h-7zM459 1269h7v24h-7zM486 1269h3v24h-3zM496 1269h3v24h-3zM513 1269h3v24h-3zM523 1269h3v24h-3zM533 1269h3v24h-3zM550 1269h3v24h-3zM577 1269h3v24h-3zM607 1269h4v24h-4zM722 1269h3v24h-3zM732 1269h4v24h-4zM783 1269h3v24h-3zM793 1269h3v24h-3zM661 1245h4v24h-4zM668 1245h10v24h-10zM756 1245h3v24h-3z"/>
<path fill="#a20026" d="M253 1269h3v24h-3zM266 1269h4v24h-4zM310 1269h4v24h-4zM324 1269h3v24h-3zM344 1269h3v24h-3zM364 1269h4v24h-4zM395 1269h3v24h-3zM401 1269h7v24h-7zM452 1269h3v24h-3zM493 1269h3v24h-3zM499 1269h4v24h-4zM506 1269h3v24h-3zM587 1269h3v24h-3zM601 1269h3v24h-3zM624 1269h4v24h-4zM705 1269h4v24h-4zM719 1269h3v24h-3zM779 1269h4v24h-4zM803 1269h3v24h-3zM665 1245h3v24h-3zM678 1245h4v24h-4z"/>
<path fill="#a00026" d="M260 1269h3v24h-3zM270 1269h3v24h-3zM287 1269h3v24h-3zM317 1269h7v24h-7zM331 1269h6v24h-6zM347 1269h4v24h-4zM368 1269h3v24h-3zM388 1269h7v24h-7zM415 1269h3v24h-3zM455 1269h4v24h-4zM466 1269h3v24h-3zM476 1269h6v24h-6zM509 1269h4v24h-4zM543 1269h4v24h-4zM563 1269h7v24h-7zM597 1269h4v24h-4zM617 1269h4v24h-4zM712 1269h3v24h-3zM742 1269h4v24h-4zM796 1269h4v24h-4zM810 1269h5v24h-5zM773 1245h3v24h-3z"/>
<path fill="#9e0026" d="M290 1269h3v24h-3zM412 1269h3v24h-3zM425 1269h3v24h-3zM432 1269h3v24h-3zM516 1269h4v24h-4zM547 1269h3v24h-3zM560 1269h3v24h-3zM621 1269h3v24h-3zM725 1269h4v24h-4zM746 1269h3v24h-3zM759 1245h4v24h-4zM776 1245h3v24h-3z"/>
<path fill="#9c0026" d="M256 1269h4v24h-4zM273 1269h4v24h-4zM469 1269h7v24h-7zM503 1269h3v24h-3zM763 1245h6v24h-6z"/>
<path fill="#9a0026" d="M715 1269h4v24h-4zM655 1245h6v24h-6zM752 1245h4v24h-4zM769 1245h4v24h-4z"/>
<path fill="#980026" d="M796 1245h4v24h-4z"/>
<path fill="#960026" d="M648 1220h3v25h-3z"/>
<path fill="#950026" d="M651 1220h4v25h-4z"/>
<path fill="#930026" d="M253 1245h3v24h-3zM479 1245h3v24h-3zM601 1245h3v24h-3zM715 1245h4v24h-4zM725 1245h4v24h-4zM806 1245h4v24h-4z"/>
<path fill="#910026" d="M304 1245h3v24h-3zM317 1245h3v24h-3zM486 1245h3v24h-3zM584 1245h3v24h-3zM786 1245h4v24h-4z"/>
<path fill="#8f0026" d="M280 1245h3v24h-3zM358 1245h3v24h-3zM709 1245h3v24h-3z"/>
<path fill="#8d0026" d="M283 1245h4v24h-4zM607 1245h4v24h-4zM810 1245h5v24h-5zM641 1220h3v25h-3z"/>
<path fill="#8b0026" d="M405 1245h3v24h-3zM644 1220h4v25h-4z"/>
<path fill="#890026" d="M250 1245h3v24h-3zM314 1245h3v24h-3zM378 1245h7v24h-7zM439 1245h3v24h-3zM536 1245h4v24h-4zM557 1245h3v24h-3zM587 1245h3v24h-3zM594 1245h3v24h-3zM712 1245h3v24h-3zM793 1245h3v24h-3zM803 1245h3v24h-3z"/>
<path fill="#870026" d="M256 1245h10v24h-10zM273 1245h7v24h-7zM341 1245h3v24h-3zM361 1245h3v24h-3zM371 1245h3v24h-3zM385 1245h3v24h-3zM391 1245h4v24h-4zM398 1245h7v24h-7zM422 1245h6v24h-6zM432 1245h7v24h-7zM449 1245h3v24h-3zM462 1245h4v24h-4zM482 1245h4v24h-4zM489 1245h7v24h-7zM513 1245h10v24h-10zM526 1245h7v24h-7zM540 1245h3v24h-3zM550 1245h7v24h-7zM563 1245h4v24h-4zM570 1245h14v24h-14zM590 1245h4v24h-4zM705 1245h4v24h-4zM722 1245h3v24h-3zM729 1245h10v24h-10zM749 1245h3v24h-3zM800 1245h3v24h-3z"/>
<path fill="#850026" d="M270 1245h3v24h-3zM287 1245h6v24h-6zM297 1245h3v24h-3zM307 1245h7v24h-7zM324 1245h17v24h-17zM344 1245h14v24h-14zM374 1245h4v24h-4zM395 1245h3v24h-3zM408 1245h14v24h-14zM428 1245h4v24h-4zM442 1245h7v24h-7zM452 1245h3v24h-3zM459 1245h3v24h-3zM496 1245h3v24h-3zM506 1245h7v24h-7zM523 1245h3v24h-3zM533 1245h3v24h-3zM543 1245h7v24h-7zM560 1245h3v24h-3zM567 1245h3v24h-3zM611 1245h13v24h-13zM742 1245h7v24h-7zM779 1245h7v24h-7zM790 1245h3v24h-3z"/>
<path fill="#830026" d="M266 1245h4v24h-4zM293 1245h4v24h-4zM300 1245h4v24h-4zM320 1245h4v24h-4zM364 1245h7v24h-7zM388 1245h3v24h-3zM455 1245h4v24h-4zM466 1245h13v24h-13zM499 1245h4v24h-4zM597 1245h4v24h-4zM604 1245h3v24h-3zM624 1245h4v24h-4zM698 1245h7v24h-7z"/>
<path fill="#810026" d="M503 1245h3v24h-3zM739 1245h3v24h-3z"/>
<path fill="#800026" d="M719 1245h3v24h-3zM250 1220h391v25h-391zM655 1220h160v25h-160zM250 1196h565v24h-565z"/>
</g>
<path class="g" d="M250.5 1196.5V1461.5M331.5 1196.5V1461.5M412.5 1196.5V1461.5M493.5 1196.5V1461.5M574.5 1196.5V1461.5M655.5 1196.5V1461.5M736.5 1196.5V1461.5"/>
<path class="k" d="M250.5 1461.38v5.3M331.5 1461.38v5.3M412.5 1461.38v5.3M493.5 1461.38v5.3M574.5 1461.38v5.3M655.5 1461.38v5.3M736.5 1461.38v5.3M250 1461.5h-5.2M250 1341.5h-5.2M250 1268.5h-5.2"/>
<rect class="k" x="250.5" y="1196.5" width="564" height="265"/>
<rect x="849.5" y="1196.5" width="13" height="265" fill="url(#cm)"/>
<rect class="k" x="849.5" y="1196.5" width="13" height="265"/>
<path class="k" d="M862.14 1417.5h5.5M862.14 1371.5h5.5M862.14 1325.5h5.5M862.14 1279.5h5.5M862.14 1233.5h5.5"/>
<g class="c">
<path fill="#ffffcc" d="M1362 1438h3v24h-3zM1551 1438h3v24h-3zM1642 1438h6v24h-6z"/>
<path fill="#fffdc7" d="M1308 1438h3v24h-3zM1648 1438h4v24h-4z"/>
<path fill="#fffcc6" d="M1142 1438h4v24h-4zM1173 1438h3v24h-3z"/>
<path fill="#fffbc2" d="M1135 1438h4v24h-4z"/>
<path fill="#fffac0" d="M1247 1438h3v24h-3z"/>
<path fill="#fff9be" d="M1611 1438h4v24h-4z"/>
<path fill="#fff8bc" d="M1281 1438h3v24h-3zM1372 1438h3v24h-3zM1520 1438h4v24h-4z"/>
<path fill="#fff7ba" d="M1139 1438h3v24h-3zM1216 1438h4v24h-4zM1311 1438h3v24h-3zM1540 1438h4v24h-4z"/>
<path fill="#fff6b7" d="M1166 1438h3v24h-3zM1436 1438h3v24h-3zM1527 1438h3v24h-3z"/>
<path fill="#fff5b5" d="M1524 1438h3v24h-3z"/>
<path fill="#fff5b4" d="M1297 1438h4v24h-4z"/>
<path fill="#fff4b3" d="M1375 1438h3v24h-3zM1574 1438h4v24h-4zM1652 1438h3v24h-3z"/>
<path fill="#fff4b1" d="M1277 1438h4v24h-4zM1304 1438h4v24h-4zM1365 1438h3v24h-3z"/>
<path fill="#fff3b0" d="M1331 1438h4v24h-4zM1530 1438h4v24h-4z"/>
<path fill="#fff3af" d="M1240 1438h3v24h-3zM1321 1438h3v24h-3z"/>
<path fill="#fff2ad" d="M1210 1438h3v24h-3zM1439 1438h4v24h-4zM1615 1438h3v24h-3z"/>
<path fill="#fff2ac" d="M1186 1438h3v24h-3zM1432 1438h4v24h-4zM1517 1438h3v24h-3z"/>
<path fill="#fff1aa" d="M1399 1438h3v24h-3z"/>
<path fill="#fff0a9" d="M1318 1438h3v24h-3zM1378 1438h4v24h-4zM1628 1438h4v24h-4z"/>
<path fill="#fff0a8" d="M1108 1438h4v24h-4zM1338 1438h3v24h-3zM1453 1438h3v24h-3zM1544 1438h7v24h-7z"/>
<path fill="#ffefa6" d="M1112 1438h3v24h-3zM1176 1438h3v24h-3zM1213 1438h3v24h-3zM1324 1438h4v24h-4zM1503 1438h4v24h-4zM1578 1438h3v24h-3zM1605 1438h3v24h-3z"/>
<path fill="#ffefa5" d="M1115 1438h4v24h-4zM1449 1438h4v24h-4zM1584 1438h4v24h-4z"/>
<path fill="#ffeea3" d="M1183 1438h3v24h-3zM1632 1438h3v24h-3z"/>
<path fill="#ffeea2" d="M1534 1438h3v24h-3zM1581 1438h3v24h-3z"/>
<path fill="#ffeda1" d="M1169 1438h4v24h-4zM1230 1438h3v24h-3zM1254 1438h3v24h-3zM1294 1438h3v24h-3zM1588 1438h3v24h-3z"/>
<path fill="#feec9f" d="M1200 1438h3v24h-3zM1243 1438h4v24h-4z"/>
<path fill="#feec9e" d="M1179 1438h4v24h-4zM1223 1438h4v24h-4zM1382 1438h3v24h-3zM1446 1438h3v24h-3z"/>
<path fill="#feeb9b" d="M1601 1438h4v24h-4z"/>
<path fill="#feea9a" d="M1412 1438h7v24h-7z"/>
<path fill="#fee691" d="M1227 1438h3v24h-3zM1335 1438h3v24h-3zM1409 1438h3v24h-3z"/>
<path fill="#fee48e" d="M1557 1438h4v24h-4z"/>
<path fill="#fee48d" d="M1608 1438h3v24h-3z"/>
<path fill="#fedf84" d="M1345 1438h3v24h-3z"/>
<path fill="#fedf82" d="M1348 1438h3v24h-3zM1476 1438h4v24h-4z"/>
<path fill="#fedd80" d="M1162 1438h4v24h-4z"/>
<path fill="#fedd7e" d="M1402 1438h3v24h-3z"/>
<path fill="#fedb7c" d="M1159 1438h3v24h-3zM1358 1438h4v24h-4zM1463 1438h3v24h-3zM1635 1438h3v24h-3z"/>
<path fill="#feda79" d="M1355 1438h3v24h-3zM1486 1438h4v24h-4z"/>
<path fill="#fed875" d="M1102 1438h3v24h-3zM1267 1438h3v24h-3zM1368 1438h4v24h-4zM1459 1438h4v24h-4zM1598 1438h3v24h-3zM1638 1438h4v24h-4z"/>
<path fill="#fed774" d="M1490 1438h3v24h-3z"/>
<path fill="#fed673" d="M1233 1438h4v24h-4zM1328 1438h3v24h-3zM1561 1438h3v24h-3z"/>
<path fill="#fed571" d="M1250 1438h4v24h-4zM1301 1438h3v24h-3zM1405 1438h4v24h-4z"/>
<path fill="#fed370" d="M1193 1438h3v24h-3zM1220 1438h3v24h-3zM1270 1438h4v24h-4zM1385 1438h4v24h-4zM1395 1438h4v24h-4zM1500 1438h3v24h-3zM1507 1438h3v24h-3z"/>
<path fill="#fed26f" d="M1341 1438h4v24h-4z"/>
<path fill="#fed16d" d="M1095 1438h3v24h-3zM1284 1438h3v24h-3zM1554 1438h3v24h-3zM1591 1438h3v24h-3zM1655 1438h5v24h-5z"/>
<path fill="#fed06c" d="M1098 1438h4v24h-4zM1119 1438h3v24h-3zM1129 1438h3v24h-3zM1196 1438h4v24h-4z"/>
<path fill="#fece6b" d="M1264 1438h3v24h-3zM1497 1438h3v24h-3zM1510 1438h3v24h-3zM1537 1438h3v24h-3zM1594 1438h4v24h-4z"/>
<path fill="#fecd69" d="M1274 1438h3v24h-3zM1287 1438h4v24h-4zM1443 1438h3v24h-3zM1493 1438h4v24h-4z"/>
<path fill="#fecc68" d="M1132 1438h3v24h-3zM1203 1438h3v24h-3zM1426 1438h3v24h-3z"/>
<path fill="#fecb67" d="M1105 1438h3v24h-3zM1125 1438h4v24h-4zM1419 1438h3v24h-3zM1429 1438h3v24h-3zM1470 1438h3v24h-3z"/>
<path fill="#feca65" d="M1156 1438h3v24h-3zM1189 1438h4v24h-4z"/>
<path fill="#fec864" d="M1149 1438h3v24h-3zM1392 1438h3v24h-3zM1473 1438h3v24h-3zM1483 1438h3v24h-3z"/>
<path fill="#fec763" d="M1257 1438h3v24h-3zM1456 1438h3v24h-3zM1480 1438h3v24h-3z"/>
<path fill="#fec661" d="M1389 1438h3v24h-3zM1567 1438h4v24h-4z"/>
<path fill="#fec560" d="M1237 1438h3v24h-3z"/>
<path fill="#fec35f" d="M1466 1438h4v24h-4zM1618 1438h3v24h-3z"/>
<path fill="#fec25d" d="M1146 1438h3v24h-3zM1422 1438h4v24h-4zM1625 1438h3v24h-3z"/>
<path fill="#fec05b" d="M1314 1438h4v24h-4zM1564 1438h3v24h-3z"/>
<path fill="#febd58" d="M1206 1438h4v24h-4zM1260 1438h4v24h-4zM1513 1438h4v24h-4z"/>
<path fill="#febc57" d="M1122 1438h3v24h-3z"/>
<path fill="#febb56" d="M1152 1438h4v24h-4z"/>
<path fill="#feb853" d="M1351 1438h4v24h-4zM1571 1438h3v24h-3z"/>
<path fill="#feb752" d="M1621 1438h4v24h-4z"/>
<path fill="#fdb04b" d="M1291 1438h3v24h-3z"/>
<path fill="#fd9840" d="M1108 1414h4v24h-4zM1422 1414h4v24h-4z"/>
<path fill="#fd9640" d="M1125 1414h4v24h-4zM1277 1414h4v24h-4zM1338 1414h3v24h-3zM1412 1414h4v24h-4zM1463 1414h3v24h-3zM1524 1414h3v24h-3zM1574 1414h4v24h-4zM1608 1414h3v24h-3zM1635 1414h3v24h-3z"/>
<path fill="#fd953f" d="M1112 1414h3v24h-3zM1274 1414h3v24h-3zM1331 1414h4v24h-4zM1416 1414h6v24h-6zM1527 1414h7v24h-7zM1547 1414h7v24h-7zM1571 1414h3v24h-3zM1638 1414h4v24h-4zM1645 1414h3v24h-3z"/>
<path fill="#fd943f" d="M1098 1414h4v24h-4zM1135 1414h4v24h-4zM1233 1414h4v24h-4zM1270 1414h4v24h-4zM1281 1414h6v24h-6zM1297 1414h4v24h-4zM1321 1414h3v24h-3zM1335 1414h3v24h-3zM1341 1414h14v24h-14zM1378 1414h4v24h-4zM1385 1414h7v24h-7zM1405 1414h4v24h-4zM1429 1414h7v24h-7zM1439 1414h4v24h-4zM1446 1414h3v24h-3zM1453 1414h3v24h-3zM1476 1414h4v24h-4zM1534 1414h3v24h-3zM1544 1414h3v24h-3zM1601 1414h7v24h-7zM1611 1414h4v24h-4zM1632 1414h3v24h-3z"/>
<path fill="#fd933e" d="M1095 1414h3v24h-3zM1115 1414h7v24h-7zM1129 1414h3v24h-3zM1146 1414h10v24h-10zM1162 1414h7v24h-7zM1173 1414h10v24h-10zM1186 1414h3v24h-3zM1200 1414h10v24h-10zM1220 1414h7v24h-7zM1240 1414h3v24h-3zM1250 1414h14v24h-14zM1291 1414h3v24h-3zM1301 1414h3v24h-3zM1328 1414h3v24h-3zM1362 1414h3v24h-3zM1372 1414h3v24h-3zM1382 1414h3v24h-3zM1392 1414h3v24h-3zM1409 1414h3v24h-3zM1449 1414h4v24h-4zM1480 1414h6v24h-6zM1500 1414h7v24h-7zM1537 1414h3v24h-3zM1554 1414h3v24h-3zM1581 1414h3v24h-3zM1588 1414h3v24h-3zM1628 1414h4v24h-4zM1652 1414h3v24h-3z"/>
<path fill="#fd923e" d="M1159 1414h3v24h-3zM1169 1414h4v24h-4zM1189 1414h4v24h-4zM1210 1414h3v24h-3zM1237 1414h3v24h-3zM1243 1414h4v24h-4zM1264 1414h3v24h-3zM1304 1414h10v24h-10zM1318 1414h3v24h-3zM1355 1414h7v24h-7zM1368 1414h4v24h-4zM1375 1414h3v24h-3zM1395 1414h4v24h-4zM1426 1414h3v24h-3zM1436 1414h3v24h-3zM1456 1414h7v24h-7zM1466 1414h10v24h-10zM1497 1414h3v24h-3zM1507 1414h3v24h-3zM1517 1414h7v24h-7zM1584 1414h4v24h-4zM1591 1414h3v24h-3zM1598 1414h3v24h-3zM1615 1414h3v24h-3zM1621 1414h4v24h-4zM1642 1414h3v24h-3zM1655 1414h5v24h-5z"/>
<path fill="#fd913d" d="M1102 1414h3v24h-3zM1122 1414h3v24h-3zM1132 1414h3v24h-3zM1142 1414h4v24h-4zM1183 1414h3v24h-3zM1216 1414h4v24h-4zM1230 1414h3v24h-3zM1247 1414h3v24h-3zM1267 1414h3v24h-3zM1294 1414h3v24h-3zM1314 1414h4v24h-4zM1324 1414h4v24h-4zM1365 1414h3v24h-3zM1399 1414h6v24h-6zM1443 1414h3v24h-3zM1510 1414h7v24h-7zM1540 1414h4v24h-4zM1557 1414h4v24h-4zM1594 1414h4v24h-4zM1625 1414h3v24h-3z"/>
<path fill="#fd8f3d" d="M1105 1414h3v24h-3zM1139 1414h3v24h-3zM1156 1414h3v24h-3zM1193 1414h7v24h-7zM1227 1414h3v24h-3zM1287 1414h4v24h-4zM1486 1414h11v24h-11zM1567 1414h4v24h-4zM1578 1414h3v24h-3zM1618 1414h3v24h-3zM1648 1414h4v24h-4z"/>
<path fill="#fd8e3c" d="M1213 1414h3v24h-3zM1561 1414h3v24h-3z"/>
<path fill="#fd8d3c" d="M1564 1414h3v24h-3z"/>
<path fill="#fc8a3b" d="M1416 1389h3v25h-3z"/>
<path fill="#fc883a" d="M1335 1389h3v25h-3zM1530 1389h4v25h-4zM1608 1389h3v25h-3zM1652 1389h3v25h-3z"/>
<path fill="#fc863a" d="M1095 1389h7v25h-7zM1108 1389h4v25h-4zM1270 1389h4v25h-4zM1351 1389h4v25h-4zM1419 1389h7v25h-7zM1446 1389h3v25h-3zM1453 1389h3v25h-3zM1537 1389h3v25h-3zM1574 1389h4v25h-4zM1638 1389h4v25h-4z"/>
<path fill="#fc8439" d="M1112 1389h7v25h-7zM1152 1389h4v25h-4zM1210 1389h3v25h-3zM1216 1389h11v25h-11zM1274 1389h10v25h-10zM1318 1389h3v25h-3zM1331 1389h4v25h-4zM1372 1389h10v25h-10zM1385 1389h4v25h-4zM1412 1389h4v25h-4zM1429 1389h7v25h-7zM1463 1389h3v25h-3zM1476 1389h4v25h-4zM1517 1389h3v25h-3zM1534 1389h3v25h-3zM1544 1389h13v25h-13zM1578 1389h6v25h-6zM1632 1389h6v25h-6z"/>
<path fill="#fc8238" d="M1119 1389h3v25h-3zM1125 1389h4v25h-4zM1149 1389h3v25h-3zM1166 1389h3v25h-3zM1203 1389h3v25h-3zM1237 1389h6v25h-6zM1284 1389h3v25h-3zM1291 1389h3v25h-3zM1297 1389h4v25h-4zM1321 1389h3v25h-3zM1328 1389h3v25h-3zM1338 1389h3v25h-3zM1355 1389h3v25h-3zM1362 1389h3v25h-3zM1395 1389h4v25h-4zM1402 1389h7v25h-7zM1456 1389h7v25h-7zM1466 1389h7v25h-7zM1480 1389h3v25h-3zM1500 1389h7v25h-7zM1527 1389h3v25h-3zM1571 1389h3v25h-3zM1584 1389h4v25h-4zM1591 1389h3v25h-3zM1605 1389h3v25h-3zM1611 1389h4v25h-4zM1621 1389h4v25h-4zM1628 1389h4v25h-4z"/>
<path fill="#fc8038" d="M1122 1389h3v25h-3zM1159 1389h3v25h-3zM1173 1389h6v25h-6zM1183 1389h10v25h-10zM1206 1389h4v25h-4zM1227 1389h3v25h-3zM1294 1389h3v25h-3zM1301 1389h10v25h-10zM1345 1389h3v25h-3zM1358 1389h4v25h-4zM1389 1389h3v25h-3zM1399 1389h3v25h-3zM1409 1389h3v25h-3zM1449 1389h4v25h-4zM1473 1389h3v25h-3zM1483 1389h10v25h-10zM1497 1389h3v25h-3zM1507 1389h3v25h-3zM1540 1389h4v25h-4zM1598 1389h7v25h-7zM1645 1389h3v25h-3zM1419 1365h3v24h-3z"/>
<path fill="#fc7e37" d="M1135 1389h7v25h-7zM1146 1389h3v25h-3zM1162 1389h4v25h-4zM1179 1389h4v25h-4zM1193 1389h3v25h-3zM1200 1389h3v25h-3zM1213 1389h3v25h-3zM1230 1389h7v25h-7zM1243 1389h7v25h-7zM1254 1389h6v25h-6zM1264 1389h6v25h-6zM1324 1389h4v25h-4zM1348 1389h3v25h-3zM1365 1389h7v25h-7zM1426 1389h3v25h-3zM1439 1389h4v25h-4zM1513 1389h4v25h-4zM1588 1389h3v25h-3zM1615 1389h3v25h-3zM1625 1389h3v25h-3zM1642 1389h3v25h-3zM1648 1389h4v25h-4zM1655 1389h5v25h-5z"/>
<path fill="#fc7c37" d="M1105 1389h3v25h-3zM1129 1389h6v25h-6zM1142 1389h4v25h-4zM1156 1389h3v25h-3zM1196 1389h4v25h-4zM1250 1389h4v25h-4zM1260 1389h4v25h-4zM1287 1389h4v25h-4zM1311 1389h7v25h-7zM1341 1389h4v25h-4zM1382 1389h3v25h-3zM1392 1389h3v25h-3zM1436 1389h3v25h-3zM1443 1389h3v25h-3zM1524 1389h3v25h-3zM1557 1389h4v25h-4zM1567 1389h4v25h-4zM1618 1389h3v25h-3z"/>
<path fill="#fc7a36" d="M1102 1389h3v25h-3zM1169 1389h4v25h-4zM1493 1389h4v25h-4zM1510 1389h3v25h-3zM1594 1389h4v25h-4zM1412 1365h4v24h-4z"/>
<path fill="#fc7836" d="M1520 1389h4v25h-4z"/>
<path fill="#fc7635" d="M1561 1389h3v25h-3zM1554 1365h3v24h-3z"/>
<path fill="#fc7434" d="M1564 1389h3v25h-3z"/>
<path fill="#fc7234" d="M1203 1365h3v24h-3zM1466 1365h4v24h-4zM1608 1365h3v24h-3z"/>
<path fill="#fc7033" d="M1247 1365h3v24h-3zM1277 1365h4v24h-4zM1335 1365h3v24h-3zM1605 1365h3v24h-3zM1652 1365h3v24h-3z"/>
<path fill="#fc6e33" d="M1166 1365h3v24h-3zM1176 1365h3v24h-3zM1230 1365h3v24h-3zM1270 1365h4v24h-4zM1321 1365h3v24h-3zM1331 1365h4v24h-4zM1362 1365h3v24h-3zM1378 1365h4v24h-4zM1416 1365h3v24h-3zM1551 1365h3v24h-3zM1574 1365h4v24h-4zM1635 1365h3v24h-3z"/>
<path fill="#fc6c32" d="M1179 1365h4v24h-4zM1206 1365h4v24h-4zM1294 1365h3v24h-3zM1338 1365h3v24h-3zM1446 1365h3v24h-3zM1456 1365h3v24h-3zM1463 1365h3v24h-3zM1476 1365h4v24h-4zM1527 1365h3v24h-3zM1537 1365h3v24h-3zM1547 1365h4v24h-4zM1419 1341h3v24h-3z"/>
<path fill="#fc6a32" d="M1112 1365h3v24h-3zM1135 1365h4v24h-4zM1152 1365h4v24h-4zM1223 1365h4v24h-4zM1240 1365h3v24h-3zM1264 1365h3v24h-3zM1284 1365h3v24h-3zM1297 1365h7v24h-7zM1318 1365h3v24h-3zM1439 1365h4v24h-4zM1453 1365h3v24h-3zM1483 1365h7v24h-7zM1500 1365h3v24h-3zM1507 1365h3v24h-3zM1581 1365h3v24h-3zM1601 1365h4v24h-4zM1611 1365h4v24h-4z"/>
<path fill="#fc6831" d="M1095 1365h3v24h-3zM1119 1365h3v24h-3zM1173 1365h3v24h-3zM1183 1365h3v24h-3zM1220 1365h3v24h-3zM1237 1365h3v24h-3zM1254 1365h3v24h-3zM1267 1365h3v24h-3zM1281 1365h3v24h-3zM1291 1365h3v24h-3zM1351 1365h7v24h-7zM1365 1365h3v24h-3zM1422 1365h4v24h-4zM1432 1365h4v24h-4zM1449 1365h4v24h-4zM1473 1365h3v24h-3zM1480 1365h3v24h-3zM1524 1365h3v24h-3zM1578 1365h3v24h-3zM1584 1365h7v24h-7zM1615 1365h3v24h-3zM1625 1365h10v24h-10z"/>
<path fill="#fc6630" d="M1108 1365h4v24h-4zM1115 1365h4v24h-4zM1122 1365h3v24h-3zM1146 1365h6v24h-6zM1159 1365h3v24h-3zM1169 1365h4v24h-4zM1186 1365h3v24h-3zM1200 1365h3v24h-3zM1216 1365h4v24h-4zM1274 1365h3v24h-3zM1304 1365h4v24h-4zM1385 1365h7v24h-7zM1405 1365h7v24h-7zM1530 1365h4v24h-4zM1571 1365h3v24h-3zM1648 1365h4v24h-4z"/>
<path fill="#fc6430" d="M1102 1365h3v24h-3zM1132 1365h3v24h-3zM1139 1365h3v24h-3zM1162 1365h4v24h-4zM1193 1365h3v24h-3zM1210 1365h3v24h-3zM1227 1365h3v24h-3zM1233 1365h4v24h-4zM1257 1365h7v24h-7zM1287 1365h4v24h-4zM1308 1365h3v24h-3zM1328 1365h3v24h-3zM1341 1365h4v24h-4zM1358 1365h4v24h-4zM1368 1365h10v24h-10zM1382 1365h3v24h-3zM1402 1365h3v24h-3zM1443 1365h3v24h-3zM1534 1365h3v24h-3zM1544 1365h3v24h-3zM1557 1365h4v24h-4zM1594 1365h4v24h-4zM1638 1365h4v24h-4z"/>
<path fill="#fc622f" d="M1105 1365h3v24h-3zM1142 1365h4v24h-4zM1213 1365h3v24h-3zM1311 1365h3v24h-3zM1324 1365h4v24h-4zM1345 1365h3v24h-3zM1392 1365h3v24h-3zM1399 1365h3v24h-3zM1426 1365h3v24h-3zM1470 1365h3v24h-3zM1493 1365h4v24h-4zM1510 1365h3v24h-3zM1517 1365h3v24h-3zM1540 1365h4v24h-4zM1567 1365h4v24h-4zM1598 1365h3v24h-3zM1621 1365h4v24h-4zM1642 1365h3v24h-3zM1466 1341h4v24h-4z"/>
<path fill="#fc602f" d="M1098 1365h4v24h-4zM1125 1365h7v24h-7zM1196 1365h4v24h-4zM1314 1365h4v24h-4zM1436 1365h3v24h-3zM1513 1365h4v24h-4zM1561 1365h3v24h-3zM1618 1365h3v24h-3zM1463 1341h3v24h-3z"/>
<path fill="#fc5e2e" d="M1429 1365h3v24h-3zM1490 1365h3v24h-3zM1503 1365h4v24h-4zM1520 1365h4v24h-4zM1591 1365h3v24h-3zM1655 1365h5v24h-5z"/>
<path fill="#fc5c2e" d="M1156 1365h3v24h-3zM1250 1365h4v24h-4zM1564 1365h3v24h-3z"/>
<path fill="#fc5a2d" d="M1395 1365h4v24h-4zM1459 1365h4v24h-4zM1645 1365h3v24h-3zM1203 1341h3v24h-3zM1362 1341h3v24h-3zM1412 1341h4v24h-4zM1652 1341h3v24h-3z"/>
<path fill="#fc582d" d="M1243 1365h4v24h-4zM1497 1365h3v24h-3zM1247 1341h3v24h-3zM1456 1341h3v24h-3zM1476 1341h4v24h-4z"/>
<path fill="#fc562c" d="M1189 1365h4v24h-4zM1166 1341h3v24h-3zM1277 1341h4v24h-4zM1331 1341h4v24h-4zM1547 1341h10v24h-10z"/>
<path fill="#fc542b" d="M1348 1365h3v24h-3zM1108 1341h7v24h-7zM1230 1341h3v24h-3zM1270 1341h4v24h-4zM1294 1341h7v24h-7zM1321 1341h3v24h-3zM1378 1341h4v24h-4zM1416 1341h3v24h-3zM1422 1341h4v24h-4zM1537 1341h3v24h-3zM1588 1341h3v24h-3z"/>
<path fill="#fc522b" d="M1220 1341h7v24h-7zM1237 1341h3v24h-3zM1257 1341h7v24h-7zM1335 1341h3v24h-3zM1368 1341h4v24h-4zM1375 1341h3v24h-3zM1480 1341h3v24h-3zM1524 1341h3v24h-3zM1635 1341h3v24h-3z"/>
<path fill="#fc502a" d="M1122 1341h3v24h-3zM1146 1341h3v24h-3zM1152 1341h4v24h-4zM1162 1341h4v24h-4zM1176 1341h3v24h-3zM1200 1341h3v24h-3zM1206 1341h4v24h-4zM1240 1341h3v24h-3zM1274 1341h3v24h-3zM1284 1341h3v24h-3zM1301 1341h3v24h-3zM1328 1341h3v24h-3zM1338 1341h3v24h-3zM1372 1341h3v24h-3zM1439 1341h4v24h-4zM1449 1341h7v24h-7zM1574 1341h4v24h-4zM1581 1341h3v24h-3zM1608 1341h3v24h-3zM1632 1341h3v24h-3z"/>
<path fill="#fc4e2a" d="M1135 1341h4v24h-4zM1183 1341h3v24h-3zM1213 1341h7v24h-7zM1264 1341h3v24h-3zM1281 1341h3v24h-3zM1291 1341h3v24h-3zM1304 1341h4v24h-4zM1318 1341h3v24h-3zM1341 1341h4v24h-4zM1385 1341h4v24h-4zM1432 1341h4v24h-4zM1446 1341h3v24h-3zM1473 1341h3v24h-3zM1486 1341h4v24h-4zM1507 1341h3v24h-3zM1517 1341h3v24h-3zM1527 1341h3v24h-3zM1584 1341h4v24h-4zM1615 1341h3v24h-3zM1628 1341h4v24h-4z"/>
<path fill="#fb4c29" d="M1149 1341h3v24h-3zM1159 1341h3v24h-3zM1173 1341h3v24h-3zM1179 1341h4v24h-4zM1186 1341h3v24h-3zM1227 1341h3v24h-3zM1254 1341h3v24h-3zM1267 1341h3v24h-3zM1365 1341h3v24h-3zM1389 1341h6v24h-6zM1402 1341h7v24h-7zM1470 1341h3v24h-3zM1483 1341h3v24h-3zM1500 1341h3v24h-3zM1534 1341h3v24h-3zM1540 1341h7v24h-7zM1571 1341h3v24h-3zM1578 1341h3v24h-3zM1598 1341h3v24h-3zM1605 1341h3v24h-3zM1611 1341h4v24h-4zM1638 1341h4v24h-4z"/>
<path fill="#fa4b29" d="M1119 1341h3v24h-3zM1129 1341h6v24h-6zM1169 1341h4v24h-4zM1193 1341h3v24h-3zM1210 1341h3v24h-3zM1287 1341h4v24h-4zM1311 1341h3v24h-3zM1324 1341h4v24h-4zM1345 1341h3v24h-3zM1351 1341h7v24h-7zM1399 1341h3v24h-3zM1426 1341h3v24h-3zM1530 1341h4v24h-4zM1557 1341h4v24h-4zM1594 1341h4v24h-4zM1601 1341h4v24h-4zM1648 1341h4v24h-4z"/>
<path fill="#f94928" d="M1105 1341h3v24h-3zM1139 1341h7v24h-7zM1156 1341h3v24h-3zM1510 1341h7v24h-7zM1520 1341h4v24h-4zM1561 1341h3v24h-3zM1621 1341h7v24h-7zM1655 1341h5v24h-5z"/>
<path fill="#f94828" d="M1095 1341h10v24h-10zM1233 1341h4v24h-4zM1243 1341h4v24h-4zM1308 1341h3v24h-3zM1358 1341h4v24h-4zM1382 1341h3v24h-3zM1429 1341h3v24h-3zM1436 1341h3v24h-3zM1443 1341h3v24h-3zM1567 1341h4v24h-4zM1642 1341h3v24h-3z"/>
<path fill="#f84627" d="M1115 1341h4v24h-4zM1125 1341h4v24h-4zM1189 1341h4v24h-4zM1409 1341h3v24h-3zM1493 1341h4v24h-4zM1503 1341h4v24h-4zM1618 1341h3v24h-3zM1645 1341h3v24h-3z"/>
<path fill="#f74427" d="M1196 1341h4v24h-4zM1314 1341h4v24h-4zM1395 1341h4v24h-4zM1591 1341h3v24h-3z"/>
<path fill="#f64327" d="M1250 1341h4v24h-4zM1497 1341h3v24h-3z"/>
<path fill="#f64126" d="M1348 1341h3v24h-3z"/>
<path fill="#f53f26" d="M1459 1341h4v24h-4zM1564 1341h3v24h-3z"/>
<path fill="#f33c25" d="M1490 1341h3v24h-3zM1412 1317h4v24h-4zM1419 1317h3v24h-3z"/>
<path fill="#f23b24" d="M1203 1317h3v24h-3z"/>
<path fill="#f23924" d="M1652 1317h3v24h-3z"/>
<path fill="#f13724" d="M1547 1317h4v24h-4zM1608 1317h3v24h-3z"/>
<path fill="#f03623" d="M1112 1317h3v24h-3zM1362 1317h3v24h-3zM1554 1317h3v24h-3z"/>
<path fill="#ef3423" d="M1230 1317h3v24h-3zM1247 1317h3v24h-3zM1277 1317h4v24h-4zM1466 1317h4v24h-4zM1605 1317h3v24h-3z"/>
<path fill="#ee3222" d="M1108 1317h4v24h-4zM1463 1317h3v24h-3zM1544 1317h3v24h-3zM1551 1317h3v24h-3zM1601 1317h4v24h-4z"/>
<path fill="#ee3122" d="M1115 1317h7v24h-7zM1149 1317h7v24h-7zM1220 1317h7v24h-7zM1237 1317h3v24h-3zM1270 1317h4v24h-4zM1291 1317h3v24h-3zM1331 1317h4v24h-4zM1416 1317h3v24h-3zM1446 1317h3v24h-3zM1476 1317h4v24h-4zM1500 1317h3v24h-3zM1537 1317h3v24h-3zM1611 1317h4v24h-4zM1635 1317h3v24h-3z"/>
<path fill="#ed2f21" d="M1135 1317h4v24h-4zM1176 1317h3v24h-3zM1284 1317h3v24h-3zM1318 1317h3v24h-3zM1338 1317h3v24h-3zM1368 1317h7v24h-7zM1378 1317h4v24h-4zM1385 1317h4v24h-4zM1422 1317h7v24h-7zM1449 1317h7v24h-7zM1480 1317h6v24h-6zM1574 1317h4v24h-4zM1584 1317h4v24h-4z"/>
<path fill="#ec2d21" d="M1102 1317h3v24h-3zM1206 1317h4v24h-4zM1216 1317h4v24h-4zM1294 1317h10v24h-10zM1321 1317h3v24h-3zM1335 1317h3v24h-3zM1358 1317h4v24h-4zM1375 1317h3v24h-3zM1456 1317h3v24h-3zM1470 1317h6v24h-6zM1507 1317h3v24h-3zM1527 1317h3v24h-3zM1581 1317h3v24h-3zM1588 1317h3v24h-3zM1615 1317h3v24h-3zM1621 1317h4v24h-4zM1638 1317h4v24h-4z"/>
<path fill="#eb2c20" d="M1122 1317h3v24h-3zM1146 1317h3v24h-3zM1159 1317h10v24h-10zM1179 1317h7v24h-7zM1240 1317h3v24h-3zM1281 1317h3v24h-3zM1304 1317h7v24h-7zM1314 1317h4v24h-4zM1341 1317h4v24h-4zM1351 1317h7v24h-7zM1429 1317h7v24h-7zM1439 1317h4v24h-4zM1486 1317h4v24h-4zM1524 1317h3v24h-3zM1632 1317h3v24h-3zM1645 1317h3v24h-3z"/>
<path fill="#eb2a20" d="M1125 1317h7v24h-7zM1173 1317h3v24h-3zM1186 1317h3v24h-3zM1193 1317h3v24h-3zM1260 1317h7v24h-7zM1274 1317h3v24h-3zM1311 1317h3v24h-3zM1345 1317h3v24h-3zM1382 1317h3v24h-3zM1389 1317h3v24h-3zM1405 1317h4v24h-4zM1513 1317h4v24h-4zM1530 1317h7v24h-7zM1578 1317h3v24h-3zM1618 1317h3v24h-3zM1625 1317h3v24h-3zM1648 1317h4v24h-4zM1655 1317h5v24h-5z"/>
<path fill="#ea2920" d="M1095 1317h3v24h-3zM1142 1317h4v24h-4zM1200 1317h3v24h-3zM1227 1317h3v24h-3zM1233 1317h4v24h-4zM1257 1317h3v24h-3zM1267 1317h3v24h-3zM1365 1317h3v24h-3zM1402 1317h3v24h-3zM1443 1317h3v24h-3zM1510 1317h3v24h-3zM1594 1317h4v24h-4zM1642 1317h3v24h-3z"/>
<path fill="#e9271f" d="M1132 1317h3v24h-3zM1139 1317h3v24h-3zM1213 1317h3v24h-3zM1254 1317h3v24h-3zM1287 1317h4v24h-4zM1399 1317h3v24h-3zM1517 1317h3v24h-3zM1540 1317h4v24h-4zM1557 1317h4v24h-4zM1571 1317h3v24h-3zM1598 1317h3v24h-3zM1628 1317h4v24h-4z"/>
<path fill="#e8251f" d="M1105 1317h3v24h-3zM1156 1317h3v24h-3zM1169 1317h4v24h-4zM1250 1317h4v24h-4zM1324 1317h4v24h-4zM1392 1317h3v24h-3zM1409 1317h3v24h-3zM1436 1317h3v24h-3zM1503 1317h4v24h-4zM1520 1317h4v24h-4zM1567 1317h4v24h-4z"/>
<path fill="#e7241e" d="M1098 1317h4v24h-4zM1328 1317h3v24h-3zM1395 1317h4v24h-4zM1591 1317h3v24h-3zM1419 1293h3v24h-3z"/>
<path fill="#e7221e" d="M1196 1317h4v24h-4zM1210 1317h3v24h-3zM1490 1317h7v24h-7zM1561 1317h3v24h-3z"/>
<path fill="#e6201d" d="M1348 1317h3v24h-3zM1497 1317h3v24h-3zM1564 1317h3v24h-3z"/>
<path fill="#e51f1d" d="M1189 1317h4v24h-4zM1459 1317h4v24h-4zM1412 1293h4v24h-4zM1466 1293h4v24h-4z"/>
<path fill="#e41d1c" d="M1243 1317h4v24h-4z"/>
<path fill="#e31c1c" d="M1223 1293h4v24h-4zM1230 1293h3v24h-3z"/>
<path fill="#e31a1c" d="M1108 1293h4v24h-4zM1335 1293h3v24h-3zM1453 1293h3v24h-3zM1547 1293h4v24h-4zM1554 1293h3v24h-3zM1652 1293h3v24h-3z"/>
<path fill="#e2191c" d="M1203 1293h3v24h-3zM1247 1293h3v24h-3zM1277 1293h4v24h-4zM1500 1293h3v24h-3zM1574 1293h4v24h-4zM1605 1293h6v24h-6z"/>
<path fill="#e0181c" d="M1166 1293h3v24h-3zM1237 1293h3v24h-3zM1281 1293h6v24h-6zM1297 1293h4v24h-4zM1331 1293h4v24h-4zM1338 1293h3v24h-3zM1362 1293h3v24h-3zM1449 1293h4v24h-4zM1540 1293h4v24h-4zM1615 1293h3v24h-3z"/>
<path fill="#df171c" d="M1112 1293h3v24h-3zM1176 1293h3v24h-3zM1220 1293h3v24h-3zM1233 1293h4v24h-4zM1422 1293h4v24h-4zM1432 1293h4v24h-4zM1439 1293h4v24h-4zM1463 1293h3v24h-3zM1530 1293h4v24h-4zM1551 1293h3v24h-3zM1581 1293h7v24h-7z"/>
<path fill="#de161d" d="M1115 1293h4v24h-4zM1162 1293h4v24h-4zM1179 1293h4v24h-4zM1200 1293h3v24h-3zM1206 1293h4v24h-4zM1227 1293h3v24h-3zM1270 1293h4v24h-4zM1294 1293h3v24h-3zM1321 1293h3v24h-3zM1341 1293h4v24h-4zM1351 1293h4v24h-4zM1368 1293h4v24h-4zM1375 1293h7v24h-7zM1416 1293h3v24h-3zM1476 1293h4v24h-4zM1483 1293h3v24h-3zM1507 1293h3v24h-3zM1517 1293h3v24h-3zM1527 1293h3v24h-3zM1537 1293h3v24h-3zM1544 1293h3v24h-3zM1588 1293h3v24h-3zM1635 1293h3v24h-3z"/>
<path fill="#dd161d" d="M1095 1293h3v24h-3zM1122 1293h3v24h-3zM1135 1293h4v24h-4zM1152 1293h4v24h-4zM1173 1293h3v24h-3zM1274 1293h3v24h-3zM1291 1293h3v24h-3zM1301 1293h3v24h-3zM1389 1293h3v24h-3zM1426 1293h3v24h-3zM1456 1293h3v24h-3zM1480 1293h3v24h-3zM1486 1293h4v24h-4zM1524 1293h3v24h-3zM1611 1293h4v24h-4z"/>
<path fill="#dc151d" d="M1119 1293h3v24h-3zM1129 1293h3v24h-3zM1146 1293h6v24h-6zM1193 1293h3v24h-3zM1216 1293h4v24h-4zM1257 1293h3v24h-3zM1328 1293h3v24h-3zM1355 1293h7v24h-7zM1382 1293h7v24h-7zM1392 1293h3v24h-3zM1399 1293h3v24h-3zM1405 1293h4v24h-4zM1446 1293h3v24h-3zM1470 1293h3v24h-3zM1534 1293h3v24h-3zM1578 1293h3v24h-3zM1601 1293h4v24h-4zM1628 1293h7v24h-7zM1648 1293h4v24h-4z"/>
<path fill="#da141e" d="M1098 1293h7v24h-7zM1125 1293h4v24h-4zM1183 1293h6v24h-6zM1260 1293h4v24h-4zM1267 1293h3v24h-3zM1304 1293h4v24h-4zM1314 1293h4v24h-4zM1345 1293h3v24h-3zM1372 1293h3v24h-3zM1402 1293h3v24h-3zM1429 1293h3v24h-3zM1443 1293h3v24h-3zM1473 1293h3v24h-3zM1490 1293h3v24h-3zM1510 1293h3v24h-3zM1591 1293h3v24h-3zM1618 1293h3v24h-3z"/>
<path fill="#d9131e" d="M1132 1293h3v24h-3zM1139 1293h3v24h-3zM1213 1293h3v24h-3zM1240 1293h3v24h-3zM1254 1293h3v24h-3zM1264 1293h3v24h-3zM1318 1293h3v24h-3zM1365 1293h3v24h-3zM1409 1293h3v24h-3zM1513 1293h4v24h-4zM1557 1293h4v24h-4zM1594 1293h7v24h-7zM1621 1293h4v24h-4zM1638 1293h4v24h-4zM1655 1293h5v24h-5z"/>
<path fill="#d8121e" d="M1105 1293h3v24h-3zM1159 1293h3v24h-3zM1196 1293h4v24h-4zM1287 1293h4v24h-4zM1308 1293h3v24h-3zM1324 1293h4v24h-4zM1395 1293h4v24h-4zM1493 1293h4v24h-4zM1567 1293h7v24h-7zM1625 1293h3v24h-3zM1645 1293h3v24h-3z"/>
<path fill="#d7121f" d="M1142 1293h4v24h-4zM1169 1293h4v24h-4zM1311 1293h3v24h-3zM1520 1293h4v24h-4z"/>
<path fill="#d6111f" d="M1243 1293h4v24h-4zM1436 1293h3v24h-3zM1459 1293h4v24h-4zM1561 1293h3v24h-3z"/>
<path fill="#d4101f" d="M1189 1293h4v24h-4zM1210 1293h3v24h-3zM1250 1293h4v24h-4zM1412 1269h4v24h-4z"/>
<path fill="#d30f20" d="M1503 1293h4v24h-4zM1419 1269h3v24h-3z"/>
<path fill="#d20e20" d="M1156 1293h3v24h-3zM1348 1293h3v24h-3zM1642 1293h3v24h-3z"/>
<path fill="#d00d20" d="M1564 1293h3v24h-3z"/>
<path fill="#cf0c21" d="M1497 1293h3v24h-3zM1611 1269h4v24h-4z"/>
<path fill="#cd0b21" d="M1203 1269h3v24h-3zM1608 1269h3v24h-3z"/>
<path fill="#cc0a21" d="M1112 1269h3v24h-3zM1281 1269h3v24h-3zM1368 1269h4v24h-4zM1605 1269h3v24h-3z"/>
<path fill="#cb0922" d="M1206 1269h4v24h-4zM1220 1269h3v24h-3zM1230 1269h3v24h-3zM1247 1269h3v24h-3zM1463 1269h3v24h-3zM1537 1269h3v24h-3z"/>
<path fill="#ca0922" d="M1115 1269h4v24h-4zM1122 1269h3v24h-3zM1274 1269h7v24h-7zM1351 1269h4v24h-4zM1362 1269h3v24h-3zM1446 1269h3v24h-3zM1527 1269h3v24h-3zM1652 1269h3v24h-3z"/>
<path fill="#c90822" d="M1108 1269h4v24h-4zM1119 1269h3v24h-3zM1200 1269h3v24h-3zM1294 1269h7v24h-7zM1335 1269h3v24h-3zM1453 1269h3v24h-3zM1510 1269h3v24h-3zM1544 1269h7v24h-7zM1554 1269h3v24h-3z"/>
<path fill="#c70723" d="M1135 1269h4v24h-4zM1223 1269h4v24h-4zM1264 1269h3v24h-3zM1270 1269h4v24h-4zM1416 1269h3v24h-3zM1422 1269h4v24h-4zM1439 1269h4v24h-4zM1456 1269h3v24h-3zM1466 1269h4v24h-4zM1476 1269h4v24h-4zM1588 1269h3v24h-3zM1601 1269h4v24h-4zM1635 1269h3v24h-3z"/>
<path fill="#c60623" d="M1105 1269h3v24h-3zM1146 1269h3v24h-3zM1183 1269h3v24h-3zM1193 1269h3v24h-3zM1291 1269h3v24h-3zM1301 1269h3v24h-3zM1378 1269h4v24h-4zM1389 1269h3v24h-3zM1426 1269h3v24h-3zM1432 1269h4v24h-4zM1449 1269h4v24h-4zM1507 1269h3v24h-3zM1517 1269h3v24h-3zM1524 1269h3v24h-3zM1530 1269h4v24h-4zM1578 1269h6v24h-6zM1615 1269h3v24h-3zM1632 1269h3v24h-3z"/>
<path fill="#c50523" d="M1095 1269h3v24h-3zM1125 1269h4v24h-4zM1152 1269h4v24h-4zM1162 1269h7v24h-7zM1240 1269h3v24h-3zM1318 1269h3v24h-3zM1365 1269h3v24h-3zM1385 1269h4v24h-4zM1405 1269h7v24h-7zM1500 1269h3v24h-3zM1513 1269h4v24h-4zM1520 1269h4v24h-4zM1534 1269h3v24h-3zM1551 1269h3v24h-3zM1574 1269h4v24h-4zM1584 1269h4v24h-4zM1591 1269h3v24h-3zM1598 1269h3v24h-3z"/>
<path fill="#c40424" d="M1102 1269h3v24h-3zM1139 1269h3v24h-3zM1149 1269h3v24h-3zM1196 1269h4v24h-4zM1284 1269h7v24h-7zM1324 1269h4v24h-4zM1331 1269h4v24h-4zM1338 1269h3v24h-3zM1345 1269h3v24h-3zM1355 1269h7v24h-7zM1372 1269h6v24h-6zM1382 1269h3v24h-3zM1392 1269h3v24h-3zM1402 1269h3v24h-3zM1483 1269h3v24h-3zM1571 1269h3v24h-3zM1594 1269h4v24h-4zM1621 1269h7v24h-7zM1638 1269h4v24h-4z"/>
<path fill="#c30424" d="M1142 1269h4v24h-4zM1159 1269h3v24h-3zM1169 1269h4v24h-4zM1176 1269h7v24h-7zM1186 1269h3v24h-3zM1227 1269h3v24h-3zM1237 1269h3v24h-3zM1257 1269h7v24h-7zM1304 1269h4v24h-4zM1436 1269h3v24h-3zM1443 1269h3v24h-3zM1470 1269h3v24h-3zM1618 1269h3v24h-3zM1628 1269h4v24h-4zM1642 1269h3v24h-3z"/>
<path fill="#c10324" d="M1129 1269h6v24h-6zM1173 1269h3v24h-3zM1233 1269h4v24h-4zM1267 1269h3v24h-3zM1308 1269h6v24h-6zM1321 1269h3v24h-3zM1328 1269h3v24h-3zM1341 1269h4v24h-4zM1395 1269h7v24h-7zM1429 1269h3v24h-3zM1473 1269h3v24h-3zM1480 1269h3v24h-3zM1486 1269h4v24h-4zM1493 1269h4v24h-4zM1655 1269h5v24h-5zM1419 1245h3v24h-3z"/>
<path fill="#c00225" d="M1210 1269h10v24h-10zM1254 1269h3v24h-3zM1314 1269h4v24h-4zM1490 1269h3v24h-3zM1557 1269h4v24h-4z"/>
<path fill="#bf0125" d="M1189 1269h4v24h-4zM1540 1269h4v24h-4zM1567 1269h4v24h-4z"/>
<path fill="#be0025" d="M1156 1269h3v24h-3zM1250 1269h4v24h-4zM1561 1269h3v24h-3zM1645 1269h7v24h-7z"/>
<path fill="#bd0025" d="M1098 1269h4v24h-4zM1348 1269h3v24h-3zM1203 1245h3v24h-3zM1270 1245h4v24h-4zM1412 1245h4v24h-4z"/>
<path fill="#bb0026" d="M1459 1269h4v24h-4z"/>
<path fill="#b90026" d="M1503 1269h4v24h-4zM1564 1269h3v24h-3zM1119 1245h3v24h-3zM1439 1245h4v24h-4zM1449 1245h4v24h-4z"/>
<path fill="#b70026" d="M1497 1269h3v24h-3zM1108 1245h4v24h-4zM1277 1245h7v24h-7zM1362 1245h3v24h-3zM1368 1245h4v24h-4zM1524 1245h3v24h-3z"/>
<path fill="#b50026" d="M1243 1269h4v24h-4zM1206 1245h4v24h-4zM1466 1245h4v24h-4zM1527 1245h3v24h-3zM1598 1245h3v24h-3zM1632 1245h3v24h-3zM1652 1245h3v24h-3z"/>
<path fill="#b30026" d="M1112 1245h3v24h-3zM1200 1245h3v24h-3zM1223 1245h4v24h-4zM1335 1245h3v24h-3zM1345 1245h3v24h-3zM1365 1245h3v24h-3zM1463 1245h3v24h-3zM1480 1245h3v24h-3zM1534 1245h6v24h-6zM1554 1245h3v24h-3zM1584 1245h4v24h-4zM1608 1245h3v24h-3z"/>
<path fill="#b10026" d="M1115 1245h4v24h-4zM1122 1245h3v24h-3zM1135 1245h4v24h-4zM1166 1245h3v24h-3zM1179 1245h4v24h-4zM1230 1245h3v24h-3zM1237 1245h3v24h-3zM1247 1245h3v24h-3zM1274 1245h3v24h-3zM1284 1245h3v24h-3zM1301 1245h3v24h-3zM1318 1245h3v24h-3zM1338 1245h3v24h-3zM1355 1245h3v24h-3zM1416 1245h3v24h-3zM1422 1245h4v24h-4zM1453 1245h6v24h-6zM1513 1245h4v24h-4zM1547 1245h4v24h-4zM1578 1245h3v24h-3zM1588 1245h3v24h-3zM1601 1245h7v24h-7zM1611 1245h4v24h-4zM1635 1245h3v24h-3z"/>
<path fill="#af0026" d="M1102 1245h3v24h-3zM1125 1245h4v24h-4zM1149 1245h3v24h-3zM1183 1245h3v24h-3zM1291 1245h10v24h-10zM1304 1245h4v24h-4zM1331 1245h4v24h-4zM1341 1245h4v24h-4zM1351 1245h4v24h-4zM1378 1245h4v24h-4zM1429 1245h3v24h-3zM1500 1245h3v24h-3zM1544 1245h3v24h-3zM1574 1245h4v24h-4z"/>
<path fill="#ad0026" d="M1129 1245h3v24h-3zM1146 1245h3v24h-3zM1152 1245h4v24h-4zM1213 1245h3v24h-3zM1220 1245h3v24h-3zM1240 1245h3v24h-3zM1267 1245h3v24h-3zM1321 1245h3v24h-3zM1358 1245h4v24h-4zM1372 1245h6v24h-6zM1389 1245h3v24h-3zM1402 1245h7v24h-7zM1432 1245h4v24h-4zM1476 1245h4v24h-4zM1540 1245h4v24h-4zM1551 1245h3v24h-3zM1581 1245h3v24h-3zM1615 1245h3v24h-3zM1608 1220h3v25h-3z"/>
<path fill="#ac0026" d="M1173 1245h3v24h-3zM1227 1245h3v24h-3zM1264 1245h3v24h-3zM1308 1245h3v24h-3zM1328 1245h3v24h-3zM1382 1245h3v24h-3zM1426 1245h3v24h-3zM1443 1245h6v24h-6zM1473 1245h3v24h-3zM1507 1245h3v24h-3zM1517 1245h7v24h-7zM1628 1245h4v24h-4zM1200 1220h3v25h-3z"/>
<path fill="#aa0026" d="M1132 1245h3v24h-3zM1159 1245h3v24h-3zM1176 1245h3v24h-3zM1193 1245h3v24h-3zM1210 1245h3v24h-3zM1216 1245h4v24h-4zM1233 1245h4v24h-4zM1254 1245h3v24h-3zM1260 1245h4v24h-4zM1287 1245h4v24h-4zM1392 1245h3v24h-3zM1436 1245h3v24h-3zM1483 1245h7v24h-7zM1530 1245h4v24h-4zM1557 1245h4v24h-4zM1655 1245h5v24h-5zM1274 1220h3v25h-3zM1517 1220h3v25h-3zM1530 1220h4v25h-4zM1601 1220h4v25h-4z"/>
<path fill="#a80026" d="M1098 1245h4v24h-4zM1105 1245h3v24h-3zM1162 1245h4v24h-4zM1186 1245h3v24h-3zM1257 1245h3v24h-3zM1311 1245h3v24h-3zM1348 1245h3v24h-3zM1385 1245h4v24h-4zM1493 1245h4v24h-4zM1621 1245h7v24h-7zM1638 1245h4v24h-4zM1287 1220h4v25h-4zM1348 1220h3v25h-3z"/>
<path fill="#a60026" d="M1095 1245h3v24h-3zM1470 1245h3v24h-3zM1510 1245h3v24h-3zM1571 1245h3v24h-3zM1591 1245h3v24h-3zM1645 1245h7v24h-7zM1105 1220h3v25h-3zM1365 1220h3v25h-3zM1439 1220h4v25h-4zM1524 1220h3v25h-3z"/>
<path fill="#a40026" d="M1139 1245h7v24h-7zM1314 1245h4v24h-4zM1324 1245h4v24h-4zM1399 1245h3v24h-3zM1561 1245h3v24h-3zM1567 1245h4v24h-4zM1618 1245h3v24h-3zM1642 1245h3v24h-3zM1112 1220h3v25h-3zM1203 1220h3v25h-3zM1284 1220h3v25h-3zM1368 1220h4v25h-4zM1432 1220h4v25h-4zM1527 1220h3v25h-3z"/>
<path fill="#a20026" d="M1189 1245h4v24h-4zM1409 1245h3v24h-3zM1594 1245h4v24h-4zM1119 1220h6v25h-6zM1189 1220h4v25h-4zM1206 1220h4v25h-4zM1277 1220h4v25h-4zM1362 1220h3v25h-3zM1605 1220h3v25h-3z"/>
<path fill="#a00026" d="M1169 1245h4v24h-4zM1196 1245h4v24h-4zM1395 1245h4v24h-4zM1459 1245h4v24h-4zM1503 1245h4v24h-4zM1186 1220h3v25h-3zM1196 1220h4v25h-4zM1267 1220h3v25h-3zM1429 1220h3v25h-3zM1591 1220h10v25h-10zM1611 1220h4v25h-4z"/>
<path fill="#9e0026" d="M1490 1245h3v24h-3zM1497 1245h3v24h-3zM1108 1220h4v25h-4zM1193 1220h3v25h-3zM1443 1220h3v25h-3z"/>
<path fill="#9c0026" d="M1250 1245h4v24h-4zM1115 1220h4v25h-4zM1281 1220h3v25h-3zM1351 1220h4v25h-4zM1446 1220h3v25h-3zM1513 1220h4v25h-4z"/>
<path fill="#9a0026" d="M1243 1245h4v24h-4zM1125 1220h4v25h-4zM1355 1220h7v25h-7zM1436 1220h3v25h-3zM1449 1220h4v25h-4zM1510 1220h3v25h-3zM1544 1220h3v25h-3z"/>
<path fill="#980026" d="M1156 1245h3v24h-3zM1564 1245h3v24h-3zM1139 1220h3v25h-3zM1210 1220h3v25h-3zM1264 1220h3v25h-3zM1270 1220h4v25h-4zM1520 1220h4v25h-4zM1534 1220h3v25h-3zM1615 1220h3v25h-3z"/>
<path fill="#960026" d="M1291 1220h3v25h-3zM1301 1220h3v25h-3zM1453 1220h3v25h-3zM1588 1220h3v25h-3z"/>
<path fill="#950026" d="M1129 1220h6v25h-6zM1183 1220h3v25h-3zM1213 1220h3v25h-3zM1375 1220h3v25h-3zM1537 1220h3v25h-3zM1625 1220h3v25h-3z"/>
<path fill="#930026" d="M1294 1220h3v25h-3zM1345 1220h3v25h-3zM1372 1220h3v25h-3zM1382 1220h3v25h-3zM1426 1220h3v25h-3zM1459 1220h7v25h-7z"/>
<path fill="#910026" d="M1456 1220h3v25h-3zM1507 1220h3v25h-3zM1564 1220h3v25h-3zM1618 1220h3v25h-3z"/>
<path fill="#8f0026" d="M1102 1220h3v25h-3zM1156 1220h3v25h-3zM1179 1220h4v25h-4zM1220 1220h3v25h-3zM1385 1220h4v25h-4z"/>
<path fill="#8d0026" d="M1149 1220h3v25h-3zM1166 1220h3v25h-3zM1318 1220h3v25h-3zM1389 1220h3v25h-3zM1473 1220h3v25h-3zM1483 1220h3v25h-3zM1551 1220h3v25h-3zM1567 1220h4v25h-4zM1578 1220h3v25h-3zM1655 1220h5v25h-5z"/>
<path fill="#8b0026" d="M1152 1220h4v25h-4zM1176 1220h3v25h-3zM1216 1220h4v25h-4zM1223 1220h4v25h-4zM1247 1220h3v25h-3zM1314 1220h4v25h-4zM1335 1220h3v25h-3zM1399 1220h10v25h-10zM1416 1220h3v25h-3zM1493 1220h4v25h-4zM1581 1220h3v25h-3z"/>
<path fill="#890026" d="M1135 1220h4v25h-4zM1173 1220h3v25h-3zM1227 1220h3v25h-3zM1243 1220h4v25h-4zM1297 1220h4v25h-4zM1311 1220h3v25h-3zM1324 1220h4v25h-4zM1331 1220h4v25h-4zM1341 1220h4v25h-4zM1392 1220h7v25h-7zM1412 1220h4v25h-4zM1419 1220h3v25h-3zM1476 1220h7v25h-7zM1500 1220h7v25h-7zM1574 1220h4v25h-4zM1638 1220h4v25h-4z"/>
<path fill="#870026" d="M1098 1220h4v25h-4zM1142 1220h4v25h-4zM1159 1220h3v25h-3zM1230 1220h3v25h-3zM1237 1220h6v25h-6zM1250 1220h14v25h-14zM1304 1220h7v25h-7zM1321 1220h3v25h-3zM1328 1220h3v25h-3zM1338 1220h3v25h-3zM1409 1220h3v25h-3zM1422 1220h4v25h-4zM1466 1220h7v25h-7zM1486 1220h7v25h-7zM1497 1220h3v25h-3zM1540 1220h4v25h-4zM1547 1220h4v25h-4zM1554 1220h7v25h-7zM1571 1220h3v25h-3zM1584 1220h4v25h-4zM1621 1220h4v25h-4zM1628 1220h10v25h-10zM1642 1220h3v25h-3zM1648 1220h7v25h-7z"/>
<path fill="#850026" d="M1095 1220h3v25h-3zM1146 1220h3v25h-3zM1162 1220h4v25h-4zM1169 1220h4v25h-4zM1233 1220h4v25h-4zM1378 1220h4v25h-4zM1561 1220h3v25h-3zM1645 1220h3v25h-3z"/>
<path fill="#800026" d="M1095 1196h565v24h-565z"/>
</g>
<path class="g" d="M1095.5 1196.5V1461.5M1176.5 1196.5V1461.5M1257.5 1196.5V1461.5M1338.5 1196.5V1461.5M1419.5 1196.5V1461.5M1500.5 1196.5V1461.5M1581.5 1196.5V1461.5"/>
<path class="k" d="M1095.5 1461.38v5.3M1176.5 1461.38v5.3M1257.5 1461.38v5.3M1338.5 1461.38v5.3M1419.5 1461.38v5.3M1500.5 1461.38v5.3M1581.5 1461.38v5.3M1095.45 1461.5h-5.2M1095.45 1341.5h-5.2M1095.45 1268.5h-5.2"/>
<rect class="k" x="1095.5" y="1196.5" width="564" height="265"/>
<rect x="1694.5" y="1196.5" width="14" height="265" fill="url(#cm)"/>
<rect class="k" x="1694.5" y="1196.5" width="14" height="265"/>
<path class="k" d="M1707.59 1416.5h5.5M1707.59 1370.5h5.5M1707.59 1324.5h5.5M1707.59 1278.5h5.5M1707.59 1233.5h5.5"/>
<g class="c">
<path fill="#ffffcc" d="M577 1756h3v25h-3z"/>
<path fill="#fffdc9" d="M469 1756h3v25h-3z"/>
<path fill="#fffbc3" d="M472 1756h4v25h-4z"/>
<path fill="#fffbc2" d="M574 1756h3v25h-3z"/>
<path fill="#fff4b3" d="M290 1756h3v25h-3z"/>
<path fill="#fff4b1" d="M293 1756h4v25h-4z"/>
<path fill="#fff3af" d="M358 1756h3v25h-3z"/>
<path fill="#fff0a9" d="M459 1756h3v25h-3z"/>
<path fill="#fff0a8" d="M412 1756h3v25h-3z"/>
<path fill="#ffefa6" d="M590 1756h4v25h-4z"/>
<path fill="#ffefa5" d="M287 1756h3v25h-3z"/>
<path fill="#ffeea2" d="M283 1756h4v25h-4z"/>
<path fill="#feec9e" d="M455 1756h4v25h-4z"/>
<path fill="#fee896" d="M752 1756h4v25h-4z"/>
<path fill="#fee289" d="M749 1756h3v25h-3z"/>
<path fill="#fee188" d="M381 1756h4v25h-4zM560 1756h3v25h-3z"/>
<path fill="#fee186" d="M250 1756h3v25h-3zM405 1756h3v25h-3z"/>
<path fill="#fee085" d="M300 1756h4v25h-4zM506 1756h3v25h-3zM759 1756h4v25h-4z"/>
<path fill="#fedf84" d="M337 1756h4v25h-4z"/>
<path fill="#fedf82" d="M435 1756h4v25h-4zM550 1756h3v25h-3zM796 1756h4v25h-4z"/>
<path fill="#fede81" d="M324 1756h3v25h-3zM729 1756h3v25h-3z"/>
<path fill="#fedd80" d="M631 1756h3v25h-3zM766 1756h3v25h-3z"/>
<path fill="#fedd7e" d="M304 1756h3v25h-3zM334 1756h3v25h-3zM601 1756h3v25h-3zM705 1756h7v25h-7zM722 1756h7v25h-7zM776 1756h3v25h-3zM793 1756h3v25h-3z"/>
<path fill="#fedc7d" d="M273 1756h4v25h-4zM320 1756h4v25h-4zM482 1756h4v25h-4zM685 1756h3v25h-3zM756 1756h3v25h-3z"/>
<path fill="#fedb7c" d="M260 1756h3v25h-3zM354 1756h4v25h-4zM371 1756h3v25h-3zM597 1756h4v25h-4zM658 1756h3v25h-3z"/>
<path fill="#fedb7a" d="M253 1756h3v25h-3zM479 1756h3v25h-3zM486 1756h3v25h-3zM493 1756h3v25h-3zM651 1756h4v25h-4zM773 1756h3v25h-3zM800 1756h3v25h-3z"/>
<path fill="#feda79" d="M263 1756h3v25h-3zM344 1756h3v25h-3zM374 1756h4v25h-4zM445 1756h4v25h-4zM655 1756h3v25h-3z"/>
<path fill="#feda78" d="M307 1756h3v25h-3zM368 1756h3v25h-3zM462 1756h4v25h-4zM624 1756h7v25h-7zM763 1756h3v25h-3zM779 1756h4v25h-4zM786 1756h4v25h-4z"/>
<path fill="#fed976" d="M266 1756h4v25h-4zM327 1756h4v25h-4zM580 1756h4v25h-4zM604 1756h3v25h-3zM668 1756h3v25h-3zM732 1756h4v25h-4zM803 1756h3v25h-3zM810 1756h5v25h-5z"/>
<path fill="#fed875" d="M314 1756h3v25h-3zM364 1756h4v25h-4zM388 1756h3v25h-3zM398 1756h3v25h-3zM418 1756h4v25h-4zM557 1756h3v25h-3zM594 1756h3v25h-3zM641 1756h7v25h-7zM661 1756h4v25h-4zM678 1756h4v25h-4zM698 1756h4v25h-4z"/>
<path fill="#fed774" d="M297 1756h3v25h-3zM347 1756h4v25h-4zM385 1756h3v25h-3zM391 1756h7v25h-7zM466 1756h3v25h-3zM688 1756h4v25h-4zM746 1756h3v25h-3z"/>
<path fill="#fed673" d="M270 1756h3v25h-3zM310 1756h4v25h-4zM415 1756h3v25h-3zM449 1756h3v25h-3zM476 1756h3v25h-3zM509 1756h4v25h-4zM570 1756h4v25h-4zM692 1756h3v25h-3zM742 1756h4v25h-4z"/>
<path fill="#fed571" d="M442 1756h3v25h-3zM530 1756h3v25h-3zM584 1756h3v25h-3zM607 1756h7v25h-7zM702 1756h3v25h-3zM769 1756h4v25h-4zM806 1756h4v25h-4z"/>
<path fill="#fed370" d="M361 1756h3v25h-3zM408 1756h4v25h-4zM489 1756h4v25h-4zM503 1756h3v25h-3zM520 1756h3v25h-3zM675 1756h3v25h-3zM712 1756h3v25h-3z"/>
<path fill="#fed26f" d="M277 1756h6v25h-6zM401 1756h4v25h-4zM513 1756h3v25h-3zM543 1756h4v25h-4zM563 1756h4v25h-4zM614 1756h3v25h-3z"/>
<path fill="#fed16d" d="M496 1756h3v25h-3zM587 1756h3v25h-3zM648 1756h3v25h-3zM682 1756h3v25h-3zM783 1756h3v25h-3z"/>
<path fill="#fed06c" d="M317 1756h3v25h-3zM378 1756h3v25h-3zM422 1756h3v25h-3zM533 1756h3v25h-3zM617 1756h7v25h-7z"/>
<path fill="#fece6b" d="M256 1756h4v25h-4zM516 1756h4v25h-4zM540 1756h3v25h-3zM638 1756h3v25h-3zM736 1756h6v25h-6zM790 1756h3v25h-3z"/>
<path fill="#fecd69" d="M331 1756h3v25h-3zM452 1756h3v25h-3zM553 1756h4v25h-4zM665 1756h3v25h-3zM671 1756h4v25h-4z"/>
<path fill="#fecc68" d="M351 1756h3v25h-3zM499 1756h4v25h-4zM634 1756h4v25h-4z"/>
<path fill="#fecb67" d="M341 1756h3v25h-3zM439 1756h3v25h-3zM523 1756h3v25h-3zM567 1756h3v25h-3zM719 1756h3v25h-3z"/>
<path fill="#feca65" d="M432 1756h3v25h-3z"/>
<path fill="#fec864" d="M526 1756h4v25h-4zM715 1756h4v25h-4z"/>
<path fill="#fec763" d="M428 1756h4v25h-4z"/>
<path fill="#fec661" d="M536 1756h4v25h-4zM547 1756h3v25h-3z"/>
<path fill="#fec560" d="M425 1756h3v25h-3zM695 1756h3v25h-3z"/>
<path fill="#fda847" d="M270 1732h3v24h-3zM280 1732h3v24h-3zM300 1732h4v24h-4zM455 1732h4v24h-4zM503 1732h3v24h-3zM526 1732h4v24h-4zM725 1732h4v24h-4z"/>
<path fill="#fda747" d="M250 1732h3v24h-3zM256 1732h4v24h-4zM283 1732h4v24h-4zM310 1732h4v24h-4zM317 1732h3v24h-3zM324 1732h10v24h-10zM351 1732h7v24h-7zM364 1732h10v24h-10zM378 1732h3v24h-3zM391 1732h7v24h-7zM405 1732h7v24h-7zM422 1732h3v24h-3zM459 1732h7v24h-7zM472 1732h7v24h-7zM493 1732h3v24h-3zM509 1732h4v24h-4zM520 1732h3v24h-3zM547 1732h13v24h-13zM570 1732h14v24h-14zM624 1732h4v24h-4zM638 1732h3v24h-3zM661 1732h4v24h-4zM675 1732h7v24h-7zM709 1732h3v24h-3zM715 1732h10v24h-10zM729 1732h3v24h-3zM746 1732h3v24h-3zM756 1732h7v24h-7zM786 1732h4v24h-4zM793 1732h3v24h-3zM638 1708h3v24h-3zM661 1708h4v24h-4z"/>
<path fill="#fda546" d="M253 1732h3v24h-3zM260 1732h10v24h-10zM273 1732h7v24h-7zM287 1732h13v24h-13zM307 1732h3v24h-3zM314 1732h3v24h-3zM334 1732h3v24h-3zM341 1732h6v24h-6zM358 1732h6v24h-6zM374 1732h4v24h-4zM381 1732h7v24h-7zM398 1732h3v24h-3zM412 1732h10v24h-10zM428 1732h27v24h-27zM469 1732h3v24h-3zM479 1732h3v24h-3zM489 1732h4v24h-4zM499 1732h4v24h-4zM506 1732h3v24h-3zM513 1732h7v24h-7zM523 1732h3v24h-3zM540 1732h7v24h-7zM560 1732h10v24h-10zM584 1732h13v24h-13zM604 1732h3v24h-3zM614 1732h3v24h-3zM628 1732h10v24h-10zM641 1732h14v24h-14zM658 1732h3v24h-3zM665 1732h10v24h-10zM682 1732h20v24h-20zM705 1732h4v24h-4zM712 1732h3v24h-3zM732 1732h7v24h-7zM742 1732h4v24h-4zM749 1732h7v24h-7zM763 1732h3v24h-3zM769 1732h17v24h-17zM790 1732h3v24h-3zM800 1732h6v24h-6zM810 1732h5v24h-5zM641 1708h14v24h-14zM658 1708h3v24h-3zM665 1708h3v24h-3zM685 1708h3v24h-3zM695 1708h3v24h-3z"/>
<path fill="#fda446" d="M304 1732h3v24h-3zM320 1732h4v24h-4zM337 1732h4v24h-4zM388 1732h3v24h-3zM401 1732h4v24h-4zM425 1732h3v24h-3zM466 1732h3v24h-3zM486 1732h3v24h-3zM496 1732h3v24h-3zM530 1732h10v24h-10zM597 1732h7v24h-7zM607 1732h7v24h-7zM617 1732h7v24h-7zM655 1732h3v24h-3zM702 1732h3v24h-3zM766 1732h3v24h-3zM796 1732h4v24h-4zM806 1732h4v24h-4zM628 1708h10v24h-10zM655 1708h3v24h-3zM668 1708h3v24h-3zM675 1708h7v24h-7zM688 1708h7v24h-7zM712 1708h3v24h-3zM742 1708h4v24h-4zM783 1708h3v24h-3zM790 1708h3v24h-3z"/>
<path fill="#fda345" d="M347 1732h4v24h-4zM482 1732h4v24h-4zM739 1732h3v24h-3zM671 1708h4v24h-4zM682 1708h3v24h-3zM722 1708h3v24h-3zM736 1708h3v24h-3zM746 1708h3v24h-3zM776 1708h3v24h-3zM786 1708h4v24h-4z"/>
<path fill="#fda245" d="M715 1708h7v24h-7zM725 1708h4v24h-4zM752 1708h4v24h-4zM793 1708h7v24h-7zM803 1708h7v24h-7zM688 1684h4v24h-4z"/>
<path fill="#fda144" d="M341 1708h3v24h-3zM405 1708h3v24h-3zM462 1708h4v24h-4zM472 1708h4v24h-4zM732 1708h4v24h-4zM756 1708h10v24h-10zM773 1708h3v24h-3zM685 1684h3v24h-3zM692 1684h3v24h-3z"/>
<path fill="#fda044" d="M253 1708h3v24h-3zM266 1708h7v24h-7zM287 1708h3v24h-3zM317 1708h3v24h-3zM354 1708h4v24h-4zM378 1708h7v24h-7zM391 1708h4v24h-4zM408 1708h4v24h-4zM432 1708h3v24h-3zM445 1708h4v24h-4zM455 1708h7v24h-7zM469 1708h3v24h-3zM476 1708h3v24h-3zM493 1708h3v24h-3zM503 1708h3v24h-3zM509 1708h4v24h-4zM543 1708h7v24h-7zM560 1708h3v24h-3zM570 1708h10v24h-10zM624 1708h4v24h-4zM729 1708h3v24h-3zM766 1708h7v24h-7zM779 1708h4v24h-4zM800 1708h3v24h-3zM810 1708h5v24h-5zM682 1684h3v24h-3z"/>
<path fill="#fd9e43" d="M250 1708h3v24h-3zM263 1708h3v24h-3zM277 1708h3v24h-3zM283 1708h4v24h-4zM310 1708h7v24h-7zM324 1708h13v24h-13zM351 1708h3v24h-3zM395 1708h3v24h-3zM422 1708h3v24h-3zM428 1708h4v24h-4zM442 1708h3v24h-3zM449 1708h6v24h-6zM489 1708h4v24h-4zM506 1708h3v24h-3zM520 1708h3v24h-3zM550 1708h3v24h-3zM557 1708h3v24h-3zM563 1708h4v24h-4zM590 1708h7v24h-7zM607 1708h4v24h-4zM614 1708h3v24h-3zM709 1708h3v24h-3zM749 1708h3v24h-3z"/>
<path fill="#fd9d43" d="M290 1708h3v24h-3zM304 1708h6v24h-6zM344 1708h3v24h-3zM361 1708h3v24h-3zM368 1708h3v24h-3zM374 1708h4v24h-4zM415 1708h7v24h-7zM435 1708h4v24h-4zM466 1708h3v24h-3zM479 1708h3v24h-3zM499 1708h4v24h-4zM516 1708h4v24h-4zM523 1708h3v24h-3zM533 1708h3v24h-3zM540 1708h3v24h-3zM553 1708h4v24h-4zM580 1708h7v24h-7zM597 1708h10v24h-10zM611 1708h3v24h-3zM675 1684h3v24h-3z"/>
<path fill="#fd9c42" d="M260 1708h3v24h-3zM293 1708h7v24h-7zM320 1708h4v24h-4zM358 1708h3v24h-3zM371 1708h3v24h-3zM388 1708h3v24h-3zM401 1708h4v24h-4zM425 1708h3v24h-3zM482 1708h4v24h-4zM496 1708h3v24h-3zM513 1708h3v24h-3zM536 1708h4v24h-4zM621 1708h3v24h-3z"/>
<path fill="#fd9b42" d="M347 1708h4v24h-4zM617 1708h4v24h-4zM678 1684h4v24h-4z"/>
<path fill="#fd953f" d="M648 1684h3v24h-3z"/>
<path fill="#fd943f" d="M651 1684h4v24h-4z"/>
<path fill="#fd913d" d="M661 1684h4v24h-4zM756 1684h3v24h-3zM763 1684h3v24h-3zM769 1684h4v24h-4z"/>
<path fill="#fd8f3d" d="M695 1684h3v24h-3z"/>
<path fill="#fd8d3c" d="M668 1684h3v24h-3zM773 1684h3v24h-3z"/>
<path fill="#fc8c3b" d="M698 1708h4v24h-4zM705 1708h4v24h-4zM752 1684h4v24h-4z"/>
<path fill="#fc8a3b" d="M702 1708h3v24h-3z"/>
<path fill="#fc883a" d="M273 1708h4v24h-4zM759 1684h4v24h-4z"/>
<path fill="#fc8439" d="M439 1708h3v24h-3zM766 1684h3v24h-3z"/>
<path fill="#fc8238" d="M587 1708h3v24h-3zM634 1684h4v24h-4zM671 1684h4v24h-4z"/>
<path fill="#fc8038" d="M530 1708h3v24h-3z"/>
<path fill="#fc7e37" d="M665 1684h3v24h-3z"/>
<path fill="#fc7a36" d="M385 1708h3v24h-3z"/>
<path fill="#fc7635" d="M398 1708h3v24h-3z"/>
<path fill="#fc7434" d="M567 1708h3v24h-3z"/>
<path fill="#fc7234" d="M644 1684h4v24h-4z"/>
<path fill="#fc7033" d="M256 1708h4v24h-4zM776 1684h3v24h-3z"/>
<path fill="#fc6c32" d="M337 1708h4v24h-4zM651 1660h4v24h-4z"/>
<path fill="#fc6831" d="M364 1708h4v24h-4zM638 1684h3v24h-3zM675 1660h3v24h-3z"/>
<path fill="#fc6630" d="M412 1708h3v24h-3zM685 1660h3v24h-3z"/>
<path fill="#fc602f" d="M300 1708h4v24h-4zM779 1684h4v24h-4z"/>
<path fill="#fc5e2e" d="M736 1684h3v24h-3z"/>
<path fill="#fc5c2e" d="M628 1684h3v24h-3zM749 1684h3v24h-3z"/>
<path fill="#fc5a2d" d="M526 1708h4v24h-4zM739 1708h3v24h-3z"/>
<path fill="#fc582d" d="M631 1684h3v24h-3zM641 1684h3v24h-3z"/>
<path fill="#fc542b" d="M280 1708h3v24h-3zM462 1684h4v24h-4zM543 1684h4v24h-4zM725 1684h4v24h-4zM746 1684h3v24h-3z"/>
<path fill="#fc502a" d="M307 1684h3v24h-3zM503 1684h3v24h-3zM526 1684h4v24h-4z"/>
<path fill="#fc4e2a" d="M486 1708h3v24h-3zM658 1684h3v24h-3zM678 1660h4v24h-4z"/>
<path fill="#fa4b29" d="M327 1684h4v24h-4zM803 1684h3v24h-3z"/>
<path fill="#f94928" d="M364 1684h4v24h-4z"/>
<path fill="#f94828" d="M655 1684h3v24h-3zM790 1684h3v24h-3z"/>
<path fill="#f84627" d="M472 1684h4v24h-4zM783 1684h3v24h-3z"/>
<path fill="#f74427" d="M715 1684h4v24h-4z"/>
<path fill="#f64327" d="M270 1684h3v24h-3zM611 1684h3v24h-3zM698 1684h4v24h-4z"/>
<path fill="#f64126" d="M361 1684h3v24h-3zM793 1684h3v24h-3zM682 1660h3v24h-3z"/>
<path fill="#f53f26" d="M280 1684h3v24h-3zM557 1684h3v24h-3zM806 1684h4v24h-4z"/>
<path fill="#f43e25" d="M324 1684h3v24h-3zM445 1684h4v24h-4zM712 1684h3v24h-3zM786 1684h4v24h-4z"/>
<path fill="#f33c25" d="M331 1684h3v24h-3zM469 1684h3v24h-3zM574 1684h6v24h-6z"/>
<path fill="#f23b24" d="M368 1684h3v24h-3zM391 1684h4v24h-4zM405 1684h3v24h-3zM459 1684h3v24h-3zM547 1684h3v24h-3zM705 1684h4v24h-4zM796 1684h4v24h-4z"/>
<path fill="#f23924" d="M263 1684h3v24h-3zM560 1684h3v24h-3zM624 1684h4v24h-4z"/>
<path fill="#f13724" d="M300 1684h4v24h-4zM317 1684h3v24h-3zM358 1684h3v24h-3zM422 1684h3v24h-3zM428 1684h4v24h-4zM455 1684h4v24h-4zM513 1684h3v24h-3zM719 1684h3v24h-3z"/>
<path fill="#f03623" d="M408 1684h4v24h-4zM435 1684h7v24h-7zM509 1684h4v24h-4zM550 1684h3v24h-3zM688 1660h7v24h-7z"/>
<path fill="#ef3423" d="M304 1684h3v24h-3zM341 1684h3v24h-3zM378 1684h3v24h-3zM395 1684h3v24h-3zM466 1684h3v24h-3zM810 1684h5v24h-5z"/>
<path fill="#ee3222" d="M250 1684h3v24h-3zM493 1684h3v24h-3zM536 1684h4v24h-4zM604 1684h3v24h-3zM729 1684h3v24h-3zM800 1684h3v24h-3zM648 1660h3v24h-3z"/>
<path fill="#ee3122" d="M310 1684h4v24h-4zM354 1684h4v24h-4zM590 1684h4v24h-4zM763 1660h3v24h-3z"/>
<path fill="#ed2f21" d="M266 1684h4v24h-4zM277 1684h3v24h-3zM283 1684h4v24h-4zM523 1684h3v24h-3zM540 1684h3v24h-3zM732 1684h4v24h-4zM668 1660h3v24h-3z"/>
<path fill="#ec2d21" d="M371 1684h3v24h-3zM385 1684h3v24h-3zM398 1684h3v24h-3zM412 1684h3v24h-3zM520 1684h3v24h-3zM580 1684h4v24h-4zM709 1684h3v24h-3zM671 1660h4v24h-4zM766 1660h3v24h-3z"/>
<path fill="#eb2c20" d="M287 1684h3v24h-3zM344 1684h3v24h-3zM418 1684h4v24h-4zM449 1684h6v24h-6zM476 1684h3v24h-3zM533 1684h3v24h-3zM607 1684h4v24h-4zM614 1684h3v24h-3zM759 1660h4v24h-4z"/>
<path fill="#eb2a20" d="M256 1684h4v24h-4zM351 1684h3v24h-3zM597 1684h4v24h-4zM722 1684h3v24h-3zM695 1660h3v24h-3z"/>
<path fill="#ea2920" d="M260 1684h3v24h-3zM297 1684h3v24h-3zM479 1684h3v24h-3zM506 1684h3v24h-3zM563 1684h4v24h-4z"/>
<path fill="#e9271f" d="M290 1684h3v24h-3zM374 1684h4v24h-4zM381 1684h4v24h-4zM415 1684h3v24h-3zM499 1684h4v24h-4zM584 1684h3v24h-3zM661 1660h4v24h-4zM773 1660h3v24h-3z"/>
<path fill="#e8251f" d="M253 1684h3v24h-3zM553 1684h4v24h-4zM587 1684h3v24h-3zM742 1684h4v24h-4zM644 1660h4v24h-4zM752 1660h4v24h-4z"/>
<path fill="#e7241e" d="M337 1684h4v24h-4zM432 1684h3v24h-3zM516 1684h4v24h-4zM570 1684h4v24h-4zM601 1684h3v24h-3z"/>
<path fill="#e7221e" d="M314 1684h3v24h-3zM530 1684h3v24h-3zM594 1684h3v24h-3zM628 1660h3v24h-3zM769 1660h4v24h-4zM651 1636h4v24h-4z"/>
<path fill="#e6201d" d="M621 1684h3v24h-3zM634 1660h7v24h-7zM746 1660h3v24h-3zM776 1660h3v24h-3z"/>
<path fill="#e51f1d" d="M320 1684h4v24h-4zM388 1684h3v24h-3zM567 1684h3v24h-3zM665 1660h3v24h-3z"/>
<path fill="#e31c1c" d="M273 1684h4v24h-4zM347 1684h4v24h-4zM401 1684h4v24h-4zM617 1684h4v24h-4zM702 1684h3v24h-3zM631 1660h3v24h-3zM655 1660h3v24h-3z"/>
<path fill="#e31a1c" d="M442 1684h3v24h-3zM496 1684h3v24h-3zM641 1660h3v24h-3zM756 1660h3v24h-3z"/>
<path fill="#e0181c" d="M334 1684h3v24h-3zM749 1660h3v24h-3z"/>
<path fill="#df171c" d="M739 1684h3v24h-3z"/>
<path fill="#de161d" d="M293 1684h4v24h-4z"/>
<path fill="#dd161d" d="M489 1684h4v24h-4z"/>
<path fill="#dc151d" d="M736 1660h3v24h-3z"/>
<path fill="#da141e" d="M482 1684h4v24h-4z"/>
<path fill="#d9131e" d="M810 1660h5v24h-5zM648 1636h3v24h-3z"/>
<path fill="#d8121e" d="M803 1660h3v24h-3z"/>
<path fill="#d7121f" d="M675 1636h7v24h-7z"/>
<path fill="#d6111f" d="M486 1684h3v24h-3zM682 1636h3v24h-3z"/>
<path fill="#d4101f" d="M425 1684h3v24h-3zM364 1660h4v24h-4zM658 1660h3v24h-3z"/>
<path fill="#d30f20" d="M793 1660h3v24h-3z"/>
<path fill="#d20e20" d="M557 1660h3v24h-3z"/>
<path fill="#d10d20" d="M503 1660h3v24h-3z"/>
<path fill="#d00d20" d="M307 1660h3v24h-3zM796 1660h4v24h-4z"/>
<path fill="#cf0c21" d="M526 1660h4v24h-4zM800 1660h3v24h-3z"/>
<path fill="#cd0b21" d="M611 1660h3v24h-3z"/>
<path fill="#cc0a21" d="M270 1660h3v24h-3zM391 1660h4v24h-4zM732 1660h4v24h-4zM685 1636h3v24h-3z"/>
<path fill="#ca0922" d="M428 1660h4v24h-4z"/>
<path fill="#c90822" d="M280 1660h3v24h-3zM445 1660h4v24h-4zM455 1660h4v24h-4zM462 1660h4v24h-4zM543 1660h4v24h-4z"/>
<path fill="#c70723" d="M725 1660h4v24h-4z"/>
<path fill="#c60623" d="M304 1660h3v24h-3zM509 1660h4v24h-4zM574 1660h3v24h-3zM715 1660h4v24h-4zM729 1660h3v24h-3z"/>
<path fill="#c50523" d="M523 1660h3v24h-3z"/>
<path fill="#c40424" d="M435 1660h4v24h-4zM472 1660h4v24h-4zM567 1660h3v24h-3zM601 1660h3v24h-3z"/>
<path fill="#c30424" d="M395 1660h3v24h-3zM408 1660h4v24h-4zM584 1660h3v24h-3z"/>
<path fill="#c10324" d="M266 1660h4v24h-4zM354 1660h10v24h-10zM412 1660h3v24h-3zM469 1660h3v24h-3zM604 1660h3v24h-3z"/>
<path fill="#c00225" d="M327 1660h4v24h-4zM341 1660h3v24h-3zM368 1660h3v24h-3zM405 1660h3v24h-3zM449 1660h3v24h-3zM493 1660h3v24h-3z"/>
<path fill="#bf0125" d="M263 1660h3v24h-3zM297 1660h3v24h-3zM317 1660h3v24h-3zM324 1660h3v24h-3zM422 1660h3v24h-3zM459 1660h3v24h-3zM783 1660h3v24h-3z"/>
<path fill="#be0025" d="M331 1660h3v24h-3zM590 1660h4v24h-4zM722 1660h3v24h-3zM644 1636h4v24h-4z"/>
<path fill="#bd0025" d="M256 1660h4v24h-4zM287 1660h3v24h-3zM351 1660h3v24h-3zM466 1660h3v24h-3zM712 1660h3v24h-3zM786 1660h4v24h-4zM641 1636h3v24h-3zM759 1636h4v24h-4z"/>
<path fill="#bb0026" d="M253 1660h3v24h-3zM300 1660h4v24h-4zM310 1660h4v24h-4zM371 1660h3v24h-3zM381 1660h4v24h-4zM479 1660h3v24h-3zM533 1660h3v24h-3zM547 1660h3v24h-3zM553 1660h4v24h-4zM560 1660h3v24h-3zM790 1660h3v24h-3z"/>
<path fill="#b90026" d="M385 1660h3v24h-3zM439 1660h3v24h-3zM452 1660h3v24h-3zM506 1660h3v24h-3zM577 1660h3v24h-3zM621 1660h3v24h-3zM688 1636h4v24h-4zM756 1636h3v24h-3zM763 1636h3v24h-3z"/>
<path fill="#b70026" d="M513 1660h3v24h-3zM550 1660h3v24h-3zM607 1660h4v24h-4zM742 1660h4v24h-4zM806 1660h4v24h-4zM692 1636h3v24h-3z"/>
<path fill="#b50026" d="M277 1660h3v24h-3zM378 1660h3v24h-3zM432 1660h3v24h-3zM530 1660h3v24h-3zM563 1660h4v24h-4zM570 1660h4v24h-4zM580 1660h4v24h-4zM594 1660h3v24h-3zM624 1660h4v24h-4zM698 1660h4v24h-4zM779 1660h4v24h-4zM628 1636h3v24h-3zM668 1636h3v24h-3z"/>
<path fill="#b30026" d="M374 1660h4v24h-4zM476 1660h3v24h-3zM520 1660h3v24h-3zM597 1660h4v24h-4zM709 1660h3v24h-3zM719 1660h3v24h-3zM739 1660h3v24h-3zM661 1636h4v24h-4z"/>
<path fill="#b10026" d="M344 1660h3v24h-3zM415 1660h3v24h-3zM665 1636h3v24h-3z"/>
<path fill="#af0026" d="M418 1660h4v24h-4zM442 1660h3v24h-3zM499 1660h4v24h-4zM634 1636h4v24h-4zM773 1636h3v24h-3z"/>
<path fill="#ad0026" d="M250 1660h3v24h-3zM273 1660h4v24h-4zM293 1660h4v24h-4zM631 1636h3v24h-3z"/>
<path fill="#ac0026" d="M290 1660h3v24h-3zM388 1660h3v24h-3zM516 1660h4v24h-4zM617 1660h4v24h-4z"/>
<path fill="#aa0026" d="M283 1660h4v24h-4zM398 1660h3v24h-3zM486 1660h7v24h-7zM496 1660h3v24h-3zM638 1636h3v24h-3zM655 1636h3v24h-3z"/>
<path fill="#a80026" d="M320 1660h4v24h-4zM401 1660h4v24h-4zM536 1660h7v24h-7z"/>
<path fill="#a60026" d="M260 1660h3v24h-3zM482 1660h4v24h-4zM587 1660h3v24h-3zM671 1636h4v24h-4z"/>
<path fill="#a40026" d="M347 1660h4v24h-4zM614 1660h3v24h-3zM658 1636h3v24h-3z"/>
<path fill="#a20026" d="M425 1660h3v24h-3z"/>
<path fill="#a00026" d="M314 1660h3v24h-3zM695 1636h3v24h-3z"/>
<path fill="#9c0026" d="M526 1636h4v24h-4zM725 1636h4v24h-4z"/>
<path fill="#9a0026" d="M266 1636h4v24h-4zM283 1636h4v24h-4zM300 1636h4v24h-4zM331 1636h3v24h-3zM364 1636h4v24h-4zM391 1636h4v24h-4zM405 1636h3v24h-3zM422 1636h3v24h-3zM428 1636h4v24h-4zM455 1636h4v24h-4zM520 1636h3v24h-3zM577 1636h3v24h-3zM715 1636h10v24h-10zM779 1636h4v24h-4z"/>
<path fill="#980026" d="M250 1636h3v24h-3zM270 1636h3v24h-3zM297 1636h3v24h-3zM317 1636h3v24h-3zM324 1636h3v24h-3zM341 1636h3v24h-3zM351 1636h10v24h-10zM368 1636h3v24h-3zM378 1636h10v24h-10zM395 1636h6v24h-6zM408 1636h4v24h-4zM432 1636h3v24h-3zM439 1636h3v24h-3zM449 1636h6v24h-6zM459 1636h3v24h-3zM466 1636h10v24h-10zM493 1636h3v24h-3zM503 1636h3v24h-3zM509 1636h4v24h-4zM523 1636h3v24h-3zM550 1636h13v24h-13zM567 1636h10v24h-10zM604 1636h3v24h-3zM698 1636h4v24h-4zM729 1636h7v24h-7zM766 1636h7v24h-7zM776 1636h3v24h-3zM783 1636h13v24h-13z"/>
<path fill="#960026" d="M253 1636h7v24h-7zM263 1636h3v24h-3zM277 1636h6v24h-6zM287 1636h6v24h-6zM307 1636h10v24h-10zM327 1636h4v24h-4zM361 1636h3v24h-3zM371 1636h3v24h-3zM388 1636h3v24h-3zM415 1636h3v24h-3zM435 1636h4v24h-4zM442 1636h7v24h-7zM462 1636h4v24h-4zM476 1636h6v24h-6zM489 1636h4v24h-4zM506 1636h3v24h-3zM516 1636h4v24h-4zM533 1636h3v24h-3zM543 1636h7v24h-7zM580 1636h4v24h-4zM587 1636h7v24h-7zM607 1636h10v24h-10zM624 1636h4v24h-4zM712 1636h3v24h-3zM736 1636h3v24h-3zM746 1636h3v24h-3zM752 1636h4v24h-4zM800 1636h6v24h-6zM638 1612h10v24h-10z"/>
<path fill="#950026" d="M705 1660h4v24h-4zM260 1636h3v24h-3zM273 1636h4v24h-4zM304 1636h3v24h-3zM320 1636h4v24h-4zM344 1636h3v24h-3zM374 1636h4v24h-4zM401 1636h4v24h-4zM412 1636h3v24h-3zM418 1636h4v24h-4zM425 1636h3v24h-3zM482 1636h4v24h-4zM496 1636h7v24h-7zM513 1636h3v24h-3zM536 1636h7v24h-7zM563 1636h4v24h-4zM584 1636h3v24h-3zM594 1636h7v24h-7zM705 1636h7v24h-7zM739 1636h7v24h-7zM749 1636h3v24h-3zM796 1636h4v24h-4zM806 1636h9v24h-9zM391 1612h4v24h-4zM526 1612h4v24h-4zM628 1612h10v24h-10zM651 1612h4v24h-4zM668 1612h3v24h-3zM675 1612h3v24h-3zM685 1612h7v24h-7z"/>
<path fill="#930026" d="M334 1660h7v24h-7zM702 1660h3v24h-3zM293 1636h4v24h-4zM334 1636h7v24h-7zM347 1636h4v24h-4zM486 1636h3v24h-3zM530 1636h3v24h-3zM601 1636h3v24h-3zM621 1636h3v24h-3zM702 1636h3v24h-3zM250 1612h3v24h-3zM266 1612h7v24h-7zM280 1612h10v24h-10zM300 1612h4v24h-4zM314 1612h3v24h-3zM324 1612h10v24h-10zM341 1612h3v24h-3zM354 1612h4v24h-4zM364 1612h4v24h-4zM378 1612h3v24h-3zM395 1612h6v24h-6zM408 1612h4v24h-4zM428 1612h4v24h-4zM449 1612h13v24h-13zM472 1612h4v24h-4zM503 1612h3v24h-3zM509 1612h4v24h-4zM520 1612h6v24h-6zM557 1612h6v24h-6zM574 1612h6v24h-6zM624 1612h4v24h-4zM648 1612h3v24h-3zM655 1612h13v24h-13zM671 1612h4v24h-4zM678 1612h7v24h-7zM692 1612h10v24h-10zM705 1612h7v24h-7zM715 1612h14v24h-14zM752 1612h11v24h-11zM773 1612h23v24h-23z"/>
<path fill="#910026" d="M617 1636h4v24h-4zM253 1612h13v24h-13zM277 1612h3v24h-3zM290 1612h3v24h-3zM297 1612h3v24h-3zM304 1612h10v24h-10zM317 1612h3v24h-3zM334 1612h7v24h-7zM344 1612h3v24h-3zM351 1612h3v24h-3zM358 1612h6v24h-6zM368 1612h10v24h-10zM381 1612h10v24h-10zM405 1612h3v24h-3zM412 1612h16v24h-16zM432 1612h3v24h-3zM439 1612h10v24h-10zM462 1612h10v24h-10zM476 1612h6v24h-6zM493 1612h3v24h-3zM499 1612h4v24h-4zM506 1612h3v24h-3zM513 1612h3v24h-3zM530 1612h10v24h-10zM543 1612h14v24h-14zM563 1612h11v24h-11zM580 1612h7v24h-7zM590 1612h11v24h-11zM604 1612h13v24h-13zM702 1612h3v24h-3zM712 1612h3v24h-3zM729 1612h10v24h-10zM746 1612h6v24h-6zM763 1612h10v24h-10zM796 1612h10v24h-10zM810 1612h5v24h-5zM526 1587h4v25h-4zM722 1587h3v25h-3z"/>
<path fill="#8f0026" d="M273 1612h4v24h-4zM293 1612h4v24h-4zM320 1612h4v24h-4zM347 1612h4v24h-4zM401 1612h4v24h-4zM435 1612h4v24h-4zM482 1612h11v24h-11zM496 1612h3v24h-3zM516 1612h4v24h-4zM540 1612h3v24h-3zM587 1612h3v24h-3zM601 1612h3v24h-3zM617 1612h7v24h-7zM739 1612h7v24h-7zM806 1612h4v24h-4zM266 1587h4v25h-4zM280 1587h7v25h-7zM300 1587h4v25h-4zM317 1587h3v25h-3zM324 1587h10v25h-10zM341 1587h3v25h-3zM364 1587h7v25h-7zM378 1587h3v25h-3zM391 1587h7v25h-7zM408 1587h4v25h-4zM415 1587h3v25h-3zM422 1587h3v25h-3zM428 1587h4v25h-4zM445 1587h4v25h-4zM455 1587h7v25h-7zM472 1587h10v25h-10zM493 1587h3v25h-3zM503 1587h3v25h-3zM509 1587h7v25h-7zM520 1587h6v25h-6zM547 1587h6v25h-6zM557 1587h6v25h-6zM570 1587h7v25h-7zM604 1587h3v25h-3zM638 1587h3v25h-3zM644 1587h4v25h-4zM661 1587h4v25h-4zM675 1587h3v25h-3zM715 1587h7v25h-7zM725 1587h4v25h-4zM756 1587h7v25h-7zM769 1587h4v25h-4zM790 1587h6v25h-6z"/>
<path fill="#8d0026" d="M250 1587h16v25h-16zM270 1587h3v25h-3zM277 1587h3v25h-3zM287 1587h6v25h-6zM297 1587h3v25h-3zM307 1587h10v25h-10zM334 1587h7v25h-7zM347 1587h17v25h-17zM371 1587h7v25h-7zM381 1587h7v25h-7zM398 1587h10v25h-10zM412 1587h3v25h-3zM418 1587h4v25h-4zM432 1587h13v25h-13zM449 1587h6v25h-6zM462 1587h10v25h-10zM489 1587h4v25h-4zM499 1587h4v25h-4zM506 1587h3v25h-3zM516 1587h4v25h-4zM533 1587h14v25h-14zM553 1587h4v25h-4zM563 1587h7v25h-7zM577 1587h27v25h-27zM607 1587h14v25h-14zM624 1587h14v25h-14zM641 1587h3v25h-3zM648 1587h13v25h-13zM665 1587h10v25h-10zM678 1587h24v25h-24zM705 1587h10v25h-10zM729 1587h10v25h-10zM742 1587h7v25h-7zM752 1587h4v25h-4zM763 1587h6v25h-6zM773 1587h17v25h-17zM796 1587h4v25h-4zM803 1587h12v25h-12zM270 1563h3v24h-3zM300 1563h4v24h-4zM324 1563h10v24h-10zM364 1563h7v24h-7zM391 1563h4v24h-4zM405 1563h3v24h-3zM445 1563h4v24h-4zM455 1563h4v24h-4zM472 1563h4v24h-4zM503 1563h3v24h-3zM509 1563h4v24h-4zM526 1563h4v24h-4zM557 1563h3v24h-3zM574 1563h3v24h-3zM638 1563h3v24h-3zM675 1563h3v24h-3zM715 1563h4v24h-4zM722 1563h7v24h-7zM759 1563h4v24h-4zM786 1563h7v24h-7z"/>
<path fill="#8b0026" d="M273 1587h4v25h-4zM293 1587h4v25h-4zM304 1587h3v25h-3zM320 1587h4v25h-4zM344 1587h3v25h-3zM388 1587h3v25h-3zM425 1587h3v25h-3zM482 1587h7v25h-7zM496 1587h3v25h-3zM530 1587h3v25h-3zM621 1587h3v25h-3zM702 1587h3v25h-3zM749 1587h3v25h-3zM800 1587h3v25h-3zM250 1563h20v24h-20zM277 1563h13v24h-13zM297 1563h3v24h-3zM304 1563h3v24h-3zM310 1563h10v24h-10zM334 1563h13v24h-13zM351 1563h13v24h-13zM371 1563h17v24h-17zM395 1563h6v24h-6zM408 1563h17v24h-17zM428 1563h4v24h-4zM439 1563h6v24h-6zM449 1563h6v24h-6zM459 1563h13v24h-13zM476 1563h6v24h-6zM489 1563h7v24h-7zM506 1563h3v24h-3zM513 1563h13v24h-13zM530 1563h3v24h-3zM536 1563h4v24h-4zM543 1563h14v24h-14zM560 1563h14v24h-14zM577 1563h7v24h-7zM594 1563h7v24h-7zM604 1563h13v24h-13zM624 1563h4v24h-4zM631 1563h3v24h-3zM641 1563h10v24h-10zM655 1563h16v24h-16zM678 1563h7v24h-7zM688 1563h14v24h-14zM705 1563h10v24h-10zM719 1563h3v24h-3zM729 1563h7v24h-7zM752 1563h7v24h-7zM763 1563h23v24h-23zM793 1563h3v24h-3zM810 1563h5v24h-5z"/>
<path fill="#890026" d="M739 1587h3v25h-3zM273 1563h4v24h-4zM290 1563h7v24h-7zM307 1563h3v24h-3zM320 1563h4v24h-4zM347 1563h4v24h-4zM388 1563h3v24h-3zM401 1563h4v24h-4zM425 1563h3v24h-3zM432 1563h7v24h-7zM482 1563h7v24h-7zM496 1563h7v24h-7zM533 1563h3v24h-3zM540 1563h3v24h-3zM584 1563h3v24h-3zM590 1563h4v24h-4zM601 1563h3v24h-3zM617 1563h4v24h-4zM628 1563h3v24h-3zM634 1563h4v24h-4zM651 1563h4v24h-4zM671 1563h4v24h-4zM685 1563h3v24h-3zM702 1563h3v24h-3zM736 1563h16v24h-16zM796 1563h14v24h-14z"/>
<path fill="#870026" d="M587 1563h3v24h-3zM621 1563h3v24h-3z"/>
<path fill="#800026" d="M250 1539h565v24h-565zM250 1514h565v25h-565z"/>
</g>
<path class="g" d="M250.5 1514.5V1780.5M331.5 1514.5V1780.5M412.5 1514.5V1780.5M493.5 1514.5V1780.5M574.5 1514.5V1780.5M655.5 1514.5V1780.5M736.5 1514.5V1780.5"/>
<path class="k" d="M250.5 1780v5.3M331.5 1780v5.3M412.5 1780v5.3M493.5 1780v5.3M574.5 1780v5.3M655.5 1780v5.3M736.5 1780v5.3M250 1780.5h-5.2M250 1659.5h-5.2M250 1587.5h-5.2"/>
<rect class="k" x="250.5" y="1514.5" width="564" height="266"/>
<rect x="849.5" y="1514.5" width="13" height="266" fill="url(#cm)"/>
<rect class="k" x="849.5" y="1514.5" width="13" height="266"/>
<path class="k" d="M862.14 1777.5h5.5M862.14 1739.5h5.5M862.14 1702.5h5.5M862.14 1664.5h5.5M862.14 1627.5h5.5M862.14 1589.5h5.5M862.14 1552.5h5.5"/>
<g class="c">
<path fill="#ffffcc" d="M1324 1756h4v25h-4z"/>
<path fill="#fffbc2" d="M1635 1756h3v25h-3z"/>
<path fill="#fff8bb" d="M1638 1756h4v25h-4z"/>
<path fill="#fff7ba" d="M1328 1756h3v25h-3z"/>
<path fill="#fff7b8" d="M1308 1756h3v25h-3z"/>
<path fill="#fff6b7" d="M1132 1756h3v25h-3z"/>
<path fill="#fff4b1" d="M1385 1756h4v25h-4zM1395 1756h4v25h-4zM1605 1756h3v25h-3z"/>
<path fill="#fff3b0" d="M1227 1756h3v25h-3zM1422 1756h4v25h-4z"/>
<path fill="#fff3af" d="M1230 1756h3v25h-3z"/>
<path fill="#fff2ad" d="M1399 1756h3v25h-3z"/>
<path fill="#fff2ac" d="M1166 1756h3v25h-3zM1240 1756h3v25h-3zM1412 1756h4v25h-4z"/>
<path fill="#fff1aa" d="M1405 1756h4v25h-4zM1426 1756h3v25h-3z"/>
<path fill="#fff0a8" d="M1250 1756h4v25h-4z"/>
<path fill="#ffeea3" d="M1402 1756h3v25h-3z"/>
<path fill="#ffeda1" d="M1173 1756h3v25h-3z"/>
<path fill="#feec9f" d="M1500 1756h3v25h-3zM1655 1756h5v25h-5z"/>
<path fill="#feeb9d" d="M1247 1756h3v25h-3zM1362 1756h3v25h-3zM1416 1756h3v25h-3z"/>
<path fill="#feea9a" d="M1142 1756h4v25h-4zM1213 1756h3v25h-3zM1584 1756h4v25h-4z"/>
<path fill="#fee999" d="M1243 1756h4v25h-4zM1557 1756h4v25h-4z"/>
<path fill="#fee997" d="M1216 1756h4v25h-4zM1254 1756h3v25h-3zM1287 1756h4v25h-4zM1341 1756h4v25h-4z"/>
<path fill="#fee896" d="M1432 1756h4v25h-4z"/>
<path fill="#fee795" d="M1537 1756h3v25h-3z"/>
<path fill="#fee793" d="M1139 1756h3v25h-3z"/>
<path fill="#fee691" d="M1561 1756h3v25h-3z"/>
<path fill="#fee590" d="M1429 1756h3v25h-3z"/>
<path fill="#fee48e" d="M1193 1756h3v25h-3z"/>
<path fill="#fee38c" d="M1365 1756h3v25h-3zM1375 1756h3v25h-3zM1645 1756h3v25h-3z"/>
<path fill="#fee289" d="M1149 1756h3v25h-3zM1648 1756h4v25h-4z"/>
<path fill="#fee188" d="M1581 1756h3v25h-3z"/>
<path fill="#fee186" d="M1540 1756h4v25h-4z"/>
<path fill="#fee085" d="M1098 1756h4v25h-4z"/>
<path fill="#fedf84" d="M1551 1756h3v25h-3z"/>
<path fill="#fedf82" d="M1186 1756h3v25h-3zM1291 1756h3v25h-3z"/>
<path fill="#fedd80" d="M1095 1756h3v25h-3z"/>
<path fill="#fedd7e" d="M1176 1756h3v25h-3z"/>
<path fill="#fed976" d="M1378 1756h4v25h-4zM1493 1756h4v25h-4z"/>
<path fill="#fed875" d="M1486 1756h4v25h-4z"/>
<path fill="#fed774" d="M1264 1756h3v25h-3zM1594 1756h4v25h-4z"/>
<path fill="#fed673" d="M1108 1756h4v25h-4zM1297 1756h4v25h-4zM1335 1756h3v25h-3zM1382 1756h3v25h-3z"/>
<path fill="#fed571" d="M1409 1756h3v25h-3z"/>
<path fill="#fed370" d="M1517 1756h3v25h-3zM1598 1756h3v25h-3z"/>
<path fill="#fed26f" d="M1459 1756h4v25h-4zM1530 1756h4v25h-4z"/>
<path fill="#fed16d" d="M1135 1756h4v25h-4zM1270 1756h4v25h-4zM1321 1756h3v25h-3zM1449 1756h4v25h-4zM1527 1756h3v25h-3z"/>
<path fill="#fed06c" d="M1220 1756h3v25h-3zM1456 1756h3v25h-3zM1578 1756h3v25h-3z"/>
<path fill="#fece6b" d="M1439 1756h4v25h-4zM1503 1756h4v25h-4zM1534 1756h3v25h-3z"/>
<path fill="#fecd69" d="M1277 1756h4v25h-4zM1355 1756h3v25h-3zM1368 1756h7v25h-7zM1547 1756h4v25h-4z"/>
<path fill="#fecc68" d="M1196 1756h4v25h-4zM1223 1756h4v25h-4zM1490 1756h3v25h-3zM1591 1756h3v25h-3zM1628 1756h7v25h-7z"/>
<path fill="#fecb67" d="M1237 1756h3v25h-3zM1497 1756h3v25h-3zM1571 1756h3v25h-3z"/>
<path fill="#feca65" d="M1122 1756h3v25h-3zM1203 1756h3v25h-3zM1348 1756h3v25h-3zM1476 1756h4v25h-4zM1483 1756h3v25h-3zM1554 1756h3v25h-3z"/>
<path fill="#fec864" d="M1105 1756h3v25h-3zM1129 1756h3v25h-3zM1152 1756h4v25h-4zM1159 1756h3v25h-3zM1210 1756h3v25h-3zM1392 1756h3v25h-3zM1463 1756h3v25h-3zM1480 1756h3v25h-3zM1567 1756h4v25h-4z"/>
<path fill="#fec763" d="M1351 1756h4v25h-4zM1446 1756h3v25h-3zM1621 1756h4v25h-4zM1652 1756h3v25h-3z"/>
<path fill="#fec661" d="M1233 1756h4v25h-4zM1304 1756h4v25h-4zM1520 1756h4v25h-4zM1574 1756h4v25h-4zM1618 1756h3v25h-3z"/>
<path fill="#fec560" d="M1112 1756h3v25h-3zM1125 1756h4v25h-4zM1311 1756h3v25h-3zM1345 1756h3v25h-3zM1466 1756h4v25h-4zM1588 1756h3v25h-3z"/>
<path fill="#fec35f" d="M1183 1756h3v25h-3zM1318 1756h3v25h-3zM1507 1756h3v25h-3z"/>
<path fill="#fec25d" d="M1179 1756h4v25h-4zM1281 1756h3v25h-3zM1510 1756h3v25h-3zM1544 1756h3v25h-3z"/>
<path fill="#fec15c" d="M1102 1756h3v25h-3zM1115 1756h4v25h-4zM1169 1756h4v25h-4zM1331 1756h4v25h-4zM1358 1756h4v25h-4zM1419 1756h3v25h-3z"/>
<path fill="#fec05b" d="M1200 1756h3v25h-3zM1260 1756h4v25h-4zM1294 1756h3v25h-3z"/>
<path fill="#febf5a" d="M1338 1756h3v25h-3zM1608 1756h3v25h-3z"/>
<path fill="#febd58" d="M1314 1756h4v25h-4zM1436 1756h3v25h-3zM1443 1756h3v25h-3zM1615 1756h3v25h-3z"/>
<path fill="#febc57" d="M1156 1756h3v25h-3zM1162 1756h4v25h-4zM1267 1756h3v25h-3zM1274 1756h3v25h-3zM1453 1756h3v25h-3zM1470 1756h3v25h-3zM1524 1756h3v25h-3zM1642 1756h3v25h-3z"/>
<path fill="#febb56" d="M1284 1756h3v25h-3zM1473 1756h3v25h-3zM1513 1756h4v25h-4z"/>
<path fill="#feba54" d="M1257 1756h3v25h-3zM1389 1756h3v25h-3zM1601 1756h4v25h-4zM1611 1756h4v25h-4z"/>
<path fill="#feb853" d="M1206 1756h4v25h-4zM1564 1756h3v25h-3z"/>
<path fill="#feb752" d="M1146 1756h3v25h-3zM1301 1756h3v25h-3z"/>
<path fill="#feb54f" d="M1189 1756h4v25h-4z"/>
<path fill="#feb24c" d="M1119 1756h3v25h-3z"/>
<path fill="#fdae4a" d="M1625 1756h3v25h-3z"/>
<path fill="#fd943f" d="M1146 1732h3v24h-3zM1179 1732h4v24h-4zM1210 1732h3v24h-3zM1368 1732h4v24h-4zM1385 1732h4v24h-4zM1392 1732h3v24h-3zM1443 1732h3v24h-3zM1463 1732h3v24h-3zM1574 1732h4v24h-4zM1608 1732h3v24h-3zM1615 1732h3v24h-3z"/>
<path fill="#fd933e" d="M1095 1732h13v24h-13zM1122 1732h3v24h-3zM1139 1732h3v24h-3zM1149 1732h10v24h-10zM1166 1732h13v24h-13zM1183 1732h6v24h-6zM1196 1732h4v24h-4zM1203 1732h7v24h-7zM1220 1732h3v24h-3zM1227 1732h3v24h-3zM1240 1732h7v24h-7zM1264 1732h10v24h-10zM1287 1732h10v24h-10zM1321 1732h3v24h-3zM1328 1732h20v24h-20zM1355 1732h13v24h-13zM1372 1732h3v24h-3zM1389 1732h3v24h-3zM1395 1732h4v24h-4zM1412 1732h4v24h-4zM1419 1732h10v24h-10zM1432 1732h11v24h-11zM1446 1732h10v24h-10zM1466 1732h10v24h-10zM1480 1732h3v24h-3zM1486 1732h4v24h-4zM1493 1732h4v24h-4zM1500 1732h3v24h-3zM1517 1732h7v24h-7zM1527 1732h20v24h-20zM1557 1732h4v24h-4zM1567 1732h4v24h-4zM1601 1732h7v24h-7zM1618 1732h3v24h-3zM1625 1732h3v24h-3zM1632 1732h6v24h-6zM1645 1732h3v24h-3zM1652 1732h8v24h-8z"/>
<path fill="#fd923e" d="M1108 1732h14v24h-14zM1125 1732h14v24h-14zM1142 1732h4v24h-4zM1159 1732h3v24h-3zM1189 1732h7v24h-7zM1200 1732h3v24h-3zM1213 1732h7v24h-7zM1223 1732h4v24h-4zM1230 1732h10v24h-10zM1247 1732h3v24h-3zM1254 1732h3v24h-3zM1260 1732h4v24h-4zM1277 1732h10v24h-10zM1297 1732h24v24h-24zM1324 1732h4v24h-4zM1348 1732h7v24h-7zM1375 1732h10v24h-10zM1399 1732h10v24h-10zM1416 1732h3v24h-3zM1429 1732h3v24h-3zM1456 1732h7v24h-7zM1476 1732h4v24h-4zM1483 1732h3v24h-3zM1490 1732h3v24h-3zM1497 1732h3v24h-3zM1510 1732h7v24h-7zM1547 1732h10v24h-10zM1561 1732h6v24h-6zM1571 1732h3v24h-3zM1584 1732h4v24h-4zM1591 1732h10v24h-10zM1611 1732h4v24h-4zM1621 1732h4v24h-4zM1628 1732h4v24h-4zM1638 1732h7v24h-7zM1648 1732h4v24h-4z"/>
<path fill="#fd913d" d="M1162 1732h4v24h-4zM1250 1732h4v24h-4zM1257 1732h3v24h-3zM1274 1732h3v24h-3zM1409 1732h3v24h-3zM1503 1732h7v24h-7zM1524 1732h3v24h-3zM1578 1732h6v24h-6zM1588 1732h3v24h-3zM1210 1708h3v24h-3z"/>
<path fill="#fd8f3d" d="M1193 1708h3v24h-3zM1331 1708h4v24h-4zM1338 1708h3v24h-3zM1368 1708h7v24h-7zM1392 1708h3v24h-3zM1436 1708h7v24h-7zM1453 1708h3v24h-3zM1493 1708h7v24h-7zM1527 1708h3v24h-3zM1574 1708h4v24h-4zM1601 1708h4v24h-4zM1615 1708h3v24h-3zM1645 1708h3v24h-3z"/>
<path fill="#fd8e3c" d="M1095 1708h24v24h-24zM1122 1708h3v24h-3zM1129 1708h3v24h-3zM1135 1708h7v24h-7zM1146 1708h10v24h-10zM1166 1708h7v24h-7zM1176 1708h17v24h-17zM1200 1708h3v24h-3zM1206 1708h4v24h-4zM1223 1708h17v24h-17zM1243 1708h7v24h-7zM1254 1708h3v24h-3zM1267 1708h3v24h-3zM1277 1708h20v24h-20zM1301 1708h23v24h-23zM1335 1708h3v24h-3zM1345 1708h23v24h-23zM1378 1708h4v24h-4zM1385 1708h7v24h-7zM1395 1708h7v24h-7zM1409 1708h3v24h-3zM1419 1708h17v24h-17zM1443 1708h3v24h-3zM1456 1708h3v24h-3zM1463 1708h7v24h-7zM1473 1708h3v24h-3zM1480 1708h3v24h-3zM1490 1708h3v24h-3zM1517 1708h7v24h-7zM1530 1708h4v24h-4zM1537 1708h10v24h-10zM1551 1708h3v24h-3zM1557 1708h7v24h-7zM1567 1708h4v24h-4zM1584 1708h4v24h-4zM1594 1708h4v24h-4zM1605 1708h10v24h-10zM1618 1708h3v24h-3zM1625 1708h3v24h-3zM1632 1708h13v24h-13zM1648 1708h12v24h-12z"/>
<path fill="#fd8d3c" d="M1119 1708h3v24h-3zM1125 1708h4v24h-4zM1132 1708h3v24h-3zM1142 1708h4v24h-4zM1156 1708h6v24h-6zM1173 1708h3v24h-3zM1196 1708h4v24h-4zM1203 1708h3v24h-3zM1213 1708h7v24h-7zM1240 1708h3v24h-3zM1250 1708h4v24h-4zM1257 1708h10v24h-10zM1270 1708h7v24h-7zM1297 1708h4v24h-4zM1324 1708h7v24h-7zM1341 1708h4v24h-4zM1375 1708h3v24h-3zM1382 1708h3v24h-3zM1412 1708h7v24h-7zM1446 1708h7v24h-7zM1459 1708h4v24h-4zM1470 1708h3v24h-3zM1476 1708h4v24h-4zM1483 1708h7v24h-7zM1500 1708h3v24h-3zM1510 1708h7v24h-7zM1524 1708h3v24h-3zM1534 1708h3v24h-3zM1547 1708h4v24h-4zM1564 1708h3v24h-3zM1578 1708h6v24h-6zM1591 1708h3v24h-3zM1598 1708h3v24h-3zM1621 1708h4v24h-4zM1628 1708h4v24h-4zM1439 1684h4v24h-4zM1439 1660h4v24h-4z"/>
<path fill="#fc8c3b" d="M1162 1708h4v24h-4zM1220 1708h3v24h-3zM1402 1708h7v24h-7zM1503 1708h7v24h-7zM1554 1708h3v24h-3zM1571 1708h3v24h-3zM1588 1708h3v24h-3zM1169 1684h4v24h-4zM1179 1684h7v24h-7zM1193 1684h3v24h-3zM1210 1684h3v24h-3zM1287 1684h4v24h-4zM1368 1684h4v24h-4zM1389 1684h3v24h-3zM1480 1684h3v24h-3zM1527 1684h3v24h-3zM1601 1684h4v24h-4zM1618 1684h3v24h-3zM1210 1660h3v24h-3z"/>
<path fill="#fc8a3b" d="M1095 1684h3v24h-3zM1122 1684h3v24h-3zM1139 1684h3v24h-3zM1149 1684h3v24h-3zM1166 1684h3v24h-3zM1237 1684h3v24h-3zM1304 1684h4v24h-4zM1362 1684h3v24h-3zM1372 1684h3v24h-3zM1385 1684h4v24h-4zM1392 1684h3v24h-3zM1399 1684h3v24h-3zM1412 1684h4v24h-4zM1426 1684h3v24h-3zM1436 1684h3v24h-3zM1459 1684h4v24h-4zM1466 1684h4v24h-4zM1517 1684h3v24h-3zM1537 1684h3v24h-3zM1544 1684h3v24h-3zM1557 1684h4v24h-4zM1567 1684h4v24h-4zM1605 1684h3v24h-3zM1615 1684h3v24h-3zM1638 1684h4v24h-4zM1645 1684h3v24h-3zM1655 1684h5v24h-5zM1362 1660h3v24h-3zM1372 1660h3v24h-3z"/>
<path fill="#fc883a" d="M1098 1684h14v24h-14zM1119 1684h3v24h-3zM1125 1684h7v24h-7zM1146 1684h3v24h-3zM1152 1684h4v24h-4zM1173 1684h6v24h-6zM1186 1684h7v24h-7zM1200 1684h3v24h-3zM1206 1684h4v24h-4zM1213 1684h3v24h-3zM1223 1684h14v24h-14zM1240 1684h10v24h-10zM1260 1684h4v24h-4zM1267 1684h3v24h-3zM1277 1684h10v24h-10zM1291 1684h3v24h-3zM1311 1684h3v24h-3zM1321 1684h7v24h-7zM1331 1684h10v24h-10zM1345 1684h6v24h-6zM1355 1684h7v24h-7zM1365 1684h3v24h-3zM1375 1684h3v24h-3zM1382 1684h3v24h-3zM1395 1684h4v24h-4zM1419 1684h7v24h-7zM1432 1684h4v24h-4zM1443 1684h6v24h-6zM1453 1684h6v24h-6zM1463 1684h3v24h-3zM1470 1684h6v24h-6zM1483 1684h7v24h-7zM1493 1684h4v24h-4zM1500 1684h3v24h-3zM1520 1684h4v24h-4zM1530 1684h4v24h-4zM1540 1684h4v24h-4zM1561 1684h3v24h-3zM1574 1684h4v24h-4zM1584 1684h4v24h-4zM1594 1684h4v24h-4zM1608 1684h3v24h-3zM1625 1684h3v24h-3zM1632 1684h6v24h-6zM1642 1684h3v24h-3zM1652 1684h3v24h-3zM1260 1660h4v24h-4zM1277 1660h4v24h-4zM1284 1660h3v24h-3zM1365 1660h3v24h-3zM1601 1660h4v24h-4z"/>
<path fill="#fc863a" d="M1112 1684h7v24h-7zM1132 1684h3v24h-3zM1156 1684h6v24h-6zM1196 1684h4v24h-4zM1203 1684h3v24h-3zM1216 1684h7v24h-7zM1250 1684h7v24h-7zM1264 1684h3v24h-3zM1297 1684h7v24h-7zM1308 1684h3v24h-3zM1314 1684h4v24h-4zM1328 1684h3v24h-3zM1341 1684h4v24h-4zM1351 1684h4v24h-4zM1378 1684h4v24h-4zM1402 1684h3v24h-3zM1409 1684h3v24h-3zM1416 1684h3v24h-3zM1429 1684h3v24h-3zM1449 1684h4v24h-4zM1476 1684h4v24h-4zM1490 1684h3v24h-3zM1497 1684h3v24h-3zM1503 1684h4v24h-4zM1510 1684h3v24h-3zM1534 1684h3v24h-3zM1547 1684h4v24h-4zM1554 1684h3v24h-3zM1564 1684h3v24h-3zM1571 1684h3v24h-3zM1588 1684h6v24h-6zM1598 1684h3v24h-3zM1611 1684h4v24h-4zM1621 1684h4v24h-4zM1628 1684h4v24h-4zM1648 1684h4v24h-4zM1281 1660h3v24h-3zM1453 1660h3v24h-3z"/>
<path fill="#fc8439" d="M1135 1684h4v24h-4zM1142 1684h4v24h-4zM1257 1684h3v24h-3zM1270 1684h7v24h-7zM1294 1684h3v24h-3zM1318 1684h3v24h-3zM1405 1684h4v24h-4zM1513 1684h4v24h-4zM1524 1684h3v24h-3zM1551 1684h3v24h-3zM1578 1684h3v24h-3zM1274 1660h3v24h-3zM1287 1660h4v24h-4z"/>
<path fill="#fc8238" d="M1162 1684h4v24h-4zM1507 1684h3v24h-3zM1581 1684h3v24h-3zM1449 1660h4v24h-4z"/>
<path fill="#fc7e37" d="M1156 1660h3v24h-3zM1392 1660h3v24h-3zM1436 1660h3v24h-3z"/>
<path fill="#fc7c37" d="M1183 1660h3v24h-3zM1368 1660h4v24h-4zM1520 1660h4v24h-4zM1527 1660h3v24h-3zM1605 1660h3v24h-3z"/>
<path fill="#fc7a36" d="M1112 1660h3v24h-3zM1206 1660h4v24h-4zM1432 1660h4v24h-4zM1544 1660h3v24h-3zM1584 1660h4v24h-4z"/>
<path fill="#fc7836" d="M1426 1660h3v24h-3zM1615 1660h3v24h-3z"/>
<path fill="#fc7635" d="M1108 1660h4v24h-4zM1122 1660h3v24h-3zM1179 1660h4v24h-4zM1264 1660h3v24h-3zM1308 1660h3v24h-3zM1443 1660h6v24h-6zM1591 1660h3v24h-3zM1618 1660h3v24h-3zM1645 1660h3v24h-3z"/>
<path fill="#fc7434" d="M1119 1660h3v24h-3zM1348 1660h3v24h-3zM1355 1660h3v24h-3z"/>
<path fill="#fc7234" d="M1422 1660h4v24h-4zM1621 1660h4v24h-4z"/>
<path fill="#fc7033" d="M1125 1660h4v24h-4zM1193 1660h3v24h-3zM1203 1660h3v24h-3zM1220 1660h7v24h-7zM1358 1660h4v24h-4zM1598 1660h3v24h-3zM1625 1660h3v24h-3z"/>
<path fill="#fc6e33" d="M1186 1660h3v24h-3zM1200 1660h3v24h-3zM1341 1660h4v24h-4z"/>
<path fill="#fc6c32" d="M1095 1660h3v24h-3zM1129 1660h3v24h-3zM1169 1660h4v24h-4zM1189 1660h4v24h-4zM1294 1660h3v24h-3zM1338 1660h3v24h-3zM1419 1660h3v24h-3z"/>
<path fill="#fc6a32" d="M1463 1660h3v24h-3zM1608 1660h3v24h-3z"/>
<path fill="#fc6831" d="M1139 1660h3v24h-3zM1196 1660h4v24h-4zM1389 1660h3v24h-3zM1611 1660h4v24h-4z"/>
<path fill="#fc6630" d="M1115 1660h4v24h-4zM1152 1660h4v24h-4zM1176 1660h3v24h-3zM1382 1660h3v24h-3zM1429 1660h3v24h-3zM1513 1660h4v24h-4z"/>
<path fill="#fc6430" d="M1146 1660h3v24h-3zM1159 1660h3v24h-3zM1270 1660h4v24h-4zM1345 1660h3v24h-3zM1351 1660h4v24h-4zM1395 1660h4v24h-4zM1456 1660h3v24h-3zM1588 1660h3v24h-3z"/>
<path fill="#fc622f" d="M1243 1660h4v24h-4zM1331 1660h4v24h-4zM1412 1660h4v24h-4zM1459 1660h4v24h-4zM1510 1660h3v24h-3z"/>
<path fill="#fc602f" d="M1173 1660h3v24h-3zM1247 1660h3v24h-3zM1257 1660h3v24h-3zM1335 1660h3v24h-3zM1375 1660h3v24h-3zM1385 1660h4v24h-4zM1399 1660h3v24h-3zM1470 1660h3v24h-3zM1480 1660h13v24h-13zM1557 1660h4v24h-4zM1567 1660h4v24h-4z"/>
<path fill="#fc5e2e" d="M1149 1660h3v24h-3zM1166 1660h3v24h-3zM1500 1660h3v24h-3zM1524 1660h3v24h-3zM1534 1660h3v24h-3zM1635 1660h3v24h-3zM1652 1660h3v24h-3z"/>
<path fill="#fc5c2e" d="M1216 1660h4v24h-4zM1233 1660h4v24h-4zM1297 1660h4v24h-4zM1530 1660h4v24h-4zM1571 1660h7v24h-7z"/>
<path fill="#fc5a2d" d="M1102 1660h3v24h-3zM1267 1660h3v24h-3zM1328 1660h3v24h-3zM1378 1660h4v24h-4zM1517 1660h3v24h-3z"/>
<path fill="#fc582d" d="M1304 1660h4v24h-4zM1416 1660h3v24h-3zM1473 1660h3v24h-3zM1497 1660h3v24h-3zM1503 1660h4v24h-4zM1578 1660h3v24h-3zM1628 1660h4v24h-4z"/>
<path fill="#fc562c" d="M1237 1660h3v24h-3zM1254 1660h3v24h-3zM1507 1660h3v24h-3zM1537 1660h3v24h-3zM1551 1660h3v24h-3zM1638 1660h7v24h-7z"/>
<path fill="#fc542b" d="M1132 1660h3v24h-3zM1240 1660h3v24h-3zM1291 1660h3v24h-3zM1301 1660h3v24h-3zM1321 1660h7v24h-7zM1409 1660h3v24h-3zM1594 1660h4v24h-4z"/>
<path fill="#fc522b" d="M1135 1660h4v24h-4zM1227 1660h3v24h-3zM1554 1660h3v24h-3zM1564 1660h3v24h-3zM1632 1660h3v24h-3z"/>
<path fill="#fc502a" d="M1105 1660h3v24h-3zM1213 1660h3v24h-3zM1476 1660h4v24h-4zM1365 1636h3v24h-3z"/>
<path fill="#fc4e2a" d="M1311 1660h3v24h-3zM1318 1660h3v24h-3zM1493 1660h4v24h-4zM1547 1660h4v24h-4z"/>
<path fill="#fb4c29" d="M1250 1660h4v24h-4z"/>
<path fill="#fa4b29" d="M1098 1660h4v24h-4zM1648 1660h4v24h-4z"/>
<path fill="#f94928" d="M1230 1660h3v24h-3zM1405 1660h4v24h-4zM1581 1660h3v24h-3z"/>
<path fill="#f94828" d="M1162 1660h4v24h-4zM1655 1660h5v24h-5z"/>
<path fill="#f84627" d="M1142 1660h4v24h-4zM1402 1660h3v24h-3z"/>
<path fill="#f74427" d="M1466 1660h4v24h-4zM1453 1636h3v24h-3z"/>
<path fill="#f64327" d="M1540 1660h4v24h-4zM1561 1660h3v24h-3z"/>
<path fill="#f43e25" d="M1372 1636h3v24h-3z"/>
<path fill="#f23b24" d="M1314 1660h4v24h-4z"/>
<path fill="#f23924" d="M1277 1636h4v24h-4z"/>
<path fill="#f13724" d="M1287 1636h4v24h-4z"/>
<path fill="#f03623" d="M1122 1636h3v24h-3zM1439 1636h4v24h-4zM1605 1636h3v24h-3z"/>
<path fill="#ef3423" d="M1601 1636h4v24h-4z"/>
<path fill="#ee3222" d="M1362 1636h3v24h-3zM1527 1636h3v24h-3z"/>
<path fill="#ee3122" d="M1183 1636h3v24h-3zM1432 1636h4v24h-4z"/>
<path fill="#ed2f21" d="M1210 1636h3v24h-3zM1274 1636h3v24h-3zM1281 1636h3v24h-3z"/>
<path fill="#ec2d21" d="M1436 1636h3v24h-3z"/>
<path fill="#eb2c20" d="M1119 1636h3v24h-3zM1179 1636h4v24h-4zM1615 1636h3v24h-3z"/>
<path fill="#eb2a20" d="M1112 1636h3v24h-3zM1186 1636h3v24h-3zM1260 1636h4v24h-4zM1355 1636h3v24h-3zM1392 1636h3v24h-3zM1645 1636h3v24h-3z"/>
<path fill="#ea2920" d="M1284 1636h3v24h-3zM1520 1636h4v24h-4z"/>
<path fill="#e9271f" d="M1206 1636h4v24h-4zM1348 1636h3v24h-3zM1368 1636h4v24h-4zM1426 1636h3v24h-3zM1544 1636h3v24h-3zM1611 1636h4v24h-4z"/>
<path fill="#e8251f" d="M1264 1636h3v24h-3z"/>
<path fill="#e7241e" d="M1193 1636h3v24h-3zM1200 1636h3v24h-3zM1358 1636h4v24h-4zM1429 1636h3v24h-3zM1443 1636h3v24h-3zM1584 1636h4v24h-4zM1591 1636h3v24h-3z"/>
<path fill="#e7221e" d="M1108 1636h4v24h-4zM1125 1636h4v24h-4zM1139 1636h3v24h-3zM1189 1636h4v24h-4zM1449 1636h4v24h-4zM1513 1636h4v24h-4z"/>
<path fill="#e6201d" d="M1345 1636h3v24h-3zM1510 1636h3v24h-3zM1534 1636h3v24h-3z"/>
<path fill="#e51f1d" d="M1115 1636h4v24h-4zM1159 1636h3v24h-3zM1267 1636h3v24h-3zM1294 1636h3v24h-3zM1422 1636h4v24h-4zM1483 1636h3v24h-3z"/>
<path fill="#e41d1c" d="M1341 1636h4v24h-4zM1389 1636h3v24h-3zM1419 1636h3v24h-3zM1446 1636h3v24h-3zM1618 1636h3v24h-3z"/>
<path fill="#e31c1c" d="M1203 1636h3v24h-3zM1338 1636h3v24h-3zM1412 1636h4v24h-4z"/>
<path fill="#e31a1c" d="M1308 1636h3v24h-3zM1517 1636h3v24h-3zM1530 1636h4v24h-4zM1621 1636h7v24h-7z"/>
<path fill="#e2191c" d="M1102 1636h3v24h-3zM1351 1636h4v24h-4zM1399 1636h3v24h-3zM1537 1636h3v24h-3zM1571 1636h3v24h-3z"/>
<path fill="#e0181c" d="M1169 1636h4v24h-4zM1196 1636h4v24h-4zM1237 1636h3v24h-3zM1257 1636h3v24h-3zM1375 1636h3v24h-3zM1385 1636h4v24h-4z"/>
<path fill="#df171c" d="M1129 1636h3v24h-3zM1146 1636h3v24h-3zM1156 1636h3v24h-3zM1270 1636h4v24h-4zM1524 1636h3v24h-3zM1557 1636h4v24h-4zM1594 1636h7v24h-7z"/>
<path fill="#de161d" d="M1105 1636h3v24h-3zM1166 1636h3v24h-3zM1456 1636h3v24h-3zM1500 1636h3v24h-3zM1588 1636h3v24h-3zM1608 1636h3v24h-3z"/>
<path fill="#dd161d" d="M1223 1636h4v24h-4zM1291 1636h3v24h-3zM1378 1636h4v24h-4zM1480 1636h3v24h-3zM1507 1636h3v24h-3z"/>
<path fill="#dc151d" d="M1149 1636h3v24h-3zM1176 1636h3v24h-3zM1240 1636h3v24h-3zM1463 1636h3v24h-3zM1574 1636h4v24h-4zM1635 1636h3v24h-3z"/>
<path fill="#da141e" d="M1243 1636h4v24h-4zM1331 1636h4v24h-4zM1382 1636h3v24h-3zM1395 1636h4v24h-4z"/>
<path fill="#d9131e" d="M1220 1636h3v24h-3zM1321 1636h3v24h-3zM1473 1636h3v24h-3zM1652 1636h3v24h-3z"/>
<path fill="#d8121e" d="M1095 1636h7v24h-7zM1152 1636h4v24h-4zM1301 1636h3v24h-3zM1416 1636h3v24h-3zM1365 1612h3v24h-3z"/>
<path fill="#d7121f" d="M1233 1636h4v24h-4zM1304 1636h4v24h-4zM1324 1636h4v24h-4zM1470 1636h3v24h-3zM1551 1636h3v24h-3zM1578 1636h3v24h-3z"/>
<path fill="#d6111f" d="M1230 1636h3v24h-3zM1247 1636h3v24h-3zM1328 1636h3v24h-3zM1490 1636h3v24h-3zM1547 1636h4v24h-4z"/>
<path fill="#d4101f" d="M1213 1636h7v24h-7zM1335 1636h3v24h-3zM1459 1636h4v24h-4zM1497 1636h3v24h-3zM1503 1636h4v24h-4zM1554 1636h3v24h-3zM1567 1636h4v24h-4zM1638 1636h4v24h-4z"/>
<path fill="#d30f20" d="M1173 1636h3v24h-3zM1227 1636h3v24h-3zM1254 1636h3v24h-3zM1297 1636h4v24h-4zM1486 1636h4v24h-4zM1628 1636h4v24h-4zM1642 1636h3v24h-3zM1432 1612h4v24h-4zM1439 1612h4v24h-4z"/>
<path fill="#d20e20" d="M1135 1636h4v24h-4zM1409 1636h3v24h-3zM1493 1636h4v24h-4zM1648 1636h4v24h-4zM1287 1612h4v24h-4zM1453 1612h3v24h-3zM1601 1612h4v24h-4z"/>
<path fill="#d10d20" d="M1250 1636h4v24h-4zM1311 1636h3v24h-3zM1466 1636h4v24h-4zM1476 1636h4v24h-4zM1561 1636h3v24h-3zM1632 1636h3v24h-3z"/>
<path fill="#d00d20" d="M1405 1636h4v24h-4zM1260 1612h4v24h-4zM1281 1612h3v24h-3zM1362 1612h3v24h-3z"/>
<path fill="#cf0c21" d="M1132 1636h3v24h-3zM1318 1636h3v24h-3zM1655 1636h5v24h-5z"/>
<path fill="#cd0b21" d="M1564 1636h3v24h-3zM1277 1612h4v24h-4z"/>
<path fill="#cc0a21" d="M1402 1636h3v24h-3zM1581 1636h3v24h-3zM1274 1612h3v24h-3z"/>
<path fill="#ca0922" d="M1162 1636h4v24h-4zM1210 1612h3v24h-3zM1284 1612h3v24h-3zM1436 1612h3v24h-3zM1615 1612h3v24h-3z"/>
<path fill="#c90822" d="M1372 1612h3v24h-3z"/>
<path fill="#c70723" d="M1108 1612h4v24h-4zM1520 1612h4v24h-4zM1605 1612h3v24h-3z"/>
<path fill="#c60623" d="M1112 1612h3v24h-3zM1122 1612h3v24h-3zM1348 1612h3v24h-3zM1510 1612h3v24h-3zM1645 1612h3v24h-3z"/>
<path fill="#c50523" d="M1540 1636h4v24h-4zM1206 1612h4v24h-4zM1368 1612h4v24h-4zM1584 1612h4v24h-4zM1591 1612h3v24h-3z"/>
<path fill="#c40424" d="M1314 1636h4v24h-4zM1179 1612h7v24h-7zM1527 1612h3v24h-3zM1611 1612h4v24h-4z"/>
<path fill="#c30424" d="M1200 1612h6v24h-6zM1264 1612h3v24h-3z"/>
<path fill="#c10324" d="M1142 1636h4v24h-4zM1125 1612h4v24h-4zM1449 1612h4v24h-4z"/>
<path fill="#c00225" d="M1355 1612h3v24h-3zM1429 1612h3v24h-3zM1446 1612h3v24h-3z"/>
<path fill="#bf0125" d="M1119 1612h3v24h-3zM1189 1612h4v24h-4zM1392 1612h3v24h-3zM1426 1612h3v24h-3zM1443 1612h3v24h-3zM1513 1612h4v24h-4z"/>
<path fill="#be0025" d="M1115 1612h4v24h-4zM1186 1612h3v24h-3zM1196 1612h4v24h-4zM1544 1612h3v24h-3z"/>
<path fill="#bb0026" d="M1105 1612h3v24h-3zM1270 1612h4v24h-4zM1308 1612h3v24h-3zM1530 1612h4v24h-4z"/>
<path fill="#b90026" d="M1267 1612h3v24h-3zM1341 1612h4v24h-4z"/>
<path fill="#b70026" d="M1193 1612h3v24h-3zM1422 1612h4v24h-4zM1608 1612h3v24h-3zM1625 1612h3v24h-3z"/>
<path fill="#b50026" d="M1129 1612h3v24h-3zM1345 1612h3v24h-3zM1358 1612h4v24h-4z"/>
<path fill="#b30026" d="M1102 1612h3v24h-3zM1294 1612h3v24h-3zM1517 1612h3v24h-3zM1598 1612h3v24h-3z"/>
<path fill="#b10026" d="M1223 1612h4v24h-4zM1507 1612h3v24h-3z"/>
<path fill="#af0026" d="M1351 1612h4v24h-4zM1524 1612h3v24h-3zM1594 1612h4v24h-4z"/>
<path fill="#ad0026" d="M1156 1612h3v24h-3z"/>
<path fill="#ac0026" d="M1152 1612h4v24h-4zM1375 1612h3v24h-3zM1389 1612h3v24h-3zM1534 1612h3v24h-3zM1578 1612h3v24h-3zM1588 1612h3v24h-3z"/>
<path fill="#aa0026" d="M1149 1612h3v24h-3zM1159 1612h3v24h-3zM1220 1612h3v24h-3zM1456 1612h3v24h-3zM1618 1612h3v24h-3z"/>
<path fill="#a80026" d="M1139 1612h3v24h-3zM1382 1612h3v24h-3z"/>
<path fill="#a60026" d="M1132 1612h3v24h-3zM1243 1612h4v24h-4zM1257 1612h3v24h-3zM1419 1612h3v24h-3z"/>
<path fill="#a40026" d="M1146 1612h3v24h-3zM1176 1612h3v24h-3zM1338 1612h3v24h-3zM1412 1612h4v24h-4zM1621 1612h4v24h-4z"/>
<path fill="#a20026" d="M1095 1612h3v24h-3zM1385 1612h4v24h-4zM1567 1612h4v24h-4zM1652 1612h3v24h-3z"/>
<path fill="#a00026" d="M1240 1612h3v24h-3zM1378 1612h4v24h-4zM1483 1612h3v24h-3z"/>
<path fill="#9e0026" d="M1331 1612h7v24h-7zM1463 1612h3v24h-3zM1537 1612h3v24h-3zM1574 1612h4v24h-4zM1635 1612h3v24h-3z"/>
<path fill="#9c0026" d="M1166 1612h3v24h-3zM1173 1612h3v24h-3zM1247 1612h3v24h-3zM1311 1612h3v24h-3zM1395 1612h7v24h-7z"/>
<path fill="#9a0026" d="M1098 1612h4v24h-4zM1169 1612h4v24h-4zM1291 1612h3v24h-3zM1304 1612h4v24h-4zM1321 1612h3v24h-3zM1480 1612h3v24h-3zM1497 1612h3v24h-3zM1557 1612h4v24h-4zM1571 1612h3v24h-3zM1628 1612h4v24h-4z"/>
<path fill="#980026" d="M1216 1612h4v24h-4zM1254 1612h3v24h-3zM1297 1612h4v24h-4zM1416 1612h3v24h-3zM1486 1612h4v24h-4zM1503 1612h4v24h-4zM1551 1612h3v24h-3zM1632 1612h3v24h-3z"/>
<path fill="#960026" d="M1213 1612h3v24h-3zM1405 1612h4v24h-4zM1459 1612h4v24h-4zM1473 1612h3v24h-3zM1500 1612h3v24h-3zM1547 1612h4v24h-4zM1564 1612h3v24h-3z"/>
<path fill="#950026" d="M1227 1612h3v24h-3zM1237 1612h3v24h-3zM1301 1612h3v24h-3zM1318 1612h3v24h-3zM1638 1612h4v24h-4z"/>
<path fill="#930026" d="M1250 1612h4v24h-4zM1409 1612h3v24h-3zM1470 1612h3v24h-3zM1540 1612h4v24h-4zM1561 1612h3v24h-3zM1642 1612h3v24h-3z"/>
<path fill="#910026" d="M1135 1612h4v24h-4zM1233 1612h4v24h-4zM1324 1612h4v24h-4zM1466 1612h4v24h-4zM1476 1612h4v24h-4zM1490 1612h3v24h-3zM1554 1612h3v24h-3z"/>
<path fill="#8d0026" d="M1162 1612h4v24h-4zM1328 1612h3v24h-3zM1648 1612h4v24h-4z"/>
<path fill="#8b0026" d="M1230 1612h3v24h-3zM1581 1612h3v24h-3zM1105 1587h3v25h-3zM1139 1587h3v25h-3zM1149 1587h3v25h-3zM1179 1587h4v25h-4zM1210 1587h3v25h-3zM1368 1587h7v25h-7zM1419 1587h3v25h-3zM1432 1587h4v25h-4zM1439 1587h4v25h-4zM1453 1587h3v25h-3zM1557 1587h4v25h-4zM1601 1587h4v25h-4zM1615 1587h3v25h-3z"/>
<path fill="#890026" d="M1095 1587h10v25h-10zM1108 1587h7v25h-7zM1122 1587h3v25h-3zM1129 1587h3v25h-3zM1146 1587h3v25h-3zM1152 1587h7v25h-7zM1166 1587h10v25h-10zM1183 1587h6v25h-6zM1206 1587h4v25h-4zM1223 1587h10v25h-10zM1237 1587h10v25h-10zM1254 1587h3v25h-3zM1264 1587h3v25h-3zM1277 1587h17v25h-17zM1301 1587h7v25h-7zM1321 1587h3v25h-3zM1331 1587h17v25h-17zM1355 1587h3v25h-3zM1362 1587h6v25h-6zM1378 1587h24v25h-24zM1412 1587h7v25h-7zM1422 1587h10v25h-10zM1436 1587h3v25h-3zM1443 1587h3v25h-3zM1449 1587h4v25h-4zM1456 1587h14v25h-14zM1473 1587h3v25h-3zM1480 1587h6v25h-6zM1510 1587h3v25h-3zM1517 1587h3v25h-3zM1527 1587h3v25h-3zM1537 1587h3v25h-3zM1544 1587h3v25h-3zM1551 1587h3v25h-3zM1561 1587h3v25h-3zM1567 1587h4v25h-4zM1574 1587h4v25h-4zM1605 1587h6v25h-6zM1618 1587h3v25h-3zM1625 1587h7v25h-7zM1635 1587h3v25h-3zM1645 1587h3v25h-3zM1652 1587h3v25h-3z"/>
<path fill="#870026" d="M1115 1587h7v25h-7zM1125 1587h4v25h-4zM1132 1587h7v25h-7zM1159 1587h3v25h-3zM1176 1587h3v25h-3zM1189 1587h17v25h-17zM1213 1587h10v25h-10zM1233 1587h4v25h-4zM1247 1587h3v25h-3zM1257 1587h7v25h-7zM1267 1587h7v25h-7zM1294 1587h7v25h-7zM1308 1587h6v25h-6zM1324 1587h4v25h-4zM1348 1587h7v25h-7zM1358 1587h4v25h-4zM1375 1587h3v25h-3zM1405 1587h7v25h-7zM1446 1587h3v25h-3zM1470 1587h3v25h-3zM1476 1587h4v25h-4zM1486 1587h7v25h-7zM1497 1587h6v25h-6zM1507 1587h3v25h-3zM1520 1587h7v25h-7zM1530 1587h7v25h-7zM1540 1587h4v25h-4zM1547 1587h4v25h-4zM1554 1587h3v25h-3zM1564 1587h3v25h-3zM1578 1587h3v25h-3zM1584 1587h17v25h-17zM1611 1587h4v25h-4zM1632 1587h3v25h-3zM1638 1587h7v25h-7zM1648 1587h4v25h-4z"/>
<path fill="#850026" d="M1314 1612h4v24h-4zM1402 1612h3v24h-3zM1250 1587h4v25h-4zM1274 1587h3v25h-3zM1314 1587h7v25h-7zM1328 1587h3v25h-3zM1402 1587h3v25h-3zM1503 1587h4v25h-4zM1513 1587h4v25h-4zM1571 1587h3v25h-3zM1581 1587h3v25h-3zM1621 1587h4v25h-4z"/>
<path fill="#830026" d="M1162 1587h4v25h-4zM1210 1563h3v24h-3zM1267 1563h3v24h-3zM1368 1563h4v24h-4z"/>
<path fill="#810026" d="M1142 1612h4v24h-4zM1655 1612h5v24h-5zM1142 1587h4v25h-4zM1655 1587h5v25h-5zM1095 1563h20v24h-20zM1119 1563h13v24h-13zM1139 1563h3v24h-3zM1146 1563h16v24h-16zM1166 1563h30v24h-30zM1200 1563h10v24h-10zM1213 1563h7v24h-7zM1223 1563h27v24h-27zM1254 1563h3v24h-3zM1260 1563h7v24h-7zM1277 1563h20v24h-20zM1304 1563h64v24h-64zM1372 1563h30v24h-30zM1412 1563h37v24h-37zM1453 1563h20v24h-20zM1476 1563h17v24h-17zM1497 1563h6v24h-6zM1510 1563h54v24h-54zM1567 1563h4v24h-4zM1574 1563h4v24h-4zM1584 1563h4v24h-4zM1591 1563h3v24h-3zM1598 1563h13v24h-13zM1615 1563h45v24h-45z"/>
<path fill="#800026" d="M1493 1612h4v24h-4zM1493 1587h4v25h-4zM1115 1563h4v24h-4zM1132 1563h7v24h-7zM1142 1563h4v24h-4zM1162 1563h4v24h-4zM1196 1563h4v24h-4zM1220 1563h3v24h-3zM1250 1563h4v24h-4zM1257 1563h3v24h-3zM1270 1563h7v24h-7zM1297 1563h7v24h-7zM1402 1563h10v24h-10zM1449 1563h4v24h-4zM1473 1563h3v24h-3zM1493 1563h4v24h-4zM1503 1563h7v24h-7zM1564 1563h3v24h-3zM1571 1563h3v24h-3zM1578 1563h6v24h-6zM1588 1563h3v24h-3zM1594 1563h4v24h-4zM1611 1563h4v24h-4zM1095 1539h565v24h-565zM1095 1514h565v25h-565z"/>
</g>
<path class="g" d="M1095.5 1514.5V1780.5M1176.5 1514.5V1780.5M1257.5 1514.5V1780.5M1338.5 1514.5V1780.5M1419.5 1514.5V1780.5M1500.5 1514.5V1780.5M1581.5 1514.5V1780.5"/>
<path class="k" d="M1095.5 1780v5.3M1176.5 1780v5.3M1257.5 1780v5.3M1338.5 1780v5.3M1419.5 1780v5.3M1500.5 1780v5.3M1581.5 1780v5.3M1095.45 1780.5h-5.2M1095.45 1659.5h-5.2M1095.45 1587.5h-5.2"/>
<rect class="k" x="1095.5" y="1514.5" width="564" height="266"/>
<rect x="1694.5" y="1514.5" width="14" height="266" fill="url(#cm)"/>
<rect class="k" x="1694.5" y="1514.5" width="14" height="266"/>
<path class="k" d="M1707.59 1751.5h5.5M1707.59 1717.5h5.5M1707.59 1683.5h5.5M1707.59 1649.5h5.5M1707.59 1616.5h5.5M1707.59 1582.5h5.5M1707.59 1548.5h5.5"/>
<g style="opacity:.999;filter:grayscale(1)">
<text x="1000.8" y="54.4" text-anchor="middle" font-size="17.15" textLength="343.79" lengthAdjust="spacingAndGlyphs">RTT profile of first hops probe 10312 IPv6</text>
<text x="1000" y="75.3" text-anchor="middle" font-size="17.15" textLength="126.37" lengthAdjust="spacingAndGlyphs">(red=high RTT)</text>
<text x="1000" y="96.2" text-anchor="middle" font-size="17.15" textLength="140.12" lengthAdjust="spacingAndGlyphs">cc:US asn:11426</text>
<text x="249.8" y="526" text-anchor="middle" font-size="14.3" textLength="28.08" lengthAdjust="spacingAndGlyphs">Mon</text>
<text x="331" y="526" text-anchor="middle" font-size="14.3" textLength="23.72" lengthAdjust="spacingAndGlyphs">Tue</text>
<text x="412.2" y="526" text-anchor="middle" font-size="14.3" textLength="28.28" lengthAdjust="spacingAndGlyphs">Wed</text>
<text x="492.6" y="526" text-anchor="middle" font-size="14.3" textLength="26.09" lengthAdjust="spacingAndGlyphs">Thu</text>
<text x="573.81" y="526" text-anchor="middle" font-size="14.3" textLength="14.55" lengthAdjust="spacingAndGlyphs">Fri</text>
<text x="655.21" y="526" text-anchor="middle" font-size="14.3" textLength="22.37" lengthAdjust="spacingAndGlyphs">Sat</text>
<text x="736.41" y="526" text-anchor="middle" font-size="14.3" textLength="24.82" lengthAdjust="spacingAndGlyphs">Sun</text>
<text x="239.68" y="511" text-anchor="end" font-size="14.3" textLength="24.25" lengthAdjust="spacingAndGlyphs">Min</text>
<text x="239.68" y="390" text-anchor="end" font-size="14.3" textLength="50.12" lengthAdjust="spacingAndGlyphs">Median</text>
<text x="240.48" y="318" text-anchor="end" font-size="14.3" textLength="38.73" lengthAdjust="spacingAndGlyphs">80Pct</text>
<text x="163.7" y="373.96" text-anchor="middle" font-size="14.3" textLength="139.63" lengthAdjust="spacingAndGlyphs" transform="rotate(-90 163.7 373.96)">RTT deciles at hop 1</text>
<text x="180.8" y="373.56" text-anchor="middle" font-size="14.3" textLength="42.75" lengthAdjust="spacingAndGlyphs" transform="rotate(-90 180.8 373.56)">(1 IPs)</text>
<text x="873.06" y="486.3" text-anchor="start" font-size="14.3" textLength="28.53" lengthAdjust="spacingAndGlyphs">0.35</text>
<text x="873.46" y="427.4" text-anchor="start" font-size="14.3" textLength="29.33" lengthAdjust="spacingAndGlyphs">0.40</text>
<text x="873.06" y="368.4" text-anchor="start" font-size="14.3" textLength="28.53" lengthAdjust="spacingAndGlyphs">0.45</text>
<text x="873.46" y="309.4" text-anchor="start" font-size="14.3" textLength="29.33" lengthAdjust="spacingAndGlyphs">0.50</text>
<text x="873.06" y="250.4" text-anchor="start" font-size="14.3" textLength="28.53" lengthAdjust="spacingAndGlyphs">0.55</text>
<text x="918.29" y="373.96" text-anchor="middle" font-size="14.3" textLength="60.58" lengthAdjust="spacingAndGlyphs" transform="rotate(-90 918.29 373.96)">RTT (ms)</text>
<text x="1095.25" y="526" text-anchor="middle" font-size="14.3" textLength="28.08" lengthAdjust="spacingAndGlyphs">Mon</text>
<text x="1176.46" y="526" text-anchor="middle" font-size="14.3" textLength="23.72" lengthAdjust="spacingAndGlyphs">Tue</text>
<text x="1257.66" y="526" text-anchor="middle" font-size="14.3" textLength="28.28" lengthAdjust="spacingAndGlyphs">Wed</text>
<text x="1338.06" y="526" text-anchor="middle" font-size="14.3" textLength="26.09" lengthAdjust="spacingAndGlyphs">Thu</text>
<text x="1419.26" y="526" text-anchor="middle" font-size="14.3" textLength="14.55" lengthAdjust="spacingAndGlyphs">Fri</text>
<text x="1500.66" y="526" text-anchor="middle" font-size="14.3" textLength="22.37" lengthAdjust="spacingAndGlyphs">Sat</text>
<text x="1581.86" y="526" text-anchor="middle" font-size="14.3" textLength="24.82" lengthAdjust="spacingAndGlyphs">Sun</text>
<text x="1085.13" y="511" text-anchor="end" font-size="14.3" textLength="24.25" lengthAdjust="spacingAndGlyphs">Min</text>
<text x="1085.13" y="390" text-anchor="end" font-size="14.3" textLength="50.12" lengthAdjust="spacingAndGlyphs">Median</text>
<text x="1085.93" y="318" text-anchor="end" font-size="14.3" textLength="38.73" lengthAdjust="spacingAndGlyphs">80Pct</text>
<text x="1009.15" y="373.96" text-anchor="middle" font-size="14.3" textLength="139.63" lengthAdjust="spacingAndGlyphs" transform="rotate(-90 1009.15 373.96)">RTT deciles at hop 1</text>
<text x="1026.25" y="373.56" text-anchor="middle" font-size="14.3" textLength="42.75" lengthAdjust="spacingAndGlyphs" transform="rotate(-90 1026.25 373.56)">(1 IPs)</text>
<text x="1718.51" y="505.5" text-anchor="start" font-size="14.3" textLength="37.36" lengthAdjust="spacingAndGlyphs">0.350</text>
<text x="1718.51" y="474.5" text-anchor="start" font-size="14.3" textLength="37.36" lengthAdjust="spacingAndGlyphs">0.375</text>
<text x="1718.51" y="442.5" text-anchor="start" font-size="14.3" textLength="37.36" lengthAdjust="spacingAndGlyphs">0.400</text>
<text x="1718.51" y="410.5" text-anchor="start" font-size="14.3" textLength="37.36" lengthAdjust="spacingAndGlyphs">0.425</text>
<text x="1718.51" y="378.5" text-anchor="start" font-size="14.3" textLength="37.36" lengthAdjust="spacingAndGlyphs">0.450</text>
<text x="1718.51" y="346.5" text-anchor="start" font-size="14.3" textLength="37.36" lengthAdjust="spacingAndGlyphs">0.475</text>
<text x="1718.51" y="314.4" text-anchor="start" font-size="14.3" textLength="37.36" lengthAdjust="spacingAndGlyphs">0.500</text>
<text x="1718.51" y="282.4" text-anchor="start" font-size="14.3" textLength="37.36" lengthAdjust="spacingAndGlyphs">0.525</text>
<text x="1718.51" y="250.4" text-anchor="start" font-size="14.3" textLength="37.36" lengthAdjust="spacingAndGlyphs">0.550</text>
<text x="1771.78" y="373.96" text-anchor="middle" font-size="14.3" textLength="60.58" lengthAdjust="spacingAndGlyphs" transform="rotate(-90 1771.78 373.96)">RTT (ms)</text>
<text x="249.8" y="845" text-anchor="middle" font-size="14.3" textLength="28.08" lengthAdjust="spacingAndGlyphs">Mon</text>
<text x="331" y="845" text-anchor="middle" font-size="14.3" textLength="23.72" lengthAdjust="spacingAndGlyphs">Tue</text>
<text x="412.2" y="845" text-anchor="middle" font-size="14.3" textLength="28.28" lengthAdjust="spacingAndGlyphs">Wed</text>
<text x="492.6" y="845" text-anchor="middle" font-size="14.3" textLength="26.09" lengthAdjust="spacingAndGlyphs">Thu</text>
<text x="573.81" y="845" text-anchor="middle" font-size="14.3" textLength="14.55" lengthAdjust="spacingAndGlyphs">Fri</text>
<text x="655.21" y="845" text-anchor="middle" font-size="14.3" textLength="22.37" lengthAdjust="spacingAndGlyphs">Sat</text>
<text x="736.41" y="845" text-anchor="middle" font-size="14.3" textLength="24.82" lengthAdjust="spacingAndGlyphs">Sun</text>
<text x="239.68" y="830" text-anchor="end" font-size="14.3" textLength="24.25" lengthAdjust="spacingAndGlyphs">Min</text>
<text x="239.68" y="709" text-anchor="end" font-size="14.3" textLength="50.12" lengthAdjust="spacingAndGlyphs">Median</text>
<text x="240.48" y="637" text-anchor="end" font-size="14.3" textLength="38.73" lengthAdjust="spacingAndGlyphs">80Pct</text>
<text x="163.7" y="693.38" text-anchor="middle" font-size="14.3" textLength="139.63" lengthAdjust="spacingAndGlyphs" transform="rotate(-90 163.7 693.38)">RTT deciles at hop 2</text>
<text x="180.8" y="692.18" text-anchor="middle" font-size="14.3" textLength="42.75" lengthAdjust="spacingAndGlyphs" transform="rotate(-90 180.8 692.18)">(1 IPs)</text>
<text x="873.66" y="820.5" text-anchor="start" font-size="14.3" textLength="7.64" lengthAdjust="spacingAndGlyphs">4</text>
<text x="871.86" y="772.4" text-anchor="start" font-size="14.3" textLength="8.84" lengthAdjust="spacingAndGlyphs">6</text>
<text x="872.26" y="724.5" text-anchor="start" font-size="14.3" textLength="8.04" lengthAdjust="spacingAndGlyphs">8</text>
<text x="872.66" y="676.6" text-anchor="start" font-size="14.3" textLength="16.07" lengthAdjust="spacingAndGlyphs">10</text>
<text x="872.66" y="627.5" text-anchor="start" font-size="14.3" textLength="14.47" lengthAdjust="spacingAndGlyphs">12</text>
<text x="873.06" y="579.4" text-anchor="start" font-size="14.3" textLength="15.27" lengthAdjust="spacingAndGlyphs">14</text>
<text x="905.03" y="692.58" text-anchor="middle" font-size="14.3" textLength="60.58" lengthAdjust="spacingAndGlyphs" transform="rotate(-90 905.03 692.58)">RTT (ms)</text>
<text x="1095.25" y="845" text-anchor="middle" font-size="14.3" textLength="28.08" lengthAdjust="spacingAndGlyphs">Mon</text>
<text x="1176.46" y="845" text-anchor="middle" font-size="14.3" textLength="23.72" lengthAdjust="spacingAndGlyphs">Tue</text>
<text x="1257.66" y="845" text-anchor="middle" font-size="14.3" textLength="28.28" lengthAdjust="spacingAndGlyphs">Wed</text>
<text x="1338.06" y="845" text-anchor="middle" font-size="14.3" textLength="26.09" lengthAdjust="spacingAndGlyphs">Thu</text>
<text x="1419.26" y="845" text-anchor="middle" font-size="14.3" textLength="14.55" lengthAdjust="spacingAndGlyphs">Fri</text>
<text x="1500.66" y="845" text-anchor="middle" font-size="14.3" textLength="22.37" lengthAdjust="spacingAndGlyphs">Sat</text>
<text x="1581.86" y="845" text-anchor="middle" font-size="14.3" textLength="24.82" lengthAdjust="spacingAndGlyphs">Sun</text>
<text x="1085.13" y="830" text-anchor="end" font-size="14.3" textLength="24.25" lengthAdjust="spacingAndGlyphs">Min</text>
<text x="1085.13" y="709" text-anchor="end" font-size="14.3" textLength="50.12" lengthAdjust="spacingAndGlyphs">Median</text>
<text x="1085.93" y="637" text-anchor="end" font-size="14.3" textLength="38.73" lengthAdjust="spacingAndGlyphs">80Pct</text>
<text x="1009.15" y="693.38" text-anchor="middle" font-size="14.3" textLength="139.63" lengthAdjust="spacingAndGlyphs" transform="rotate(-90 1009.15 693.38)">RTT deciles at hop 2</text>
<text x="1026.25" y="692.18" text-anchor="middle" font-size="14.3" textLength="42.75" lengthAdjust="spacingAndGlyphs" transform="rotate(-90 1026.25 692.18)">(1 IPs)</text>
<text x="1719.11" y="817.6" text-anchor="start" font-size="14.3" textLength="7.64" lengthAdjust="spacingAndGlyphs">4</text>
<text x="1717.31" y="770.4" text-anchor="start" font-size="14.3" textLength="8.84" lengthAdjust="spacingAndGlyphs">6</text>
<text x="1717.71" y="722.4" text-anchor="start" font-size="14.3" textLength="8.04" lengthAdjust="spacingAndGlyphs">8</text>
<text x="1718.11" y="674.5" text-anchor="start" font-size="14.3" textLength="16.07" lengthAdjust="spacingAndGlyphs">10</text>
<text x="1718.11" y="627.5" text-anchor="start" font-size="14.3" textLength="14.47" lengthAdjust="spacingAndGlyphs">12</text>
<text x="1718.51" y="579.4" text-anchor="start" font-size="14.3" textLength="15.27" lengthAdjust="spacingAndGlyphs">14</text>
<text x="1750.49" y="692.58" text-anchor="middle" font-size="14.3" textLength="60.58" lengthAdjust="spacingAndGlyphs" transform="rotate(-90 1750.49 692.58)">RTT (ms)</text>
<text x="249.8" y="1163" text-anchor="middle" font-size="14.3" textLength="28.08" lengthAdjust="spacingAndGlyphs">Mon</text>
<text x="331" y="1163" text-anchor="middle" font-size="14.3" textLength="23.72" lengthAdjust="spacingAndGlyphs">Tue</text>
<text x="412.2" y="1163" text-anchor="middle" font-size="14.3" textLength="28.28" lengthAdjust="spacingAndGlyphs">Wed</text>
<text x="492.6" y="1163" text-anchor="middle" font-size="14.3" textLength="26.09" lengthAdjust="spacingAndGlyphs">Thu</text>
<text x="573.81" y="1163" text-anchor="middle" font-size="14.3" textLength="14.55" lengthAdjust="spacingAndGlyphs">Fri</text>
<text x="655.21" y="1163" text-anchor="middle" font-size="14.3" textLength="22.37" lengthAdjust="spacingAndGlyphs">Sat</text>
<text x="736.41" y="1163" text-anchor="middle" font-size="14.3" textLength="24.82" lengthAdjust="spacingAndGlyphs">Sun</text>
<text x="239.68" y="1148" text-anchor="end" font-size="14.3" textLength="24.25" lengthAdjust="spacingAndGlyphs">Min</text>
<text x="239.68" y="1028" text-anchor="end" font-size="14.3" textLength="50.12" lengthAdjust="spacingAndGlyphs">Median</text>
<text x="240.48" y="955" text-anchor="end" font-size="14.3" textLength="38.73" lengthAdjust="spacingAndGlyphs">80Pct</text>
<text x="163.7" y="1011.2" text-anchor="middle" font-size="14.3" textLength="139.63" lengthAdjust="spacingAndGlyphs" transform="rotate(-90 163.7 1011.2)">RTT deciles at hop 3</text>
<text x="180.8" y="1011.2" text-anchor="middle" font-size="14.3" textLength="42.75" lengthAdjust="spacingAndGlyphs" transform="rotate(-90 180.8 1011.2)">(8 IPs)</text>
<text x="871.86" y="1119.5" text-anchor="start" font-size="14.3" textLength="8.84" lengthAdjust="spacingAndGlyphs">6</text>
<text x="872.26" y="1089.6" text-anchor="start" font-size="14.3" textLength="8.04" lengthAdjust="spacingAndGlyphs">8</text>
<text x="872.66" y="1059.6" text-anchor="start" font-size="14.3" textLength="16.07" lengthAdjust="spacingAndGlyphs">10</text>
<text x="872.66" y="1030.6" text-anchor="start" font-size="14.3" textLength="14.47" lengthAdjust="spacingAndGlyphs">12</text>
<text x="873.06" y="1000.6" text-anchor="start" font-size="14.3" textLength="15.27" lengthAdjust="spacingAndGlyphs">14</text>
<text x="872.66" y="970.6" text-anchor="start" font-size="14.3" textLength="16.07" lengthAdjust="spacingAndGlyphs">16</text>
<text x="872.66" y="941.4" text-anchor="start" font-size="14.3" textLength="16.07" lengthAdjust="spacingAndGlyphs">18</text>
<text x="872.26" y="911.5" text-anchor="start" font-size="14.3" textLength="16.87" lengthAdjust="spacingAndGlyphs">20</text>
<text x="905.03" y="1011.2" text-anchor="middle" font-size="14.3" textLength="60.58" lengthAdjust="spacingAndGlyphs" transform="rotate(-90 905.03 1011.2)">RTT (ms)</text>
<text x="1095.25" y="1163" text-anchor="middle" font-size="14.3" textLength="28.08" lengthAdjust="spacingAndGlyphs">Mon</text>
<text x="1176.46" y="1163" text-anchor="middle" font-size="14.3" textLength="23.72" lengthAdjust="spacingAndGlyphs">Tue</text>
<text x="1257.66" y="1163" text-anchor="middle" font-size="14.3" textLength="28.28" lengthAdjust="spacingAndGlyphs">Wed</text>
<text x="1338.06" y="1163" text-anchor="middle" font-size="14.3" textLength="26.09" lengthAdjust="spacingAndGlyphs">Thu</text>
<text x="1419.26" y="1163" text-anchor="middle" font-size="14.3" textLength="14.55" lengthAdjust="spacingAndGlyphs">Fri</text>
<text x="1500.66" y="1163" text-anchor="middle" font-size="14.3" textLength="22.37" lengthAdjust="spacingAndGlyphs">Sat</text>
<text x="1581.86" y="1163" text-anchor="middle" font-size="14.3" textLength="24.82" lengthAdjust="spacingAndGlyphs">Sun</text>
<text x="1085.13" y="1148" text-anchor="end" font-size="14.3" textLength="24.25" lengthAdjust="spacingAndGlyphs">Min</text>
<text x="1085.13" y="1028" text-anchor="end" font-size="14.3" textLength="50.12" lengthAdjust="spacingAndGlyphs">Median</text>
<text x="1085.93" y="955" text-anchor="end" font-size="14.3" textLength="38.73" lengthAdjust="spacingAndGlyphs">80Pct</text>
<text x="1009.15" y="1011.2" text-anchor="middle" font-size="14.3" textLength="139.63" lengthAdjust="spacingAndGlyphs" transform="rotate(-90 1009.15 1011.2)">RTT deciles at hop 3</text>
<text x="1026.25" y="1011.2" text-anchor="middle" font-size="14.3" textLength="42.75" lengthAdjust="spacingAndGlyphs" transform="rotate(-90 1026.25 1011.2)">(8 IPs)</text>
<text x="1717.31" y="1127.5" text-anchor="start" font-size="14.3" textLength="20.49" lengthAdjust="spacingAndGlyphs">5.0</text>
<text x="1717.31" y="1091.6" text-anchor="start" font-size="14.3" textLength="20.49" lengthAdjust="spacingAndGlyphs">7.5</text>
<text x="1718.51" y="1055.4" text-anchor="start" font-size="14.3" textLength="28.53" lengthAdjust="spacingAndGlyphs">10.0</text>
<text x="1718.51" y="1019.5" text-anchor="start" font-size="14.3" textLength="28.53" lengthAdjust="spacingAndGlyphs">12.5</text>
<text x="1718.51" y="983.5" text-anchor="start" font-size="14.3" textLength="28.53" lengthAdjust="spacingAndGlyphs">15.0</text>
<text x="1718.51" y="946.4" text-anchor="start" font-size="14.3" textLength="28.53" lengthAdjust="spacingAndGlyphs">17.5</text>
<text x="1716.91" y="910.5" text-anchor="start" font-size="14.3" textLength="30.13" lengthAdjust="spacingAndGlyphs">20.0</text>
<text x="1762.94" y="1011.2" text-anchor="middle" font-size="14.3" textLength="60.58" lengthAdjust="spacingAndGlyphs" transform="rotate(-90 1762.94 1011.2)">RTT (ms)</text>
<text x="249.8" y="1482" text-anchor="middle" font-size="14.3" textLength="28.08" lengthAdjust="spacingAndGlyphs">Mon</text>
<text x="331" y="1482" text-anchor="middle" font-size="14.3" textLength="23.72" lengthAdjust="spacingAndGlyphs">Tue</text>
<text x="412.2" y="1482" text-anchor="middle" font-size="14.3" textLength="28.28" lengthAdjust="spacingAndGlyphs">Wed</text>
<text x="492.6" y="1482" text-anchor="middle" font-size="14.3" textLength="26.09" lengthAdjust="spacingAndGlyphs">Thu</text>
<text x="573.81" y="1482" text-anchor="middle" font-size="14.3" textLength="14.55" lengthAdjust="spacingAndGlyphs">Fri</text>
<text x="655.21" y="1482" text-anchor="middle" font-size="14.3" textLength="22.37" lengthAdjust="spacingAndGlyphs">Sat</text>
<text x="736.41" y="1482" text-anchor="middle" font-size="14.3" textLength="24.82" lengthAdjust="spacingAndGlyphs">Sun</text>
<text x="239.68" y="1467" text-anchor="end" font-size="14.3" textLength="24.25" lengthAdjust="spacingAndGlyphs">Min</text>
<text x="239.68" y="1346" text-anchor="end" font-size="14.3" textLength="50.12" lengthAdjust="spacingAndGlyphs">Median</text>
<text x="240.48" y="1274" text-anchor="end" font-size="14.3" textLength="38.73" lengthAdjust="spacingAndGlyphs">80Pct</text>
<text x="163.7" y="1329.42" text-anchor="middle" font-size="14.3" textLength="140.43" lengthAdjust="spacingAndGlyphs" transform="rotate(-90 163.7 1329.42)">RTT deciles at hop 4</text>
<text x="180.8" y="1329.62" text-anchor="middle" font-size="14.3" textLength="42.35" lengthAdjust="spacingAndGlyphs" transform="rotate(-90 180.8 1329.62)">(3 IPs)</text>
<text x="871.86" y="1422.5" text-anchor="start" font-size="14.3" textLength="8.84" lengthAdjust="spacingAndGlyphs">6</text>
<text x="872.26" y="1376.5" text-anchor="start" font-size="14.3" textLength="8.04" lengthAdjust="spacingAndGlyphs">8</text>
<text x="872.66" y="1330.5" text-anchor="start" font-size="14.3" textLength="16.07" lengthAdjust="spacingAndGlyphs">10</text>
<text x="872.66" y="1284.6" text-anchor="start" font-size="14.3" textLength="14.47" lengthAdjust="spacingAndGlyphs">12</text>
<text x="873.06" y="1238.5" text-anchor="start" font-size="14.3" textLength="15.27" lengthAdjust="spacingAndGlyphs">14</text>
<text x="905.03" y="1329.82" text-anchor="middle" font-size="14.3" textLength="60.58" lengthAdjust="spacingAndGlyphs" transform="rotate(-90 905.03 1329.82)">RTT (ms)</text>
<text x="1095.25" y="1482" text-anchor="middle" font-size="14.3" textLength="28.08" lengthAdjust="spacingAndGlyphs">Mon</text>
<text x="1176.46" y="1482" text-anchor="middle" font-size="14.3" textLength="23.72" lengthAdjust="spacingAndGlyphs">Tue</text>
<text x="1257.66" y="1482" text-anchor="middle" font-size="14.3" textLength="28.28" lengthAdjust="spacingAndGlyphs">Wed</text>
<text x="1338.06" y="1482" text-anchor="middle" font-size="14.3" textLength="26.09" lengthAdjust="spacingAndGlyphs">Thu</text>
<text x="1419.26" y="1482" text-anchor="middle" font-size="14.3" textLength="14.55" lengthAdjust="spacingAndGlyphs">Fri</text>
<text x="1500.66" y="1482" text-anchor="middle" font-size="14.3" textLength="22.37" lengthAdjust="spacingAndGlyphs">Sat</text>
<text x="1581.86" y="1482" text-anchor="middle" font-size="14.3" textLength="24.82" lengthAdjust="spacingAndGlyphs">Sun</text>
<text x="1085.13" y="1467" text-anchor="end" font-size="14.3" textLength="24.25" lengthAdjust="spacingAndGlyphs">Min</text>
<text x="1085.13" y="1346" text-anchor="end" font-size="14.3" textLength="50.12" lengthAdjust="spacingAndGlyphs">Median</text>
<text x="1085.93" y="1274" text-anchor="end" font-size="14.3" textLength="38.73" lengthAdjust="spacingAndGlyphs">80Pct</text>
<text x="1009.15" y="1329.42" text-anchor="middle" font-size="14.3" textLength="140.43" lengthAdjust="spacingAndGlyphs" transform="rotate(-90 1009.15 1329.42)">RTT deciles at hop 4</text>
<text x="1026.25" y="1329.62" text-anchor="middle" font-size="14.3" textLength="42.35" lengthAdjust="spacingAndGlyphs" transform="rotate(-90 1026.25 1329.62)">(2 IPs)</text>
<text x="1717.31" y="1421.5" text-anchor="start" font-size="14.3" textLength="8.84" lengthAdjust="spacingAndGlyphs">6</text>
<text x="1717.71" y="1375.4" text-anchor="start" font-size="14.3" textLength="8.04" lengthAdjust="spacingAndGlyphs">8</text>
<text x="1718.11" y="1329.6" text-anchor="start" font-size="14.3" textLength="16.07" lengthAdjust="spacingAndGlyphs">10</text>
<text x="1718.11" y="1283.5" text-anchor="start" font-size="14.3" textLength="14.47" lengthAdjust="spacingAndGlyphs">12</text>
<text x="1718.51" y="1238.5" text-anchor="start" font-size="14.3" textLength="15.27" lengthAdjust="spacingAndGlyphs">14</text>
<text x="1750.49" y="1329.82" text-anchor="middle" font-size="14.3" textLength="60.58" lengthAdjust="spacingAndGlyphs" transform="rotate(-90 1750.49 1329.82)">RTT (ms)</text>
<text x="249.8" y="1801" text-anchor="middle" font-size="14.3" textLength="28.08" lengthAdjust="spacingAndGlyphs">Mon</text>
<text x="331" y="1801" text-anchor="middle" font-size="14.3" textLength="23.72" lengthAdjust="spacingAndGlyphs">Tue</text>
<text x="412.2" y="1801" text-anchor="middle" font-size="14.3" textLength="28.28" lengthAdjust="spacingAndGlyphs">Wed</text>
<text x="492.6" y="1801" text-anchor="middle" font-size="14.3" textLength="26.09" lengthAdjust="spacingAndGlyphs">Thu</text>
<text x="573.81" y="1801" text-anchor="middle" font-size="14.3" textLength="14.55" lengthAdjust="spacingAndGlyphs">Fri</text>
<text x="655.21" y="1801" text-anchor="middle" font-size="14.3" textLength="22.37" lengthAdjust="spacingAndGlyphs">Sat</text>
<text x="736.41" y="1801" text-anchor="middle" font-size="14.3" textLength="24.82" lengthAdjust="spacingAndGlyphs">Sun</text>
<text x="239.68" y="1785" text-anchor="end" font-size="14.3" textLength="24.25" lengthAdjust="spacingAndGlyphs">Min</text>
<text x="239.68" y="1665" text-anchor="end" font-size="14.3" textLength="50.12" lengthAdjust="spacingAndGlyphs">Median</text>
<text x="240.48" y="1592" text-anchor="end" font-size="14.3" textLength="38.73" lengthAdjust="spacingAndGlyphs">80Pct</text>
<text x="163.7" y="1648.44" text-anchor="middle" font-size="14.3" textLength="139.63" lengthAdjust="spacingAndGlyphs" transform="rotate(-90 163.7 1648.44)">RTT deciles at hop 5</text>
<text x="180.8" y="1648.24" text-anchor="middle" font-size="14.3" textLength="42.35" lengthAdjust="spacingAndGlyphs" transform="rotate(-90 180.8 1648.24)">(3 IPs)</text>
<text x="531.82" y="1819.6" text-anchor="middle" font-size="14.3" textLength="149.58" lengthAdjust="spacingAndGlyphs">hour of the day (UTC)</text>
<text x="872.26" y="1782.5" text-anchor="start" font-size="14.3" textLength="8.04" lengthAdjust="spacingAndGlyphs">8</text>
<text x="872.66" y="1744.6" text-anchor="start" font-size="14.3" textLength="16.07" lengthAdjust="spacingAndGlyphs">10</text>
<text x="872.66" y="1707.5" text-anchor="start" font-size="14.3" textLength="14.47" lengthAdjust="spacingAndGlyphs">12</text>
<text x="873.06" y="1669.5" text-anchor="start" font-size="14.3" textLength="15.27" lengthAdjust="spacingAndGlyphs">14</text>
<text x="872.66" y="1632.5" text-anchor="start" font-size="14.3" textLength="16.07" lengthAdjust="spacingAndGlyphs">16</text>
<text x="872.66" y="1594.5" text-anchor="start" font-size="14.3" textLength="16.07" lengthAdjust="spacingAndGlyphs">18</text>
<text x="872.26" y="1557.5" text-anchor="start" font-size="14.3" textLength="16.87" lengthAdjust="spacingAndGlyphs">20</text>
<text x="905.03" y="1648.44" text-anchor="middle" font-size="14.3" textLength="60.58" lengthAdjust="spacingAndGlyphs" transform="rotate(-90 905.03 1648.44)">RTT (ms)</text>
<text x="1095.25" y="1801" text-anchor="middle" font-size="14.3" textLength="28.08" lengthAdjust="spacingAndGlyphs">Mon</text>
<text x="1176.46" y="1801" text-anchor="middle" font-size="14.3" textLength="23.72" lengthAdjust="spacingAndGlyphs">Tue</text>
<text x="1257.66" y="1801" text-anchor="middle" font-size="14.3" textLength="28.28" lengthAdjust="spacingAndGlyphs">Wed</text>
<text x="1338.06" y="1801" text-anchor="middle" font-size="14.3" textLength="26.09" lengthAdjust="spacingAndGlyphs">Thu</text>
<text x="1419.26" y="1801" text-anchor="middle" font-size="14.3" textLength="14.55" lengthAdjust="spacingAndGlyphs">Fri</text>
<text x="1500.66" y="1801" text-anchor="middle" font-size="14.3" textLength="22.37" lengthAdjust="spacingAndGlyphs">Sat</text>
<text x="1581.86" y="1801" text-anchor="middle" font-size="14.3" textLength="24.82" lengthAdjust="spacingAndGlyphs">Sun</text>
<text x="1085.13" y="1785" text-anchor="end" font-size="14.3" textLength="24.25" lengthAdjust="spacingAndGlyphs">Min</text>
<text x="1085.13" y="1665" text-anchor="end" font-size="14.3" textLength="50.12" lengthAdjust="spacingAndGlyphs">Median</text>
<text x="1085.93" y="1592" text-anchor="end" font-size="14.3" textLength="38.73" lengthAdjust="spacingAndGlyphs">80Pct</text>
<text x="1009.15" y="1648.44" text-anchor="middle" font-size="14.3" textLength="139.63" lengthAdjust="spacingAndGlyphs" transform="rotate(-90 1009.15 1648.44)">RTT deciles at hop 5</text>
<text x="1026.25" y="1648.24" text-anchor="middle" font-size="14.3" textLength="42.35" lengthAdjust="spacingAndGlyphs" transform="rotate(-90 1026.25 1648.24)">(2 IPs)</text>
<text x="1377.27" y="1819.6" text-anchor="middle" font-size="14.3" textLength="149.58" lengthAdjust="spacingAndGlyphs">hour of the day (UTC)</text>
<text x="1717.71" y="1756.3" text-anchor="start" font-size="14.3" textLength="8.04" lengthAdjust="spacingAndGlyphs">8</text>
<text x="1718.11" y="1722.6" text-anchor="start" font-size="14.3" textLength="16.07" lengthAdjust="spacingAndGlyphs">10</text>
<text x="1718.11" y="1688.6" text-anchor="start" font-size="14.3" textLength="14.47" lengthAdjust="spacingAndGlyphs">12</text>
<text x="1718.51" y="1654.6" text-anchor="start" font-size="14.3" textLength="15.27" lengthAdjust="spacingAndGlyphs">14</text>
<text x="1718.11" y="1621.5" text-anchor="start" font-size="14.3" textLength="16.07" lengthAdjust="spacingAndGlyphs">16</text>
<text x="1718.11" y="1587.5" text-anchor="start" font-size="14.3" textLength="16.07" lengthAdjust="spacingAndGlyphs">18</text>
<text x="1717.71" y="1553.5" text-anchor="start" font-size="14.3" textLength="16.87" lengthAdjust="spacingAndGlyphs">20</text>
<text x="1750.49" y="1648.44" text-anchor="middle" font-size="14.3" textLength="60.58" lengthAdjust="spacingAndGlyphs" transform="rotate(-90 1750.49 1648.44)">RTT (ms)</text>
</g>
</svg></body></html>
